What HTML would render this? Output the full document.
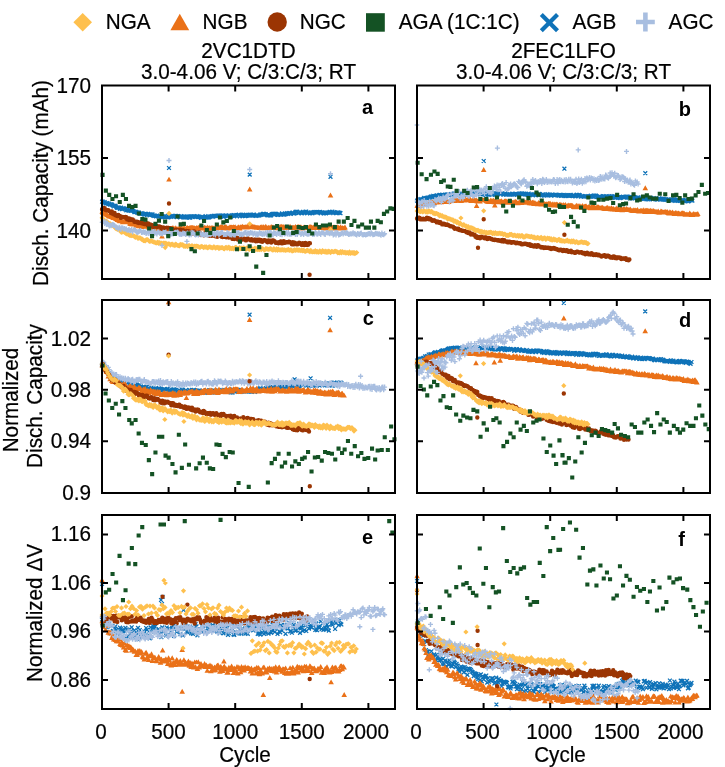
<!DOCTYPE html><html><head><meta charset="utf-8"><style>html,body{margin:0;padding:0;background:#fff;width:725px;height:767px;overflow:hidden;position:relative}</style></head><body><svg width="725" height="767" viewBox="0 0 725 767" style="position:absolute;left:0;top:0"><defs><clipPath id="c00"><rect x="99.5" y="83.0" width="298" height="198.5"/></clipPath><clipPath id="c01"><rect x="414.5" y="83.0" width="298" height="198.5"/></clipPath><clipPath id="c10"><rect x="99.5" y="297.5" width="298" height="198"/></clipPath><clipPath id="c11"><rect x="414.5" y="297.5" width="298" height="198"/></clipPath><clipPath id="c20"><rect x="99.5" y="512.5" width="298" height="199"/></clipPath><clipPath id="c21"><rect x="414.5" y="512.5" width="298" height="199"/></clipPath></defs><rect width="725" height="767" fill="#fff"/><g clip-path="url(#c00)"><path d="M100.1 199.8l3.8 3.8m0 -3.8l-3.8 3.8M101.0 199.8l3.8 3.8m0 -3.8l-3.8 3.8M101.9 201.0l3.8 3.8m0 -3.8l-3.8 3.8M102.8 200.2l3.8 3.8m0 -3.8l-3.8 3.8M103.7 201.4l3.8 3.8m0 -3.8l-3.8 3.8M104.6 201.4l3.8 3.8m0 -3.8l-3.8 3.8M105.5 201.1l3.8 3.8m0 -3.8l-3.8 3.8M106.4 202.2l3.8 3.8m0 -3.8l-3.8 3.8M107.3 201.7l3.8 3.8m0 -3.8l-3.8 3.8M108.2 202.7l3.8 3.8m0 -3.8l-3.8 3.8M109.1 202.4l3.8 3.8m0 -3.8l-3.8 3.8M110.0 202.7l3.8 3.8m0 -3.8l-3.8 3.8M110.9 203.6l3.8 3.8m0 -3.8l-3.8 3.8M111.8 204.6l3.8 3.8m0 -3.8l-3.8 3.8M112.7 203.7l3.8 3.8m0 -3.8l-3.8 3.8M113.6 204.1l3.8 3.8m0 -3.8l-3.8 3.8M114.5 205.2l3.8 3.8m0 -3.8l-3.8 3.8M115.4 206.1l3.8 3.8m0 -3.8l-3.8 3.8M116.3 205.7l3.8 3.8m0 -3.8l-3.8 3.8M117.2 205.7l3.8 3.8m0 -3.8l-3.8 3.8M118.1 207.0l3.8 3.8m0 -3.8l-3.8 3.8M119.0 205.6l3.8 3.8m0 -3.8l-3.8 3.8M119.9 207.3l3.8 3.8m0 -3.8l-3.8 3.8M120.8 206.5l3.8 3.8m0 -3.8l-3.8 3.8M121.7 206.5l3.8 3.8m0 -3.8l-3.8 3.8M122.6 206.7l3.8 3.8m0 -3.8l-3.8 3.8M123.5 207.2l3.8 3.8m0 -3.8l-3.8 3.8M124.4 208.4l3.8 3.8m0 -3.8l-3.8 3.8M125.3 207.5l3.8 3.8m0 -3.8l-3.8 3.8M126.2 208.4l3.8 3.8m0 -3.8l-3.8 3.8M127.1 208.7l3.8 3.8m0 -3.8l-3.8 3.8M128.0 208.5l3.8 3.8m0 -3.8l-3.8 3.8M128.9 209.0l3.8 3.8m0 -3.8l-3.8 3.8M129.8 208.4l3.8 3.8m0 -3.8l-3.8 3.8M130.7 208.6l3.8 3.8m0 -3.8l-3.8 3.8M131.6 209.1l3.8 3.8m0 -3.8l-3.8 3.8M132.5 210.2l3.8 3.8m0 -3.8l-3.8 3.8M133.4 209.9l3.8 3.8m0 -3.8l-3.8 3.8M134.3 210.0l3.8 3.8m0 -3.8l-3.8 3.8M135.2 210.7l3.8 3.8m0 -3.8l-3.8 3.8M136.1 210.7l3.8 3.8m0 -3.8l-3.8 3.8M137.0 210.6l3.8 3.8m0 -3.8l-3.8 3.8M137.9 211.7l3.8 3.8m0 -3.8l-3.8 3.8M138.8 211.8l3.8 3.8m0 -3.8l-3.8 3.8M139.7 211.2l3.8 3.8m0 -3.8l-3.8 3.8M140.6 211.9l3.8 3.8m0 -3.8l-3.8 3.8M141.5 211.9l3.8 3.8m0 -3.8l-3.8 3.8M142.4 212.7l3.8 3.8m0 -3.8l-3.8 3.8M143.3 212.6l3.8 3.8m0 -3.8l-3.8 3.8M144.2 211.9l3.8 3.8m0 -3.8l-3.8 3.8M145.1 213.3l3.8 3.8m0 -3.8l-3.8 3.8M146.0 211.9l3.8 3.8m0 -3.8l-3.8 3.8M146.9 212.6l3.8 3.8m0 -3.8l-3.8 3.8M147.8 213.3l3.8 3.8m0 -3.8l-3.8 3.8M148.7 212.4l3.8 3.8m0 -3.8l-3.8 3.8M149.6 213.1l3.8 3.8m0 -3.8l-3.8 3.8M150.5 212.4l3.8 3.8m0 -3.8l-3.8 3.8M151.4 213.7l3.8 3.8m0 -3.8l-3.8 3.8M152.3 214.0l3.8 3.8m0 -3.8l-3.8 3.8M153.2 213.8l3.8 3.8m0 -3.8l-3.8 3.8M154.1 214.5l3.8 3.8m0 -3.8l-3.8 3.8M155.0 213.6l3.8 3.8m0 -3.8l-3.8 3.8M155.9 214.4l3.8 3.8m0 -3.8l-3.8 3.8M156.8 214.4l3.8 3.8m0 -3.8l-3.8 3.8M157.7 214.5l3.8 3.8m0 -3.8l-3.8 3.8M158.6 214.4l3.8 3.8m0 -3.8l-3.8 3.8M159.5 215.2l3.8 3.8m0 -3.8l-3.8 3.8M160.4 215.5l3.8 3.8m0 -3.8l-3.8 3.8M161.3 214.7l3.8 3.8m0 -3.8l-3.8 3.8M162.2 215.0l3.8 3.8m0 -3.8l-3.8 3.8M163.1 213.9l3.8 3.8m0 -3.8l-3.8 3.8M164.0 215.1l3.8 3.8m0 -3.8l-3.8 3.8M164.9 215.0l3.8 3.8m0 -3.8l-3.8 3.8M165.8 215.6l3.8 3.8m0 -3.8l-3.8 3.8M166.7 215.3l3.8 3.8m0 -3.8l-3.8 3.8M167.6 214.4l3.8 3.8m0 -3.8l-3.8 3.8M168.5 214.6l3.8 3.8m0 -3.8l-3.8 3.8M169.4 215.1l3.8 3.8m0 -3.8l-3.8 3.8M170.3 213.9l3.8 3.8m0 -3.8l-3.8 3.8M171.2 214.7l3.8 3.8m0 -3.8l-3.8 3.8M172.1 214.2l3.8 3.8m0 -3.8l-3.8 3.8M173.0 214.1l3.8 3.8m0 -3.8l-3.8 3.8M173.9 214.0l3.8 3.8m0 -3.8l-3.8 3.8M174.8 215.3l3.8 3.8m0 -3.8l-3.8 3.8M175.7 214.2l3.8 3.8m0 -3.8l-3.8 3.8M176.6 214.4l3.8 3.8m0 -3.8l-3.8 3.8M177.5 214.7l3.8 3.8m0 -3.8l-3.8 3.8M178.4 215.5l3.8 3.8m0 -3.8l-3.8 3.8M179.3 214.1l3.8 3.8m0 -3.8l-3.8 3.8M180.2 214.8l3.8 3.8m0 -3.8l-3.8 3.8M181.1 215.0l3.8 3.8m0 -3.8l-3.8 3.8M182.0 215.6l3.8 3.8m0 -3.8l-3.8 3.8M182.9 215.5l3.8 3.8m0 -3.8l-3.8 3.8M183.8 215.6l3.8 3.8m0 -3.8l-3.8 3.8M184.7 214.5l3.8 3.8m0 -3.8l-3.8 3.8M185.6 214.8l3.8 3.8m0 -3.8l-3.8 3.8M186.5 214.7l3.8 3.8m0 -3.8l-3.8 3.8M187.4 215.7l3.8 3.8m0 -3.8l-3.8 3.8M188.3 215.8l3.8 3.8m0 -3.8l-3.8 3.8M189.2 214.4l3.8 3.8m0 -3.8l-3.8 3.8M190.1 214.4l3.8 3.8m0 -3.8l-3.8 3.8M191.0 214.5l3.8 3.8m0 -3.8l-3.8 3.8M191.9 214.5l3.8 3.8m0 -3.8l-3.8 3.8M192.8 215.0l3.8 3.8m0 -3.8l-3.8 3.8M193.7 215.2l3.8 3.8m0 -3.8l-3.8 3.8M194.6 214.6l3.8 3.8m0 -3.8l-3.8 3.8M195.5 214.1l3.8 3.8m0 -3.8l-3.8 3.8M196.4 214.9l3.8 3.8m0 -3.8l-3.8 3.8M197.3 214.8l3.8 3.8m0 -3.8l-3.8 3.8M198.2 215.2l3.8 3.8m0 -3.8l-3.8 3.8M199.1 215.9l3.8 3.8m0 -3.8l-3.8 3.8M200.0 215.4l3.8 3.8m0 -3.8l-3.8 3.8M200.9 215.1l3.8 3.8m0 -3.8l-3.8 3.8M201.8 215.3l3.8 3.8m0 -3.8l-3.8 3.8M202.7 215.4l3.8 3.8m0 -3.8l-3.8 3.8M203.6 214.2l3.8 3.8m0 -3.8l-3.8 3.8M204.5 215.7l3.8 3.8m0 -3.8l-3.8 3.8M205.4 215.5l3.8 3.8m0 -3.8l-3.8 3.8M206.3 215.6l3.8 3.8m0 -3.8l-3.8 3.8M207.2 215.4l3.8 3.8m0 -3.8l-3.8 3.8M208.1 214.6l3.8 3.8m0 -3.8l-3.8 3.8M209.0 214.6l3.8 3.8m0 -3.8l-3.8 3.8M209.9 214.1l3.8 3.8m0 -3.8l-3.8 3.8M210.8 215.0l3.8 3.8m0 -3.8l-3.8 3.8M211.7 213.9l3.8 3.8m0 -3.8l-3.8 3.8M212.6 213.9l3.8 3.8m0 -3.8l-3.8 3.8M213.5 214.1l3.8 3.8m0 -3.8l-3.8 3.8M214.4 214.0l3.8 3.8m0 -3.8l-3.8 3.8M215.3 214.3l3.8 3.8m0 -3.8l-3.8 3.8M216.2 213.7l3.8 3.8m0 -3.8l-3.8 3.8M217.1 213.6l3.8 3.8m0 -3.8l-3.8 3.8M218.0 213.8l3.8 3.8m0 -3.8l-3.8 3.8M218.9 213.7l3.8 3.8m0 -3.8l-3.8 3.8M219.8 214.1l3.8 3.8m0 -3.8l-3.8 3.8M220.7 213.5l3.8 3.8m0 -3.8l-3.8 3.8M221.6 215.0l3.8 3.8m0 -3.8l-3.8 3.8M222.5 214.5l3.8 3.8m0 -3.8l-3.8 3.8M223.4 213.6l3.8 3.8m0 -3.8l-3.8 3.8M224.3 213.8l3.8 3.8m0 -3.8l-3.8 3.8M225.2 213.9l3.8 3.8m0 -3.8l-3.8 3.8M226.1 213.9l3.8 3.8m0 -3.8l-3.8 3.8M227.0 213.4l3.8 3.8m0 -3.8l-3.8 3.8M227.9 214.7l3.8 3.8m0 -3.8l-3.8 3.8M228.8 214.9l3.8 3.8m0 -3.8l-3.8 3.8M229.7 213.9l3.8 3.8m0 -3.8l-3.8 3.8M230.6 213.9l3.8 3.8m0 -3.8l-3.8 3.8M231.5 213.2l3.8 3.8m0 -3.8l-3.8 3.8M232.4 213.2l3.8 3.8m0 -3.8l-3.8 3.8M233.3 213.6l3.8 3.8m0 -3.8l-3.8 3.8M234.2 213.4l3.8 3.8m0 -3.8l-3.8 3.8M235.1 214.4l3.8 3.8m0 -3.8l-3.8 3.8M236.0 213.1l3.8 3.8m0 -3.8l-3.8 3.8M236.9 212.8l3.8 3.8m0 -3.8l-3.8 3.8M237.8 214.5l3.8 3.8m0 -3.8l-3.8 3.8M238.7 213.7l3.8 3.8m0 -3.8l-3.8 3.8M239.6 213.0l3.8 3.8m0 -3.8l-3.8 3.8M240.5 213.6l3.8 3.8m0 -3.8l-3.8 3.8M241.4 212.7l3.8 3.8m0 -3.8l-3.8 3.8M242.3 213.6l3.8 3.8m0 -3.8l-3.8 3.8M243.2 214.3l3.8 3.8m0 -3.8l-3.8 3.8M244.1 214.1l3.8 3.8m0 -3.8l-3.8 3.8M245.0 213.8l3.8 3.8m0 -3.8l-3.8 3.8M245.9 213.0l3.8 3.8m0 -3.8l-3.8 3.8M246.8 213.1l3.8 3.8m0 -3.8l-3.8 3.8M247.7 212.7l3.8 3.8m0 -3.8l-3.8 3.8M248.6 213.8l3.8 3.8m0 -3.8l-3.8 3.8M249.5 213.3l3.8 3.8m0 -3.8l-3.8 3.8M250.4 213.7l3.8 3.8m0 -3.8l-3.8 3.8M251.3 212.9l3.8 3.8m0 -3.8l-3.8 3.8M252.2 212.7l3.8 3.8m0 -3.8l-3.8 3.8M253.1 213.7l3.8 3.8m0 -3.8l-3.8 3.8M254.0 214.0l3.8 3.8m0 -3.8l-3.8 3.8M254.9 213.7l3.8 3.8m0 -3.8l-3.8 3.8M255.8 213.6l3.8 3.8m0 -3.8l-3.8 3.8M256.7 213.6l3.8 3.8m0 -3.8l-3.8 3.8M257.6 213.4l3.8 3.8m0 -3.8l-3.8 3.8M258.5 212.5l3.8 3.8m0 -3.8l-3.8 3.8M259.4 213.0l3.8 3.8m0 -3.8l-3.8 3.8M260.3 212.6l3.8 3.8m0 -3.8l-3.8 3.8M261.2 212.0l3.8 3.8m0 -3.8l-3.8 3.8M262.1 212.0l3.8 3.8m0 -3.8l-3.8 3.8M263.0 212.4l3.8 3.8m0 -3.8l-3.8 3.8M263.9 212.3l3.8 3.8m0 -3.8l-3.8 3.8M264.8 213.1l3.8 3.8m0 -3.8l-3.8 3.8M265.7 213.5l3.8 3.8m0 -3.8l-3.8 3.8M266.6 212.6l3.8 3.8m0 -3.8l-3.8 3.8M267.5 213.4l3.8 3.8m0 -3.8l-3.8 3.8M268.4 213.5l3.8 3.8m0 -3.8l-3.8 3.8M269.3 213.4l3.8 3.8m0 -3.8l-3.8 3.8M270.2 212.3l3.8 3.8m0 -3.8l-3.8 3.8M271.1 212.0l3.8 3.8m0 -3.8l-3.8 3.8M272.0 212.0l3.8 3.8m0 -3.8l-3.8 3.8M272.9 211.9l3.8 3.8m0 -3.8l-3.8 3.8M273.8 211.9l3.8 3.8m0 -3.8l-3.8 3.8M274.7 212.6l3.8 3.8m0 -3.8l-3.8 3.8M275.6 213.1l3.8 3.8m0 -3.8l-3.8 3.8M276.5 213.0l3.8 3.8m0 -3.8l-3.8 3.8M277.4 212.3l3.8 3.8m0 -3.8l-3.8 3.8M278.3 212.6l3.8 3.8m0 -3.8l-3.8 3.8M279.2 212.8l3.8 3.8m0 -3.8l-3.8 3.8M280.1 211.5l3.8 3.8m0 -3.8l-3.8 3.8M281.0 212.5l3.8 3.8m0 -3.8l-3.8 3.8M281.9 212.8l3.8 3.8m0 -3.8l-3.8 3.8M282.8 212.5l3.8 3.8m0 -3.8l-3.8 3.8M283.7 212.3l3.8 3.8m0 -3.8l-3.8 3.8M284.6 211.7l3.8 3.8m0 -3.8l-3.8 3.8M285.5 211.1l3.8 3.8m0 -3.8l-3.8 3.8M286.4 212.0l3.8 3.8m0 -3.8l-3.8 3.8M287.3 211.1l3.8 3.8m0 -3.8l-3.8 3.8M288.2 211.8l3.8 3.8m0 -3.8l-3.8 3.8M289.1 212.0l3.8 3.8m0 -3.8l-3.8 3.8M290.0 210.9l3.8 3.8m0 -3.8l-3.8 3.8M290.9 210.8l3.8 3.8m0 -3.8l-3.8 3.8M291.8 211.7l3.8 3.8m0 -3.8l-3.8 3.8M292.7 211.2l3.8 3.8m0 -3.8l-3.8 3.8M293.6 210.0l3.8 3.8m0 -3.8l-3.8 3.8M294.5 209.9l3.8 3.8m0 -3.8l-3.8 3.8M295.4 209.9l3.8 3.8m0 -3.8l-3.8 3.8M296.3 211.2l3.8 3.8m0 -3.8l-3.8 3.8M297.2 211.1l3.8 3.8m0 -3.8l-3.8 3.8M298.1 209.9l3.8 3.8m0 -3.8l-3.8 3.8M299.0 211.1l3.8 3.8m0 -3.8l-3.8 3.8M299.9 211.4l3.8 3.8m0 -3.8l-3.8 3.8M300.8 210.8l3.8 3.8m0 -3.8l-3.8 3.8M301.7 210.3l3.8 3.8m0 -3.8l-3.8 3.8M302.6 210.6l3.8 3.8m0 -3.8l-3.8 3.8M303.5 209.9l3.8 3.8m0 -3.8l-3.8 3.8M304.4 209.7l3.8 3.8m0 -3.8l-3.8 3.8M305.3 211.4l3.8 3.8m0 -3.8l-3.8 3.8M306.2 210.8l3.8 3.8m0 -3.8l-3.8 3.8M307.1 210.6l3.8 3.8m0 -3.8l-3.8 3.8M308.0 211.4l3.8 3.8m0 -3.8l-3.8 3.8M308.9 210.5l3.8 3.8m0 -3.8l-3.8 3.8M309.8 211.3l3.8 3.8m0 -3.8l-3.8 3.8M310.7 211.2l3.8 3.8m0 -3.8l-3.8 3.8M311.6 210.1l3.8 3.8m0 -3.8l-3.8 3.8M312.5 210.2l3.8 3.8m0 -3.8l-3.8 3.8M313.4 210.3l3.8 3.8m0 -3.8l-3.8 3.8M314.3 210.2l3.8 3.8m0 -3.8l-3.8 3.8M315.2 210.8l3.8 3.8m0 -3.8l-3.8 3.8M316.1 210.2l3.8 3.8m0 -3.8l-3.8 3.8M317.0 210.5l3.8 3.8m0 -3.8l-3.8 3.8M317.9 210.0l3.8 3.8m0 -3.8l-3.8 3.8M318.8 211.4l3.8 3.8m0 -3.8l-3.8 3.8M319.7 210.4l3.8 3.8m0 -3.8l-3.8 3.8M320.6 210.6l3.8 3.8m0 -3.8l-3.8 3.8M321.5 210.8l3.8 3.8m0 -3.8l-3.8 3.8M322.4 211.4l3.8 3.8m0 -3.8l-3.8 3.8M323.3 210.6l3.8 3.8m0 -3.8l-3.8 3.8M324.2 211.5l3.8 3.8m0 -3.8l-3.8 3.8M325.1 210.7l3.8 3.8m0 -3.8l-3.8 3.8M326.0 210.8l3.8 3.8m0 -3.8l-3.8 3.8M326.9 210.8l3.8 3.8m0 -3.8l-3.8 3.8M327.8 209.9l3.8 3.8m0 -3.8l-3.8 3.8M328.7 210.6l3.8 3.8m0 -3.8l-3.8 3.8M329.6 210.2l3.8 3.8m0 -3.8l-3.8 3.8M330.5 209.8l3.8 3.8m0 -3.8l-3.8 3.8M331.4 211.3l3.8 3.8m0 -3.8l-3.8 3.8M332.3 210.2l3.8 3.8m0 -3.8l-3.8 3.8M333.2 210.7l3.8 3.8m0 -3.8l-3.8 3.8M334.1 211.2l3.8 3.8m0 -3.8l-3.8 3.8M335.0 210.9l3.8 3.8m0 -3.8l-3.8 3.8M335.9 210.5l3.8 3.8m0 -3.8l-3.8 3.8M336.8 210.8l3.8 3.8m0 -3.8l-3.8 3.8M337.7 210.9l3.8 3.8m0 -3.8l-3.8 3.8M338.6 211.3l3.8 3.8m0 -3.8l-3.8 3.8M167.1 166.1l3.8 3.8m0 -3.8l-3.8 3.8M247.8 172.7l3.8 3.8m0 -3.8l-3.8 3.8M328.6 174.9l3.8 3.8m0 -3.8l-3.8 3.8" fill="none" stroke="#0E72B8" stroke-width="1.3"/><path d="M102.0 209.0L104.8 213.9L99.2 213.9ZM102.9 210.2L105.7 215.1L100.1 215.1ZM103.8 210.0L106.6 214.9L101.0 214.9ZM104.7 210.5L107.5 215.4L101.9 215.4ZM105.6 211.8L108.4 216.6L102.8 216.6ZM106.5 211.7L109.3 216.6L103.7 216.6ZM107.4 212.2L110.2 217.1L104.6 217.1ZM108.3 213.0L111.1 217.8L105.5 217.8ZM109.2 213.6L112.0 218.5L106.4 218.5ZM110.1 213.2L112.9 218.1L107.3 218.1ZM111.0 213.9L113.8 218.8L108.2 218.8ZM111.9 214.1L114.7 219.0L109.1 219.0ZM112.8 214.5L115.6 219.4L110.0 219.4ZM113.7 215.2L116.5 220.1L110.9 220.1ZM114.6 215.2L117.4 220.1L111.8 220.1ZM115.5 215.8L118.3 220.6L112.7 220.6ZM116.4 216.1L119.2 220.9L113.6 220.9ZM117.3 217.3L120.1 222.1L114.5 222.1ZM118.2 217.2L121.0 222.1L115.4 222.1ZM119.1 218.0L121.9 222.8L116.3 222.8ZM120.0 218.5L122.8 223.3L117.2 223.3ZM120.9 217.6L123.7 222.5L118.1 222.5ZM121.8 218.4L124.6 223.2L119.0 223.2ZM122.7 219.3L125.5 224.2L119.9 224.2ZM123.6 219.3L126.4 224.2L120.8 224.2ZM124.5 218.3L127.3 223.2L121.7 223.2ZM125.4 218.5L128.2 223.4L122.6 223.4ZM126.3 219.3L129.1 224.2L123.5 224.2ZM127.2 218.9L130.0 223.7L124.4 223.7ZM128.1 219.4L130.9 224.3L125.3 224.3ZM129.0 219.3L131.8 224.2L126.2 224.2ZM129.9 220.6L132.7 225.5L127.1 225.5ZM130.8 221.0L133.6 225.9L128.0 225.9ZM131.7 221.5L134.5 226.3L128.9 226.3ZM132.6 220.4L135.4 225.2L129.8 225.2ZM133.5 221.6L136.3 226.5L130.7 226.5ZM134.4 221.7L137.2 226.6L131.6 226.6ZM135.3 221.0L138.1 225.9L132.5 225.9ZM136.2 222.6L139.0 227.4L133.4 227.4ZM137.1 223.0L139.9 227.8L134.3 227.8ZM138.0 221.8L140.8 226.7L135.2 226.7ZM138.9 223.4L141.7 228.2L136.1 228.2ZM139.8 222.6L142.6 227.5L137.0 227.5ZM140.7 223.0L143.5 227.9L137.9 227.9ZM141.6 224.1L144.4 229.0L138.8 229.0ZM142.5 224.0L145.3 228.8L139.7 228.8ZM143.4 222.9L146.2 227.8L140.6 227.8ZM144.3 223.5L147.1 228.4L141.5 228.4ZM145.2 223.8L148.0 228.7L142.4 228.7ZM146.1 223.6L148.9 228.5L143.3 228.5ZM147.0 223.5L149.8 228.4L144.2 228.4ZM147.9 223.9L150.7 228.7L145.1 228.7ZM148.8 224.7L151.6 229.6L146.0 229.6ZM149.7 223.6L152.5 228.4L146.9 228.4ZM150.6 224.7L153.4 229.5L147.8 229.5ZM151.5 224.6L154.3 229.5L148.7 229.5ZM152.4 224.0L155.2 228.8L149.6 228.8ZM153.3 224.7L156.1 229.5L150.5 229.5ZM154.2 225.3L157.0 230.2L151.4 230.2ZM155.1 225.3L157.9 230.1L152.3 230.1ZM156.0 224.6L158.8 229.5L153.2 229.5ZM156.9 226.4L159.7 231.3L154.1 231.3ZM157.8 226.2L160.6 231.0L155.0 231.0ZM158.7 226.7L161.5 231.5L155.9 231.5ZM159.6 225.2L162.4 230.1L156.8 230.1ZM160.5 225.7L163.3 230.5L157.7 230.5ZM161.4 225.4L164.2 230.2L158.6 230.2ZM162.3 226.8L165.1 231.7L159.5 231.7ZM163.2 225.9L166.0 230.7L160.4 230.7ZM164.1 225.6L166.9 230.4L161.3 230.4ZM165.0 226.1L167.8 230.9L162.2 230.9ZM165.9 226.9L168.7 231.8L163.1 231.8ZM166.8 226.8L169.6 231.6L164.0 231.6ZM167.7 225.7L170.5 230.6L164.9 230.6ZM168.6 225.5L171.4 230.4L165.8 230.4ZM169.5 226.9L172.3 231.7L166.7 231.7ZM170.4 226.2L173.2 231.1L167.6 231.1ZM171.3 226.4L174.1 231.3L168.5 231.3ZM172.2 225.3L175.0 230.2L169.4 230.2ZM173.1 225.2L175.9 230.1L170.3 230.1ZM174.0 226.3L176.8 231.2L171.2 231.2ZM174.9 225.9L177.7 230.7L172.1 230.7ZM175.8 225.2L178.6 230.1L173.0 230.1ZM176.7 226.7L179.5 231.6L173.9 231.6ZM177.6 226.2L180.4 231.0L174.8 231.0ZM178.5 226.4L181.3 231.3L175.7 231.3ZM179.4 225.1L182.2 230.0L176.6 230.0ZM180.3 226.5L183.1 231.4L177.5 231.4ZM181.2 225.1L184.0 229.9L178.4 229.9ZM182.1 226.5L184.9 231.3L179.3 231.3ZM183.0 225.7L185.8 230.6L180.2 230.6ZM183.9 225.5L186.7 230.3L181.1 230.3ZM184.8 225.8L187.6 230.7L182.0 230.7ZM185.7 226.5L188.5 231.4L182.9 231.4ZM186.6 225.3L189.4 230.1L183.8 230.1ZM187.5 225.0L190.3 229.9L184.7 229.9ZM188.4 225.7L191.2 230.6L185.6 230.6ZM189.3 225.2L192.1 230.0L186.5 230.0ZM190.2 224.9L193.0 229.8L187.4 229.8ZM191.1 225.0L193.9 229.8L188.3 229.8ZM192.0 224.8L194.8 229.6L189.2 229.6ZM192.9 225.0L195.7 229.9L190.1 229.9ZM193.8 225.2L196.6 230.1L191.0 230.1ZM194.7 225.2L197.5 230.0L191.9 230.0ZM195.6 226.0L198.4 230.8L192.8 230.8ZM196.5 225.1L199.3 230.0L193.7 230.0ZM197.4 225.4L200.2 230.3L194.6 230.3ZM198.3 224.8L201.1 229.7L195.5 229.7ZM199.2 225.1L202.0 230.0L196.4 230.0ZM200.1 224.5L202.9 229.4L197.3 229.4ZM201.0 224.9L203.8 229.8L198.2 229.8ZM201.9 224.5L204.7 229.3L199.1 229.3ZM202.8 225.7L205.6 230.6L200.0 230.6ZM203.7 225.4L206.5 230.2L200.9 230.2ZM204.6 224.7L207.4 229.6L201.8 229.6ZM205.5 225.2L208.3 230.1L202.7 230.1ZM206.4 226.0L209.2 230.9L203.6 230.9ZM207.3 224.5L210.1 229.4L204.5 229.4ZM208.2 225.8L211.0 230.7L205.4 230.7ZM209.1 225.1L211.9 229.9L206.3 229.9ZM210.0 225.2L212.8 230.0L207.2 230.0ZM210.9 225.8L213.7 230.6L208.1 230.6ZM211.8 225.0L214.6 229.8L209.0 229.8ZM212.7 225.2L215.5 230.0L209.9 230.0ZM213.6 225.5L216.4 230.3L210.8 230.3ZM214.5 226.0L217.3 230.8L211.7 230.8ZM215.4 224.8L218.2 229.7L212.6 229.7ZM216.3 225.7L219.1 230.5L213.5 230.5ZM217.2 225.4L220.0 230.3L214.4 230.3ZM218.1 225.3L220.9 230.2L215.3 230.2ZM219.0 224.9L221.8 229.7L216.2 229.7ZM219.9 224.7L222.7 229.6L217.1 229.6ZM220.8 224.2L223.6 229.1L218.0 229.1ZM221.7 224.3L224.5 229.2L218.9 229.2ZM222.6 224.2L225.4 229.1L219.8 229.1ZM223.5 225.4L226.3 230.2L220.7 230.2ZM224.4 224.5L227.2 229.4L221.6 229.4ZM225.3 224.3L228.1 229.2L222.5 229.2ZM226.2 224.2L229.0 229.0L223.4 229.0ZM227.1 225.5L229.9 230.4L224.3 230.4ZM228.0 225.5L230.8 230.4L225.2 230.4ZM228.9 225.2L231.7 230.0L226.1 230.0ZM229.8 224.5L232.6 229.3L227.0 229.3ZM230.7 224.4L233.5 229.2L227.9 229.2ZM231.6 224.4L234.4 229.3L228.8 229.3ZM232.5 224.7L235.3 229.6L229.7 229.6ZM233.4 224.2L236.2 229.0L230.6 229.0ZM234.3 224.7L237.1 229.5L231.5 229.5ZM235.2 224.3L238.0 229.2L232.4 229.2ZM236.1 225.6L238.9 230.4L233.3 230.4ZM237.0 225.6L239.8 230.4L234.2 230.4ZM237.9 224.8L240.7 229.7L235.1 229.7ZM238.8 224.2L241.6 229.1L236.0 229.1ZM239.7 225.5L242.5 230.4L236.9 230.4ZM240.6 224.3L243.4 229.2L237.8 229.2ZM241.5 224.4L244.3 229.2L238.7 229.2ZM242.4 223.7L245.2 228.6L239.6 228.6ZM243.3 224.4L246.1 229.3L240.5 229.3ZM244.2 224.6L247.0 229.4L241.4 229.4ZM245.1 224.6L247.9 229.4L242.3 229.4ZM246.0 224.0L248.8 228.9L243.2 228.9ZM246.9 224.6L249.7 229.4L244.1 229.4ZM247.8 223.6L250.6 228.5L245.0 228.5ZM248.7 224.1L251.5 229.0L245.9 229.0ZM249.6 223.8L252.4 228.6L246.8 228.6ZM250.5 224.3L253.3 229.2L247.7 229.2ZM251.4 223.7L254.2 228.5L248.6 228.5ZM252.3 223.7L255.1 228.5L249.5 228.5ZM253.2 224.2L256.0 229.0L250.4 229.0ZM254.1 224.0L256.9 228.9L251.3 228.9ZM255.0 224.7L257.8 229.5L252.2 229.5ZM255.9 224.6L258.7 229.4L253.1 229.4ZM256.8 225.0L259.6 229.8L254.0 229.8ZM257.7 224.8L260.5 229.7L254.9 229.7ZM258.6 224.9L261.4 229.8L255.8 229.8ZM259.5 225.2L262.3 230.1L256.7 230.1ZM260.4 224.4L263.2 229.2L257.6 229.2ZM261.3 224.2L264.1 229.1L258.5 229.1ZM262.2 225.4L265.0 230.3L259.4 230.3ZM263.1 223.9L265.9 228.8L260.3 228.8ZM264.0 225.0L266.8 229.8L261.2 229.8ZM264.9 224.8L267.7 229.7L262.1 229.7ZM265.8 223.8L268.6 228.6L263.0 228.6ZM266.7 225.2L269.5 230.1L263.9 230.1ZM267.6 225.3L270.4 230.2L264.8 230.2ZM268.5 224.8L271.3 229.7L265.7 229.7ZM269.4 225.0L272.2 229.9L266.6 229.9ZM270.3 225.2L273.1 230.0L267.5 230.0ZM271.2 224.0L274.0 228.8L268.4 228.8ZM272.1 224.7L274.9 229.5L269.3 229.5ZM273.0 224.6L275.8 229.5L270.2 229.5ZM273.9 225.2L276.7 230.1L271.1 230.1ZM274.8 225.2L277.6 230.0L272.0 230.0ZM275.7 225.2L278.5 230.1L272.9 230.1ZM276.6 224.8L279.4 229.7L273.8 229.7ZM277.5 225.4L280.3 230.2L274.7 230.2ZM278.4 225.0L281.2 229.8L275.6 229.8ZM279.3 225.0L282.1 229.9L276.5 229.9ZM280.2 224.2L283.0 229.0L277.4 229.0ZM281.1 223.8L283.9 228.7L278.3 228.7ZM282.0 224.0L284.8 228.9L279.2 228.9ZM282.9 224.4L285.7 229.3L280.1 229.3ZM283.8 224.0L286.6 228.8L281.0 228.8ZM284.7 225.3L287.5 230.1L281.9 230.1ZM285.6 224.8L288.4 229.7L282.8 229.7ZM286.5 224.9L289.3 229.8L283.7 229.8ZM287.4 224.9L290.2 229.8L284.6 229.8ZM288.3 225.0L291.1 229.9L285.5 229.9ZM289.2 224.7L292.0 229.5L286.4 229.5ZM290.1 223.8L292.9 228.7L287.3 228.7ZM291.0 225.3L293.8 230.1L288.2 230.1ZM291.9 225.2L294.7 230.0L289.1 230.0ZM292.8 224.7L295.6 229.6L290.0 229.6ZM293.7 224.8L296.5 229.7L290.9 229.7ZM294.6 225.0L297.4 229.9L291.8 229.9ZM295.5 224.0L298.3 228.8L292.7 228.8ZM296.4 225.2L299.2 230.0L293.6 230.0ZM297.3 224.3L300.1 229.2L294.5 229.2ZM298.2 224.0L301.0 228.8L295.4 228.8ZM299.1 224.3L301.9 229.2L296.3 229.2ZM300.0 225.2L302.8 230.0L297.2 230.0ZM300.9 224.2L303.7 229.1L298.1 229.1ZM301.8 225.2L304.6 230.1L299.0 230.1ZM302.7 225.6L305.5 230.5L299.9 230.5ZM303.6 224.8L306.4 229.6L300.8 229.6ZM304.5 224.6L307.3 229.4L301.7 229.4ZM305.4 224.8L308.2 229.6L302.6 229.6ZM306.3 225.1L309.1 230.0L303.5 230.0ZM307.2 225.3L310.0 230.1L304.4 230.1ZM308.1 225.0L310.9 229.9L305.3 229.9ZM309.0 225.1L311.8 229.9L306.2 229.9ZM309.9 224.1L312.7 228.9L307.1 228.9ZM310.8 224.2L313.6 229.0L308.0 229.0ZM311.7 224.4L314.5 229.2L308.9 229.2ZM312.6 225.3L315.4 230.1L309.8 230.1ZM313.5 224.5L316.3 229.3L310.7 229.3ZM314.4 225.0L317.2 229.8L311.6 229.8ZM315.3 224.0L318.1 228.8L312.5 228.8ZM316.2 224.1L319.0 228.9L313.4 228.9ZM317.1 224.4L319.9 229.3L314.3 229.3ZM318.0 225.2L320.8 230.0L315.2 230.0ZM318.9 225.2L321.7 230.1L316.1 230.1ZM319.8 225.2L322.6 230.0L317.0 230.0ZM320.7 224.5L323.5 229.4L317.9 229.4ZM321.6 224.9L324.4 229.8L318.8 229.8ZM322.5 224.8L325.3 229.7L319.7 229.7ZM323.4 224.8L326.2 229.7L320.6 229.7ZM324.3 224.2L327.1 229.1L321.5 229.1ZM325.2 225.6L328.0 230.5L322.4 230.5ZM326.1 224.4L328.9 229.2L323.3 229.2ZM327.0 225.8L329.8 230.6L324.2 230.6ZM327.9 225.7L330.7 230.6L325.1 230.6ZM328.8 224.0L331.6 228.9L326.0 228.9ZM329.7 224.8L332.5 229.7L326.9 229.7ZM330.6 225.5L333.4 230.4L327.8 230.4ZM331.5 225.8L334.3 230.6L328.7 230.6ZM332.4 224.8L335.2 229.7L329.6 229.7ZM333.3 224.5L336.1 229.4L330.5 229.4ZM334.2 224.4L337.0 229.3L331.4 229.3ZM335.1 225.7L337.9 230.6L332.3 230.6ZM336.0 224.4L338.8 229.3L333.2 229.3ZM336.9 225.1L339.7 230.0L334.1 230.0ZM337.8 224.3L340.6 229.2L335.0 229.2ZM338.7 225.0L341.5 229.9L335.9 229.9ZM339.6 225.8L342.4 230.6L336.8 230.6ZM340.5 224.3L343.3 229.2L337.7 229.2ZM341.4 225.6L344.2 230.4L338.6 230.4ZM342.3 225.0L345.1 229.9L339.5 229.9ZM343.2 225.7L346.0 230.5L340.4 230.5ZM344.1 225.4L346.9 230.2L341.3 230.2ZM345.0 224.5L347.8 229.4L342.2 229.4ZM169.0 176.7L171.8 181.6L166.2 181.6ZM249.7 186.5L252.5 191.4L246.9 191.4ZM330.5 192.5L333.3 197.4L327.7 197.4ZM162.0 233.5L164.8 238.4L159.2 238.4Z" fill="#EA7118"/><path d="M99.8 209.3a2.2 2.2 0 1 0 4.4 0a2.2 2.2 0 1 0 -4.4 0M100.7 208.7a2.2 2.2 0 1 0 4.4 0a2.2 2.2 0 1 0 -4.4 0M101.6 208.0a2.2 2.2 0 1 0 4.4 0a2.2 2.2 0 1 0 -4.4 0M102.5 208.3a2.2 2.2 0 1 0 4.4 0a2.2 2.2 0 1 0 -4.4 0M103.4 209.9a2.2 2.2 0 1 0 4.4 0a2.2 2.2 0 1 0 -4.4 0M104.3 210.2a2.2 2.2 0 1 0 4.4 0a2.2 2.2 0 1 0 -4.4 0M105.2 210.2a2.2 2.2 0 1 0 4.4 0a2.2 2.2 0 1 0 -4.4 0M106.1 210.2a2.2 2.2 0 1 0 4.4 0a2.2 2.2 0 1 0 -4.4 0M107.0 211.1a2.2 2.2 0 1 0 4.4 0a2.2 2.2 0 1 0 -4.4 0M107.9 211.5a2.2 2.2 0 1 0 4.4 0a2.2 2.2 0 1 0 -4.4 0M108.8 213.1a2.2 2.2 0 1 0 4.4 0a2.2 2.2 0 1 0 -4.4 0M109.7 211.5a2.2 2.2 0 1 0 4.4 0a2.2 2.2 0 1 0 -4.4 0M110.6 213.7a2.2 2.2 0 1 0 4.4 0a2.2 2.2 0 1 0 -4.4 0M111.5 214.3a2.2 2.2 0 1 0 4.4 0a2.2 2.2 0 1 0 -4.4 0M112.4 213.0a2.2 2.2 0 1 0 4.4 0a2.2 2.2 0 1 0 -4.4 0M113.3 215.3a2.2 2.2 0 1 0 4.4 0a2.2 2.2 0 1 0 -4.4 0M114.2 215.2a2.2 2.2 0 1 0 4.4 0a2.2 2.2 0 1 0 -4.4 0M115.1 216.1a2.2 2.2 0 1 0 4.4 0a2.2 2.2 0 1 0 -4.4 0M116.0 215.0a2.2 2.2 0 1 0 4.4 0a2.2 2.2 0 1 0 -4.4 0M116.9 215.6a2.2 2.2 0 1 0 4.4 0a2.2 2.2 0 1 0 -4.4 0M117.8 216.0a2.2 2.2 0 1 0 4.4 0a2.2 2.2 0 1 0 -4.4 0M118.7 217.9a2.2 2.2 0 1 0 4.4 0a2.2 2.2 0 1 0 -4.4 0M119.6 217.1a2.2 2.2 0 1 0 4.4 0a2.2 2.2 0 1 0 -4.4 0M120.5 216.9a2.2 2.2 0 1 0 4.4 0a2.2 2.2 0 1 0 -4.4 0M121.4 217.3a2.2 2.2 0 1 0 4.4 0a2.2 2.2 0 1 0 -4.4 0M122.3 217.2a2.2 2.2 0 1 0 4.4 0a2.2 2.2 0 1 0 -4.4 0M123.2 216.9a2.2 2.2 0 1 0 4.4 0a2.2 2.2 0 1 0 -4.4 0M124.1 217.3a2.2 2.2 0 1 0 4.4 0a2.2 2.2 0 1 0 -4.4 0M125.0 219.4a2.2 2.2 0 1 0 4.4 0a2.2 2.2 0 1 0 -4.4 0M125.9 218.3a2.2 2.2 0 1 0 4.4 0a2.2 2.2 0 1 0 -4.4 0M126.8 220.1a2.2 2.2 0 1 0 4.4 0a2.2 2.2 0 1 0 -4.4 0M127.7 218.8a2.2 2.2 0 1 0 4.4 0a2.2 2.2 0 1 0 -4.4 0M128.6 219.1a2.2 2.2 0 1 0 4.4 0a2.2 2.2 0 1 0 -4.4 0M129.5 219.9a2.2 2.2 0 1 0 4.4 0a2.2 2.2 0 1 0 -4.4 0M130.4 219.4a2.2 2.2 0 1 0 4.4 0a2.2 2.2 0 1 0 -4.4 0M131.3 220.1a2.2 2.2 0 1 0 4.4 0a2.2 2.2 0 1 0 -4.4 0M132.2 221.8a2.2 2.2 0 1 0 4.4 0a2.2 2.2 0 1 0 -4.4 0M133.1 221.9a2.2 2.2 0 1 0 4.4 0a2.2 2.2 0 1 0 -4.4 0M134.0 222.0a2.2 2.2 0 1 0 4.4 0a2.2 2.2 0 1 0 -4.4 0M134.9 221.8a2.2 2.2 0 1 0 4.4 0a2.2 2.2 0 1 0 -4.4 0M135.8 222.8a2.2 2.2 0 1 0 4.4 0a2.2 2.2 0 1 0 -4.4 0M136.7 223.1a2.2 2.2 0 1 0 4.4 0a2.2 2.2 0 1 0 -4.4 0M137.6 222.4a2.2 2.2 0 1 0 4.4 0a2.2 2.2 0 1 0 -4.4 0M138.5 223.1a2.2 2.2 0 1 0 4.4 0a2.2 2.2 0 1 0 -4.4 0M139.4 221.8a2.2 2.2 0 1 0 4.4 0a2.2 2.2 0 1 0 -4.4 0M140.3 223.6a2.2 2.2 0 1 0 4.4 0a2.2 2.2 0 1 0 -4.4 0M141.2 223.2a2.2 2.2 0 1 0 4.4 0a2.2 2.2 0 1 0 -4.4 0M142.1 224.1a2.2 2.2 0 1 0 4.4 0a2.2 2.2 0 1 0 -4.4 0M143.0 224.1a2.2 2.2 0 1 0 4.4 0a2.2 2.2 0 1 0 -4.4 0M143.9 223.5a2.2 2.2 0 1 0 4.4 0a2.2 2.2 0 1 0 -4.4 0M144.8 223.1a2.2 2.2 0 1 0 4.4 0a2.2 2.2 0 1 0 -4.4 0M145.7 225.5a2.2 2.2 0 1 0 4.4 0a2.2 2.2 0 1 0 -4.4 0M146.6 223.8a2.2 2.2 0 1 0 4.4 0a2.2 2.2 0 1 0 -4.4 0M147.5 224.8a2.2 2.2 0 1 0 4.4 0a2.2 2.2 0 1 0 -4.4 0M148.4 224.7a2.2 2.2 0 1 0 4.4 0a2.2 2.2 0 1 0 -4.4 0M149.3 224.9a2.2 2.2 0 1 0 4.4 0a2.2 2.2 0 1 0 -4.4 0M150.2 226.2a2.2 2.2 0 1 0 4.4 0a2.2 2.2 0 1 0 -4.4 0M151.1 226.9a2.2 2.2 0 1 0 4.4 0a2.2 2.2 0 1 0 -4.4 0M152.0 225.5a2.2 2.2 0 1 0 4.4 0a2.2 2.2 0 1 0 -4.4 0M152.9 226.6a2.2 2.2 0 1 0 4.4 0a2.2 2.2 0 1 0 -4.4 0M153.8 226.0a2.2 2.2 0 1 0 4.4 0a2.2 2.2 0 1 0 -4.4 0M154.7 226.9a2.2 2.2 0 1 0 4.4 0a2.2 2.2 0 1 0 -4.4 0M155.6 226.7a2.2 2.2 0 1 0 4.4 0a2.2 2.2 0 1 0 -4.4 0M156.5 226.4a2.2 2.2 0 1 0 4.4 0a2.2 2.2 0 1 0 -4.4 0M157.4 226.6a2.2 2.2 0 1 0 4.4 0a2.2 2.2 0 1 0 -4.4 0M158.3 226.9a2.2 2.2 0 1 0 4.4 0a2.2 2.2 0 1 0 -4.4 0M159.2 228.8a2.2 2.2 0 1 0 4.4 0a2.2 2.2 0 1 0 -4.4 0M160.1 228.0a2.2 2.2 0 1 0 4.4 0a2.2 2.2 0 1 0 -4.4 0M161.0 227.5a2.2 2.2 0 1 0 4.4 0a2.2 2.2 0 1 0 -4.4 0M161.9 229.3a2.2 2.2 0 1 0 4.4 0a2.2 2.2 0 1 0 -4.4 0M162.8 229.6a2.2 2.2 0 1 0 4.4 0a2.2 2.2 0 1 0 -4.4 0M163.7 228.4a2.2 2.2 0 1 0 4.4 0a2.2 2.2 0 1 0 -4.4 0M164.6 227.8a2.2 2.2 0 1 0 4.4 0a2.2 2.2 0 1 0 -4.4 0M165.5 228.1a2.2 2.2 0 1 0 4.4 0a2.2 2.2 0 1 0 -4.4 0M166.4 228.0a2.2 2.2 0 1 0 4.4 0a2.2 2.2 0 1 0 -4.4 0M167.3 228.7a2.2 2.2 0 1 0 4.4 0a2.2 2.2 0 1 0 -4.4 0M168.2 228.2a2.2 2.2 0 1 0 4.4 0a2.2 2.2 0 1 0 -4.4 0M169.1 228.7a2.2 2.2 0 1 0 4.4 0a2.2 2.2 0 1 0 -4.4 0M170.0 228.9a2.2 2.2 0 1 0 4.4 0a2.2 2.2 0 1 0 -4.4 0M170.9 229.8a2.2 2.2 0 1 0 4.4 0a2.2 2.2 0 1 0 -4.4 0M171.8 230.7a2.2 2.2 0 1 0 4.4 0a2.2 2.2 0 1 0 -4.4 0M172.7 230.5a2.2 2.2 0 1 0 4.4 0a2.2 2.2 0 1 0 -4.4 0M173.6 229.8a2.2 2.2 0 1 0 4.4 0a2.2 2.2 0 1 0 -4.4 0M174.5 229.9a2.2 2.2 0 1 0 4.4 0a2.2 2.2 0 1 0 -4.4 0M175.4 230.3a2.2 2.2 0 1 0 4.4 0a2.2 2.2 0 1 0 -4.4 0M176.3 230.1a2.2 2.2 0 1 0 4.4 0a2.2 2.2 0 1 0 -4.4 0M177.2 230.1a2.2 2.2 0 1 0 4.4 0a2.2 2.2 0 1 0 -4.4 0M178.1 229.6a2.2 2.2 0 1 0 4.4 0a2.2 2.2 0 1 0 -4.4 0M179.0 230.2a2.2 2.2 0 1 0 4.4 0a2.2 2.2 0 1 0 -4.4 0M179.9 232.0a2.2 2.2 0 1 0 4.4 0a2.2 2.2 0 1 0 -4.4 0M180.8 230.1a2.2 2.2 0 1 0 4.4 0a2.2 2.2 0 1 0 -4.4 0M181.7 231.2a2.2 2.2 0 1 0 4.4 0a2.2 2.2 0 1 0 -4.4 0M182.6 231.6a2.2 2.2 0 1 0 4.4 0a2.2 2.2 0 1 0 -4.4 0M183.5 232.3a2.2 2.2 0 1 0 4.4 0a2.2 2.2 0 1 0 -4.4 0M184.4 230.9a2.2 2.2 0 1 0 4.4 0a2.2 2.2 0 1 0 -4.4 0M185.3 231.1a2.2 2.2 0 1 0 4.4 0a2.2 2.2 0 1 0 -4.4 0M186.2 231.2a2.2 2.2 0 1 0 4.4 0a2.2 2.2 0 1 0 -4.4 0M187.1 231.7a2.2 2.2 0 1 0 4.4 0a2.2 2.2 0 1 0 -4.4 0M188.0 231.9a2.2 2.2 0 1 0 4.4 0a2.2 2.2 0 1 0 -4.4 0M188.9 233.3a2.2 2.2 0 1 0 4.4 0a2.2 2.2 0 1 0 -4.4 0M189.8 233.2a2.2 2.2 0 1 0 4.4 0a2.2 2.2 0 1 0 -4.4 0M190.7 233.4a2.2 2.2 0 1 0 4.4 0a2.2 2.2 0 1 0 -4.4 0M191.6 231.4a2.2 2.2 0 1 0 4.4 0a2.2 2.2 0 1 0 -4.4 0M192.5 231.6a2.2 2.2 0 1 0 4.4 0a2.2 2.2 0 1 0 -4.4 0M193.4 233.4a2.2 2.2 0 1 0 4.4 0a2.2 2.2 0 1 0 -4.4 0M194.3 233.9a2.2 2.2 0 1 0 4.4 0a2.2 2.2 0 1 0 -4.4 0M195.2 233.1a2.2 2.2 0 1 0 4.4 0a2.2 2.2 0 1 0 -4.4 0M196.1 233.5a2.2 2.2 0 1 0 4.4 0a2.2 2.2 0 1 0 -4.4 0M197.0 232.2a2.2 2.2 0 1 0 4.4 0a2.2 2.2 0 1 0 -4.4 0M197.9 233.2a2.2 2.2 0 1 0 4.4 0a2.2 2.2 0 1 0 -4.4 0M198.8 234.7a2.2 2.2 0 1 0 4.4 0a2.2 2.2 0 1 0 -4.4 0M199.7 234.6a2.2 2.2 0 1 0 4.4 0a2.2 2.2 0 1 0 -4.4 0M200.6 234.8a2.2 2.2 0 1 0 4.4 0a2.2 2.2 0 1 0 -4.4 0M201.5 235.2a2.2 2.2 0 1 0 4.4 0a2.2 2.2 0 1 0 -4.4 0M202.4 233.5a2.2 2.2 0 1 0 4.4 0a2.2 2.2 0 1 0 -4.4 0M203.3 233.3a2.2 2.2 0 1 0 4.4 0a2.2 2.2 0 1 0 -4.4 0M204.2 233.6a2.2 2.2 0 1 0 4.4 0a2.2 2.2 0 1 0 -4.4 0M205.1 234.6a2.2 2.2 0 1 0 4.4 0a2.2 2.2 0 1 0 -4.4 0M206.0 235.1a2.2 2.2 0 1 0 4.4 0a2.2 2.2 0 1 0 -4.4 0M206.9 235.8a2.2 2.2 0 1 0 4.4 0a2.2 2.2 0 1 0 -4.4 0M207.8 235.4a2.2 2.2 0 1 0 4.4 0a2.2 2.2 0 1 0 -4.4 0M208.7 235.3a2.2 2.2 0 1 0 4.4 0a2.2 2.2 0 1 0 -4.4 0M209.6 235.7a2.2 2.2 0 1 0 4.4 0a2.2 2.2 0 1 0 -4.4 0M210.5 235.1a2.2 2.2 0 1 0 4.4 0a2.2 2.2 0 1 0 -4.4 0M211.4 235.5a2.2 2.2 0 1 0 4.4 0a2.2 2.2 0 1 0 -4.4 0M212.3 234.3a2.2 2.2 0 1 0 4.4 0a2.2 2.2 0 1 0 -4.4 0M213.2 236.2a2.2 2.2 0 1 0 4.4 0a2.2 2.2 0 1 0 -4.4 0M214.1 235.0a2.2 2.2 0 1 0 4.4 0a2.2 2.2 0 1 0 -4.4 0M215.0 236.8a2.2 2.2 0 1 0 4.4 0a2.2 2.2 0 1 0 -4.4 0M215.9 236.3a2.2 2.2 0 1 0 4.4 0a2.2 2.2 0 1 0 -4.4 0M216.8 235.6a2.2 2.2 0 1 0 4.4 0a2.2 2.2 0 1 0 -4.4 0M217.7 235.3a2.2 2.2 0 1 0 4.4 0a2.2 2.2 0 1 0 -4.4 0M218.6 235.7a2.2 2.2 0 1 0 4.4 0a2.2 2.2 0 1 0 -4.4 0M219.5 236.7a2.2 2.2 0 1 0 4.4 0a2.2 2.2 0 1 0 -4.4 0M220.4 237.0a2.2 2.2 0 1 0 4.4 0a2.2 2.2 0 1 0 -4.4 0M221.3 235.7a2.2 2.2 0 1 0 4.4 0a2.2 2.2 0 1 0 -4.4 0M222.2 235.7a2.2 2.2 0 1 0 4.4 0a2.2 2.2 0 1 0 -4.4 0M223.1 236.9a2.2 2.2 0 1 0 4.4 0a2.2 2.2 0 1 0 -4.4 0M224.0 237.2a2.2 2.2 0 1 0 4.4 0a2.2 2.2 0 1 0 -4.4 0M224.9 236.8a2.2 2.2 0 1 0 4.4 0a2.2 2.2 0 1 0 -4.4 0M225.8 236.6a2.2 2.2 0 1 0 4.4 0a2.2 2.2 0 1 0 -4.4 0M226.7 237.6a2.2 2.2 0 1 0 4.4 0a2.2 2.2 0 1 0 -4.4 0M227.6 236.3a2.2 2.2 0 1 0 4.4 0a2.2 2.2 0 1 0 -4.4 0M228.5 237.1a2.2 2.2 0 1 0 4.4 0a2.2 2.2 0 1 0 -4.4 0M229.4 237.6a2.2 2.2 0 1 0 4.4 0a2.2 2.2 0 1 0 -4.4 0M230.3 238.9a2.2 2.2 0 1 0 4.4 0a2.2 2.2 0 1 0 -4.4 0M231.2 238.3a2.2 2.2 0 1 0 4.4 0a2.2 2.2 0 1 0 -4.4 0M232.1 239.0a2.2 2.2 0 1 0 4.4 0a2.2 2.2 0 1 0 -4.4 0M233.0 238.1a2.2 2.2 0 1 0 4.4 0a2.2 2.2 0 1 0 -4.4 0M233.9 237.7a2.2 2.2 0 1 0 4.4 0a2.2 2.2 0 1 0 -4.4 0M234.8 237.8a2.2 2.2 0 1 0 4.4 0a2.2 2.2 0 1 0 -4.4 0M235.7 239.6a2.2 2.2 0 1 0 4.4 0a2.2 2.2 0 1 0 -4.4 0M236.6 239.1a2.2 2.2 0 1 0 4.4 0a2.2 2.2 0 1 0 -4.4 0M237.5 238.3a2.2 2.2 0 1 0 4.4 0a2.2 2.2 0 1 0 -4.4 0M238.4 237.7a2.2 2.2 0 1 0 4.4 0a2.2 2.2 0 1 0 -4.4 0M239.3 239.0a2.2 2.2 0 1 0 4.4 0a2.2 2.2 0 1 0 -4.4 0M240.2 239.5a2.2 2.2 0 1 0 4.4 0a2.2 2.2 0 1 0 -4.4 0M241.1 239.0a2.2 2.2 0 1 0 4.4 0a2.2 2.2 0 1 0 -4.4 0M242.0 238.6a2.2 2.2 0 1 0 4.4 0a2.2 2.2 0 1 0 -4.4 0M242.9 239.7a2.2 2.2 0 1 0 4.4 0a2.2 2.2 0 1 0 -4.4 0M243.8 240.4a2.2 2.2 0 1 0 4.4 0a2.2 2.2 0 1 0 -4.4 0M244.7 238.8a2.2 2.2 0 1 0 4.4 0a2.2 2.2 0 1 0 -4.4 0M245.6 238.4a2.2 2.2 0 1 0 4.4 0a2.2 2.2 0 1 0 -4.4 0M246.5 239.2a2.2 2.2 0 1 0 4.4 0a2.2 2.2 0 1 0 -4.4 0M247.4 239.5a2.2 2.2 0 1 0 4.4 0a2.2 2.2 0 1 0 -4.4 0M248.3 240.2a2.2 2.2 0 1 0 4.4 0a2.2 2.2 0 1 0 -4.4 0M249.2 239.1a2.2 2.2 0 1 0 4.4 0a2.2 2.2 0 1 0 -4.4 0M250.1 240.6a2.2 2.2 0 1 0 4.4 0a2.2 2.2 0 1 0 -4.4 0M251.0 240.5a2.2 2.2 0 1 0 4.4 0a2.2 2.2 0 1 0 -4.4 0M251.9 240.1a2.2 2.2 0 1 0 4.4 0a2.2 2.2 0 1 0 -4.4 0M252.8 239.4a2.2 2.2 0 1 0 4.4 0a2.2 2.2 0 1 0 -4.4 0M253.7 241.3a2.2 2.2 0 1 0 4.4 0a2.2 2.2 0 1 0 -4.4 0M254.6 239.8a2.2 2.2 0 1 0 4.4 0a2.2 2.2 0 1 0 -4.4 0M255.5 241.1a2.2 2.2 0 1 0 4.4 0a2.2 2.2 0 1 0 -4.4 0M256.4 239.8a2.2 2.2 0 1 0 4.4 0a2.2 2.2 0 1 0 -4.4 0M257.3 239.8a2.2 2.2 0 1 0 4.4 0a2.2 2.2 0 1 0 -4.4 0M258.2 241.2a2.2 2.2 0 1 0 4.4 0a2.2 2.2 0 1 0 -4.4 0M259.1 240.1a2.2 2.2 0 1 0 4.4 0a2.2 2.2 0 1 0 -4.4 0M260.0 241.8a2.2 2.2 0 1 0 4.4 0a2.2 2.2 0 1 0 -4.4 0M260.9 240.8a2.2 2.2 0 1 0 4.4 0a2.2 2.2 0 1 0 -4.4 0M261.8 240.1a2.2 2.2 0 1 0 4.4 0a2.2 2.2 0 1 0 -4.4 0M262.7 240.3a2.2 2.2 0 1 0 4.4 0a2.2 2.2 0 1 0 -4.4 0M263.6 240.8a2.2 2.2 0 1 0 4.4 0a2.2 2.2 0 1 0 -4.4 0M264.5 241.5a2.2 2.2 0 1 0 4.4 0a2.2 2.2 0 1 0 -4.4 0M265.4 242.2a2.2 2.2 0 1 0 4.4 0a2.2 2.2 0 1 0 -4.4 0M266.3 240.4a2.2 2.2 0 1 0 4.4 0a2.2 2.2 0 1 0 -4.4 0M267.2 241.0a2.2 2.2 0 1 0 4.4 0a2.2 2.2 0 1 0 -4.4 0M268.1 240.7a2.2 2.2 0 1 0 4.4 0a2.2 2.2 0 1 0 -4.4 0M269.0 242.6a2.2 2.2 0 1 0 4.4 0a2.2 2.2 0 1 0 -4.4 0M269.9 240.7a2.2 2.2 0 1 0 4.4 0a2.2 2.2 0 1 0 -4.4 0M270.8 240.5a2.2 2.2 0 1 0 4.4 0a2.2 2.2 0 1 0 -4.4 0M271.7 240.6a2.2 2.2 0 1 0 4.4 0a2.2 2.2 0 1 0 -4.4 0M272.6 241.5a2.2 2.2 0 1 0 4.4 0a2.2 2.2 0 1 0 -4.4 0M273.5 242.8a2.2 2.2 0 1 0 4.4 0a2.2 2.2 0 1 0 -4.4 0M274.4 242.8a2.2 2.2 0 1 0 4.4 0a2.2 2.2 0 1 0 -4.4 0M275.3 242.5a2.2 2.2 0 1 0 4.4 0a2.2 2.2 0 1 0 -4.4 0M276.2 243.2a2.2 2.2 0 1 0 4.4 0a2.2 2.2 0 1 0 -4.4 0M277.1 243.1a2.2 2.2 0 1 0 4.4 0a2.2 2.2 0 1 0 -4.4 0M278.0 241.8a2.2 2.2 0 1 0 4.4 0a2.2 2.2 0 1 0 -4.4 0M278.9 241.5a2.2 2.2 0 1 0 4.4 0a2.2 2.2 0 1 0 -4.4 0M279.8 243.4a2.2 2.2 0 1 0 4.4 0a2.2 2.2 0 1 0 -4.4 0M280.7 243.0a2.2 2.2 0 1 0 4.4 0a2.2 2.2 0 1 0 -4.4 0M281.6 241.3a2.2 2.2 0 1 0 4.4 0a2.2 2.2 0 1 0 -4.4 0M282.5 242.9a2.2 2.2 0 1 0 4.4 0a2.2 2.2 0 1 0 -4.4 0M283.4 242.3a2.2 2.2 0 1 0 4.4 0a2.2 2.2 0 1 0 -4.4 0M284.3 242.4a2.2 2.2 0 1 0 4.4 0a2.2 2.2 0 1 0 -4.4 0M285.2 242.4a2.2 2.2 0 1 0 4.4 0a2.2 2.2 0 1 0 -4.4 0M286.1 242.0a2.2 2.2 0 1 0 4.4 0a2.2 2.2 0 1 0 -4.4 0M287.0 241.7a2.2 2.2 0 1 0 4.4 0a2.2 2.2 0 1 0 -4.4 0M287.9 242.5a2.2 2.2 0 1 0 4.4 0a2.2 2.2 0 1 0 -4.4 0M288.8 242.7a2.2 2.2 0 1 0 4.4 0a2.2 2.2 0 1 0 -4.4 0M289.7 244.2a2.2 2.2 0 1 0 4.4 0a2.2 2.2 0 1 0 -4.4 0M290.6 242.3a2.2 2.2 0 1 0 4.4 0a2.2 2.2 0 1 0 -4.4 0M291.5 244.4a2.2 2.2 0 1 0 4.4 0a2.2 2.2 0 1 0 -4.4 0M292.4 242.7a2.2 2.2 0 1 0 4.4 0a2.2 2.2 0 1 0 -4.4 0M293.3 243.1a2.2 2.2 0 1 0 4.4 0a2.2 2.2 0 1 0 -4.4 0M294.2 244.3a2.2 2.2 0 1 0 4.4 0a2.2 2.2 0 1 0 -4.4 0M295.1 244.4a2.2 2.2 0 1 0 4.4 0a2.2 2.2 0 1 0 -4.4 0M296.0 243.5a2.2 2.2 0 1 0 4.4 0a2.2 2.2 0 1 0 -4.4 0M296.9 242.6a2.2 2.2 0 1 0 4.4 0a2.2 2.2 0 1 0 -4.4 0M297.8 243.7a2.2 2.2 0 1 0 4.4 0a2.2 2.2 0 1 0 -4.4 0M298.7 243.5a2.2 2.2 0 1 0 4.4 0a2.2 2.2 0 1 0 -4.4 0M299.6 244.9a2.2 2.2 0 1 0 4.4 0a2.2 2.2 0 1 0 -4.4 0M300.5 243.2a2.2 2.2 0 1 0 4.4 0a2.2 2.2 0 1 0 -4.4 0M301.4 243.7a2.2 2.2 0 1 0 4.4 0a2.2 2.2 0 1 0 -4.4 0M302.3 245.0a2.2 2.2 0 1 0 4.4 0a2.2 2.2 0 1 0 -4.4 0M303.2 242.9a2.2 2.2 0 1 0 4.4 0a2.2 2.2 0 1 0 -4.4 0M304.1 243.9a2.2 2.2 0 1 0 4.4 0a2.2 2.2 0 1 0 -4.4 0M305.0 244.9a2.2 2.2 0 1 0 4.4 0a2.2 2.2 0 1 0 -4.4 0M305.9 244.8a2.2 2.2 0 1 0 4.4 0a2.2 2.2 0 1 0 -4.4 0M306.8 243.1a2.2 2.2 0 1 0 4.4 0a2.2 2.2 0 1 0 -4.4 0M307.7 243.2a2.2 2.2 0 1 0 4.4 0a2.2 2.2 0 1 0 -4.4 0M166.8 203.5a2.2 2.2 0 1 0 4.4 0a2.2 2.2 0 1 0 -4.4 0M307.4 274.7a2.2 2.2 0 1 0 4.4 0a2.2 2.2 0 1 0 -4.4 0" fill="#9B3503"/><path d="M102.0 215.2L104.6 217.8L102.0 220.4L99.4 217.8ZM102.9 217.4L105.5 220.0L102.9 222.6L100.3 220.0ZM103.8 216.8L106.4 219.4L103.8 222.0L101.2 219.4ZM104.7 218.2L107.3 220.8L104.7 223.4L102.1 220.8ZM105.6 219.1L108.2 221.7L105.6 224.3L103.0 221.7ZM106.5 218.7L109.1 221.3L106.5 223.9L103.9 221.3ZM107.4 219.2L110.0 221.8L107.4 224.4L104.8 221.8ZM108.3 221.0L110.9 223.6L108.3 226.2L105.7 223.6ZM109.2 221.0L111.8 223.6L109.2 226.2L106.6 223.6ZM110.1 220.9L112.7 223.5L110.1 226.1L107.5 223.5ZM111.0 222.4L113.6 225.0L111.0 227.6L108.4 225.0ZM111.9 222.2L114.5 224.8L111.9 227.4L109.3 224.8ZM112.8 222.8L115.4 225.4L112.8 228.0L110.2 225.4ZM113.7 222.9L116.3 225.5L113.7 228.1L111.1 225.5ZM114.6 224.8L117.2 227.4L114.6 230.0L112.0 227.4ZM115.5 225.7L118.1 228.3L115.5 230.9L112.9 228.3ZM116.4 225.8L119.0 228.4L116.4 231.0L113.8 228.4ZM117.3 226.9L119.9 229.5L117.3 232.1L114.7 229.5ZM118.2 225.9L120.8 228.5L118.2 231.1L115.6 228.5ZM119.1 226.9L121.7 229.5L119.1 232.1L116.5 229.5ZM120.0 227.9L122.6 230.5L120.0 233.1L117.4 230.5ZM120.9 229.3L123.5 231.9L120.9 234.5L118.3 231.9ZM121.8 229.7L124.4 232.3L121.8 234.9L119.2 232.3ZM122.7 229.0L125.3 231.6L122.7 234.2L120.1 231.6ZM123.6 229.1L126.2 231.7L123.6 234.3L121.0 231.7ZM124.5 229.8L127.1 232.4L124.5 235.0L121.9 232.4ZM125.4 230.3L128.0 232.9L125.4 235.5L122.8 232.9ZM126.3 231.4L128.9 234.0L126.3 236.6L123.7 234.0ZM127.2 230.4L129.8 233.0L127.2 235.6L124.6 233.0ZM128.1 231.9L130.7 234.5L128.1 237.1L125.5 234.5ZM129.0 232.2L131.6 234.8L129.0 237.4L126.4 234.8ZM129.9 232.7L132.5 235.3L129.9 237.9L127.3 235.3ZM130.8 232.9L133.4 235.5L130.8 238.1L128.2 235.5ZM131.7 233.0L134.3 235.6L131.7 238.2L129.1 235.6ZM132.6 232.9L135.2 235.5L132.6 238.1L130.0 235.5ZM133.5 233.2L136.1 235.8L133.5 238.4L130.9 235.8ZM134.4 233.6L137.0 236.2L134.4 238.8L131.8 236.2ZM135.3 234.8L137.9 237.4L135.3 240.0L132.7 237.4ZM136.2 233.9L138.8 236.5L136.2 239.1L133.6 236.5ZM137.1 234.4L139.7 237.0L137.1 239.6L134.5 237.0ZM138.0 235.8L140.6 238.4L138.0 241.0L135.4 238.4ZM138.9 235.2L141.5 237.8L138.9 240.4L136.3 237.8ZM139.8 235.3L142.4 237.9L139.8 240.5L137.2 237.9ZM140.7 235.6L143.3 238.2L140.7 240.8L138.1 238.2ZM141.6 236.8L144.2 239.4L141.6 242.0L139.0 239.4ZM142.5 236.6L145.1 239.2L142.5 241.8L139.9 239.2ZM143.4 238.0L146.0 240.6L143.4 243.2L140.8 240.6ZM144.3 238.0L146.9 240.6L144.3 243.2L141.7 240.6ZM145.2 238.4L147.8 241.0L145.2 243.6L142.6 241.0ZM146.1 237.2L148.7 239.8L146.1 242.4L143.5 239.8ZM147.0 237.1L149.6 239.7L147.0 242.3L144.4 239.7ZM147.9 237.3L150.5 239.9L147.9 242.5L145.3 239.9ZM148.8 238.2L151.4 240.8L148.8 243.4L146.2 240.8ZM149.7 238.8L152.3 241.4L149.7 244.0L147.1 241.4ZM150.6 238.5L153.2 241.1L150.6 243.7L148.0 241.1ZM151.5 238.3L154.1 240.9L151.5 243.5L148.9 240.9ZM152.4 238.8L155.0 241.4L152.4 244.0L149.8 241.4ZM153.3 239.3L155.9 241.9L153.3 244.5L150.7 241.9ZM154.2 239.6L156.8 242.2L154.2 244.8L151.6 242.2ZM155.1 239.9L157.7 242.5L155.1 245.1L152.5 242.5ZM156.0 240.3L158.6 242.9L156.0 245.5L153.4 242.9ZM156.9 240.2L159.5 242.8L156.9 245.4L154.3 242.8ZM157.8 239.4L160.4 242.0L157.8 244.6L155.2 242.0ZM158.7 240.8L161.3 243.4L158.7 246.0L156.1 243.4ZM159.6 240.0L162.2 242.6L159.6 245.2L157.0 242.6ZM160.5 240.7L163.1 243.3L160.5 245.9L157.9 243.3ZM161.4 240.5L164.0 243.1L161.4 245.7L158.8 243.1ZM162.3 241.4L164.9 244.0L162.3 246.6L159.7 244.0ZM163.2 240.5L165.8 243.1L163.2 245.7L160.6 243.1ZM164.1 240.6L166.7 243.2L164.1 245.8L161.5 243.2ZM165.0 240.7L167.6 243.3L165.0 245.9L162.4 243.3ZM165.9 240.6L168.5 243.2L165.9 245.8L163.3 243.2ZM166.8 242.0L169.4 244.6L166.8 247.2L164.2 244.6ZM167.7 241.6L170.3 244.2L167.7 246.8L165.1 244.2ZM168.6 241.2L171.2 243.8L168.6 246.4L166.0 243.8ZM169.5 241.4L172.1 244.0L169.5 246.6L166.9 244.0ZM170.4 242.6L173.0 245.2L170.4 247.8L167.8 245.2ZM171.3 241.8L173.9 244.4L171.3 247.0L168.7 244.4ZM172.2 241.4L174.8 244.0L172.2 246.6L169.6 244.0ZM173.1 242.5L175.7 245.1L173.1 247.7L170.5 245.1ZM174.0 242.3L176.6 244.9L174.0 247.5L171.4 244.9ZM174.9 243.0L177.5 245.6L174.9 248.2L172.3 245.6ZM175.8 241.5L178.4 244.1L175.8 246.7L173.2 244.1ZM176.7 242.2L179.3 244.8L176.7 247.4L174.1 244.8ZM177.6 242.9L180.2 245.5L177.6 248.1L175.0 245.5ZM178.5 243.1L181.1 245.7L178.5 248.3L175.9 245.7ZM179.4 243.3L182.0 245.9L179.4 248.5L176.8 245.9ZM180.3 241.8L182.9 244.4L180.3 247.0L177.7 244.4ZM181.2 242.3L183.8 244.9L181.2 247.5L178.6 244.9ZM182.1 242.1L184.7 244.7L182.1 247.3L179.5 244.7ZM183.0 242.3L185.6 244.9L183.0 247.5L180.4 244.9ZM183.9 243.8L186.5 246.4L183.9 249.0L181.3 246.4ZM184.8 243.2L187.4 245.8L184.8 248.4L182.2 245.8ZM185.7 243.9L188.3 246.5L185.7 249.1L183.1 246.5ZM186.6 243.0L189.2 245.6L186.6 248.2L184.0 245.6ZM187.5 244.0L190.1 246.6L187.5 249.2L184.9 246.6ZM188.4 243.3L191.0 245.9L188.4 248.5L185.8 245.9ZM189.3 243.0L191.9 245.6L189.3 248.2L186.7 245.6ZM190.2 244.1L192.8 246.7L190.2 249.3L187.6 246.7ZM191.1 244.4L193.7 247.0L191.1 249.6L188.5 247.0ZM192.0 243.0L194.6 245.6L192.0 248.2L189.4 245.6ZM192.9 244.0L195.5 246.6L192.9 249.2L190.3 246.6ZM193.8 244.1L196.4 246.7L193.8 249.3L191.2 246.7ZM194.7 243.5L197.3 246.1L194.7 248.7L192.1 246.1ZM195.6 243.8L198.2 246.4L195.6 249.0L193.0 246.4ZM196.5 243.5L199.1 246.1L196.5 248.7L193.9 246.1ZM197.4 243.7L200.0 246.3L197.4 248.9L194.8 246.3ZM198.3 243.9L200.9 246.5L198.3 249.1L195.7 246.5ZM199.2 244.6L201.8 247.2L199.2 249.8L196.6 247.2ZM200.1 244.8L202.7 247.4L200.1 250.0L197.5 247.4ZM201.0 244.0L203.6 246.6L201.0 249.2L198.4 246.6ZM201.9 243.8L204.5 246.4L201.9 249.0L199.3 246.4ZM202.8 244.4L205.4 247.0L202.8 249.6L200.2 247.0ZM203.7 245.1L206.3 247.7L203.7 250.3L201.1 247.7ZM204.6 244.3L207.2 246.9L204.6 249.5L202.0 246.9ZM205.5 244.5L208.1 247.1L205.5 249.7L202.9 247.1ZM206.4 244.3L209.0 246.9L206.4 249.5L203.8 246.9ZM207.3 245.4L209.9 248.0L207.3 250.6L204.7 248.0ZM208.2 245.0L210.8 247.6L208.2 250.2L205.6 247.6ZM209.1 244.2L211.7 246.8L209.1 249.4L206.5 246.8ZM210.0 244.3L212.6 246.9L210.0 249.5L207.4 246.9ZM210.9 244.8L213.5 247.4L210.9 250.0L208.3 247.4ZM211.8 245.1L214.4 247.7L211.8 250.3L209.2 247.7ZM212.7 245.3L215.3 247.9L212.7 250.5L210.1 247.9ZM213.6 244.3L216.2 246.9L213.6 249.5L211.0 246.9ZM214.5 244.5L217.1 247.1L214.5 249.7L211.9 247.1ZM215.4 245.5L218.0 248.1L215.4 250.7L212.8 248.1ZM216.3 245.0L218.9 247.6L216.3 250.2L213.7 247.6ZM217.2 244.8L219.8 247.4L217.2 250.0L214.6 247.4ZM218.1 244.8L220.7 247.4L218.1 250.0L215.5 247.4ZM219.0 246.0L221.6 248.6L219.0 251.2L216.4 248.6ZM219.9 244.9L222.5 247.5L219.9 250.1L217.3 247.5ZM220.8 245.4L223.4 248.0L220.8 250.6L218.2 248.0ZM221.7 245.0L224.3 247.6L221.7 250.2L219.1 247.6ZM222.6 245.1L225.2 247.7L222.6 250.3L220.0 247.7ZM223.5 246.0L226.1 248.6L223.5 251.2L220.9 248.6ZM224.4 246.2L227.0 248.8L224.4 251.4L221.8 248.8ZM225.3 245.1L227.9 247.7L225.3 250.3L222.7 247.7ZM226.2 244.8L228.8 247.4L226.2 250.0L223.6 247.4ZM227.1 245.8L229.7 248.4L227.1 251.0L224.5 248.4ZM228.0 244.9L230.6 247.5L228.0 250.1L225.4 247.5ZM228.9 244.6L231.5 247.2L228.9 249.8L226.3 247.2ZM229.8 246.2L232.4 248.8L229.8 251.4L227.2 248.8ZM230.7 245.4L233.3 248.0L230.7 250.6L228.1 248.0ZM231.6 246.1L234.2 248.7L231.6 251.3L229.0 248.7ZM232.5 245.4L235.1 248.0L232.5 250.6L229.9 248.0ZM233.4 246.3L236.0 248.9L233.4 251.5L230.8 248.9ZM234.3 245.5L236.9 248.1L234.3 250.7L231.7 248.1ZM235.2 245.0L237.8 247.6L235.2 250.2L232.6 247.6ZM236.1 244.8L238.7 247.4L236.1 250.0L233.5 247.4ZM237.0 245.8L239.6 248.4L237.0 251.0L234.4 248.4ZM237.9 245.9L240.5 248.5L237.9 251.1L235.3 248.5ZM238.8 246.4L241.4 249.0L238.8 251.6L236.2 249.0ZM239.7 245.0L242.3 247.6L239.7 250.2L237.1 247.6ZM240.6 246.0L243.2 248.6L240.6 251.2L238.0 248.6ZM241.5 245.5L244.1 248.1L241.5 250.7L238.9 248.1ZM242.4 245.8L245.0 248.4L242.4 251.0L239.8 248.4ZM243.3 245.2L245.9 247.8L243.3 250.4L240.7 247.8ZM244.2 245.5L246.8 248.1L244.2 250.7L241.6 248.1ZM245.1 245.9L247.7 248.5L245.1 251.1L242.5 248.5ZM246.0 246.7L248.6 249.3L246.0 251.9L243.4 249.3ZM246.9 245.2L249.5 247.8L246.9 250.4L244.3 247.8ZM247.8 245.9L250.4 248.5L247.8 251.1L245.2 248.5ZM248.7 246.5L251.3 249.1L248.7 251.7L246.1 249.1ZM249.6 246.8L252.2 249.4L249.6 252.0L247.0 249.4ZM250.5 245.5L253.1 248.1L250.5 250.7L247.9 248.1ZM251.4 245.4L254.0 248.0L251.4 250.6L248.8 248.0ZM252.3 246.9L254.9 249.5L252.3 252.1L249.7 249.5ZM253.2 247.0L255.8 249.6L253.2 252.2L250.6 249.6ZM254.1 246.1L256.7 248.7L254.1 251.3L251.5 248.7ZM255.0 245.4L257.6 248.0L255.0 250.6L252.4 248.0ZM255.9 247.0L258.5 249.6L255.9 252.2L253.3 249.6ZM256.8 246.1L259.4 248.7L256.8 251.3L254.2 248.7ZM257.7 247.0L260.3 249.6L257.7 252.2L255.1 249.6ZM258.6 246.6L261.2 249.2L258.6 251.8L256.0 249.2ZM259.5 247.0L262.1 249.6L259.5 252.2L256.9 249.6ZM260.4 245.8L263.0 248.4L260.4 251.0L257.8 248.4ZM261.3 247.0L263.9 249.6L261.3 252.2L258.7 249.6ZM262.2 246.0L264.8 248.6L262.2 251.2L259.6 248.6ZM263.1 246.4L265.7 249.0L263.1 251.6L260.5 249.0ZM264.0 247.2L266.6 249.8L264.0 252.4L261.4 249.8ZM264.9 247.2L267.5 249.8L264.9 252.4L262.3 249.8ZM265.8 246.1L268.4 248.7L265.8 251.3L263.2 248.7ZM266.7 246.2L269.3 248.8L266.7 251.4L264.1 248.8ZM267.6 246.5L270.2 249.1L267.6 251.7L265.0 249.1ZM268.5 246.8L271.1 249.4L268.5 252.0L265.9 249.4ZM269.4 246.6L272.0 249.2L269.4 251.8L266.8 249.2ZM270.3 246.1L272.9 248.7L270.3 251.3L267.7 248.7ZM271.2 246.4L273.8 249.0L271.2 251.6L268.6 249.0ZM272.1 247.3L274.7 249.9L272.1 252.5L269.5 249.9ZM273.0 247.6L275.6 250.2L273.0 252.8L270.4 250.2ZM273.9 246.1L276.5 248.7L273.9 251.3L271.3 248.7ZM274.8 247.1L277.4 249.7L274.8 252.3L272.2 249.7ZM275.7 247.5L278.3 250.1L275.7 252.7L273.1 250.1ZM276.6 246.2L279.2 248.8L276.6 251.4L274.0 248.8ZM277.5 247.7L280.1 250.3L277.5 252.9L274.9 250.3ZM278.4 246.5L281.0 249.1L278.4 251.7L275.8 249.1ZM279.3 247.4L281.9 250.0L279.3 252.6L276.7 250.0ZM280.2 247.3L282.8 249.9L280.2 252.5L277.6 249.9ZM281.1 247.5L283.7 250.1L281.1 252.7L278.5 250.1ZM282.0 246.9L284.6 249.5L282.0 252.1L279.4 249.5ZM282.9 247.2L285.5 249.8L282.9 252.4L280.3 249.8ZM283.8 247.5L286.4 250.1L283.8 252.7L281.2 250.1ZM284.7 247.3L287.3 249.9L284.7 252.5L282.1 249.9ZM285.6 247.7L288.2 250.3L285.6 252.9L283.0 250.3ZM286.5 247.4L289.1 250.0L286.5 252.6L283.9 250.0ZM287.4 247.4L290.0 250.0L287.4 252.6L284.8 250.0ZM288.3 246.7L290.9 249.3L288.3 251.9L285.7 249.3ZM289.2 247.8L291.8 250.4L289.2 253.0L286.6 250.4ZM290.1 247.6L292.7 250.2L290.1 252.8L287.5 250.2ZM291.0 247.2L293.6 249.8L291.0 252.4L288.4 249.8ZM291.9 248.2L294.5 250.8L291.9 253.4L289.3 250.8ZM292.8 248.2L295.4 250.8L292.8 253.4L290.2 250.8ZM293.7 247.7L296.3 250.3L293.7 252.9L291.1 250.3ZM294.6 247.2L297.2 249.8L294.6 252.4L292.0 249.8ZM295.5 247.8L298.1 250.4L295.5 253.0L292.9 250.4ZM296.4 247.2L299.0 249.8L296.4 252.4L293.8 249.8ZM297.3 247.2L299.9 249.8L297.3 252.4L294.7 249.8ZM298.2 247.8L300.8 250.4L298.2 253.0L295.6 250.4ZM299.1 247.2L301.7 249.8L299.1 252.4L296.5 249.8ZM300.0 247.9L302.6 250.5L300.0 253.1L297.4 250.5ZM300.9 248.1L303.5 250.7L300.9 253.3L298.3 250.7ZM301.8 247.3L304.4 249.9L301.8 252.5L299.2 249.9ZM302.7 248.4L305.3 251.0L302.7 253.6L300.1 251.0ZM303.6 247.4L306.2 250.0L303.6 252.6L301.0 250.0ZM304.5 248.6L307.1 251.2L304.5 253.8L301.9 251.2ZM305.4 248.7L308.0 251.3L305.4 253.9L302.8 251.3ZM306.3 248.3L308.9 250.9L306.3 253.5L303.7 250.9ZM307.2 247.5L309.8 250.1L307.2 252.7L304.6 250.1ZM308.1 248.3L310.7 250.9L308.1 253.5L305.5 250.9ZM309.0 248.2L311.6 250.8L309.0 253.4L306.4 250.8ZM309.9 249.2L312.5 251.8L309.9 254.4L307.3 251.8ZM310.8 247.8L313.4 250.4L310.8 253.0L308.2 250.4ZM311.7 249.1L314.3 251.7L311.7 254.3L309.1 251.7ZM312.6 249.4L315.2 252.0L312.6 254.6L310.0 252.0ZM313.5 249.0L316.1 251.6L313.5 254.2L310.9 251.6ZM314.4 249.2L317.0 251.8L314.4 254.4L311.8 251.8ZM315.3 248.1L317.9 250.7L315.3 253.3L312.7 250.7ZM316.2 249.5L318.8 252.1L316.2 254.7L313.6 252.1ZM317.1 248.7L319.7 251.3L317.1 253.9L314.5 251.3ZM318.0 249.6L320.6 252.2L318.0 254.8L315.4 252.2ZM318.9 249.5L321.5 252.1L318.9 254.7L316.3 252.1ZM319.8 248.2L322.4 250.8L319.8 253.4L317.2 250.8ZM320.7 249.4L323.3 252.0L320.7 254.6L318.1 252.0ZM321.6 249.7L324.2 252.3L321.6 254.9L319.0 252.3ZM322.5 248.1L325.1 250.7L322.5 253.3L319.9 250.7ZM323.4 248.7L326.0 251.3L323.4 253.9L320.8 251.3ZM324.3 249.4L326.9 252.0L324.3 254.6L321.7 252.0ZM325.2 248.4L327.8 251.0L325.2 253.6L322.6 251.0ZM326.1 249.8L328.7 252.4L326.1 255.0L323.5 252.4ZM327.0 248.7L329.6 251.3L327.0 253.9L324.4 251.3ZM327.9 249.7L330.5 252.3L327.9 254.9L325.3 252.3ZM328.8 248.5L331.4 251.1L328.8 253.7L326.2 251.1ZM329.7 249.2L332.3 251.8L329.7 254.4L327.1 251.8ZM330.6 250.0L333.2 252.6L330.6 255.2L328.0 252.6ZM331.5 248.8L334.1 251.4L331.5 254.0L328.9 251.4ZM332.4 248.9L335.0 251.5L332.4 254.1L329.8 251.5ZM333.3 249.4L335.9 252.0L333.3 254.6L330.7 252.0ZM334.2 249.1L336.8 251.7L334.2 254.3L331.6 251.7ZM335.1 248.6L337.7 251.2L335.1 253.8L332.5 251.2ZM336.0 248.9L338.6 251.5L336.0 254.1L333.4 251.5ZM336.9 248.9L339.5 251.5L336.9 254.1L334.3 251.5ZM337.8 250.3L340.4 252.9L337.8 255.5L335.2 252.9ZM338.7 249.9L341.3 252.5L338.7 255.1L336.1 252.5ZM339.6 250.3L342.2 252.9L339.6 255.5L337.0 252.9ZM340.5 249.0L343.1 251.6L340.5 254.2L337.9 251.6ZM341.4 250.2L344.0 252.8L341.4 255.4L338.8 252.8ZM342.3 249.0L344.9 251.6L342.3 254.2L339.7 251.6ZM343.2 249.8L345.8 252.4L343.2 255.0L340.6 252.4ZM344.1 250.0L346.7 252.6L344.1 255.2L341.5 252.6ZM345.0 249.6L347.6 252.2L345.0 254.8L342.4 252.2ZM345.9 250.5L348.5 253.1L345.9 255.7L343.3 253.1ZM346.8 250.0L349.4 252.6L346.8 255.2L344.2 252.6ZM347.7 250.1L350.3 252.7L347.7 255.3L345.1 252.7ZM348.6 250.7L351.2 253.3L348.6 255.9L346.0 253.3ZM349.5 249.3L352.1 251.9L349.5 254.5L346.9 251.9ZM350.4 250.9L353.0 253.5L350.4 256.1L347.8 253.5ZM351.3 250.3L353.9 252.9L351.3 255.5L348.7 252.9ZM352.2 249.9L354.8 252.5L352.2 255.1L349.6 252.5ZM353.1 250.7L355.7 253.3L353.1 255.9L350.5 253.3ZM354.0 249.8L356.6 252.4L354.0 255.0L351.4 252.4ZM354.9 251.1L357.5 253.7L354.9 256.3L352.3 253.7ZM355.8 250.4L358.4 253.0L355.8 255.6L353.2 253.0ZM356.7 250.0L359.3 252.6L356.7 255.2L354.1 252.6ZM169.0 210.8L171.6 213.4L169.0 216.0L166.4 213.4ZM249.7 221.2L252.3 223.8L249.7 226.4L247.1 223.8ZM330.5 226.8L333.1 229.4L330.5 232.0L327.9 229.4ZM165.2 245.0L167.8 247.6L165.2 250.2L162.6 247.6Z" fill="#FEC04E"/><path d="M99.5 222.4h5.0M102.0 219.9v5.0M100.4 221.9h5.0M102.9 219.4v5.0M101.3 221.5h5.0M103.8 219.0v5.0M102.2 223.4h5.0M104.7 220.9v5.0M103.1 221.8h5.0M105.6 219.3v5.0M104.0 224.4h5.0M106.5 221.9v5.0M104.9 223.1h5.0M107.4 220.6v5.0M105.8 224.5h5.0M108.3 222.0v5.0M106.7 225.9h5.0M109.2 223.4v5.0M107.6 225.1h5.0M110.1 222.6v5.0M108.5 225.7h5.0M111.0 223.2v5.0M109.4 225.0h5.0M111.9 222.5v5.0M110.3 224.5h5.0M112.8 222.0v5.0M111.2 225.0h5.0M113.7 222.5v5.0M112.1 225.6h5.0M114.6 223.1v5.0M113.0 227.3h5.0M115.5 224.8v5.0M113.9 227.1h5.0M116.4 224.6v5.0M114.8 227.7h5.0M117.3 225.2v5.0M115.7 229.1h5.0M118.2 226.6v5.0M116.6 227.3h5.0M119.1 224.8v5.0M117.5 228.0h5.0M120.0 225.5v5.0M118.4 229.5h5.0M120.9 227.0v5.0M119.3 227.8h5.0M121.8 225.3v5.0M120.2 227.9h5.0M122.7 225.4v5.0M121.1 229.0h5.0M123.6 226.5v5.0M122.0 228.4h5.0M124.5 225.9v5.0M122.9 229.3h5.0M125.4 226.8v5.0M123.8 229.0h5.0M126.3 226.5v5.0M124.7 230.2h5.0M127.2 227.7v5.0M125.6 230.3h5.0M128.1 227.8v5.0M126.5 229.4h5.0M129.0 226.9v5.0M127.4 230.7h5.0M129.9 228.2v5.0M128.3 230.4h5.0M130.8 227.9v5.0M129.2 229.6h5.0M131.7 227.1v5.0M130.1 231.9h5.0M132.6 229.4v5.0M131.0 230.1h5.0M133.5 227.6v5.0M131.9 230.0h5.0M134.4 227.5v5.0M132.8 230.0h5.0M135.3 227.5v5.0M133.7 231.6h5.0M136.2 229.1v5.0M134.6 232.4h5.0M137.1 229.9v5.0M135.5 232.3h5.0M138.0 229.8v5.0M136.4 231.4h5.0M138.9 228.9v5.0M137.3 231.1h5.0M139.8 228.6v5.0M138.2 230.5h5.0M140.7 228.0v5.0M139.1 232.4h5.0M141.6 229.9v5.0M140.0 232.2h5.0M142.5 229.7v5.0M140.9 231.7h5.0M143.4 229.2v5.0M141.8 232.6h5.0M144.3 230.1v5.0M142.7 232.0h5.0M145.2 229.5v5.0M143.6 233.5h5.0M146.1 231.0v5.0M144.5 233.0h5.0M147.0 230.5v5.0M145.4 231.6h5.0M147.9 229.1v5.0M146.3 233.5h5.0M148.8 231.0v5.0M147.2 231.2h5.0M149.7 228.7v5.0M148.1 232.6h5.0M150.6 230.1v5.0M149.0 232.3h5.0M151.5 229.8v5.0M149.9 231.9h5.0M152.4 229.4v5.0M150.8 231.4h5.0M153.3 228.9v5.0M151.7 233.5h5.0M154.2 231.0v5.0M152.6 231.4h5.0M155.1 228.9v5.0M153.5 232.9h5.0M156.0 230.4v5.0M154.4 234.1h5.0M156.9 231.6v5.0M155.3 231.9h5.0M157.8 229.4v5.0M156.2 232.1h5.0M158.7 229.6v5.0M157.1 233.3h5.0M159.6 230.8v5.0M158.0 233.0h5.0M160.5 230.5v5.0M158.9 233.5h5.0M161.4 231.0v5.0M159.8 234.0h5.0M162.3 231.5v5.0M160.7 232.2h5.0M163.2 229.7v5.0M161.6 232.6h5.0M164.1 230.1v5.0M162.5 232.6h5.0M165.0 230.1v5.0M163.4 231.9h5.0M165.9 229.4v5.0M164.3 234.3h5.0M166.8 231.8v5.0M165.2 234.0h5.0M167.7 231.5v5.0M166.1 233.8h5.0M168.6 231.3v5.0M167.0 231.9h5.0M169.5 229.4v5.0M167.9 234.2h5.0M170.4 231.7v5.0M168.8 234.0h5.0M171.3 231.5v5.0M169.7 233.2h5.0M172.2 230.7v5.0M170.6 234.0h5.0M173.1 231.5v5.0M171.5 233.2h5.0M174.0 230.7v5.0M172.4 232.6h5.0M174.9 230.1v5.0M173.3 232.3h5.0M175.8 229.8v5.0M174.2 232.7h5.0M176.7 230.2v5.0M175.1 232.1h5.0M177.6 229.6v5.0M176.0 233.0h5.0M178.5 230.5v5.0M176.9 234.2h5.0M179.4 231.7v5.0M177.8 234.0h5.0M180.3 231.5v5.0M178.7 234.5h5.0M181.2 232.0v5.0M179.6 234.1h5.0M182.1 231.6v5.0M180.5 232.9h5.0M183.0 230.4v5.0M181.4 233.7h5.0M183.9 231.2v5.0M182.3 233.4h5.0M184.8 230.9v5.0M183.2 234.4h5.0M185.7 231.9v5.0M184.1 233.7h5.0M186.6 231.2v5.0M185.0 233.0h5.0M187.5 230.5v5.0M185.9 234.1h5.0M188.4 231.6v5.0M186.8 235.0h5.0M189.3 232.5v5.0M187.7 232.9h5.0M190.2 230.4v5.0M188.6 234.8h5.0M191.1 232.3v5.0M189.5 232.4h5.0M192.0 229.9v5.0M190.4 233.1h5.0M192.9 230.6v5.0M191.3 233.1h5.0M193.8 230.6v5.0M192.2 234.5h5.0M194.7 232.0v5.0M193.1 235.1h5.0M195.6 232.6v5.0M194.0 234.5h5.0M196.5 232.0v5.0M194.9 233.4h5.0M197.4 230.9v5.0M195.8 235.0h5.0M198.3 232.5v5.0M196.7 233.4h5.0M199.2 230.9v5.0M197.6 233.2h5.0M200.1 230.7v5.0M198.5 235.1h5.0M201.0 232.6v5.0M199.4 234.3h5.0M201.9 231.8v5.0M200.3 234.5h5.0M202.8 232.0v5.0M201.2 234.5h5.0M203.7 232.0v5.0M202.1 235.3h5.0M204.6 232.8v5.0M203.0 233.9h5.0M205.5 231.4v5.0M203.9 234.9h5.0M206.4 232.4v5.0M204.8 234.5h5.0M207.3 232.0v5.0M205.7 235.0h5.0M208.2 232.5v5.0M206.6 233.8h5.0M209.1 231.3v5.0M207.5 234.6h5.0M210.0 232.1v5.0M208.4 234.2h5.0M210.9 231.7v5.0M209.3 233.4h5.0M211.8 230.9v5.0M210.2 233.1h5.0M212.7 230.6v5.0M211.1 234.3h5.0M213.6 231.8v5.0M212.0 232.7h5.0M214.5 230.2v5.0M212.9 235.1h5.0M215.4 232.6v5.0M213.8 232.9h5.0M216.3 230.4v5.0M214.7 232.6h5.0M217.2 230.1v5.0M215.6 232.8h5.0M218.1 230.3v5.0M216.5 235.1h5.0M219.0 232.6v5.0M217.4 233.5h5.0M219.9 231.0v5.0M218.3 232.9h5.0M220.8 230.4v5.0M219.2 232.6h5.0M221.7 230.1v5.0M220.1 232.6h5.0M222.6 230.1v5.0M221.0 234.4h5.0M223.5 231.9v5.0M221.9 234.2h5.0M224.4 231.7v5.0M222.8 234.4h5.0M225.3 231.9v5.0M223.7 234.5h5.0M226.2 232.0v5.0M224.6 232.6h5.0M227.1 230.1v5.0M225.5 234.1h5.0M228.0 231.6v5.0M226.4 233.5h5.0M228.9 231.0v5.0M227.3 234.7h5.0M229.8 232.2v5.0M228.2 234.7h5.0M230.7 232.2v5.0M229.1 234.9h5.0M231.6 232.4v5.0M230.0 232.6h5.0M232.5 230.1v5.0M230.9 234.8h5.0M233.4 232.3v5.0M231.8 235.0h5.0M234.3 232.5v5.0M232.7 235.0h5.0M235.2 232.5v5.0M233.6 232.7h5.0M236.1 230.2v5.0M234.5 233.0h5.0M237.0 230.5v5.0M235.4 232.7h5.0M237.9 230.2v5.0M236.3 232.5h5.0M238.8 230.0v5.0M237.2 234.7h5.0M239.7 232.2v5.0M238.1 234.6h5.0M240.6 232.1v5.0M239.0 234.1h5.0M241.5 231.6v5.0M239.9 234.7h5.0M242.4 232.2v5.0M240.8 234.1h5.0M243.3 231.6v5.0M241.7 233.2h5.0M244.2 230.7v5.0M242.6 232.6h5.0M245.1 230.1v5.0M243.5 232.6h5.0M246.0 230.1v5.0M244.4 234.5h5.0M246.9 232.0v5.0M245.3 232.9h5.0M247.8 230.4v5.0M246.2 233.2h5.0M248.7 230.7v5.0M247.1 233.5h5.0M249.6 231.0v5.0M248.0 232.4h5.0M250.5 229.9v5.0M248.9 233.0h5.0M251.4 230.5v5.0M249.8 233.1h5.0M252.3 230.6v5.0M250.7 234.3h5.0M253.2 231.8v5.0M251.6 233.3h5.0M254.1 230.8v5.0M252.5 233.2h5.0M255.0 230.7v5.0M253.4 235.0h5.0M255.9 232.5v5.0M254.3 233.7h5.0M256.8 231.2v5.0M255.2 234.6h5.0M257.7 232.1v5.0M256.1 234.0h5.0M258.6 231.5v5.0M257.0 232.3h5.0M259.5 229.8v5.0M257.9 233.4h5.0M260.4 230.9v5.0M258.8 233.5h5.0M261.3 231.0v5.0M259.7 234.4h5.0M262.2 231.9v5.0M260.6 233.2h5.0M263.1 230.7v5.0M261.5 234.2h5.0M264.0 231.7v5.0M262.4 233.7h5.0M264.9 231.2v5.0M263.3 232.8h5.0M265.8 230.3v5.0M264.2 234.6h5.0M266.7 232.1v5.0M265.1 232.5h5.0M267.6 230.0v5.0M266.0 234.5h5.0M268.5 232.0v5.0M266.9 232.7h5.0M269.4 230.2v5.0M267.8 232.2h5.0M270.3 229.7v5.0M268.7 232.7h5.0M271.2 230.2v5.0M269.6 234.3h5.0M272.1 231.8v5.0M270.5 234.9h5.0M273.0 232.4v5.0M271.4 232.2h5.0M273.9 229.7v5.0M272.3 233.5h5.0M274.8 231.0v5.0M273.2 233.5h5.0M275.7 231.0v5.0M274.1 234.4h5.0M276.6 231.9v5.0M275.0 232.7h5.0M277.5 230.2v5.0M275.9 233.5h5.0M278.4 231.0v5.0M276.8 233.1h5.0M279.3 230.6v5.0M277.7 234.5h5.0M280.2 232.0v5.0M278.6 232.8h5.0M281.1 230.3v5.0M279.5 234.8h5.0M282.0 232.3v5.0M280.4 232.9h5.0M282.9 230.4v5.0M281.3 232.7h5.0M283.8 230.2v5.0M282.2 234.1h5.0M284.7 231.6v5.0M283.1 233.5h5.0M285.6 231.0v5.0M284.0 232.4h5.0M286.5 229.9v5.0M284.9 233.9h5.0M287.4 231.4v5.0M285.8 232.3h5.0M288.3 229.8v5.0M286.7 234.3h5.0M289.2 231.8v5.0M287.6 234.0h5.0M290.1 231.5v5.0M288.5 234.3h5.0M291.0 231.8v5.0M289.4 233.8h5.0M291.9 231.3v5.0M290.3 233.0h5.0M292.8 230.5v5.0M291.2 233.2h5.0M293.7 230.7v5.0M292.1 233.1h5.0M294.6 230.6v5.0M293.0 234.5h5.0M295.5 232.0v5.0M293.9 232.3h5.0M296.4 229.8v5.0M294.8 234.5h5.0M297.3 232.0v5.0M295.7 232.1h5.0M298.2 229.6v5.0M296.6 232.6h5.0M299.1 230.1v5.0M297.5 232.7h5.0M300.0 230.2v5.0M298.4 234.5h5.0M300.9 232.0v5.0M299.3 233.4h5.0M301.8 230.9v5.0M300.2 233.1h5.0M302.7 230.6v5.0M301.1 234.5h5.0M303.6 232.0v5.0M302.0 232.7h5.0M304.5 230.2v5.0M302.9 233.3h5.0M305.4 230.8v5.0M303.8 233.5h5.0M306.3 231.0v5.0M304.7 234.2h5.0M307.2 231.7v5.0M305.6 234.2h5.0M308.1 231.7v5.0M306.5 233.9h5.0M309.0 231.4v5.0M307.4 233.0h5.0M309.9 230.5v5.0M308.3 233.0h5.0M310.8 230.5v5.0M309.2 232.5h5.0M311.7 230.0v5.0M310.1 234.4h5.0M312.6 231.9v5.0M311.0 233.9h5.0M313.5 231.4v5.0M311.9 234.2h5.0M314.4 231.7v5.0M312.8 232.6h5.0M315.3 230.1v5.0M313.7 233.3h5.0M316.2 230.8v5.0M314.6 234.3h5.0M317.1 231.8v5.0M315.5 233.7h5.0M318.0 231.2v5.0M316.4 232.5h5.0M318.9 230.0v5.0M317.3 233.4h5.0M319.8 230.9v5.0M318.2 234.6h5.0M320.7 232.1v5.0M319.1 232.8h5.0M321.6 230.3v5.0M320.0 232.7h5.0M322.5 230.2v5.0M320.9 233.0h5.0M323.4 230.5v5.0M321.8 234.1h5.0M324.3 231.6v5.0M322.7 234.5h5.0M325.2 232.0v5.0M323.6 232.6h5.0M326.1 230.1v5.0M324.5 232.6h5.0M327.0 230.1v5.0M325.4 232.9h5.0M327.9 230.4v5.0M326.3 233.1h5.0M328.8 230.6v5.0M327.2 233.7h5.0M329.7 231.2v5.0M328.1 232.7h5.0M330.6 230.2v5.0M329.0 233.1h5.0M331.5 230.6v5.0M329.9 232.8h5.0M332.4 230.3v5.0M330.8 235.0h5.0M333.3 232.5v5.0M331.7 234.3h5.0M334.2 231.8v5.0M332.6 232.5h5.0M335.1 230.0v5.0M333.5 234.9h5.0M336.0 232.4v5.0M334.4 232.5h5.0M336.9 230.0v5.0M335.3 233.3h5.0M337.8 230.8v5.0M336.2 235.0h5.0M338.7 232.5v5.0M337.1 234.5h5.0M339.6 232.0v5.0M338.0 234.3h5.0M340.5 231.8v5.0M338.9 233.5h5.0M341.4 231.0v5.0M339.8 232.8h5.0M342.3 230.3v5.0M340.7 234.1h5.0M343.2 231.6v5.0M341.6 232.6h5.0M344.1 230.1v5.0M342.5 232.9h5.0M345.0 230.4v5.0M343.4 233.4h5.0M345.9 230.9v5.0M344.3 232.4h5.0M346.8 229.9v5.0M345.2 233.5h5.0M347.7 231.0v5.0M346.1 234.6h5.0M348.6 232.1v5.0M347.0 234.3h5.0M349.5 231.8v5.0M347.9 233.8h5.0M350.4 231.3v5.0M348.8 234.1h5.0M351.3 231.6v5.0M349.7 233.7h5.0M352.2 231.2v5.0M350.6 232.8h5.0M353.1 230.3v5.0M351.5 234.1h5.0M354.0 231.6v5.0M352.4 233.5h5.0M354.9 231.0v5.0M353.3 234.5h5.0M355.8 232.0v5.0M354.2 234.9h5.0M356.7 232.4v5.0M355.1 233.6h5.0M357.6 231.1v5.0M356.0 234.0h5.0M358.5 231.5v5.0M356.9 234.5h5.0M359.4 232.0v5.0M357.8 233.6h5.0M360.3 231.1v5.0M358.7 233.1h5.0M361.2 230.6v5.0M359.6 234.5h5.0M362.1 232.0v5.0M360.5 234.9h5.0M363.0 232.4v5.0M361.4 234.6h5.0M363.9 232.1v5.0M362.3 234.4h5.0M364.8 231.9v5.0M363.2 234.9h5.0M365.7 232.4v5.0M364.1 234.4h5.0M366.6 231.9v5.0M365.0 234.3h5.0M367.5 231.8v5.0M365.9 233.8h5.0M368.4 231.3v5.0M366.8 233.4h5.0M369.3 230.9v5.0M367.7 234.3h5.0M370.2 231.8v5.0M368.6 232.8h5.0M371.1 230.3v5.0M369.5 233.7h5.0M372.0 231.2v5.0M370.4 234.7h5.0M372.9 232.2v5.0M371.3 234.5h5.0M373.8 232.0v5.0M372.2 234.3h5.0M374.7 231.8v5.0M373.1 233.2h5.0M375.6 230.7v5.0M374.0 233.7h5.0M376.5 231.2v5.0M374.9 233.8h5.0M377.4 231.3v5.0M375.8 234.3h5.0M378.3 231.8v5.0M376.7 233.7h5.0M379.2 231.2v5.0M377.6 234.5h5.0M380.1 232.0v5.0M378.5 235.2h5.0M381.0 232.7v5.0M379.4 233.1h5.0M381.9 230.6v5.0M380.3 234.4h5.0M382.8 231.9v5.0M381.2 234.8h5.0M383.7 232.3v5.0M382.1 233.7h5.0M384.6 231.2v5.0M166.5 160.5h5.0M169.0 158.0v5.0M247.2 169.5h5.0M249.7 167.0v5.0M328.0 173.8h5.0M330.5 171.3v5.0M184.4 241.4h5.0M186.9 238.9v5.0M159.5 245.5h5.0M162.0 243.0v5.0" fill="none" stroke="#A8BEE0" stroke-width="1.4"/><path d="M100.5 172.8h4.1v4.1h-4.1ZM103.8 188.6h4.1v4.1h-4.1ZM107.2 192.8h4.1v4.1h-4.1ZM110.4 196.9h4.1v4.1h-4.1ZM114.0 194.2h4.1v4.1h-4.1ZM117.7 200.0h4.1v4.1h-4.1ZM120.8 192.8h4.1v4.1h-4.1ZM123.9 196.9h4.1v4.1h-4.1ZM127.0 203.8h4.1v4.1h-4.1ZM130.0 205.1h4.1v4.1h-4.1ZM133.5 203.8h4.1v4.1h-4.1ZM136.8 211.4h4.1v4.1h-4.1ZM140.3 216.9h4.1v4.1h-4.1ZM143.4 217.6h4.1v4.1h-4.1ZM147.1 226.5h4.1v4.1h-4.1ZM150.0 234.1h4.1v4.1h-4.1ZM153.4 221.8h4.1v4.1h-4.1ZM156.9 218.6h4.1v4.1h-4.1ZM159.6 212.0h4.1v4.1h-4.1ZM163.1 219.6h4.1v4.1h-4.1ZM166.2 234.1h4.1v4.1h-4.1ZM169.3 226.9h4.1v4.1h-4.1ZM172.8 232.0h4.1v4.1h-4.1ZM175.5 214.5h4.1v4.1h-4.1ZM178.6 222.3h4.1v4.1h-4.1ZM181.8 221.8h4.1v4.1h-4.1ZM186.5 231.4h4.1v4.1h-4.1ZM189.4 247.1h4.1v4.1h-4.1ZM192.8 249.2h4.1v4.1h-4.1ZM195.6 231.4h4.1v4.1h-4.1ZM199.3 223.5h4.1v4.1h-4.1ZM202.0 218.9h4.1v4.1h-4.1ZM204.8 227.9h4.1v4.1h-4.1ZM208.2 230.8h4.1v4.1h-4.1ZM211.8 226.8h4.1v4.1h-4.1ZM214.8 222.4h4.1v4.1h-4.1ZM217.9 215.5h4.1v4.1h-4.1ZM221.3 220.3h4.1v4.1h-4.1ZM224.8 218.9h4.1v4.1h-4.1ZM228.2 215.5h4.1v4.1h-4.1ZM231.8 229.0h4.1v4.1h-4.1ZM234.9 247.2h4.1v4.1h-4.1ZM237.9 239.6h4.1v4.1h-4.1ZM241.3 246.9h4.1v4.1h-4.1ZM244.5 252.5h4.1v4.1h-4.1ZM247.6 244.2h4.1v4.1h-4.1ZM251.0 248.9h4.1v4.1h-4.1ZM254.2 264.6h4.1v4.1h-4.1ZM257.2 245.1h4.1v4.1h-4.1ZM261.1 270.8h4.1v4.1h-4.1ZM264.4 253.0h4.1v4.1h-4.1ZM267.6 233.4h4.1v4.1h-4.1ZM271.8 225.4h4.1v4.1h-4.1ZM275.1 224.0h4.1v4.1h-4.1ZM277.9 227.2h4.1v4.1h-4.1ZM281.3 230.8h4.1v4.1h-4.1ZM284.8 224.5h4.1v4.1h-4.1ZM288.2 225.4h4.1v4.1h-4.1ZM291.1 230.8h4.1v4.1h-4.1ZM294.6 230.0h4.1v4.1h-4.1ZM296.6 225.1h4.1v4.1h-4.1ZM300.6 225.9h4.1v4.1h-4.1ZM303.9 225.1h4.1v4.1h-4.1ZM306.9 228.8h4.1v4.1h-4.1ZM310.2 231.5h4.1v4.1h-4.1ZM313.9 222.4h4.1v4.1h-4.1ZM317.3 225.1h4.1v4.1h-4.1ZM320.9 223.4h4.1v4.1h-4.1ZM324.1 223.4h4.1v4.1h-4.1ZM327.9 222.4h4.1v4.1h-4.1ZM332.8 225.1h4.1v4.1h-4.1ZM336.6 219.6h4.1v4.1h-4.1ZM341.8 219.6h4.1v4.1h-4.1ZM345.6 215.9h4.1v4.1h-4.1ZM349.4 222.9h4.1v4.1h-4.1ZM352.4 218.8h4.1v4.1h-4.1ZM356.2 224.5h4.1v4.1h-4.1ZM360.1 222.4h4.1v4.1h-4.1ZM363.8 225.6h4.1v4.1h-4.1ZM366.9 225.6h4.1v4.1h-4.1ZM368.9 219.6h4.1v4.1h-4.1ZM372.3 225.6h4.1v4.1h-4.1ZM375.6 218.8h4.1v4.1h-4.1ZM378.8 220.2h4.1v4.1h-4.1ZM381.9 211.8h4.1v4.1h-4.1ZM385.1 209.5h4.1v4.1h-4.1ZM388.3 206.3h4.1v4.1h-4.1ZM391.6 206.8h4.1v4.1h-4.1Z" fill="#145224"/></g><g clip-path="url(#c01)"><path d="M415.1 198.7l3.8 3.8m0 -3.8l-3.8 3.8M416.0 199.3l3.8 3.8m0 -3.8l-3.8 3.8M416.9 197.4l3.8 3.8m0 -3.8l-3.8 3.8M417.8 198.0l3.8 3.8m0 -3.8l-3.8 3.8M418.7 197.1l3.8 3.8m0 -3.8l-3.8 3.8M419.6 197.9l3.8 3.8m0 -3.8l-3.8 3.8M420.5 198.0l3.8 3.8m0 -3.8l-3.8 3.8M421.4 197.0l3.8 3.8m0 -3.8l-3.8 3.8M422.3 196.0l3.8 3.8m0 -3.8l-3.8 3.8M423.2 196.6l3.8 3.8m0 -3.8l-3.8 3.8M424.1 196.2l3.8 3.8m0 -3.8l-3.8 3.8M425.0 196.3l3.8 3.8m0 -3.8l-3.8 3.8M425.9 195.7l3.8 3.8m0 -3.8l-3.8 3.8M426.8 195.7l3.8 3.8m0 -3.8l-3.8 3.8M427.7 195.8l3.8 3.8m0 -3.8l-3.8 3.8M428.6 194.9l3.8 3.8m0 -3.8l-3.8 3.8M429.5 194.5l3.8 3.8m0 -3.8l-3.8 3.8M430.4 195.3l3.8 3.8m0 -3.8l-3.8 3.8M431.3 193.9l3.8 3.8m0 -3.8l-3.8 3.8M432.2 194.7l3.8 3.8m0 -3.8l-3.8 3.8M433.1 194.1l3.8 3.8m0 -3.8l-3.8 3.8M434.0 194.6l3.8 3.8m0 -3.8l-3.8 3.8M434.9 193.4l3.8 3.8m0 -3.8l-3.8 3.8M435.8 194.9l3.8 3.8m0 -3.8l-3.8 3.8M436.7 193.6l3.8 3.8m0 -3.8l-3.8 3.8M437.6 193.0l3.8 3.8m0 -3.8l-3.8 3.8M438.5 193.3l3.8 3.8m0 -3.8l-3.8 3.8M439.4 193.4l3.8 3.8m0 -3.8l-3.8 3.8M440.3 192.7l3.8 3.8m0 -3.8l-3.8 3.8M441.2 193.3l3.8 3.8m0 -3.8l-3.8 3.8M442.1 193.2l3.8 3.8m0 -3.8l-3.8 3.8M443.0 193.6l3.8 3.8m0 -3.8l-3.8 3.8M443.9 192.9l3.8 3.8m0 -3.8l-3.8 3.8M444.8 192.7l3.8 3.8m0 -3.8l-3.8 3.8M445.7 192.5l3.8 3.8m0 -3.8l-3.8 3.8M446.6 193.3l3.8 3.8m0 -3.8l-3.8 3.8M447.5 193.6l3.8 3.8m0 -3.8l-3.8 3.8M448.4 192.8l3.8 3.8m0 -3.8l-3.8 3.8M449.3 192.1l3.8 3.8m0 -3.8l-3.8 3.8M450.2 193.1l3.8 3.8m0 -3.8l-3.8 3.8M451.1 192.2l3.8 3.8m0 -3.8l-3.8 3.8M452.0 191.8l3.8 3.8m0 -3.8l-3.8 3.8M452.9 191.6l3.8 3.8m0 -3.8l-3.8 3.8M453.8 192.7l3.8 3.8m0 -3.8l-3.8 3.8M454.7 192.7l3.8 3.8m0 -3.8l-3.8 3.8M455.6 192.3l3.8 3.8m0 -3.8l-3.8 3.8M456.5 192.0l3.8 3.8m0 -3.8l-3.8 3.8M457.4 192.2l3.8 3.8m0 -3.8l-3.8 3.8M458.3 191.6l3.8 3.8m0 -3.8l-3.8 3.8M459.2 192.9l3.8 3.8m0 -3.8l-3.8 3.8M460.1 191.8l3.8 3.8m0 -3.8l-3.8 3.8M461.0 192.3l3.8 3.8m0 -3.8l-3.8 3.8M461.9 192.7l3.8 3.8m0 -3.8l-3.8 3.8M462.8 192.7l3.8 3.8m0 -3.8l-3.8 3.8M463.7 192.0l3.8 3.8m0 -3.8l-3.8 3.8M464.6 191.7l3.8 3.8m0 -3.8l-3.8 3.8M465.5 192.2l3.8 3.8m0 -3.8l-3.8 3.8M466.4 191.4l3.8 3.8m0 -3.8l-3.8 3.8M467.3 192.7l3.8 3.8m0 -3.8l-3.8 3.8M468.2 191.8l3.8 3.8m0 -3.8l-3.8 3.8M469.1 192.7l3.8 3.8m0 -3.8l-3.8 3.8M470.0 191.7l3.8 3.8m0 -3.8l-3.8 3.8M470.9 191.9l3.8 3.8m0 -3.8l-3.8 3.8M471.8 191.7l3.8 3.8m0 -3.8l-3.8 3.8M472.7 192.0l3.8 3.8m0 -3.8l-3.8 3.8M473.6 191.5l3.8 3.8m0 -3.8l-3.8 3.8M474.5 191.2l3.8 3.8m0 -3.8l-3.8 3.8M475.4 192.5l3.8 3.8m0 -3.8l-3.8 3.8M476.3 191.7l3.8 3.8m0 -3.8l-3.8 3.8M477.2 191.6l3.8 3.8m0 -3.8l-3.8 3.8M478.1 191.7l3.8 3.8m0 -3.8l-3.8 3.8M479.0 192.1l3.8 3.8m0 -3.8l-3.8 3.8M479.9 192.0l3.8 3.8m0 -3.8l-3.8 3.8M480.8 192.3l3.8 3.8m0 -3.8l-3.8 3.8M481.7 192.4l3.8 3.8m0 -3.8l-3.8 3.8M482.6 191.9l3.8 3.8m0 -3.8l-3.8 3.8M483.5 192.9l3.8 3.8m0 -3.8l-3.8 3.8M484.4 192.7l3.8 3.8m0 -3.8l-3.8 3.8M485.3 191.3l3.8 3.8m0 -3.8l-3.8 3.8M486.2 192.7l3.8 3.8m0 -3.8l-3.8 3.8M487.1 192.8l3.8 3.8m0 -3.8l-3.8 3.8M488.0 192.6l3.8 3.8m0 -3.8l-3.8 3.8M488.9 191.5l3.8 3.8m0 -3.8l-3.8 3.8M489.8 192.7l3.8 3.8m0 -3.8l-3.8 3.8M490.7 192.3l3.8 3.8m0 -3.8l-3.8 3.8M491.6 191.2l3.8 3.8m0 -3.8l-3.8 3.8M492.5 191.2l3.8 3.8m0 -3.8l-3.8 3.8M493.4 192.9l3.8 3.8m0 -3.8l-3.8 3.8M494.3 192.4l3.8 3.8m0 -3.8l-3.8 3.8M495.2 191.7l3.8 3.8m0 -3.8l-3.8 3.8M496.1 191.4l3.8 3.8m0 -3.8l-3.8 3.8M497.0 191.5l3.8 3.8m0 -3.8l-3.8 3.8M497.9 191.6l3.8 3.8m0 -3.8l-3.8 3.8M498.8 192.6l3.8 3.8m0 -3.8l-3.8 3.8M499.7 191.8l3.8 3.8m0 -3.8l-3.8 3.8M500.6 191.5l3.8 3.8m0 -3.8l-3.8 3.8M501.5 192.8l3.8 3.8m0 -3.8l-3.8 3.8M502.4 192.6l3.8 3.8m0 -3.8l-3.8 3.8M503.3 191.5l3.8 3.8m0 -3.8l-3.8 3.8M504.2 192.8l3.8 3.8m0 -3.8l-3.8 3.8M505.1 192.3l3.8 3.8m0 -3.8l-3.8 3.8M506.0 192.6l3.8 3.8m0 -3.8l-3.8 3.8M506.9 192.4l3.8 3.8m0 -3.8l-3.8 3.8M507.8 192.8l3.8 3.8m0 -3.8l-3.8 3.8M508.7 192.6l3.8 3.8m0 -3.8l-3.8 3.8M509.6 192.7l3.8 3.8m0 -3.8l-3.8 3.8M510.5 191.6l3.8 3.8m0 -3.8l-3.8 3.8M511.4 192.4l3.8 3.8m0 -3.8l-3.8 3.8M512.3 192.2l3.8 3.8m0 -3.8l-3.8 3.8M513.2 192.6l3.8 3.8m0 -3.8l-3.8 3.8M514.1 192.0l3.8 3.8m0 -3.8l-3.8 3.8M515.0 192.9l3.8 3.8m0 -3.8l-3.8 3.8M515.9 192.3l3.8 3.8m0 -3.8l-3.8 3.8M516.8 191.8l3.8 3.8m0 -3.8l-3.8 3.8M517.7 191.8l3.8 3.8m0 -3.8l-3.8 3.8M518.6 191.6l3.8 3.8m0 -3.8l-3.8 3.8M519.5 192.3l3.8 3.8m0 -3.8l-3.8 3.8M520.4 191.5l3.8 3.8m0 -3.8l-3.8 3.8M521.3 192.3l3.8 3.8m0 -3.8l-3.8 3.8M522.2 191.7l3.8 3.8m0 -3.8l-3.8 3.8M523.1 192.4l3.8 3.8m0 -3.8l-3.8 3.8M524.0 192.4l3.8 3.8m0 -3.8l-3.8 3.8M524.9 192.5l3.8 3.8m0 -3.8l-3.8 3.8M525.8 193.1l3.8 3.8m0 -3.8l-3.8 3.8M526.7 191.6l3.8 3.8m0 -3.8l-3.8 3.8M527.6 193.1l3.8 3.8m0 -3.8l-3.8 3.8M528.5 192.5l3.8 3.8m0 -3.8l-3.8 3.8M529.4 192.7l3.8 3.8m0 -3.8l-3.8 3.8M530.3 192.9l3.8 3.8m0 -3.8l-3.8 3.8M531.2 193.2l3.8 3.8m0 -3.8l-3.8 3.8M532.1 192.4l3.8 3.8m0 -3.8l-3.8 3.8M533.0 192.5l3.8 3.8m0 -3.8l-3.8 3.8M533.9 193.5l3.8 3.8m0 -3.8l-3.8 3.8M534.8 191.9l3.8 3.8m0 -3.8l-3.8 3.8M535.7 192.9l3.8 3.8m0 -3.8l-3.8 3.8M536.6 193.0l3.8 3.8m0 -3.8l-3.8 3.8M537.5 191.9l3.8 3.8m0 -3.8l-3.8 3.8M538.4 193.0l3.8 3.8m0 -3.8l-3.8 3.8M539.3 193.1l3.8 3.8m0 -3.8l-3.8 3.8M540.2 193.6l3.8 3.8m0 -3.8l-3.8 3.8M541.1 192.5l3.8 3.8m0 -3.8l-3.8 3.8M542.0 193.7l3.8 3.8m0 -3.8l-3.8 3.8M542.9 192.9l3.8 3.8m0 -3.8l-3.8 3.8M543.8 192.9l3.8 3.8m0 -3.8l-3.8 3.8M544.7 193.6l3.8 3.8m0 -3.8l-3.8 3.8M545.6 192.1l3.8 3.8m0 -3.8l-3.8 3.8M546.5 193.4l3.8 3.8m0 -3.8l-3.8 3.8M547.4 193.2l3.8 3.8m0 -3.8l-3.8 3.8M548.3 192.7l3.8 3.8m0 -3.8l-3.8 3.8M549.2 193.7l3.8 3.8m0 -3.8l-3.8 3.8M550.1 192.8l3.8 3.8m0 -3.8l-3.8 3.8M551.0 193.0l3.8 3.8m0 -3.8l-3.8 3.8M551.9 193.2l3.8 3.8m0 -3.8l-3.8 3.8M552.8 193.6l3.8 3.8m0 -3.8l-3.8 3.8M553.7 192.6l3.8 3.8m0 -3.8l-3.8 3.8M554.6 193.1l3.8 3.8m0 -3.8l-3.8 3.8M555.5 193.1l3.8 3.8m0 -3.8l-3.8 3.8M556.4 193.3l3.8 3.8m0 -3.8l-3.8 3.8M557.3 193.8l3.8 3.8m0 -3.8l-3.8 3.8M558.2 192.9l3.8 3.8m0 -3.8l-3.8 3.8M559.1 193.9l3.8 3.8m0 -3.8l-3.8 3.8M560.0 193.1l3.8 3.8m0 -3.8l-3.8 3.8M560.9 193.4l3.8 3.8m0 -3.8l-3.8 3.8M561.8 193.0l3.8 3.8m0 -3.8l-3.8 3.8M562.7 193.4l3.8 3.8m0 -3.8l-3.8 3.8M563.6 194.3l3.8 3.8m0 -3.8l-3.8 3.8M564.5 193.7l3.8 3.8m0 -3.8l-3.8 3.8M565.4 194.0l3.8 3.8m0 -3.8l-3.8 3.8M566.3 193.2l3.8 3.8m0 -3.8l-3.8 3.8M567.2 193.2l3.8 3.8m0 -3.8l-3.8 3.8M568.1 193.2l3.8 3.8m0 -3.8l-3.8 3.8M569.0 193.8l3.8 3.8m0 -3.8l-3.8 3.8M569.9 193.9l3.8 3.8m0 -3.8l-3.8 3.8M570.8 194.2l3.8 3.8m0 -3.8l-3.8 3.8M571.7 192.9l3.8 3.8m0 -3.8l-3.8 3.8M572.6 194.1l3.8 3.8m0 -3.8l-3.8 3.8M573.5 194.5l3.8 3.8m0 -3.8l-3.8 3.8M574.4 193.9l3.8 3.8m0 -3.8l-3.8 3.8M575.3 193.0l3.8 3.8m0 -3.8l-3.8 3.8M576.2 193.5l3.8 3.8m0 -3.8l-3.8 3.8M577.1 193.0l3.8 3.8m0 -3.8l-3.8 3.8M578.0 193.4l3.8 3.8m0 -3.8l-3.8 3.8M578.9 194.7l3.8 3.8m0 -3.8l-3.8 3.8M579.8 194.2l3.8 3.8m0 -3.8l-3.8 3.8M580.7 194.3l3.8 3.8m0 -3.8l-3.8 3.8M581.6 194.6l3.8 3.8m0 -3.8l-3.8 3.8M582.5 194.8l3.8 3.8m0 -3.8l-3.8 3.8M583.4 194.3l3.8 3.8m0 -3.8l-3.8 3.8M584.3 194.4l3.8 3.8m0 -3.8l-3.8 3.8M585.2 194.4l3.8 3.8m0 -3.8l-3.8 3.8M586.1 194.6l3.8 3.8m0 -3.8l-3.8 3.8M587.0 194.4l3.8 3.8m0 -3.8l-3.8 3.8M587.9 194.6l3.8 3.8m0 -3.8l-3.8 3.8M588.8 193.8l3.8 3.8m0 -3.8l-3.8 3.8M589.7 194.7l3.8 3.8m0 -3.8l-3.8 3.8M590.6 194.3l3.8 3.8m0 -3.8l-3.8 3.8M591.5 194.9l3.8 3.8m0 -3.8l-3.8 3.8M592.4 193.7l3.8 3.8m0 -3.8l-3.8 3.8M593.3 193.9l3.8 3.8m0 -3.8l-3.8 3.8M594.2 193.7l3.8 3.8m0 -3.8l-3.8 3.8M595.1 195.0l3.8 3.8m0 -3.8l-3.8 3.8M596.0 195.3l3.8 3.8m0 -3.8l-3.8 3.8M596.9 194.9l3.8 3.8m0 -3.8l-3.8 3.8M597.8 194.4l3.8 3.8m0 -3.8l-3.8 3.8M598.7 195.3l3.8 3.8m0 -3.8l-3.8 3.8M599.6 195.2l3.8 3.8m0 -3.8l-3.8 3.8M600.5 194.8l3.8 3.8m0 -3.8l-3.8 3.8M601.4 194.3l3.8 3.8m0 -3.8l-3.8 3.8M602.3 194.4l3.8 3.8m0 -3.8l-3.8 3.8M603.2 194.7l3.8 3.8m0 -3.8l-3.8 3.8M604.1 194.5l3.8 3.8m0 -3.8l-3.8 3.8M605.0 194.8l3.8 3.8m0 -3.8l-3.8 3.8M605.9 195.2l3.8 3.8m0 -3.8l-3.8 3.8M606.8 195.7l3.8 3.8m0 -3.8l-3.8 3.8M607.7 194.2l3.8 3.8m0 -3.8l-3.8 3.8M608.6 195.1l3.8 3.8m0 -3.8l-3.8 3.8M609.5 194.2l3.8 3.8m0 -3.8l-3.8 3.8M610.4 194.4l3.8 3.8m0 -3.8l-3.8 3.8M611.3 195.7l3.8 3.8m0 -3.8l-3.8 3.8M612.2 195.3l3.8 3.8m0 -3.8l-3.8 3.8M613.1 195.9l3.8 3.8m0 -3.8l-3.8 3.8M614.0 195.1l3.8 3.8m0 -3.8l-3.8 3.8M614.9 194.4l3.8 3.8m0 -3.8l-3.8 3.8M615.8 195.1l3.8 3.8m0 -3.8l-3.8 3.8M616.7 195.5l3.8 3.8m0 -3.8l-3.8 3.8M617.6 196.1l3.8 3.8m0 -3.8l-3.8 3.8M618.5 196.2l3.8 3.8m0 -3.8l-3.8 3.8M619.4 195.4l3.8 3.8m0 -3.8l-3.8 3.8M620.3 195.3l3.8 3.8m0 -3.8l-3.8 3.8M621.2 194.8l3.8 3.8m0 -3.8l-3.8 3.8M622.1 195.8l3.8 3.8m0 -3.8l-3.8 3.8M623.0 195.0l3.8 3.8m0 -3.8l-3.8 3.8M623.9 194.9l3.8 3.8m0 -3.8l-3.8 3.8M624.8 194.7l3.8 3.8m0 -3.8l-3.8 3.8M625.7 194.8l3.8 3.8m0 -3.8l-3.8 3.8M626.6 196.0l3.8 3.8m0 -3.8l-3.8 3.8M627.5 195.1l3.8 3.8m0 -3.8l-3.8 3.8M628.4 196.6l3.8 3.8m0 -3.8l-3.8 3.8M629.3 195.1l3.8 3.8m0 -3.8l-3.8 3.8M630.2 196.5l3.8 3.8m0 -3.8l-3.8 3.8M631.1 195.3l3.8 3.8m0 -3.8l-3.8 3.8M632.0 195.1l3.8 3.8m0 -3.8l-3.8 3.8M632.9 196.4l3.8 3.8m0 -3.8l-3.8 3.8M633.8 195.6l3.8 3.8m0 -3.8l-3.8 3.8M634.7 196.5l3.8 3.8m0 -3.8l-3.8 3.8M635.6 195.6l3.8 3.8m0 -3.8l-3.8 3.8M636.5 195.4l3.8 3.8m0 -3.8l-3.8 3.8M637.4 196.7l3.8 3.8m0 -3.8l-3.8 3.8M638.3 196.7l3.8 3.8m0 -3.8l-3.8 3.8M639.2 197.0l3.8 3.8m0 -3.8l-3.8 3.8M640.1 196.8l3.8 3.8m0 -3.8l-3.8 3.8M641.0 195.7l3.8 3.8m0 -3.8l-3.8 3.8M641.9 196.7l3.8 3.8m0 -3.8l-3.8 3.8M642.8 196.9l3.8 3.8m0 -3.8l-3.8 3.8M643.7 196.5l3.8 3.8m0 -3.8l-3.8 3.8M644.6 197.4l3.8 3.8m0 -3.8l-3.8 3.8M645.5 196.2l3.8 3.8m0 -3.8l-3.8 3.8M646.4 197.5l3.8 3.8m0 -3.8l-3.8 3.8M647.3 197.1l3.8 3.8m0 -3.8l-3.8 3.8M648.2 195.9l3.8 3.8m0 -3.8l-3.8 3.8M649.1 195.9l3.8 3.8m0 -3.8l-3.8 3.8M650.0 197.1l3.8 3.8m0 -3.8l-3.8 3.8M650.9 197.5l3.8 3.8m0 -3.8l-3.8 3.8M651.8 196.2l3.8 3.8m0 -3.8l-3.8 3.8M652.7 196.7l3.8 3.8m0 -3.8l-3.8 3.8M653.6 197.5l3.8 3.8m0 -3.8l-3.8 3.8M654.5 196.5l3.8 3.8m0 -3.8l-3.8 3.8M655.4 197.8l3.8 3.8m0 -3.8l-3.8 3.8M656.3 197.1l3.8 3.8m0 -3.8l-3.8 3.8M657.2 196.4l3.8 3.8m0 -3.8l-3.8 3.8M658.1 197.0l3.8 3.8m0 -3.8l-3.8 3.8M659.0 197.4l3.8 3.8m0 -3.8l-3.8 3.8M659.9 197.2l3.8 3.8m0 -3.8l-3.8 3.8M660.8 197.7l3.8 3.8m0 -3.8l-3.8 3.8M661.7 196.8l3.8 3.8m0 -3.8l-3.8 3.8M662.6 198.0l3.8 3.8m0 -3.8l-3.8 3.8M663.5 197.3l3.8 3.8m0 -3.8l-3.8 3.8M664.4 197.8l3.8 3.8m0 -3.8l-3.8 3.8M665.3 197.9l3.8 3.8m0 -3.8l-3.8 3.8M666.2 197.5l3.8 3.8m0 -3.8l-3.8 3.8M667.1 197.5l3.8 3.8m0 -3.8l-3.8 3.8M668.0 198.3l3.8 3.8m0 -3.8l-3.8 3.8M668.9 198.6l3.8 3.8m0 -3.8l-3.8 3.8M669.8 198.4l3.8 3.8m0 -3.8l-3.8 3.8M670.7 198.0l3.8 3.8m0 -3.8l-3.8 3.8M671.6 197.6l3.8 3.8m0 -3.8l-3.8 3.8M672.5 197.2l3.8 3.8m0 -3.8l-3.8 3.8M673.4 198.9l3.8 3.8m0 -3.8l-3.8 3.8M674.3 198.4l3.8 3.8m0 -3.8l-3.8 3.8M675.2 198.7l3.8 3.8m0 -3.8l-3.8 3.8M676.1 197.9l3.8 3.8m0 -3.8l-3.8 3.8M677.0 198.4l3.8 3.8m0 -3.8l-3.8 3.8M677.9 199.1l3.8 3.8m0 -3.8l-3.8 3.8M678.8 198.9l3.8 3.8m0 -3.8l-3.8 3.8M679.7 198.5l3.8 3.8m0 -3.8l-3.8 3.8M680.6 198.0l3.8 3.8m0 -3.8l-3.8 3.8M681.5 198.3l3.8 3.8m0 -3.8l-3.8 3.8M682.4 199.2l3.8 3.8m0 -3.8l-3.8 3.8M683.3 198.3l3.8 3.8m0 -3.8l-3.8 3.8M684.2 198.9l3.8 3.8m0 -3.8l-3.8 3.8M685.1 198.8l3.8 3.8m0 -3.8l-3.8 3.8M686.0 199.4l3.8 3.8m0 -3.8l-3.8 3.8M686.9 199.2l3.8 3.8m0 -3.8l-3.8 3.8M687.8 198.3l3.8 3.8m0 -3.8l-3.8 3.8M688.7 197.9l3.8 3.8m0 -3.8l-3.8 3.8M689.6 198.4l3.8 3.8m0 -3.8l-3.8 3.8M690.5 198.7l3.8 3.8m0 -3.8l-3.8 3.8M481.8 159.1l3.8 3.8m0 -3.8l-3.8 3.8M562.5 166.8l3.8 3.8m0 -3.8l-3.8 3.8M643.4 171.3l3.8 3.8m0 -3.8l-3.8 3.8" fill="none" stroke="#0E72B8" stroke-width="1.3"/><path d="M417.0 203.1L419.8 207.9L414.2 207.9ZM417.9 203.3L420.7 208.1L415.1 208.1ZM418.8 203.2L421.6 208.1L416.0 208.1ZM419.7 201.5L422.5 206.3L416.9 206.3ZM420.6 202.7L423.4 207.5L417.8 207.5ZM421.5 202.4L424.3 207.3L418.7 207.3ZM422.4 202.3L425.2 207.2L419.6 207.2ZM423.3 201.6L426.1 206.5L420.5 206.5ZM424.2 200.9L427.0 205.7L421.4 205.7ZM425.1 201.7L427.9 206.6L422.3 206.6ZM426.0 201.4L428.8 206.3L423.2 206.3ZM426.9 201.0L429.7 205.9L424.1 205.9ZM427.8 201.2L430.6 206.1L425.0 206.1ZM428.7 200.0L431.5 204.8L425.9 204.8ZM429.6 199.3L432.4 204.2L426.8 204.2ZM430.5 199.9L433.3 204.8L427.7 204.8ZM431.4 200.2L434.2 205.0L428.6 205.0ZM432.3 199.0L435.1 203.9L429.5 203.9ZM433.2 199.9L436.0 204.8L430.4 204.8ZM434.1 200.2L436.9 205.0L431.3 205.0ZM435.0 198.9L437.8 203.7L432.2 203.7ZM435.9 199.5L438.7 204.3L433.1 204.3ZM436.8 199.5L439.6 204.4L434.0 204.4ZM437.7 199.1L440.5 203.9L434.9 203.9ZM438.6 198.5L441.4 203.4L435.8 203.4ZM439.5 198.6L442.3 203.4L436.7 203.4ZM440.4 199.4L443.2 204.2L437.6 204.2ZM441.3 199.4L444.1 204.3L438.5 204.3ZM442.2 198.7L445.0 203.6L439.4 203.6ZM443.1 198.0L445.9 202.8L440.3 202.8ZM444.0 199.2L446.8 204.1L441.2 204.1ZM444.9 199.1L447.7 203.9L442.1 203.9ZM445.8 198.0L448.6 202.9L443.0 202.9ZM446.7 198.6L449.5 203.5L443.9 203.5ZM447.6 199.1L450.4 204.0L444.8 204.0ZM448.5 199.0L451.3 203.9L445.7 203.9ZM449.4 198.3L452.2 203.2L446.6 203.2ZM450.3 198.1L453.1 203.0L447.5 203.0ZM451.2 198.3L454.0 203.1L448.4 203.1ZM452.1 197.5L454.9 202.4L449.3 202.4ZM453.0 197.4L455.8 202.3L450.2 202.3ZM453.9 197.3L456.7 202.2L451.1 202.2ZM454.8 198.2L457.6 203.1L452.0 203.1ZM455.7 197.5L458.5 202.4L452.9 202.4ZM456.6 197.8L459.4 202.7L453.8 202.7ZM457.5 197.5L460.3 202.3L454.7 202.3ZM458.4 197.6L461.2 202.5L455.6 202.5ZM459.3 196.9L462.1 201.7L456.5 201.7ZM460.2 196.6L463.0 201.5L457.4 201.5ZM461.1 198.3L463.9 203.1L458.3 203.1ZM462.0 197.1L464.8 201.9L459.2 201.9ZM462.9 196.5L465.7 201.4L460.1 201.4ZM463.8 197.4L466.6 202.3L461.0 202.3ZM464.7 197.6L467.5 202.5L461.9 202.5ZM465.6 196.5L468.4 201.4L462.8 201.4ZM466.5 197.4L469.3 202.2L463.7 202.2ZM467.4 196.9L470.2 201.8L464.6 201.8ZM468.3 197.3L471.1 202.2L465.5 202.2ZM469.2 196.4L472.0 201.3L466.4 201.3ZM470.1 196.5L472.9 201.4L467.3 201.4ZM471.0 198.3L473.8 203.1L468.2 203.1ZM471.9 198.1L474.7 203.0L469.1 203.0ZM472.8 197.5L475.6 202.3L470.0 202.3ZM473.7 197.6L476.5 202.5L470.9 202.5ZM474.6 197.1L477.4 202.0L471.8 202.0ZM475.5 198.1L478.3 203.0L472.7 203.0ZM476.4 197.5L479.2 202.4L473.6 202.4ZM477.3 198.5L480.1 203.4L474.5 203.4ZM478.2 198.2L481.0 203.1L475.4 203.1ZM479.1 198.3L481.9 203.2L476.3 203.2ZM480.0 198.7L482.8 203.5L477.2 203.5ZM480.9 197.4L483.7 202.3L478.1 202.3ZM481.8 197.1L484.6 201.9L479.0 201.9ZM482.7 197.4L485.5 202.3L479.9 202.3ZM483.6 197.4L486.4 202.3L480.8 202.3ZM484.5 197.3L487.3 202.1L481.7 202.1ZM485.4 197.3L488.2 202.1L482.6 202.1ZM486.3 198.2L489.1 203.1L483.5 203.1ZM487.2 198.8L490.0 203.7L484.4 203.7ZM488.1 198.1L490.9 203.0L485.3 203.0ZM489.0 199.0L491.8 203.9L486.2 203.9ZM489.9 199.0L492.7 203.9L487.1 203.9ZM490.8 197.5L493.6 202.4L488.0 202.4ZM491.7 198.5L494.5 203.4L488.9 203.4ZM492.6 198.2L495.4 203.1L489.8 203.1ZM493.5 197.8L496.3 202.6L490.7 202.6ZM494.4 199.3L497.2 204.2L491.6 204.2ZM495.3 198.1L498.1 203.0L492.5 203.0ZM496.2 198.7L499.0 203.6L493.4 203.6ZM497.1 198.9L499.9 203.7L494.3 203.7ZM498.0 199.5L500.8 204.3L495.2 204.3ZM498.9 199.0L501.7 203.9L496.1 203.9ZM499.8 198.6L502.6 203.4L497.0 203.4ZM500.7 198.7L503.5 203.6L497.9 203.6ZM501.6 198.2L504.4 203.1L498.8 203.1ZM502.5 199.7L505.3 204.6L499.7 204.6ZM503.4 199.8L506.2 204.7L500.6 204.7ZM504.3 198.5L507.1 203.3L501.5 203.3ZM505.2 198.2L508.0 203.0L502.4 203.0ZM506.1 198.6L508.9 203.5L503.3 203.5ZM507.0 198.8L509.8 203.7L504.2 203.7ZM507.9 199.9L510.7 204.7L505.1 204.7ZM508.8 199.9L511.6 204.8L506.0 204.8ZM509.7 199.8L512.5 204.7L506.9 204.7ZM510.6 198.4L513.4 203.3L507.8 203.3ZM511.5 199.8L514.3 204.7L508.7 204.7ZM512.4 199.7L515.2 204.6L509.6 204.6ZM513.3 199.6L516.1 204.5L510.5 204.5ZM514.2 200.3L517.0 205.2L511.4 205.2ZM515.1 198.7L517.9 203.5L512.3 203.5ZM516.0 198.9L518.8 203.7L513.2 203.7ZM516.9 200.0L519.7 204.9L514.1 204.9ZM517.8 200.4L520.6 205.2L515.0 205.2ZM518.7 200.0L521.5 204.8L515.9 204.8ZM519.6 199.3L522.4 204.2L516.8 204.2ZM520.5 199.9L523.3 204.7L517.7 204.7ZM521.4 200.2L524.2 205.1L518.6 205.1ZM522.3 199.1L525.1 204.0L519.5 204.0ZM523.2 199.5L526.0 204.4L520.4 204.4ZM524.1 199.5L526.9 204.3L521.3 204.3ZM525.0 199.3L527.8 204.1L522.2 204.1ZM525.9 199.9L528.7 204.8L523.1 204.8ZM526.8 199.4L529.6 204.3L524.0 204.3ZM527.7 199.6L530.5 204.4L524.9 204.4ZM528.6 199.5L531.4 204.3L525.8 204.3ZM529.5 200.5L532.3 205.3L526.7 205.3ZM530.4 199.3L533.2 204.2L527.6 204.2ZM531.3 200.6L534.1 205.5L528.5 205.5ZM532.2 199.7L535.0 204.6L529.4 204.6ZM533.1 199.5L535.9 204.3L530.3 204.3ZM534.0 201.1L536.8 206.0L531.2 206.0ZM534.9 199.9L537.7 204.8L532.1 204.8ZM535.8 201.2L538.6 206.1L533.0 206.1ZM536.7 201.2L539.5 206.1L533.9 206.1ZM537.6 201.3L540.4 206.2L534.8 206.2ZM538.5 200.0L541.3 204.9L535.7 204.9ZM539.4 200.7L542.2 205.5L536.6 205.5ZM540.3 200.1L543.1 205.0L537.5 205.0ZM541.2 201.7L544.0 206.5L538.4 206.5ZM542.1 201.6L544.9 206.4L539.3 206.4ZM543.0 201.3L545.8 206.1L540.2 206.1ZM543.9 201.0L546.7 205.9L541.1 205.9ZM544.8 200.9L547.6 205.8L542.0 205.8ZM545.7 201.8L548.5 206.7L542.9 206.7ZM546.6 201.3L549.4 206.1L543.8 206.1ZM547.5 201.6L550.3 206.5L544.7 206.5ZM548.4 200.8L551.2 205.7L545.6 205.7ZM549.3 201.0L552.1 205.9L546.5 205.9ZM550.2 200.8L553.0 205.7L547.4 205.7ZM551.1 202.1L553.9 206.9L548.3 206.9ZM552.0 201.9L554.8 206.7L549.2 206.7ZM552.9 201.2L555.7 206.1L550.1 206.1ZM553.8 202.6L556.6 207.4L551.0 207.4ZM554.7 201.6L557.5 206.4L551.9 206.4ZM555.6 201.9L558.4 206.7L552.8 206.7ZM556.5 201.5L559.3 206.4L553.7 206.4ZM557.4 201.8L560.2 206.6L554.6 206.6ZM558.3 202.9L561.1 207.7L555.5 207.7ZM559.2 202.0L562.0 206.9L556.4 206.9ZM560.1 201.8L562.9 206.7L557.3 206.7ZM561.0 202.5L563.8 207.3L558.2 207.3ZM561.9 202.2L564.7 207.1L559.1 207.1ZM562.8 203.3L565.6 208.2L560.0 208.2ZM563.7 202.0L566.5 206.9L560.9 206.9ZM564.6 203.6L567.4 208.5L561.8 208.5ZM565.5 202.0L568.3 206.9L562.7 206.9ZM566.4 203.6L569.2 208.5L563.6 208.5ZM567.3 203.3L570.1 208.1L564.5 208.1ZM568.2 202.5L571.0 207.4L565.4 207.4ZM569.1 203.0L571.9 207.9L566.3 207.9ZM570.0 202.8L572.8 207.6L567.2 207.6ZM570.9 202.8L573.7 207.6L568.1 207.6ZM571.8 202.7L574.6 207.6L569.0 207.6ZM572.7 203.1L575.5 207.9L569.9 207.9ZM573.6 204.3L576.4 209.1L570.8 209.1ZM574.5 204.3L577.3 209.2L571.7 209.2ZM575.4 204.3L578.2 209.1L572.6 209.1ZM576.3 202.8L579.1 207.7L573.5 207.7ZM577.2 203.3L580.0 208.1L574.4 208.1ZM578.1 204.4L580.9 209.3L575.3 209.3ZM579.0 203.0L581.8 207.8L576.2 207.8ZM579.9 204.2L582.7 209.1L577.1 209.1ZM580.8 203.5L583.6 208.4L578.0 208.4ZM581.7 204.8L584.5 209.7L578.9 209.7ZM582.6 203.1L585.4 208.0L579.8 208.0ZM583.5 204.6L586.3 209.5L580.7 209.5ZM584.4 203.8L587.2 208.7L581.6 208.7ZM585.3 203.5L588.1 208.4L582.5 208.4ZM586.2 203.4L589.0 208.2L583.4 208.2ZM587.1 204.9L589.9 209.8L584.3 209.8ZM588.0 204.4L590.8 209.3L585.2 209.3ZM588.9 203.9L591.7 208.7L586.1 208.7ZM589.8 204.4L592.6 209.2L587.0 209.2ZM590.7 205.3L593.5 210.2L587.9 210.2ZM591.6 204.1L594.4 209.0L588.8 209.0ZM592.5 204.8L595.3 209.7L589.7 209.7ZM593.4 204.1L596.2 208.9L590.6 208.9ZM594.3 204.2L597.1 209.1L591.5 209.1ZM595.2 205.3L598.0 210.2L592.4 210.2ZM596.1 205.3L598.9 210.2L593.3 210.2ZM597.0 204.4L599.8 209.3L594.2 209.3ZM597.9 204.3L600.7 209.1L595.1 209.1ZM598.8 204.4L601.6 209.2L596.0 209.2ZM599.7 205.4L602.5 210.2L596.9 210.2ZM600.6 205.2L603.4 210.1L597.8 210.1ZM601.5 204.9L604.3 209.7L598.7 209.7ZM602.4 204.8L605.2 209.7L599.6 209.7ZM603.3 205.6L606.1 210.5L600.5 210.5ZM604.2 205.9L607.0 210.7L601.4 210.7ZM605.1 206.1L607.9 211.0L602.3 211.0ZM606.0 205.7L608.8 210.6L603.2 210.6ZM606.9 205.1L609.7 210.0L604.1 210.0ZM607.8 204.9L610.6 209.8L605.0 209.8ZM608.7 206.2L611.5 211.1L605.9 211.1ZM609.6 205.7L612.4 210.5L606.8 210.5ZM610.5 206.3L613.3 211.2L607.7 211.2ZM611.4 205.2L614.2 210.0L608.6 210.0ZM612.3 206.6L615.1 211.4L609.5 211.4ZM613.2 205.8L616.0 210.7L610.4 210.7ZM614.1 206.8L616.9 211.6L611.3 211.6ZM615.0 206.9L617.8 211.7L612.2 211.7ZM615.9 206.3L618.7 211.1L613.1 211.1ZM616.8 205.5L619.6 210.3L614.0 210.3ZM617.7 207.1L620.5 212.0L614.9 212.0ZM618.6 206.4L621.4 211.3L615.8 211.3ZM619.5 207.2L622.3 212.1L616.7 212.1ZM620.4 206.2L623.2 211.0L617.6 211.0ZM621.3 206.1L624.1 210.9L618.5 210.9ZM622.2 207.3L625.0 212.2L619.4 212.2ZM623.1 206.5L625.9 211.4L620.3 211.4ZM624.0 206.2L626.8 211.1L621.2 211.1ZM624.9 206.7L627.7 211.5L622.1 211.5ZM625.8 207.1L628.6 212.0L623.0 212.0ZM626.7 206.1L629.5 211.0L623.9 211.0ZM627.6 207.1L630.4 212.0L624.8 212.0ZM628.5 207.0L631.3 211.9L625.7 211.9ZM629.4 207.2L632.2 212.1L626.6 212.1ZM630.3 206.6L633.1 211.4L627.5 211.4ZM631.2 207.7L634.0 212.6L628.4 212.6ZM632.1 208.0L634.9 212.8L629.3 212.8ZM633.0 208.1L635.8 213.0L630.2 213.0ZM633.9 207.2L636.7 212.0L631.1 212.0ZM634.8 207.9L637.6 212.8L632.0 212.8ZM635.7 207.4L638.5 212.3L632.9 212.3ZM636.6 208.1L639.4 213.0L633.8 213.0ZM637.5 207.0L640.3 211.8L634.7 211.8ZM638.4 208.5L641.2 213.3L635.6 213.3ZM639.3 208.7L642.1 213.5L636.5 213.5ZM640.2 207.9L643.0 212.8L637.4 212.8ZM641.1 208.0L643.9 212.9L638.3 212.9ZM642.0 208.1L644.8 213.0L639.2 213.0ZM642.9 208.2L645.7 213.0L640.1 213.0ZM643.8 207.3L646.6 212.2L641.0 212.2ZM644.7 209.1L647.5 213.9L641.9 213.9ZM645.6 207.8L648.4 212.7L642.8 212.7ZM646.5 207.8L649.3 212.6L643.7 212.6ZM647.4 207.7L650.2 212.6L644.6 212.6ZM648.3 208.0L651.1 212.9L645.5 212.9ZM649.2 209.1L652.0 214.0L646.4 214.0ZM650.1 207.8L652.9 212.6L647.3 212.6ZM651.0 207.9L653.8 212.8L648.2 212.8ZM651.9 209.1L654.7 213.9L649.1 213.9ZM652.8 208.2L655.6 213.1L650.0 213.1ZM653.7 208.0L656.5 212.8L650.9 212.8ZM654.6 209.1L657.4 214.0L651.8 214.0ZM655.5 209.1L658.3 214.0L652.7 214.0ZM656.4 209.1L659.2 213.9L653.6 213.9ZM657.3 209.5L660.1 214.3L654.5 214.3ZM658.2 208.4L661.0 213.3L655.4 213.3ZM659.1 209.9L661.9 214.7L656.3 214.7ZM660.0 209.7L662.8 214.5L657.2 214.5ZM660.9 208.5L663.7 213.4L658.1 213.4ZM661.8 208.7L664.6 213.6L659.0 213.6ZM662.7 209.5L665.5 214.3L659.9 214.3ZM663.6 209.5L666.4 214.4L660.8 214.4ZM664.5 209.2L667.3 214.0L661.7 214.0ZM665.4 209.0L668.2 213.8L662.6 213.8ZM666.3 209.5L669.1 214.4L663.5 214.4ZM667.2 209.1L670.0 214.0L664.4 214.0ZM668.1 210.0L670.9 214.9L665.3 214.9ZM669.0 210.5L671.8 215.4L666.2 215.4ZM669.9 209.3L672.7 214.2L667.1 214.2ZM670.8 210.1L673.6 215.0L668.0 215.0ZM671.7 210.5L674.5 215.4L668.9 215.4ZM672.6 209.5L675.4 214.4L669.8 214.4ZM673.5 210.8L676.3 215.6L670.7 215.6ZM674.4 211.0L677.2 215.9L671.6 215.9ZM675.3 210.1L678.1 215.0L672.5 215.0ZM676.2 210.2L679.0 215.1L673.4 215.1ZM677.1 211.1L679.9 215.9L674.3 215.9ZM678.0 210.6L680.8 215.4L675.2 215.4ZM678.9 210.4L681.7 215.2L676.1 215.2ZM679.8 211.4L682.6 216.3L677.0 216.3ZM680.7 211.2L683.5 216.0L677.9 216.0ZM681.6 210.5L684.4 215.3L678.8 215.3ZM682.5 210.3L685.3 215.2L679.7 215.2ZM683.4 210.6L686.2 215.4L680.6 215.4ZM684.3 210.8L687.1 215.7L681.5 215.7ZM685.2 211.9L688.0 216.7L682.4 216.7ZM686.1 211.6L688.9 216.5L683.3 216.5ZM687.0 211.9L689.8 216.7L684.2 216.7ZM687.9 211.7L690.7 216.6L685.1 216.6ZM688.8 211.9L691.6 216.7L686.0 216.7ZM689.7 210.5L692.5 215.4L686.9 215.4ZM690.6 211.4L693.4 216.3L687.8 216.3ZM691.5 212.2L694.3 217.1L688.7 217.1ZM692.4 212.3L695.2 217.1L689.6 217.1ZM693.3 211.1L696.1 216.0L690.5 216.0ZM694.2 211.5L697.0 216.3L691.4 216.3ZM695.1 211.9L697.9 216.8L692.3 216.8ZM696.0 211.5L698.8 216.3L693.2 216.3ZM696.9 211.8L699.7 216.7L694.1 216.7ZM697.8 211.1L700.6 215.9L695.0 215.9ZM483.7 167.1L486.5 172.0L480.9 172.0ZM476.6 203.0L479.4 207.9L473.8 207.9ZM494.8 202.6L497.6 207.5L492.0 207.5ZM645.3 185.3L648.1 190.2L642.5 190.2Z" fill="#EA7118"/><path d="M414.8 218.5a2.2 2.2 0 1 0 4.4 0a2.2 2.2 0 1 0 -4.4 0M415.7 218.6a2.2 2.2 0 1 0 4.4 0a2.2 2.2 0 1 0 -4.4 0M416.6 217.7a2.2 2.2 0 1 0 4.4 0a2.2 2.2 0 1 0 -4.4 0M417.5 218.0a2.2 2.2 0 1 0 4.4 0a2.2 2.2 0 1 0 -4.4 0M418.4 219.4a2.2 2.2 0 1 0 4.4 0a2.2 2.2 0 1 0 -4.4 0M419.3 219.1a2.2 2.2 0 1 0 4.4 0a2.2 2.2 0 1 0 -4.4 0M420.2 219.4a2.2 2.2 0 1 0 4.4 0a2.2 2.2 0 1 0 -4.4 0M421.1 218.8a2.2 2.2 0 1 0 4.4 0a2.2 2.2 0 1 0 -4.4 0M422.0 219.2a2.2 2.2 0 1 0 4.4 0a2.2 2.2 0 1 0 -4.4 0M422.9 219.3a2.2 2.2 0 1 0 4.4 0a2.2 2.2 0 1 0 -4.4 0M423.8 219.3a2.2 2.2 0 1 0 4.4 0a2.2 2.2 0 1 0 -4.4 0M424.7 217.8a2.2 2.2 0 1 0 4.4 0a2.2 2.2 0 1 0 -4.4 0M425.6 218.9a2.2 2.2 0 1 0 4.4 0a2.2 2.2 0 1 0 -4.4 0M426.5 218.3a2.2 2.2 0 1 0 4.4 0a2.2 2.2 0 1 0 -4.4 0M427.4 219.4a2.2 2.2 0 1 0 4.4 0a2.2 2.2 0 1 0 -4.4 0M428.3 219.0a2.2 2.2 0 1 0 4.4 0a2.2 2.2 0 1 0 -4.4 0M429.2 219.8a2.2 2.2 0 1 0 4.4 0a2.2 2.2 0 1 0 -4.4 0M430.1 220.8a2.2 2.2 0 1 0 4.4 0a2.2 2.2 0 1 0 -4.4 0M431.0 220.6a2.2 2.2 0 1 0 4.4 0a2.2 2.2 0 1 0 -4.4 0M431.9 220.2a2.2 2.2 0 1 0 4.4 0a2.2 2.2 0 1 0 -4.4 0M432.8 221.0a2.2 2.2 0 1 0 4.4 0a2.2 2.2 0 1 0 -4.4 0M433.7 221.2a2.2 2.2 0 1 0 4.4 0a2.2 2.2 0 1 0 -4.4 0M434.6 222.4a2.2 2.2 0 1 0 4.4 0a2.2 2.2 0 1 0 -4.4 0M435.5 221.6a2.2 2.2 0 1 0 4.4 0a2.2 2.2 0 1 0 -4.4 0M436.4 221.9a2.2 2.2 0 1 0 4.4 0a2.2 2.2 0 1 0 -4.4 0M437.3 222.9a2.2 2.2 0 1 0 4.4 0a2.2 2.2 0 1 0 -4.4 0M438.2 222.2a2.2 2.2 0 1 0 4.4 0a2.2 2.2 0 1 0 -4.4 0M439.1 223.4a2.2 2.2 0 1 0 4.4 0a2.2 2.2 0 1 0 -4.4 0M440.0 224.4a2.2 2.2 0 1 0 4.4 0a2.2 2.2 0 1 0 -4.4 0M440.9 223.9a2.2 2.2 0 1 0 4.4 0a2.2 2.2 0 1 0 -4.4 0M441.8 223.8a2.2 2.2 0 1 0 4.4 0a2.2 2.2 0 1 0 -4.4 0M442.7 224.5a2.2 2.2 0 1 0 4.4 0a2.2 2.2 0 1 0 -4.4 0M443.6 224.9a2.2 2.2 0 1 0 4.4 0a2.2 2.2 0 1 0 -4.4 0M444.5 224.5a2.2 2.2 0 1 0 4.4 0a2.2 2.2 0 1 0 -4.4 0M445.4 224.8a2.2 2.2 0 1 0 4.4 0a2.2 2.2 0 1 0 -4.4 0M446.3 225.1a2.2 2.2 0 1 0 4.4 0a2.2 2.2 0 1 0 -4.4 0M447.2 225.8a2.2 2.2 0 1 0 4.4 0a2.2 2.2 0 1 0 -4.4 0M448.1 226.3a2.2 2.2 0 1 0 4.4 0a2.2 2.2 0 1 0 -4.4 0M449.0 226.4a2.2 2.2 0 1 0 4.4 0a2.2 2.2 0 1 0 -4.4 0M449.9 226.6a2.2 2.2 0 1 0 4.4 0a2.2 2.2 0 1 0 -4.4 0M450.8 226.7a2.2 2.2 0 1 0 4.4 0a2.2 2.2 0 1 0 -4.4 0M451.7 227.8a2.2 2.2 0 1 0 4.4 0a2.2 2.2 0 1 0 -4.4 0M452.6 228.7a2.2 2.2 0 1 0 4.4 0a2.2 2.2 0 1 0 -4.4 0M453.5 228.6a2.2 2.2 0 1 0 4.4 0a2.2 2.2 0 1 0 -4.4 0M454.4 228.8a2.2 2.2 0 1 0 4.4 0a2.2 2.2 0 1 0 -4.4 0M455.3 229.3a2.2 2.2 0 1 0 4.4 0a2.2 2.2 0 1 0 -4.4 0M456.2 228.8a2.2 2.2 0 1 0 4.4 0a2.2 2.2 0 1 0 -4.4 0M457.1 230.0a2.2 2.2 0 1 0 4.4 0a2.2 2.2 0 1 0 -4.4 0M458.0 229.9a2.2 2.2 0 1 0 4.4 0a2.2 2.2 0 1 0 -4.4 0M458.9 230.4a2.2 2.2 0 1 0 4.4 0a2.2 2.2 0 1 0 -4.4 0M459.8 230.8a2.2 2.2 0 1 0 4.4 0a2.2 2.2 0 1 0 -4.4 0M460.7 230.9a2.2 2.2 0 1 0 4.4 0a2.2 2.2 0 1 0 -4.4 0M461.6 230.9a2.2 2.2 0 1 0 4.4 0a2.2 2.2 0 1 0 -4.4 0M462.5 231.1a2.2 2.2 0 1 0 4.4 0a2.2 2.2 0 1 0 -4.4 0M463.4 231.4a2.2 2.2 0 1 0 4.4 0a2.2 2.2 0 1 0 -4.4 0M464.3 232.3a2.2 2.2 0 1 0 4.4 0a2.2 2.2 0 1 0 -4.4 0M465.2 232.3a2.2 2.2 0 1 0 4.4 0a2.2 2.2 0 1 0 -4.4 0M466.1 233.0a2.2 2.2 0 1 0 4.4 0a2.2 2.2 0 1 0 -4.4 0M467.0 232.3a2.2 2.2 0 1 0 4.4 0a2.2 2.2 0 1 0 -4.4 0M467.9 233.3a2.2 2.2 0 1 0 4.4 0a2.2 2.2 0 1 0 -4.4 0M468.8 234.5a2.2 2.2 0 1 0 4.4 0a2.2 2.2 0 1 0 -4.4 0M469.7 233.7a2.2 2.2 0 1 0 4.4 0a2.2 2.2 0 1 0 -4.4 0M470.6 234.6a2.2 2.2 0 1 0 4.4 0a2.2 2.2 0 1 0 -4.4 0M471.5 234.8a2.2 2.2 0 1 0 4.4 0a2.2 2.2 0 1 0 -4.4 0M472.4 234.7a2.2 2.2 0 1 0 4.4 0a2.2 2.2 0 1 0 -4.4 0M473.3 236.7a2.2 2.2 0 1 0 4.4 0a2.2 2.2 0 1 0 -4.4 0M474.2 236.2a2.2 2.2 0 1 0 4.4 0a2.2 2.2 0 1 0 -4.4 0M475.1 237.9a2.2 2.2 0 1 0 4.4 0a2.2 2.2 0 1 0 -4.4 0M476.0 237.4a2.2 2.2 0 1 0 4.4 0a2.2 2.2 0 1 0 -4.4 0M476.9 237.0a2.2 2.2 0 1 0 4.4 0a2.2 2.2 0 1 0 -4.4 0M477.8 238.3a2.2 2.2 0 1 0 4.4 0a2.2 2.2 0 1 0 -4.4 0M478.7 237.4a2.2 2.2 0 1 0 4.4 0a2.2 2.2 0 1 0 -4.4 0M479.6 236.7a2.2 2.2 0 1 0 4.4 0a2.2 2.2 0 1 0 -4.4 0M480.5 237.4a2.2 2.2 0 1 0 4.4 0a2.2 2.2 0 1 0 -4.4 0M481.4 237.6a2.2 2.2 0 1 0 4.4 0a2.2 2.2 0 1 0 -4.4 0M482.3 238.3a2.2 2.2 0 1 0 4.4 0a2.2 2.2 0 1 0 -4.4 0M483.2 237.3a2.2 2.2 0 1 0 4.4 0a2.2 2.2 0 1 0 -4.4 0M484.1 237.7a2.2 2.2 0 1 0 4.4 0a2.2 2.2 0 1 0 -4.4 0M485.0 239.1a2.2 2.2 0 1 0 4.4 0a2.2 2.2 0 1 0 -4.4 0M485.9 238.9a2.2 2.2 0 1 0 4.4 0a2.2 2.2 0 1 0 -4.4 0M486.8 238.0a2.2 2.2 0 1 0 4.4 0a2.2 2.2 0 1 0 -4.4 0M487.7 238.4a2.2 2.2 0 1 0 4.4 0a2.2 2.2 0 1 0 -4.4 0M488.6 238.6a2.2 2.2 0 1 0 4.4 0a2.2 2.2 0 1 0 -4.4 0M489.5 239.3a2.2 2.2 0 1 0 4.4 0a2.2 2.2 0 1 0 -4.4 0M490.4 239.4a2.2 2.2 0 1 0 4.4 0a2.2 2.2 0 1 0 -4.4 0M491.3 239.9a2.2 2.2 0 1 0 4.4 0a2.2 2.2 0 1 0 -4.4 0M492.2 240.0a2.2 2.2 0 1 0 4.4 0a2.2 2.2 0 1 0 -4.4 0M493.1 239.6a2.2 2.2 0 1 0 4.4 0a2.2 2.2 0 1 0 -4.4 0M494.0 240.1a2.2 2.2 0 1 0 4.4 0a2.2 2.2 0 1 0 -4.4 0M494.9 240.3a2.2 2.2 0 1 0 4.4 0a2.2 2.2 0 1 0 -4.4 0M495.8 240.5a2.2 2.2 0 1 0 4.4 0a2.2 2.2 0 1 0 -4.4 0M496.7 240.1a2.2 2.2 0 1 0 4.4 0a2.2 2.2 0 1 0 -4.4 0M497.6 240.8a2.2 2.2 0 1 0 4.4 0a2.2 2.2 0 1 0 -4.4 0M498.5 240.8a2.2 2.2 0 1 0 4.4 0a2.2 2.2 0 1 0 -4.4 0M499.4 241.3a2.2 2.2 0 1 0 4.4 0a2.2 2.2 0 1 0 -4.4 0M500.3 240.0a2.2 2.2 0 1 0 4.4 0a2.2 2.2 0 1 0 -4.4 0M501.2 241.5a2.2 2.2 0 1 0 4.4 0a2.2 2.2 0 1 0 -4.4 0M502.1 240.1a2.2 2.2 0 1 0 4.4 0a2.2 2.2 0 1 0 -4.4 0M503.0 241.6a2.2 2.2 0 1 0 4.4 0a2.2 2.2 0 1 0 -4.4 0M503.9 241.4a2.2 2.2 0 1 0 4.4 0a2.2 2.2 0 1 0 -4.4 0M504.8 241.4a2.2 2.2 0 1 0 4.4 0a2.2 2.2 0 1 0 -4.4 0M505.7 242.4a2.2 2.2 0 1 0 4.4 0a2.2 2.2 0 1 0 -4.4 0M506.6 241.8a2.2 2.2 0 1 0 4.4 0a2.2 2.2 0 1 0 -4.4 0M507.5 241.7a2.2 2.2 0 1 0 4.4 0a2.2 2.2 0 1 0 -4.4 0M508.4 242.5a2.2 2.2 0 1 0 4.4 0a2.2 2.2 0 1 0 -4.4 0M509.3 242.8a2.2 2.2 0 1 0 4.4 0a2.2 2.2 0 1 0 -4.4 0M510.2 242.4a2.2 2.2 0 1 0 4.4 0a2.2 2.2 0 1 0 -4.4 0M511.1 242.2a2.2 2.2 0 1 0 4.4 0a2.2 2.2 0 1 0 -4.4 0M512.0 242.4a2.2 2.2 0 1 0 4.4 0a2.2 2.2 0 1 0 -4.4 0M512.9 242.6a2.2 2.2 0 1 0 4.4 0a2.2 2.2 0 1 0 -4.4 0M513.8 243.2a2.2 2.2 0 1 0 4.4 0a2.2 2.2 0 1 0 -4.4 0M514.7 242.6a2.2 2.2 0 1 0 4.4 0a2.2 2.2 0 1 0 -4.4 0M515.6 242.9a2.2 2.2 0 1 0 4.4 0a2.2 2.2 0 1 0 -4.4 0M516.5 243.3a2.2 2.2 0 1 0 4.4 0a2.2 2.2 0 1 0 -4.4 0M517.4 243.2a2.2 2.2 0 1 0 4.4 0a2.2 2.2 0 1 0 -4.4 0M518.3 243.2a2.2 2.2 0 1 0 4.4 0a2.2 2.2 0 1 0 -4.4 0M519.2 244.2a2.2 2.2 0 1 0 4.4 0a2.2 2.2 0 1 0 -4.4 0M520.1 244.4a2.2 2.2 0 1 0 4.4 0a2.2 2.2 0 1 0 -4.4 0M521.0 243.9a2.2 2.2 0 1 0 4.4 0a2.2 2.2 0 1 0 -4.4 0M521.9 244.0a2.2 2.2 0 1 0 4.4 0a2.2 2.2 0 1 0 -4.4 0M522.8 243.7a2.2 2.2 0 1 0 4.4 0a2.2 2.2 0 1 0 -4.4 0M523.7 244.0a2.2 2.2 0 1 0 4.4 0a2.2 2.2 0 1 0 -4.4 0M524.6 243.9a2.2 2.2 0 1 0 4.4 0a2.2 2.2 0 1 0 -4.4 0M525.5 244.8a2.2 2.2 0 1 0 4.4 0a2.2 2.2 0 1 0 -4.4 0M526.4 244.9a2.2 2.2 0 1 0 4.4 0a2.2 2.2 0 1 0 -4.4 0M527.3 244.2a2.2 2.2 0 1 0 4.4 0a2.2 2.2 0 1 0 -4.4 0M528.2 245.8a2.2 2.2 0 1 0 4.4 0a2.2 2.2 0 1 0 -4.4 0M529.1 244.9a2.2 2.2 0 1 0 4.4 0a2.2 2.2 0 1 0 -4.4 0M530.0 246.0a2.2 2.2 0 1 0 4.4 0a2.2 2.2 0 1 0 -4.4 0M530.9 246.1a2.2 2.2 0 1 0 4.4 0a2.2 2.2 0 1 0 -4.4 0M531.8 246.5a2.2 2.2 0 1 0 4.4 0a2.2 2.2 0 1 0 -4.4 0M532.7 245.2a2.2 2.2 0 1 0 4.4 0a2.2 2.2 0 1 0 -4.4 0M533.6 245.8a2.2 2.2 0 1 0 4.4 0a2.2 2.2 0 1 0 -4.4 0M534.5 246.8a2.2 2.2 0 1 0 4.4 0a2.2 2.2 0 1 0 -4.4 0M535.4 245.3a2.2 2.2 0 1 0 4.4 0a2.2 2.2 0 1 0 -4.4 0M536.3 245.5a2.2 2.2 0 1 0 4.4 0a2.2 2.2 0 1 0 -4.4 0M537.2 246.6a2.2 2.2 0 1 0 4.4 0a2.2 2.2 0 1 0 -4.4 0M538.1 246.6a2.2 2.2 0 1 0 4.4 0a2.2 2.2 0 1 0 -4.4 0M539.0 247.5a2.2 2.2 0 1 0 4.4 0a2.2 2.2 0 1 0 -4.4 0M539.9 247.4a2.2 2.2 0 1 0 4.4 0a2.2 2.2 0 1 0 -4.4 0M540.8 247.1a2.2 2.2 0 1 0 4.4 0a2.2 2.2 0 1 0 -4.4 0M541.7 248.1a2.2 2.2 0 1 0 4.4 0a2.2 2.2 0 1 0 -4.4 0M542.6 247.4a2.2 2.2 0 1 0 4.4 0a2.2 2.2 0 1 0 -4.4 0M543.5 247.5a2.2 2.2 0 1 0 4.4 0a2.2 2.2 0 1 0 -4.4 0M544.4 247.9a2.2 2.2 0 1 0 4.4 0a2.2 2.2 0 1 0 -4.4 0M545.3 247.6a2.2 2.2 0 1 0 4.4 0a2.2 2.2 0 1 0 -4.4 0M546.2 247.6a2.2 2.2 0 1 0 4.4 0a2.2 2.2 0 1 0 -4.4 0M547.1 248.2a2.2 2.2 0 1 0 4.4 0a2.2 2.2 0 1 0 -4.4 0M548.0 247.9a2.2 2.2 0 1 0 4.4 0a2.2 2.2 0 1 0 -4.4 0M548.9 249.1a2.2 2.2 0 1 0 4.4 0a2.2 2.2 0 1 0 -4.4 0M549.8 248.8a2.2 2.2 0 1 0 4.4 0a2.2 2.2 0 1 0 -4.4 0M550.7 248.6a2.2 2.2 0 1 0 4.4 0a2.2 2.2 0 1 0 -4.4 0M551.6 248.0a2.2 2.2 0 1 0 4.4 0a2.2 2.2 0 1 0 -4.4 0M552.5 248.7a2.2 2.2 0 1 0 4.4 0a2.2 2.2 0 1 0 -4.4 0M553.4 248.8a2.2 2.2 0 1 0 4.4 0a2.2 2.2 0 1 0 -4.4 0M554.3 249.3a2.2 2.2 0 1 0 4.4 0a2.2 2.2 0 1 0 -4.4 0M555.2 249.4a2.2 2.2 0 1 0 4.4 0a2.2 2.2 0 1 0 -4.4 0M556.1 250.1a2.2 2.2 0 1 0 4.4 0a2.2 2.2 0 1 0 -4.4 0M557.0 250.4a2.2 2.2 0 1 0 4.4 0a2.2 2.2 0 1 0 -4.4 0M557.9 249.7a2.2 2.2 0 1 0 4.4 0a2.2 2.2 0 1 0 -4.4 0M558.8 249.8a2.2 2.2 0 1 0 4.4 0a2.2 2.2 0 1 0 -4.4 0M559.7 250.2a2.2 2.2 0 1 0 4.4 0a2.2 2.2 0 1 0 -4.4 0M560.6 251.0a2.2 2.2 0 1 0 4.4 0a2.2 2.2 0 1 0 -4.4 0M561.5 250.0a2.2 2.2 0 1 0 4.4 0a2.2 2.2 0 1 0 -4.4 0M562.4 250.5a2.2 2.2 0 1 0 4.4 0a2.2 2.2 0 1 0 -4.4 0M563.3 251.1a2.2 2.2 0 1 0 4.4 0a2.2 2.2 0 1 0 -4.4 0M564.2 250.1a2.2 2.2 0 1 0 4.4 0a2.2 2.2 0 1 0 -4.4 0M565.1 250.5a2.2 2.2 0 1 0 4.4 0a2.2 2.2 0 1 0 -4.4 0M566.0 251.8a2.2 2.2 0 1 0 4.4 0a2.2 2.2 0 1 0 -4.4 0M566.9 251.7a2.2 2.2 0 1 0 4.4 0a2.2 2.2 0 1 0 -4.4 0M567.8 251.2a2.2 2.2 0 1 0 4.4 0a2.2 2.2 0 1 0 -4.4 0M568.7 250.6a2.2 2.2 0 1 0 4.4 0a2.2 2.2 0 1 0 -4.4 0M569.6 252.2a2.2 2.2 0 1 0 4.4 0a2.2 2.2 0 1 0 -4.4 0M570.5 251.9a2.2 2.2 0 1 0 4.4 0a2.2 2.2 0 1 0 -4.4 0M571.4 252.3a2.2 2.2 0 1 0 4.4 0a2.2 2.2 0 1 0 -4.4 0M572.3 252.7a2.2 2.2 0 1 0 4.4 0a2.2 2.2 0 1 0 -4.4 0M573.2 252.7a2.2 2.2 0 1 0 4.4 0a2.2 2.2 0 1 0 -4.4 0M574.1 251.9a2.2 2.2 0 1 0 4.4 0a2.2 2.2 0 1 0 -4.4 0M575.0 251.6a2.2 2.2 0 1 0 4.4 0a2.2 2.2 0 1 0 -4.4 0M575.9 252.0a2.2 2.2 0 1 0 4.4 0a2.2 2.2 0 1 0 -4.4 0M576.8 252.5a2.2 2.2 0 1 0 4.4 0a2.2 2.2 0 1 0 -4.4 0M577.7 252.6a2.2 2.2 0 1 0 4.4 0a2.2 2.2 0 1 0 -4.4 0M578.6 252.2a2.2 2.2 0 1 0 4.4 0a2.2 2.2 0 1 0 -4.4 0M579.5 252.3a2.2 2.2 0 1 0 4.4 0a2.2 2.2 0 1 0 -4.4 0M580.4 253.2a2.2 2.2 0 1 0 4.4 0a2.2 2.2 0 1 0 -4.4 0M581.3 253.3a2.2 2.2 0 1 0 4.4 0a2.2 2.2 0 1 0 -4.4 0M582.2 253.0a2.2 2.2 0 1 0 4.4 0a2.2 2.2 0 1 0 -4.4 0M583.1 254.2a2.2 2.2 0 1 0 4.4 0a2.2 2.2 0 1 0 -4.4 0M584.0 253.7a2.2 2.2 0 1 0 4.4 0a2.2 2.2 0 1 0 -4.4 0M584.9 252.8a2.2 2.2 0 1 0 4.4 0a2.2 2.2 0 1 0 -4.4 0M585.8 253.6a2.2 2.2 0 1 0 4.4 0a2.2 2.2 0 1 0 -4.4 0M586.7 254.4a2.2 2.2 0 1 0 4.4 0a2.2 2.2 0 1 0 -4.4 0M587.6 253.6a2.2 2.2 0 1 0 4.4 0a2.2 2.2 0 1 0 -4.4 0M588.5 254.5a2.2 2.2 0 1 0 4.4 0a2.2 2.2 0 1 0 -4.4 0M589.4 253.3a2.2 2.2 0 1 0 4.4 0a2.2 2.2 0 1 0 -4.4 0M590.3 254.0a2.2 2.2 0 1 0 4.4 0a2.2 2.2 0 1 0 -4.4 0M591.2 255.1a2.2 2.2 0 1 0 4.4 0a2.2 2.2 0 1 0 -4.4 0M592.1 254.8a2.2 2.2 0 1 0 4.4 0a2.2 2.2 0 1 0 -4.4 0M593.0 255.0a2.2 2.2 0 1 0 4.4 0a2.2 2.2 0 1 0 -4.4 0M593.9 254.3a2.2 2.2 0 1 0 4.4 0a2.2 2.2 0 1 0 -4.4 0M594.8 255.0a2.2 2.2 0 1 0 4.4 0a2.2 2.2 0 1 0 -4.4 0M595.7 255.2a2.2 2.2 0 1 0 4.4 0a2.2 2.2 0 1 0 -4.4 0M596.6 254.8a2.2 2.2 0 1 0 4.4 0a2.2 2.2 0 1 0 -4.4 0M597.5 255.6a2.2 2.2 0 1 0 4.4 0a2.2 2.2 0 1 0 -4.4 0M598.4 255.6a2.2 2.2 0 1 0 4.4 0a2.2 2.2 0 1 0 -4.4 0M599.3 256.5a2.2 2.2 0 1 0 4.4 0a2.2 2.2 0 1 0 -4.4 0M600.2 255.9a2.2 2.2 0 1 0 4.4 0a2.2 2.2 0 1 0 -4.4 0M601.1 255.7a2.2 2.2 0 1 0 4.4 0a2.2 2.2 0 1 0 -4.4 0M602.0 255.3a2.2 2.2 0 1 0 4.4 0a2.2 2.2 0 1 0 -4.4 0M602.9 255.5a2.2 2.2 0 1 0 4.4 0a2.2 2.2 0 1 0 -4.4 0M603.8 256.7a2.2 2.2 0 1 0 4.4 0a2.2 2.2 0 1 0 -4.4 0M604.7 255.7a2.2 2.2 0 1 0 4.4 0a2.2 2.2 0 1 0 -4.4 0M605.6 255.8a2.2 2.2 0 1 0 4.4 0a2.2 2.2 0 1 0 -4.4 0M606.5 256.0a2.2 2.2 0 1 0 4.4 0a2.2 2.2 0 1 0 -4.4 0M607.4 256.8a2.2 2.2 0 1 0 4.4 0a2.2 2.2 0 1 0 -4.4 0M608.3 257.5a2.2 2.2 0 1 0 4.4 0a2.2 2.2 0 1 0 -4.4 0M609.2 257.2a2.2 2.2 0 1 0 4.4 0a2.2 2.2 0 1 0 -4.4 0M610.1 257.7a2.2 2.2 0 1 0 4.4 0a2.2 2.2 0 1 0 -4.4 0M611.0 256.5a2.2 2.2 0 1 0 4.4 0a2.2 2.2 0 1 0 -4.4 0M611.9 256.5a2.2 2.2 0 1 0 4.4 0a2.2 2.2 0 1 0 -4.4 0M612.8 258.0a2.2 2.2 0 1 0 4.4 0a2.2 2.2 0 1 0 -4.4 0M613.7 257.3a2.2 2.2 0 1 0 4.4 0a2.2 2.2 0 1 0 -4.4 0M614.6 258.2a2.2 2.2 0 1 0 4.4 0a2.2 2.2 0 1 0 -4.4 0M615.5 257.6a2.2 2.2 0 1 0 4.4 0a2.2 2.2 0 1 0 -4.4 0M616.4 257.4a2.2 2.2 0 1 0 4.4 0a2.2 2.2 0 1 0 -4.4 0M617.3 257.7a2.2 2.2 0 1 0 4.4 0a2.2 2.2 0 1 0 -4.4 0M618.2 257.6a2.2 2.2 0 1 0 4.4 0a2.2 2.2 0 1 0 -4.4 0M619.1 259.1a2.2 2.2 0 1 0 4.4 0a2.2 2.2 0 1 0 -4.4 0M620.0 258.7a2.2 2.2 0 1 0 4.4 0a2.2 2.2 0 1 0 -4.4 0M620.9 258.4a2.2 2.2 0 1 0 4.4 0a2.2 2.2 0 1 0 -4.4 0M621.8 258.7a2.2 2.2 0 1 0 4.4 0a2.2 2.2 0 1 0 -4.4 0M622.7 258.7a2.2 2.2 0 1 0 4.4 0a2.2 2.2 0 1 0 -4.4 0M623.6 258.2a2.2 2.2 0 1 0 4.4 0a2.2 2.2 0 1 0 -4.4 0M624.5 259.9a2.2 2.2 0 1 0 4.4 0a2.2 2.2 0 1 0 -4.4 0M625.4 259.4a2.2 2.2 0 1 0 4.4 0a2.2 2.2 0 1 0 -4.4 0M626.3 260.2a2.2 2.2 0 1 0 4.4 0a2.2 2.2 0 1 0 -4.4 0M627.2 259.4a2.2 2.2 0 1 0 4.4 0a2.2 2.2 0 1 0 -4.4 0M481.5 219.2a2.2 2.2 0 1 0 4.4 0a2.2 2.2 0 1 0 -4.4 0M475.8 247.8a2.2 2.2 0 1 0 4.4 0a2.2 2.2 0 1 0 -4.4 0M562.2 234.8a2.2 2.2 0 1 0 4.4 0a2.2 2.2 0 1 0 -4.4 0" fill="#9B3503"/><path d="M417.0 208.4L419.6 211.0L417.0 213.6L414.4 211.0ZM417.9 207.8L420.5 210.4L417.9 213.0L415.3 210.4ZM418.8 207.5L421.4 210.1L418.8 212.7L416.2 210.1ZM419.7 209.1L422.3 211.7L419.7 214.3L417.1 211.7ZM420.6 209.0L423.2 211.6L420.6 214.2L418.0 211.6ZM421.5 208.1L424.1 210.7L421.5 213.3L418.9 210.7ZM422.4 209.2L425.0 211.8L422.4 214.4L419.8 211.8ZM423.3 209.1L425.9 211.7L423.3 214.3L420.7 211.7ZM424.2 208.2L426.8 210.8L424.2 213.4L421.6 210.8ZM425.1 208.8L427.7 211.4L425.1 214.0L422.5 211.4ZM426.0 209.5L428.6 212.1L426.0 214.7L423.4 212.1ZM426.9 208.7L429.5 211.3L426.9 213.9L424.3 211.3ZM427.8 209.6L430.4 212.2L427.8 214.8L425.2 212.2ZM428.7 208.3L431.3 210.9L428.7 213.5L426.1 210.9ZM429.6 208.7L432.2 211.3L429.6 213.9L427.0 211.3ZM430.5 209.3L433.1 211.9L430.5 214.5L427.9 211.9ZM431.4 208.8L434.0 211.4L431.4 214.0L428.8 211.4ZM432.3 209.3L434.9 211.9L432.3 214.5L429.7 211.9ZM433.2 210.7L435.8 213.3L433.2 215.9L430.6 213.3ZM434.1 210.4L436.7 213.0L434.1 215.6L431.5 213.0ZM435.0 211.3L437.6 213.9L435.0 216.5L432.4 213.9ZM435.9 210.7L438.5 213.3L435.9 215.9L433.3 213.3ZM436.8 210.9L439.4 213.5L436.8 216.1L434.2 213.5ZM437.7 211.6L440.3 214.2L437.7 216.8L435.1 214.2ZM438.6 211.7L441.2 214.3L438.6 216.9L436.0 214.3ZM439.5 213.4L442.1 216.0L439.5 218.6L436.9 216.0ZM440.4 212.6L443.0 215.2L440.4 217.8L437.8 215.2ZM441.3 213.4L443.9 216.0L441.3 218.6L438.7 216.0ZM442.2 213.0L444.8 215.6L442.2 218.2L439.6 215.6ZM443.1 214.1L445.7 216.7L443.1 219.3L440.5 216.7ZM444.0 214.2L446.6 216.8L444.0 219.4L441.4 216.8ZM444.9 214.6L447.5 217.2L444.9 219.8L442.3 217.2ZM445.8 214.4L448.4 217.0L445.8 219.6L443.2 217.0ZM446.7 214.9L449.3 217.5L446.7 220.1L444.1 217.5ZM447.6 216.5L450.2 219.1L447.6 221.7L445.0 219.1ZM448.5 216.0L451.1 218.6L448.5 221.2L445.9 218.6ZM449.4 216.2L452.0 218.8L449.4 221.4L446.8 218.8ZM450.3 216.5L452.9 219.1L450.3 221.7L447.7 219.1ZM451.2 217.0L453.8 219.6L451.2 222.2L448.6 219.6ZM452.1 217.3L454.7 219.9L452.1 222.5L449.5 219.9ZM453.0 217.3L455.6 219.9L453.0 222.5L450.4 219.9ZM453.9 218.8L456.5 221.4L453.9 224.0L451.3 221.4ZM454.8 218.6L457.4 221.2L454.8 223.8L452.2 221.2ZM455.7 218.6L458.3 221.2L455.7 223.8L453.1 221.2ZM456.6 220.0L459.2 222.6L456.6 225.2L454.0 222.6ZM457.5 219.3L460.1 221.9L457.5 224.5L454.9 221.9ZM458.4 219.9L461.0 222.5L458.4 225.1L455.8 222.5ZM459.3 221.3L461.9 223.9L459.3 226.5L456.7 223.9ZM460.2 220.4L462.8 223.0L460.2 225.6L457.6 223.0ZM461.1 221.4L463.7 224.0L461.1 226.6L458.5 224.0ZM462.0 222.4L464.6 225.0L462.0 227.6L459.4 225.0ZM462.9 222.8L465.5 225.4L462.9 228.0L460.3 225.4ZM463.8 222.0L466.4 224.6L463.8 227.2L461.2 224.6ZM464.7 222.7L467.3 225.3L464.7 227.9L462.1 225.3ZM465.6 223.7L468.2 226.3L465.6 228.9L463.0 226.3ZM466.5 223.5L469.1 226.1L466.5 228.7L463.9 226.1ZM467.4 224.9L470.0 227.5L467.4 230.1L464.8 227.5ZM468.3 223.9L470.9 226.5L468.3 229.1L465.7 226.5ZM469.2 225.6L471.8 228.2L469.2 230.8L466.6 228.2ZM470.1 225.2L472.7 227.8L470.1 230.4L467.5 227.8ZM471.0 225.0L473.6 227.6L471.0 230.2L468.4 227.6ZM471.9 225.8L474.5 228.4L471.9 231.0L469.3 228.4ZM472.8 225.6L475.4 228.2L472.8 230.8L470.2 228.2ZM473.7 227.0L476.3 229.6L473.7 232.2L471.1 229.6ZM474.6 226.6L477.2 229.2L474.6 231.8L472.0 229.2ZM475.5 228.1L478.1 230.7L475.5 233.3L472.9 230.7ZM476.4 227.8L479.0 230.4L476.4 233.0L473.8 230.4ZM477.3 227.7L479.9 230.3L477.3 232.9L474.7 230.3ZM478.2 227.8L480.8 230.4L478.2 233.0L475.6 230.4ZM479.1 228.8L481.7 231.4L479.1 234.0L476.5 231.4ZM480.0 228.4L482.6 231.0L480.0 233.6L477.4 231.0ZM480.9 229.9L483.5 232.5L480.9 235.1L478.3 232.5ZM481.8 228.8L484.4 231.4L481.8 234.0L479.2 231.4ZM482.7 229.5L485.3 232.1L482.7 234.7L480.1 232.1ZM483.6 229.7L486.2 232.3L483.6 234.9L481.0 232.3ZM484.5 229.3L487.1 231.9L484.5 234.5L481.9 231.9ZM485.4 230.3L488.0 232.9L485.4 235.5L482.8 232.9ZM486.3 229.7L488.9 232.3L486.3 234.9L483.7 232.3ZM487.2 230.3L489.8 232.9L487.2 235.5L484.6 232.9ZM488.1 230.2L490.7 232.8L488.1 235.4L485.5 232.8ZM489.0 229.8L491.6 232.4L489.0 235.0L486.4 232.4ZM489.9 230.1L492.5 232.7L489.9 235.3L487.3 232.7ZM490.8 229.6L493.4 232.2L490.8 234.8L488.2 232.2ZM491.7 229.9L494.3 232.5L491.7 235.1L489.1 232.5ZM492.6 231.2L495.2 233.8L492.6 236.4L490.0 233.8ZM493.5 230.3L496.1 232.9L493.5 235.5L490.9 232.9ZM494.4 231.0L497.0 233.6L494.4 236.2L491.8 233.6ZM495.3 230.1L497.9 232.7L495.3 235.3L492.7 232.7ZM496.2 231.0L498.8 233.6L496.2 236.2L493.6 233.6ZM497.1 230.8L499.7 233.4L497.1 236.0L494.5 233.4ZM498.0 231.1L500.6 233.7L498.0 236.3L495.4 233.7ZM498.9 230.8L501.5 233.4L498.9 236.0L496.3 233.4ZM499.8 230.5L502.4 233.1L499.8 235.7L497.2 233.1ZM500.7 231.1L503.3 233.7L500.7 236.3L498.1 233.7ZM501.6 231.0L504.2 233.6L501.6 236.2L499.0 233.6ZM502.5 230.9L505.1 233.5L502.5 236.1L499.9 233.5ZM503.4 232.1L506.0 234.7L503.4 237.3L500.8 234.7ZM504.3 231.4L506.9 234.0L504.3 236.6L501.7 234.0ZM505.2 231.7L507.8 234.3L505.2 236.9L502.6 234.3ZM506.1 232.7L508.7 235.3L506.1 237.9L503.5 235.3ZM507.0 232.6L509.6 235.2L507.0 237.8L504.4 235.2ZM507.9 232.8L510.5 235.4L507.9 238.0L505.3 235.4ZM508.8 232.9L511.4 235.5L508.8 238.1L506.2 235.5ZM509.7 231.7L512.3 234.3L509.7 236.9L507.1 234.3ZM510.6 232.0L513.2 234.6L510.6 237.2L508.0 234.6ZM511.5 231.7L514.1 234.3L511.5 236.9L508.9 234.3ZM512.4 232.9L515.0 235.5L512.4 238.1L509.8 235.5ZM513.3 233.0L515.9 235.6L513.3 238.2L510.7 235.6ZM514.2 232.5L516.8 235.1L514.2 237.7L511.6 235.1ZM515.1 232.7L517.7 235.3L515.1 237.9L512.5 235.3ZM516.0 233.3L518.6 235.9L516.0 238.5L513.4 235.9ZM516.9 233.4L519.5 236.0L516.9 238.6L514.3 236.0ZM517.8 232.7L520.4 235.3L517.8 237.9L515.2 235.3ZM518.7 233.9L521.3 236.5L518.7 239.1L516.1 236.5ZM519.6 233.1L522.2 235.7L519.6 238.3L517.0 235.7ZM520.5 233.7L523.1 236.3L520.5 238.9L517.9 236.3ZM521.4 233.0L524.0 235.6L521.4 238.2L518.8 235.6ZM522.3 233.0L524.9 235.6L522.3 238.2L519.7 235.6ZM523.2 234.5L525.8 237.1L523.2 239.7L520.6 237.1ZM524.1 234.3L526.7 236.9L524.1 239.5L521.5 236.9ZM525.0 234.3L527.6 236.9L525.0 239.5L522.4 236.9ZM525.9 233.2L528.5 235.8L525.9 238.4L523.3 235.8ZM526.8 233.3L529.4 235.9L526.8 238.5L524.2 235.9ZM527.7 233.6L530.3 236.2L527.7 238.8L525.1 236.2ZM528.6 233.8L531.2 236.4L528.6 239.0L526.0 236.4ZM529.5 234.0L532.1 236.6L529.5 239.2L526.9 236.6ZM530.4 234.3L533.0 236.9L530.4 239.5L527.8 236.9ZM531.3 233.8L533.9 236.4L531.3 239.0L528.7 236.4ZM532.2 234.3L534.8 236.9L532.2 239.5L529.6 236.9ZM533.1 235.0L535.7 237.6L533.1 240.2L530.5 237.6ZM534.0 234.3L536.6 236.9L534.0 239.5L531.4 236.9ZM534.9 235.6L537.5 238.2L534.9 240.8L532.3 238.2ZM535.8 235.2L538.4 237.8L535.8 240.4L533.2 237.8ZM536.7 235.5L539.3 238.1L536.7 240.7L534.1 238.1ZM537.6 234.8L540.2 237.4L537.6 240.0L535.0 237.4ZM538.5 235.2L541.1 237.8L538.5 240.4L535.9 237.8ZM539.4 235.8L542.0 238.4L539.4 241.0L536.8 238.4ZM540.3 235.3L542.9 237.9L540.3 240.5L537.7 237.9ZM541.2 234.7L543.8 237.3L541.2 239.9L538.6 237.3ZM542.1 236.3L544.7 238.9L542.1 241.5L539.5 238.9ZM543.0 236.3L545.6 238.9L543.0 241.5L540.4 238.9ZM543.9 235.5L546.5 238.1L543.9 240.7L541.3 238.1ZM544.8 235.2L547.4 237.8L544.8 240.4L542.2 237.8ZM545.7 236.7L548.3 239.3L545.7 241.9L543.1 239.3ZM546.6 236.4L549.2 239.0L546.6 241.6L544.0 239.0ZM547.5 235.5L550.1 238.1L547.5 240.7L544.9 238.1ZM548.4 235.9L551.0 238.5L548.4 241.1L545.8 238.5ZM549.3 235.8L551.9 238.4L549.3 241.0L546.7 238.4ZM550.2 237.1L552.8 239.7L550.2 242.3L547.6 239.7ZM551.1 236.1L553.7 238.7L551.1 241.3L548.5 238.7ZM552.0 237.5L554.6 240.1L552.0 242.7L549.4 240.1ZM552.9 237.3L555.5 239.9L552.9 242.5L550.3 239.9ZM553.8 236.2L556.4 238.8L553.8 241.4L551.2 238.8ZM554.7 237.4L557.3 240.0L554.7 242.6L552.1 240.0ZM555.6 236.9L558.2 239.5L555.6 242.1L553.0 239.5ZM556.5 237.7L559.1 240.3L556.5 242.9L553.9 240.3ZM557.4 237.9L560.0 240.5L557.4 243.1L554.8 240.5ZM558.3 237.0L560.9 239.6L558.3 242.2L555.7 239.6ZM559.2 236.8L561.8 239.4L559.2 242.0L556.6 239.4ZM560.1 238.4L562.7 241.0L560.1 243.6L557.5 241.0ZM561.0 237.5L563.6 240.1L561.0 242.7L558.4 240.1ZM561.9 238.6L564.5 241.2L561.9 243.8L559.3 241.2ZM562.8 238.2L565.4 240.8L562.8 243.4L560.2 240.8ZM563.7 238.4L566.3 241.0L563.7 243.6L561.1 241.0ZM564.6 238.7L567.2 241.3L564.6 243.9L562.0 241.3ZM565.5 238.4L568.1 241.0L565.5 243.6L562.9 241.0ZM566.4 238.2L569.0 240.8L566.4 243.4L563.8 240.8ZM567.3 237.6L569.9 240.2L567.3 242.8L564.7 240.2ZM568.2 238.8L570.8 241.4L568.2 244.0L565.6 241.4ZM569.1 238.4L571.7 241.0L569.1 243.6L566.5 241.0ZM570.0 238.7L572.6 241.3L570.0 243.9L567.4 241.3ZM570.9 239.5L573.5 242.1L570.9 244.7L568.3 242.1ZM571.8 238.2L574.4 240.8L571.8 243.4L569.2 240.8ZM572.7 239.4L575.3 242.0L572.7 244.6L570.1 242.0ZM573.6 238.3L576.2 240.9L573.6 243.5L571.0 240.9ZM574.5 239.5L577.1 242.1L574.5 244.7L571.9 242.1ZM575.4 239.8L578.0 242.4L575.4 245.0L572.8 242.4ZM576.3 239.0L578.9 241.6L576.3 244.2L573.7 241.6ZM577.2 239.6L579.8 242.2L577.2 244.8L574.6 242.2ZM578.1 240.4L580.7 243.0L578.1 245.6L575.5 243.0ZM579.0 239.9L581.6 242.5L579.0 245.1L576.4 242.5ZM579.9 239.9L582.5 242.5L579.9 245.1L577.3 242.5ZM580.8 239.4L583.4 242.0L580.8 244.6L578.2 242.0ZM581.7 239.2L584.3 241.8L581.7 244.4L579.1 241.8ZM582.6 239.8L585.2 242.4L582.6 245.0L580.0 242.4ZM583.5 240.0L586.1 242.6L583.5 245.2L580.9 242.6ZM584.4 239.8L587.0 242.4L584.4 245.0L581.8 242.4ZM585.3 240.1L587.9 242.7L585.3 245.3L582.7 242.7ZM586.2 239.9L588.8 242.5L586.2 245.1L583.6 242.5ZM587.1 241.0L589.7 243.6L587.1 246.2L584.5 243.6ZM588.0 241.0L590.6 243.6L588.0 246.2L585.4 243.6ZM483.7 208.2L486.3 210.8L483.7 213.4L481.1 210.8ZM460.9 215.4L463.5 218.0L460.9 220.6L458.3 218.0ZM564.4 220.0L567.0 222.6L564.4 225.2L561.8 222.6Z" fill="#FEC04E"/><path d="M414.5 200.9h5.0M417.0 198.4v5.0M415.4 201.0h5.0M417.9 198.5v5.0M416.3 203.3h5.0M418.8 200.8v5.0M417.2 202.8h5.0M419.7 200.3v5.0M418.1 206.7h5.0M420.6 204.2v5.0M419.0 202.1h5.0M421.5 199.6v5.0M419.9 201.8h5.0M422.4 199.3v5.0M420.8 206.5h5.0M423.3 204.0v5.0M421.7 200.6h5.0M424.2 198.1v5.0M422.6 204.1h5.0M425.1 201.6v5.0M423.5 202.3h5.0M426.0 199.8v5.0M424.4 206.2h5.0M426.9 203.7v5.0M425.3 204.2h5.0M427.8 201.7v5.0M426.2 205.9h5.0M428.7 203.4v5.0M427.1 201.3h5.0M429.6 198.8v5.0M428.0 205.3h5.0M430.5 202.8v5.0M428.9 204.7h5.0M431.4 202.2v5.0M429.8 203.3h5.0M432.3 200.8v5.0M430.7 205.4h5.0M433.2 202.9v5.0M431.6 205.7h5.0M434.1 203.2v5.0M432.5 199.6h5.0M435.0 197.1v5.0M433.4 200.7h5.0M435.9 198.2v5.0M434.3 201.0h5.0M436.8 198.5v5.0M435.2 199.5h5.0M437.7 197.0v5.0M436.1 198.1h5.0M438.6 195.6v5.0M437.0 199.5h5.0M439.5 197.0v5.0M437.9 198.6h5.0M440.4 196.1v5.0M438.8 202.3h5.0M441.3 199.8v5.0M439.7 200.0h5.0M442.2 197.5v5.0M440.6 197.0h5.0M443.1 194.5v5.0M441.5 198.4h5.0M444.0 195.9v5.0M442.4 199.3h5.0M444.9 196.8v5.0M443.3 198.2h5.0M445.8 195.7v5.0M444.2 196.3h5.0M446.7 193.8v5.0M445.1 195.3h5.0M447.6 192.8v5.0M446.0 194.5h5.0M448.5 192.0v5.0M446.9 202.0h5.0M449.4 199.5v5.0M447.8 199.8h5.0M450.3 197.3v5.0M448.7 194.2h5.0M451.2 191.7v5.0M449.6 199.0h5.0M452.1 196.5v5.0M450.5 200.8h5.0M453.0 198.3v5.0M451.4 197.2h5.0M453.9 194.7v5.0M452.3 193.3h5.0M454.8 190.8v5.0M453.2 196.0h5.0M455.7 193.5v5.0M454.1 195.4h5.0M456.6 192.9v5.0M455.0 193.2h5.0M457.5 190.7v5.0M455.9 195.9h5.0M458.4 193.4v5.0M456.8 191.5h5.0M459.3 189.0v5.0M457.7 198.6h5.0M460.2 196.1v5.0M458.6 196.2h5.0M461.1 193.7v5.0M459.5 195.9h5.0M462.0 193.4v5.0M460.4 198.2h5.0M462.9 195.7v5.0M461.3 195.8h5.0M463.8 193.3v5.0M462.2 192.4h5.0M464.7 189.9v5.0M463.1 192.2h5.0M465.6 189.7v5.0M464.0 191.2h5.0M466.5 188.7v5.0M464.9 190.2h5.0M467.4 187.7v5.0M465.8 196.0h5.0M468.3 193.5v5.0M466.7 196.3h5.0M469.2 193.8v5.0M467.6 191.8h5.0M470.1 189.3v5.0M468.5 190.8h5.0M471.0 188.3v5.0M469.4 194.2h5.0M471.9 191.7v5.0M470.3 195.7h5.0M472.8 193.2v5.0M471.2 196.2h5.0M473.7 193.7v5.0M472.1 190.0h5.0M474.6 187.5v5.0M473.0 194.8h5.0M475.5 192.3v5.0M473.9 195.0h5.0M476.4 192.5v5.0M474.8 194.1h5.0M477.3 191.6v5.0M475.7 190.6h5.0M478.2 188.1v5.0M476.6 189.3h5.0M479.1 186.8v5.0M477.5 194.3h5.0M480.0 191.8v5.0M478.4 190.1h5.0M480.9 187.6v5.0M479.3 190.3h5.0M481.8 187.8v5.0M480.2 191.6h5.0M482.7 189.1v5.0M481.1 189.9h5.0M483.6 187.4v5.0M482.0 193.5h5.0M484.5 191.0v5.0M482.9 188.6h5.0M485.4 186.1v5.0M483.8 186.8h5.0M486.3 184.3v5.0M484.7 190.8h5.0M487.2 188.3v5.0M485.6 191.1h5.0M488.1 188.6v5.0M486.5 192.5h5.0M489.0 190.0v5.0M487.4 191.4h5.0M489.9 188.9v5.0M488.3 192.8h5.0M490.8 190.3v5.0M489.2 193.0h5.0M491.7 190.5v5.0M490.1 189.2h5.0M492.6 186.7v5.0M491.0 189.0h5.0M493.5 186.5v5.0M491.9 186.1h5.0M494.4 183.6v5.0M492.8 187.1h5.0M495.3 184.6v5.0M493.7 189.2h5.0M496.2 186.7v5.0M494.6 185.0h5.0M497.1 182.5v5.0M495.5 189.7h5.0M498.0 187.2v5.0M496.4 185.3h5.0M498.9 182.8v5.0M497.3 187.4h5.0M499.8 184.9v5.0M498.2 191.4h5.0M500.7 188.9v5.0M499.1 184.2h5.0M501.6 181.7v5.0M500.0 183.6h5.0M502.5 181.1v5.0M500.9 186.6h5.0M503.4 184.1v5.0M501.8 184.5h5.0M504.3 182.0v5.0M502.7 188.5h5.0M505.2 186.0v5.0M503.6 182.6h5.0M506.1 180.1v5.0M504.5 189.1h5.0M507.0 186.6v5.0M505.4 189.1h5.0M507.9 186.6v5.0M506.3 188.3h5.0M508.8 185.8v5.0M507.2 185.3h5.0M509.7 182.8v5.0M508.1 183.9h5.0M510.6 181.4v5.0M509.0 186.8h5.0M511.5 184.3v5.0M509.9 185.4h5.0M512.4 182.9v5.0M510.8 184.5h5.0M513.3 182.0v5.0M511.7 183.7h5.0M514.2 181.2v5.0M512.6 184.3h5.0M515.1 181.8v5.0M513.5 185.9h5.0M516.0 183.4v5.0M514.4 187.0h5.0M516.9 184.5v5.0M515.3 187.5h5.0M517.8 185.0v5.0M516.2 181.4h5.0M518.7 178.9v5.0M517.1 182.2h5.0M519.6 179.7v5.0M518.0 183.2h5.0M520.5 180.7v5.0M518.9 184.0h5.0M521.4 181.5v5.0M519.8 182.1h5.0M522.3 179.6v5.0M520.7 180.7h5.0M523.2 178.2v5.0M521.6 179.7h5.0M524.1 177.2v5.0M522.5 181.4h5.0M525.0 178.9v5.0M523.4 182.3h5.0M525.9 179.8v5.0M524.3 186.2h5.0M526.8 183.7v5.0M525.2 185.5h5.0M527.7 183.0v5.0M526.1 185.0h5.0M528.6 182.5v5.0M527.0 185.7h5.0M529.5 183.2v5.0M527.9 185.4h5.0M530.4 182.9v5.0M528.5 182.2h5.0M531.0 179.7v5.0M529.4 183.2h5.0M531.9 180.7v5.0M530.3 179.4h5.0M532.8 176.9v5.0M531.2 182.5h5.0M533.7 180.0v5.0M532.1 182.1h5.0M534.6 179.6v5.0M533.0 180.6h5.0M535.5 178.1v5.0M533.9 181.9h5.0M536.4 179.4v5.0M534.8 183.8h5.0M537.3 181.3v5.0M535.7 181.5h5.0M538.2 179.0v5.0M536.6 182.3h5.0M539.1 179.8v5.0M537.5 180.6h5.0M540.0 178.1v5.0M538.4 180.8h5.0M540.9 178.3v5.0M539.3 183.5h5.0M541.8 181.0v5.0M540.2 179.2h5.0M542.7 176.7v5.0M541.1 180.0h5.0M543.6 177.5v5.0M542.0 182.5h5.0M544.5 180.0v5.0M542.9 181.3h5.0M545.4 178.8v5.0M543.8 179.5h5.0M546.3 177.0v5.0M544.7 182.4h5.0M547.2 179.9v5.0M545.6 180.9h5.0M548.1 178.4v5.0M546.5 182.0h5.0M549.0 179.5v5.0M547.4 181.1h5.0M549.9 178.6v5.0M548.3 181.7h5.0M550.8 179.2v5.0M549.2 181.9h5.0M551.7 179.4v5.0M550.1 181.0h5.0M552.6 178.5v5.0M551.0 179.6h5.0M553.5 177.1v5.0M551.9 179.9h5.0M554.4 177.4v5.0M552.8 183.5h5.0M555.3 181.0v5.0M553.7 181.8h5.0M556.2 179.3v5.0M554.6 179.6h5.0M557.1 177.1v5.0M555.5 183.3h5.0M558.0 180.8v5.0M556.4 180.3h5.0M558.9 177.8v5.0M557.3 179.5h5.0M559.8 177.0v5.0M558.2 181.7h5.0M560.7 179.2v5.0M559.1 180.3h5.0M561.6 177.8v5.0M560.0 181.5h5.0M562.5 179.0v5.0M560.9 181.8h5.0M563.4 179.3v5.0M561.8 180.1h5.0M564.3 177.6v5.0M562.7 181.9h5.0M565.2 179.4v5.0M563.6 179.5h5.0M566.1 177.0v5.0M564.5 181.5h5.0M567.0 179.0v5.0M565.4 181.8h5.0M567.9 179.3v5.0M566.3 179.3h5.0M568.8 176.8v5.0M567.2 180.9h5.0M569.7 178.4v5.0M568.1 179.2h5.0M570.6 176.7v5.0M569.0 181.0h5.0M571.5 178.5v5.0M569.9 183.1h5.0M572.4 180.6v5.0M570.8 181.5h5.0M573.3 179.0v5.0M571.7 182.2h5.0M574.2 179.7v5.0M572.6 182.4h5.0M575.1 179.9v5.0M573.5 179.2h5.0M576.0 176.7v5.0M574.4 183.5h5.0M576.9 181.0v5.0M575.3 182.2h5.0M577.8 179.7v5.0M576.2 179.0h5.0M578.7 176.5v5.0M577.1 182.6h5.0M579.6 180.1v5.0M578.0 180.4h5.0M580.5 177.9v5.0M578.9 179.3h5.0M581.4 176.8v5.0M579.8 183.2h5.0M582.3 180.7v5.0M580.7 181.0h5.0M583.2 178.5v5.0M581.6 182.0h5.0M584.1 179.5v5.0M582.5 178.6h5.0M585.0 176.1v5.0M583.4 181.7h5.0M585.9 179.2v5.0M584.3 178.0h5.0M586.8 175.5v5.0M585.2 178.7h5.0M587.7 176.2v5.0M586.1 179.3h5.0M588.6 176.8v5.0M587.0 177.4h5.0M589.5 174.9v5.0M587.9 180.1h5.0M590.4 177.6v5.0M588.8 178.1h5.0M591.3 175.6v5.0M589.7 178.4h5.0M592.2 175.9v5.0M590.6 180.3h5.0M593.1 177.8v5.0M591.5 178.7h5.0M594.0 176.2v5.0M592.4 180.9h5.0M594.9 178.4v5.0M593.3 179.4h5.0M595.8 176.9v5.0M594.2 180.6h5.0M596.7 178.1v5.0M595.1 178.9h5.0M597.6 176.4v5.0M596.0 180.5h5.0M598.5 178.0v5.0M596.9 180.1h5.0M599.4 177.6v5.0M597.8 176.5h5.0M600.3 174.0v5.0M598.7 179.2h5.0M601.2 176.7v5.0M599.6 177.1h5.0M602.1 174.6v5.0M600.5 179.1h5.0M603.0 176.6v5.0M601.4 178.5h5.0M603.9 176.0v5.0M602.3 178.9h5.0M604.8 176.4v5.0M603.2 175.1h5.0M605.7 172.6v5.0M604.1 176.0h5.0M606.6 173.5v5.0M605.0 177.5h5.0M607.5 175.0v5.0M605.9 178.2h5.0M608.4 175.7v5.0M606.8 176.8h5.0M609.3 174.3v5.0M607.7 173.0h5.0M610.2 170.5v5.0M608.6 175.5h5.0M611.1 173.0v5.0M609.5 172.7h5.0M612.0 170.2v5.0M610.4 174.6h5.0M612.9 172.1v5.0M611.3 176.2h5.0M613.8 173.7v5.0M612.2 173.2h5.0M614.7 170.7v5.0M613.1 177.7h5.0M615.6 175.2v5.0M614.0 176.9h5.0M616.5 174.4v5.0M614.9 175.2h5.0M617.4 172.7v5.0M615.8 175.4h5.0M618.3 172.9v5.0M616.7 177.1h5.0M619.2 174.6v5.0M617.6 179.5h5.0M620.1 177.0v5.0M618.5 178.6h5.0M621.0 176.1v5.0M619.4 176.7h5.0M621.9 174.2v5.0M620.3 176.7h5.0M622.8 174.2v5.0M621.2 177.6h5.0M623.7 175.1v5.0M622.1 181.5h5.0M624.6 179.0v5.0M623.0 178.8h5.0M625.5 176.3v5.0M623.9 181.1h5.0M626.4 178.6v5.0M624.8 180.1h5.0M627.3 177.6v5.0M625.7 182.3h5.0M628.2 179.8v5.0M626.6 181.0h5.0M629.1 178.5v5.0M627.5 180.1h5.0M630.0 177.6v5.0M628.4 184.0h5.0M630.9 181.5v5.0M629.3 182.5h5.0M631.8 180.0v5.0M630.2 183.5h5.0M632.7 181.0v5.0M631.1 184.4h5.0M633.6 181.9v5.0M632.0 185.3h5.0M634.5 182.8v5.0M632.9 180.9h5.0M635.4 178.4v5.0M633.8 182.8h5.0M636.3 180.3v5.0M634.7 182.0h5.0M637.2 179.5v5.0M635.6 184.0h5.0M638.1 181.5v5.0M414.3 125.0h5.0M416.8 122.5v5.0M494.9 148.1h5.0M497.4 145.6v5.0M575.7 149.9h5.0M578.2 147.4v5.0M624.0 151.4h5.0M626.5 148.9v5.0" fill="none" stroke="#A8BEE0" stroke-width="1.4"/><path d="M415.6 160.7h4.1v4.1h-4.1ZM419.6 172.2h4.1v4.1h-4.1ZM424.5 177.1h4.1v4.1h-4.1ZM428.9 172.7h4.1v4.1h-4.1ZM432.4 169.5h4.1v4.1h-4.1ZM435.6 171.8h4.1v4.1h-4.1ZM439.1 180.0h4.1v4.1h-4.1ZM441.8 178.4h4.1v4.1h-4.1ZM445.7 184.4h4.1v4.1h-4.1ZM448.4 184.8h4.1v4.1h-4.1ZM451.7 177.7h4.1v4.1h-4.1ZM454.6 188.8h4.1v4.1h-4.1ZM462.1 188.8h4.1v4.1h-4.1ZM465.5 191.0h4.1v4.1h-4.1ZM471.7 185.5h4.1v4.1h-4.1ZM475.0 185.1h4.1v4.1h-4.1ZM478.3 197.0h4.1v4.1h-4.1ZM484.3 197.0h4.1v4.1h-4.1ZM487.8 185.9h4.1v4.1h-4.1ZM494.9 195.5h4.1v4.1h-4.1ZM501.1 203.7h4.1v4.1h-4.1ZM504.2 209.4h4.1v4.1h-4.1ZM507.8 198.8h4.1v4.1h-4.1ZM510.9 203.7h4.1v4.1h-4.1ZM517.1 195.5h4.1v4.1h-4.1ZM520.4 198.4h4.1v4.1h-4.1ZM526.4 196.1h4.1v4.1h-4.1ZM529.9 185.9h4.1v4.1h-4.1ZM534.4 190.4h4.1v4.1h-4.1ZM536.4 192.6h4.1v4.1h-4.1ZM539.7 198.4h4.1v4.1h-4.1ZM543.7 203.7h4.1v4.1h-4.1ZM547.0 207.7h4.1v4.1h-4.1ZM550.8 209.9h4.1v4.1h-4.1ZM553.0 209.4h4.1v4.1h-4.1ZM557.4 203.7h4.1v4.1h-4.1ZM561.0 205.0h4.1v4.1h-4.1ZM558.0 205.0h4.1v4.1h-4.1ZM561.9 205.0h4.1v4.1h-4.1ZM569.0 214.8h4.1v4.1h-4.1ZM565.7 222.7h4.1v4.1h-4.1ZM571.7 219.8h4.1v4.1h-4.1ZM575.7 224.3h4.1v4.1h-4.1ZM579.0 205.4h4.1v4.1h-4.1ZM582.3 208.8h4.1v4.1h-4.1ZM586.3 195.5h4.1v4.1h-4.1ZM589.4 200.6h4.1v4.1h-4.1ZM592.3 201.0h4.1v4.1h-4.1ZM596.7 197.7h4.1v4.1h-4.1ZM601.2 197.7h4.1v4.1h-4.1ZM604.9 196.6h4.1v4.1h-4.1ZM608.5 196.1h4.1v4.1h-4.1ZM611.1 201.0h4.1v4.1h-4.1ZM615.1 192.8h4.1v4.1h-4.1ZM617.8 203.2h4.1v4.1h-4.1ZM621.1 202.1h4.1v4.1h-4.1ZM624.0 201.5h4.1v4.1h-4.1ZM628.4 196.1h4.1v4.1h-4.1ZM631.5 192.2h4.1v4.1h-4.1ZM635.1 198.4h4.1v4.1h-4.1ZM637.7 197.7h4.1v4.1h-4.1ZM641.0 194.4h4.1v4.1h-4.1ZM644.8 193.3h4.1v4.1h-4.1ZM647.7 195.5h4.1v4.1h-4.1ZM651.0 196.6h4.1v4.1h-4.1ZM654.3 196.6h4.1v4.1h-4.1ZM657.7 191.7h4.1v4.1h-4.1ZM663.2 192.2h4.1v4.1h-4.1ZM666.5 198.8h4.1v4.1h-4.1ZM671.0 193.3h4.1v4.1h-4.1ZM674.3 192.8h4.1v4.1h-4.1ZM677.6 196.1h4.1v4.1h-4.1ZM680.3 200.6h4.1v4.1h-4.1ZM683.1 193.3h4.1v4.1h-4.1ZM686.5 197.0h4.1v4.1h-4.1ZM689.8 196.6h4.1v4.1h-4.1ZM693.6 193.3h4.1v4.1h-4.1ZM696.4 189.9h4.1v4.1h-4.1ZM699.8 182.8h4.1v4.1h-4.1ZM703.1 191.7h4.1v4.1h-4.1ZM706.0 191.0h4.1v4.1h-4.1Z" fill="#145224"/></g><g clip-path="url(#c10)"><path d="M100.1 363.2l3.8 3.8m0 -3.8l-3.8 3.8M101.0 364.3l3.8 3.8m0 -3.8l-3.8 3.8M101.9 363.3l3.8 3.8m0 -3.8l-3.8 3.8M102.8 365.0l3.8 3.8m0 -3.8l-3.8 3.8M103.7 368.3l3.8 3.8m0 -3.8l-3.8 3.8M104.6 369.1l3.8 3.8m0 -3.8l-3.8 3.8M105.5 369.6l3.8 3.8m0 -3.8l-3.8 3.8M106.4 371.1l3.8 3.8m0 -3.8l-3.8 3.8M107.3 371.5l3.8 3.8m0 -3.8l-3.8 3.8M108.2 374.8l3.8 3.8m0 -3.8l-3.8 3.8M109.1 374.8l3.8 3.8m0 -3.8l-3.8 3.8M110.0 376.6l3.8 3.8m0 -3.8l-3.8 3.8M110.9 376.2l3.8 3.8m0 -3.8l-3.8 3.8M111.8 374.9l3.8 3.8m0 -3.8l-3.8 3.8M112.7 376.1l3.8 3.8m0 -3.8l-3.8 3.8M113.6 376.1l3.8 3.8m0 -3.8l-3.8 3.8M114.5 378.5l3.8 3.8m0 -3.8l-3.8 3.8M115.4 377.9l3.8 3.8m0 -3.8l-3.8 3.8M116.3 376.7l3.8 3.8m0 -3.8l-3.8 3.8M117.2 377.4l3.8 3.8m0 -3.8l-3.8 3.8M118.1 378.4l3.8 3.8m0 -3.8l-3.8 3.8M119.0 379.1l3.8 3.8m0 -3.8l-3.8 3.8M119.9 379.7l3.8 3.8m0 -3.8l-3.8 3.8M120.8 379.4l3.8 3.8m0 -3.8l-3.8 3.8M121.7 379.6l3.8 3.8m0 -3.8l-3.8 3.8M122.6 378.7l3.8 3.8m0 -3.8l-3.8 3.8M123.5 380.7l3.8 3.8m0 -3.8l-3.8 3.8M124.4 380.2l3.8 3.8m0 -3.8l-3.8 3.8M125.3 379.5l3.8 3.8m0 -3.8l-3.8 3.8M126.2 381.0l3.8 3.8m0 -3.8l-3.8 3.8M127.1 382.8l3.8 3.8m0 -3.8l-3.8 3.8M128.0 380.2l3.8 3.8m0 -3.8l-3.8 3.8M128.9 380.7l3.8 3.8m0 -3.8l-3.8 3.8M129.8 382.5l3.8 3.8m0 -3.8l-3.8 3.8M130.7 381.6l3.8 3.8m0 -3.8l-3.8 3.8M131.6 381.8l3.8 3.8m0 -3.8l-3.8 3.8M132.5 382.7l3.8 3.8m0 -3.8l-3.8 3.8M133.4 382.2l3.8 3.8m0 -3.8l-3.8 3.8M134.3 383.3l3.8 3.8m0 -3.8l-3.8 3.8M135.2 383.4l3.8 3.8m0 -3.8l-3.8 3.8M136.1 385.0l3.8 3.8m0 -3.8l-3.8 3.8M137.0 385.3l3.8 3.8m0 -3.8l-3.8 3.8M137.9 382.6l3.8 3.8m0 -3.8l-3.8 3.8M138.8 384.4l3.8 3.8m0 -3.8l-3.8 3.8M139.7 385.3l3.8 3.8m0 -3.8l-3.8 3.8M140.6 385.8l3.8 3.8m0 -3.8l-3.8 3.8M141.5 385.7l3.8 3.8m0 -3.8l-3.8 3.8M142.4 385.5l3.8 3.8m0 -3.8l-3.8 3.8M143.3 385.7l3.8 3.8m0 -3.8l-3.8 3.8M144.2 385.0l3.8 3.8m0 -3.8l-3.8 3.8M145.1 384.9l3.8 3.8m0 -3.8l-3.8 3.8M146.0 386.6l3.8 3.8m0 -3.8l-3.8 3.8M146.9 386.9l3.8 3.8m0 -3.8l-3.8 3.8M147.8 387.3l3.8 3.8m0 -3.8l-3.8 3.8M148.7 386.6l3.8 3.8m0 -3.8l-3.8 3.8M149.6 385.6l3.8 3.8m0 -3.8l-3.8 3.8M150.5 387.1l3.8 3.8m0 -3.8l-3.8 3.8M151.4 387.2l3.8 3.8m0 -3.8l-3.8 3.8M152.3 386.6l3.8 3.8m0 -3.8l-3.8 3.8M153.2 387.1l3.8 3.8m0 -3.8l-3.8 3.8M154.1 386.4l3.8 3.8m0 -3.8l-3.8 3.8M155.0 387.2l3.8 3.8m0 -3.8l-3.8 3.8M155.9 386.9l3.8 3.8m0 -3.8l-3.8 3.8M156.8 386.0l3.8 3.8m0 -3.8l-3.8 3.8M157.7 386.9l3.8 3.8m0 -3.8l-3.8 3.8M158.6 387.0l3.8 3.8m0 -3.8l-3.8 3.8M159.5 389.1l3.8 3.8m0 -3.8l-3.8 3.8M160.4 387.8l3.8 3.8m0 -3.8l-3.8 3.8M161.3 387.6l3.8 3.8m0 -3.8l-3.8 3.8M162.2 387.3l3.8 3.8m0 -3.8l-3.8 3.8M163.1 387.4l3.8 3.8m0 -3.8l-3.8 3.8M164.0 387.9l3.8 3.8m0 -3.8l-3.8 3.8M164.9 387.3l3.8 3.8m0 -3.8l-3.8 3.8M165.8 387.0l3.8 3.8m0 -3.8l-3.8 3.8M166.7 389.6l3.8 3.8m0 -3.8l-3.8 3.8M167.6 388.4l3.8 3.8m0 -3.8l-3.8 3.8M168.5 388.4l3.8 3.8m0 -3.8l-3.8 3.8M169.4 388.8l3.8 3.8m0 -3.8l-3.8 3.8M170.3 388.0l3.8 3.8m0 -3.8l-3.8 3.8M171.2 387.6l3.8 3.8m0 -3.8l-3.8 3.8M172.1 387.4l3.8 3.8m0 -3.8l-3.8 3.8M173.0 388.1l3.8 3.8m0 -3.8l-3.8 3.8M173.9 388.1l3.8 3.8m0 -3.8l-3.8 3.8M174.8 389.4l3.8 3.8m0 -3.8l-3.8 3.8M175.7 388.9l3.8 3.8m0 -3.8l-3.8 3.8M176.6 390.1l3.8 3.8m0 -3.8l-3.8 3.8M177.5 388.4l3.8 3.8m0 -3.8l-3.8 3.8M178.4 390.1l3.8 3.8m0 -3.8l-3.8 3.8M179.3 389.2l3.8 3.8m0 -3.8l-3.8 3.8M180.2 387.7l3.8 3.8m0 -3.8l-3.8 3.8M181.1 388.0l3.8 3.8m0 -3.8l-3.8 3.8M182.0 389.2l3.8 3.8m0 -3.8l-3.8 3.8M182.9 390.5l3.8 3.8m0 -3.8l-3.8 3.8M183.8 388.6l3.8 3.8m0 -3.8l-3.8 3.8M184.7 389.9l3.8 3.8m0 -3.8l-3.8 3.8M185.6 388.9l3.8 3.8m0 -3.8l-3.8 3.8M186.5 390.3l3.8 3.8m0 -3.8l-3.8 3.8M187.4 387.9l3.8 3.8m0 -3.8l-3.8 3.8M188.3 389.2l3.8 3.8m0 -3.8l-3.8 3.8M189.2 390.4l3.8 3.8m0 -3.8l-3.8 3.8M190.1 388.6l3.8 3.8m0 -3.8l-3.8 3.8M191.0 388.6l3.8 3.8m0 -3.8l-3.8 3.8M191.9 387.9l3.8 3.8m0 -3.8l-3.8 3.8M192.8 388.4l3.8 3.8m0 -3.8l-3.8 3.8M193.7 388.7l3.8 3.8m0 -3.8l-3.8 3.8M194.6 390.0l3.8 3.8m0 -3.8l-3.8 3.8M195.5 388.6l3.8 3.8m0 -3.8l-3.8 3.8M196.4 389.2l3.8 3.8m0 -3.8l-3.8 3.8M197.3 388.6l3.8 3.8m0 -3.8l-3.8 3.8M198.2 389.9l3.8 3.8m0 -3.8l-3.8 3.8M199.1 390.7l3.8 3.8m0 -3.8l-3.8 3.8M200.0 390.0l3.8 3.8m0 -3.8l-3.8 3.8M200.9 388.7l3.8 3.8m0 -3.8l-3.8 3.8M201.8 390.3l3.8 3.8m0 -3.8l-3.8 3.8M202.7 391.0l3.8 3.8m0 -3.8l-3.8 3.8M203.6 389.9l3.8 3.8m0 -3.8l-3.8 3.8M204.5 388.3l3.8 3.8m0 -3.8l-3.8 3.8M205.4 390.5l3.8 3.8m0 -3.8l-3.8 3.8M206.3 390.7l3.8 3.8m0 -3.8l-3.8 3.8M207.2 389.0l3.8 3.8m0 -3.8l-3.8 3.8M208.1 388.4l3.8 3.8m0 -3.8l-3.8 3.8M209.0 388.6l3.8 3.8m0 -3.8l-3.8 3.8M209.9 389.6l3.8 3.8m0 -3.8l-3.8 3.8M210.8 390.6l3.8 3.8m0 -3.8l-3.8 3.8M211.7 389.9l3.8 3.8m0 -3.8l-3.8 3.8M212.6 390.7l3.8 3.8m0 -3.8l-3.8 3.8M213.5 388.6l3.8 3.8m0 -3.8l-3.8 3.8M214.4 388.9l3.8 3.8m0 -3.8l-3.8 3.8M215.3 390.2l3.8 3.8m0 -3.8l-3.8 3.8M216.2 389.9l3.8 3.8m0 -3.8l-3.8 3.8M217.1 389.1l3.8 3.8m0 -3.8l-3.8 3.8M218.0 389.9l3.8 3.8m0 -3.8l-3.8 3.8M218.9 388.9l3.8 3.8m0 -3.8l-3.8 3.8M219.8 388.1l3.8 3.8m0 -3.8l-3.8 3.8M220.7 389.1l3.8 3.8m0 -3.8l-3.8 3.8M221.6 388.0l3.8 3.8m0 -3.8l-3.8 3.8M222.5 389.7l3.8 3.8m0 -3.8l-3.8 3.8M223.4 388.9l3.8 3.8m0 -3.8l-3.8 3.8M224.3 389.3l3.8 3.8m0 -3.8l-3.8 3.8M225.2 389.6l3.8 3.8m0 -3.8l-3.8 3.8M226.1 388.6l3.8 3.8m0 -3.8l-3.8 3.8M227.0 389.2l3.8 3.8m0 -3.8l-3.8 3.8M227.9 387.8l3.8 3.8m0 -3.8l-3.8 3.8M228.8 390.6l3.8 3.8m0 -3.8l-3.8 3.8M229.7 389.5l3.8 3.8m0 -3.8l-3.8 3.8M230.6 390.7l3.8 3.8m0 -3.8l-3.8 3.8M231.5 387.9l3.8 3.8m0 -3.8l-3.8 3.8M232.4 389.6l3.8 3.8m0 -3.8l-3.8 3.8M233.3 389.9l3.8 3.8m0 -3.8l-3.8 3.8M234.2 388.7l3.8 3.8m0 -3.8l-3.8 3.8M235.1 388.0l3.8 3.8m0 -3.8l-3.8 3.8M236.0 388.2l3.8 3.8m0 -3.8l-3.8 3.8M236.9 388.1l3.8 3.8m0 -3.8l-3.8 3.8M237.8 390.0l3.8 3.8m0 -3.8l-3.8 3.8M238.7 388.0l3.8 3.8m0 -3.8l-3.8 3.8M239.6 390.1l3.8 3.8m0 -3.8l-3.8 3.8M240.5 388.9l3.8 3.8m0 -3.8l-3.8 3.8M241.4 389.3l3.8 3.8m0 -3.8l-3.8 3.8M242.3 389.4l3.8 3.8m0 -3.8l-3.8 3.8M243.2 389.3l3.8 3.8m0 -3.8l-3.8 3.8M244.1 389.6l3.8 3.8m0 -3.8l-3.8 3.8M245.0 389.4l3.8 3.8m0 -3.8l-3.8 3.8M245.9 388.6l3.8 3.8m0 -3.8l-3.8 3.8M246.8 389.8l3.8 3.8m0 -3.8l-3.8 3.8M247.7 388.4l3.8 3.8m0 -3.8l-3.8 3.8M248.6 389.7l3.8 3.8m0 -3.8l-3.8 3.8M249.5 389.7l3.8 3.8m0 -3.8l-3.8 3.8M250.4 389.6l3.8 3.8m0 -3.8l-3.8 3.8M251.3 388.1l3.8 3.8m0 -3.8l-3.8 3.8M252.2 389.4l3.8 3.8m0 -3.8l-3.8 3.8M253.1 389.9l3.8 3.8m0 -3.8l-3.8 3.8M254.0 388.2l3.8 3.8m0 -3.8l-3.8 3.8M254.9 387.6l3.8 3.8m0 -3.8l-3.8 3.8M255.8 388.2l3.8 3.8m0 -3.8l-3.8 3.8M256.7 389.3l3.8 3.8m0 -3.8l-3.8 3.8M257.6 386.8l3.8 3.8m0 -3.8l-3.8 3.8M258.5 386.3l3.8 3.8m0 -3.8l-3.8 3.8M259.4 387.6l3.8 3.8m0 -3.8l-3.8 3.8M260.3 388.0l3.8 3.8m0 -3.8l-3.8 3.8M261.2 388.2l3.8 3.8m0 -3.8l-3.8 3.8M262.1 386.9l3.8 3.8m0 -3.8l-3.8 3.8M263.0 388.6l3.8 3.8m0 -3.8l-3.8 3.8M263.9 386.2l3.8 3.8m0 -3.8l-3.8 3.8M264.8 387.7l3.8 3.8m0 -3.8l-3.8 3.8M265.7 385.6l3.8 3.8m0 -3.8l-3.8 3.8M266.6 385.3l3.8 3.8m0 -3.8l-3.8 3.8M267.5 385.5l3.8 3.8m0 -3.8l-3.8 3.8M268.4 385.2l3.8 3.8m0 -3.8l-3.8 3.8M269.3 386.4l3.8 3.8m0 -3.8l-3.8 3.8M270.2 386.4l3.8 3.8m0 -3.8l-3.8 3.8M271.1 385.2l3.8 3.8m0 -3.8l-3.8 3.8M272.0 387.3l3.8 3.8m0 -3.8l-3.8 3.8M272.9 385.5l3.8 3.8m0 -3.8l-3.8 3.8M273.8 384.7l3.8 3.8m0 -3.8l-3.8 3.8M274.7 384.7l3.8 3.8m0 -3.8l-3.8 3.8M275.6 386.3l3.8 3.8m0 -3.8l-3.8 3.8M276.5 386.7l3.8 3.8m0 -3.8l-3.8 3.8M277.4 384.3l3.8 3.8m0 -3.8l-3.8 3.8M278.3 383.8l3.8 3.8m0 -3.8l-3.8 3.8M279.2 385.9l3.8 3.8m0 -3.8l-3.8 3.8M280.1 384.2l3.8 3.8m0 -3.8l-3.8 3.8M281.0 386.3l3.8 3.8m0 -3.8l-3.8 3.8M281.9 384.7l3.8 3.8m0 -3.8l-3.8 3.8M282.8 385.0l3.8 3.8m0 -3.8l-3.8 3.8M283.7 384.0l3.8 3.8m0 -3.8l-3.8 3.8M284.6 385.3l3.8 3.8m0 -3.8l-3.8 3.8M285.5 384.2l3.8 3.8m0 -3.8l-3.8 3.8M286.4 383.6l3.8 3.8m0 -3.8l-3.8 3.8M287.3 385.3l3.8 3.8m0 -3.8l-3.8 3.8M288.2 382.8l3.8 3.8m0 -3.8l-3.8 3.8M289.1 384.5l3.8 3.8m0 -3.8l-3.8 3.8M290.0 382.4l3.8 3.8m0 -3.8l-3.8 3.8M290.9 384.0l3.8 3.8m0 -3.8l-3.8 3.8M291.8 383.2l3.8 3.8m0 -3.8l-3.8 3.8M292.7 384.4l3.8 3.8m0 -3.8l-3.8 3.8M293.6 381.9l3.8 3.8m0 -3.8l-3.8 3.8M294.5 383.4l3.8 3.8m0 -3.8l-3.8 3.8M295.4 382.9l3.8 3.8m0 -3.8l-3.8 3.8M296.3 384.4l3.8 3.8m0 -3.8l-3.8 3.8M297.2 384.4l3.8 3.8m0 -3.8l-3.8 3.8M298.1 383.5l3.8 3.8m0 -3.8l-3.8 3.8M299.0 382.2l3.8 3.8m0 -3.8l-3.8 3.8M299.9 382.3l3.8 3.8m0 -3.8l-3.8 3.8M300.8 382.3l3.8 3.8m0 -3.8l-3.8 3.8M301.7 382.8l3.8 3.8m0 -3.8l-3.8 3.8M302.6 382.2l3.8 3.8m0 -3.8l-3.8 3.8M303.5 382.1l3.8 3.8m0 -3.8l-3.8 3.8M304.4 383.7l3.8 3.8m0 -3.8l-3.8 3.8M305.3 383.3l3.8 3.8m0 -3.8l-3.8 3.8M306.2 382.3l3.8 3.8m0 -3.8l-3.8 3.8M307.1 384.3l3.8 3.8m0 -3.8l-3.8 3.8M308.0 382.0l3.8 3.8m0 -3.8l-3.8 3.8M308.9 383.0l3.8 3.8m0 -3.8l-3.8 3.8M309.8 381.8l3.8 3.8m0 -3.8l-3.8 3.8M310.7 383.8l3.8 3.8m0 -3.8l-3.8 3.8M311.6 383.8l3.8 3.8m0 -3.8l-3.8 3.8M312.5 382.0l3.8 3.8m0 -3.8l-3.8 3.8M313.4 383.4l3.8 3.8m0 -3.8l-3.8 3.8M314.3 383.6l3.8 3.8m0 -3.8l-3.8 3.8M315.2 382.0l3.8 3.8m0 -3.8l-3.8 3.8M316.1 382.1l3.8 3.8m0 -3.8l-3.8 3.8M317.0 382.6l3.8 3.8m0 -3.8l-3.8 3.8M317.9 383.7l3.8 3.8m0 -3.8l-3.8 3.8M318.8 381.5l3.8 3.8m0 -3.8l-3.8 3.8M319.7 383.1l3.8 3.8m0 -3.8l-3.8 3.8M320.6 382.8l3.8 3.8m0 -3.8l-3.8 3.8M321.5 382.3l3.8 3.8m0 -3.8l-3.8 3.8M322.4 382.7l3.8 3.8m0 -3.8l-3.8 3.8M323.3 383.6l3.8 3.8m0 -3.8l-3.8 3.8M324.2 381.5l3.8 3.8m0 -3.8l-3.8 3.8M325.1 383.5l3.8 3.8m0 -3.8l-3.8 3.8M326.0 381.9l3.8 3.8m0 -3.8l-3.8 3.8M326.9 383.2l3.8 3.8m0 -3.8l-3.8 3.8M327.8 383.4l3.8 3.8m0 -3.8l-3.8 3.8M328.7 381.3l3.8 3.8m0 -3.8l-3.8 3.8M329.6 383.4l3.8 3.8m0 -3.8l-3.8 3.8M330.5 383.7l3.8 3.8m0 -3.8l-3.8 3.8M331.4 381.6l3.8 3.8m0 -3.8l-3.8 3.8M332.3 380.8l3.8 3.8m0 -3.8l-3.8 3.8M333.2 381.0l3.8 3.8m0 -3.8l-3.8 3.8M334.1 383.6l3.8 3.8m0 -3.8l-3.8 3.8M335.0 380.7l3.8 3.8m0 -3.8l-3.8 3.8M335.9 383.3l3.8 3.8m0 -3.8l-3.8 3.8M336.8 381.0l3.8 3.8m0 -3.8l-3.8 3.8M337.7 382.8l3.8 3.8m0 -3.8l-3.8 3.8M338.6 380.8l3.8 3.8m0 -3.8l-3.8 3.8M339.5 381.0l3.8 3.8m0 -3.8l-3.8 3.8M247.7 312.8l3.8 3.8m0 -3.8l-3.8 3.8M328.2 315.9l3.8 3.8m0 -3.8l-3.8 3.8M292.7 377.4l3.8 3.8m0 -3.8l-3.8 3.8M308.7 376.4l3.8 3.8m0 -3.8l-3.8 3.8" fill="none" stroke="#0E72B8" stroke-width="1.3"/><path d="M99.5 364.7h5.0M102.0 362.2v5.0M100.4 361.9h5.0M102.9 359.4v5.0M101.3 362.4h5.0M103.8 359.9v5.0M102.2 364.9h5.0M104.7 362.4v5.0M103.1 365.6h5.0M105.6 363.1v5.0M104.0 367.8h5.0M106.5 365.3v5.0M104.9 369.7h5.0M107.4 367.2v5.0M105.8 367.4h5.0M108.3 364.9v5.0M106.7 369.7h5.0M109.2 367.2v5.0M107.6 373.5h5.0M110.1 371.0v5.0M108.5 374.6h5.0M111.0 372.1v5.0M109.4 372.4h5.0M111.9 369.9v5.0M110.3 374.7h5.0M112.8 372.2v5.0M111.2 374.1h5.0M113.7 371.6v5.0M112.1 375.3h5.0M114.6 372.8v5.0M113.0 374.5h5.0M115.5 372.0v5.0M113.9 374.6h5.0M116.4 372.1v5.0M114.8 378.9h5.0M117.3 376.4v5.0M115.7 376.7h5.0M118.2 374.2v5.0M116.6 379.4h5.0M119.1 376.9v5.0M117.5 376.8h5.0M120.0 374.3v5.0M118.4 378.7h5.0M120.9 376.2v5.0M119.3 377.7h5.0M121.8 375.2v5.0M120.2 379.1h5.0M122.7 376.6v5.0M121.1 378.2h5.0M123.6 375.7v5.0M122.0 380.3h5.0M124.5 377.8v5.0M122.9 378.2h5.0M125.4 375.7v5.0M123.8 380.7h5.0M126.3 378.2v5.0M124.7 379.8h5.0M127.2 377.3v5.0M125.6 378.4h5.0M128.1 375.9v5.0M126.5 379.4h5.0M129.0 376.9v5.0M127.4 380.1h5.0M129.9 377.6v5.0M128.3 381.9h5.0M130.8 379.4v5.0M129.2 379.7h5.0M131.7 377.2v5.0M130.1 379.2h5.0M132.6 376.7v5.0M131.0 382.3h5.0M133.5 379.8v5.0M131.9 382.1h5.0M134.4 379.6v5.0M132.8 381.5h5.0M135.3 379.0v5.0M133.7 379.8h5.0M136.2 377.3v5.0M134.6 379.5h5.0M137.1 377.0v5.0M135.5 380.0h5.0M138.0 377.5v5.0M136.4 379.3h5.0M138.9 376.8v5.0M137.3 379.2h5.0M139.8 376.7v5.0M138.2 381.2h5.0M140.7 378.7v5.0M139.1 380.9h5.0M141.6 378.4v5.0M140.0 381.6h5.0M142.5 379.1v5.0M140.9 380.9h5.0M143.4 378.4v5.0M141.8 379.6h5.0M144.3 377.1v5.0M142.7 382.3h5.0M145.2 379.8v5.0M143.6 382.2h5.0M146.1 379.7v5.0M144.5 381.9h5.0M147.0 379.4v5.0M145.4 381.9h5.0M147.9 379.4v5.0M146.3 382.6h5.0M148.8 380.1v5.0M147.2 383.8h5.0M149.7 381.3v5.0M148.1 383.4h5.0M150.6 380.9v5.0M149.0 382.9h5.0M151.5 380.4v5.0M149.9 381.6h5.0M152.4 379.1v5.0M150.8 381.4h5.0M153.3 378.9v5.0M151.7 381.8h5.0M154.2 379.3v5.0M152.6 384.1h5.0M155.1 381.6v5.0M153.5 381.8h5.0M156.0 379.3v5.0M154.4 381.9h5.0M156.9 379.4v5.0M155.3 382.0h5.0M157.8 379.5v5.0M156.2 381.0h5.0M158.7 378.5v5.0M157.1 384.5h5.0M159.6 382.0v5.0M158.0 380.6h5.0M160.5 378.1v5.0M158.9 383.1h5.0M161.4 380.6v5.0M159.8 384.4h5.0M162.3 381.9v5.0M160.7 381.8h5.0M163.2 379.3v5.0M161.6 383.3h5.0M164.1 380.8v5.0M162.5 382.4h5.0M165.0 379.9v5.0M163.4 381.9h5.0M165.9 379.4v5.0M164.3 381.8h5.0M166.8 379.3v5.0M165.2 381.6h5.0M167.7 379.1v5.0M166.1 384.5h5.0M168.6 382.0v5.0M167.0 384.4h5.0M169.5 381.9v5.0M167.9 384.9h5.0M170.4 382.4v5.0M168.8 381.6h5.0M171.3 379.1v5.0M169.7 384.2h5.0M172.2 381.7v5.0M170.6 382.8h5.0M173.1 380.3v5.0M171.5 384.1h5.0M174.0 381.6v5.0M172.4 383.8h5.0M174.9 381.3v5.0M173.3 383.0h5.0M175.8 380.5v5.0M174.2 385.6h5.0M176.7 383.1v5.0M175.1 381.8h5.0M177.6 379.3v5.0M176.0 384.9h5.0M178.5 382.4v5.0M176.9 385.4h5.0M179.4 382.9v5.0M177.8 384.0h5.0M180.3 381.5v5.0M178.7 384.3h5.0M181.2 381.8v5.0M179.6 385.8h5.0M182.1 383.3v5.0M180.5 382.7h5.0M183.0 380.2v5.0M181.4 384.3h5.0M183.9 381.8v5.0M182.3 384.7h5.0M184.8 382.2v5.0M183.2 383.1h5.0M185.7 380.6v5.0M184.1 384.4h5.0M186.6 381.9v5.0M185.0 383.1h5.0M187.5 380.6v5.0M185.9 383.6h5.0M188.4 381.1v5.0M186.8 383.9h5.0M189.3 381.4v5.0M187.7 384.1h5.0M190.2 381.6v5.0M188.6 382.6h5.0M191.1 380.1v5.0M189.5 383.7h5.0M192.0 381.2v5.0M190.4 383.3h5.0M192.9 380.8v5.0M191.3 382.0h5.0M193.8 379.5v5.0M192.2 383.5h5.0M194.7 381.0v5.0M193.1 382.1h5.0M195.6 379.6v5.0M194.0 384.6h5.0M196.5 382.1v5.0M194.9 382.8h5.0M197.4 380.3v5.0M195.8 383.7h5.0M198.3 381.2v5.0M196.7 382.8h5.0M199.2 380.3v5.0M197.6 382.6h5.0M200.1 380.1v5.0M198.5 381.5h5.0M201.0 379.0v5.0M199.4 381.2h5.0M201.9 378.7v5.0M200.3 384.3h5.0M202.8 381.8v5.0M201.2 382.7h5.0M203.7 380.2v5.0M202.1 382.7h5.0M204.6 380.2v5.0M203.0 382.7h5.0M205.5 380.2v5.0M203.9 383.9h5.0M206.4 381.4v5.0M204.8 381.6h5.0M207.3 379.1v5.0M205.7 381.3h5.0M208.2 378.8v5.0M206.6 383.9h5.0M209.1 381.4v5.0M207.5 382.4h5.0M210.0 379.9v5.0M208.4 383.2h5.0M210.9 380.7v5.0M209.3 383.9h5.0M211.8 381.4v5.0M210.2 384.2h5.0M212.7 381.7v5.0M211.1 384.1h5.0M213.6 381.6v5.0M212.0 380.8h5.0M214.5 378.3v5.0M212.9 382.1h5.0M215.4 379.6v5.0M213.8 383.9h5.0M216.3 381.4v5.0M214.7 383.9h5.0M217.2 381.4v5.0M215.6 381.1h5.0M218.1 378.6v5.0M216.5 381.2h5.0M219.0 378.7v5.0M217.4 381.6h5.0M219.9 379.1v5.0M218.3 381.0h5.0M220.8 378.5v5.0M219.2 382.0h5.0M221.7 379.5v5.0M220.1 383.8h5.0M222.6 381.3v5.0M221.0 382.7h5.0M223.5 380.2v5.0M221.9 382.4h5.0M224.4 379.9v5.0M222.8 381.0h5.0M225.3 378.5v5.0M223.7 382.2h5.0M226.2 379.7v5.0M224.6 384.6h5.0M227.1 382.1v5.0M225.5 383.4h5.0M228.0 380.9v5.0M226.4 382.4h5.0M228.9 379.9v5.0M227.3 382.5h5.0M229.8 380.0v5.0M228.2 383.8h5.0M230.7 381.3v5.0M229.1 383.6h5.0M231.6 381.1v5.0M230.0 381.2h5.0M232.5 378.7v5.0M230.9 383.3h5.0M233.4 380.8v5.0M231.8 382.1h5.0M234.3 379.6v5.0M232.7 382.7h5.0M235.2 380.2v5.0M233.6 381.6h5.0M236.1 379.1v5.0M234.5 382.1h5.0M237.0 379.6v5.0M235.4 382.0h5.0M237.9 379.5v5.0M236.3 382.1h5.0M238.8 379.6v5.0M237.2 380.7h5.0M239.7 378.2v5.0M238.1 381.4h5.0M240.6 378.9v5.0M239.0 382.9h5.0M241.5 380.4v5.0M239.9 380.8h5.0M242.4 378.3v5.0M240.8 381.3h5.0M243.3 378.8v5.0M241.7 383.5h5.0M244.2 381.0v5.0M242.6 381.7h5.0M245.1 379.2v5.0M243.5 381.9h5.0M246.0 379.4v5.0M244.4 381.6h5.0M246.9 379.1v5.0M245.3 383.9h5.0M247.8 381.4v5.0M246.2 381.0h5.0M248.7 378.5v5.0M247.1 383.1h5.0M249.6 380.6v5.0M248.0 384.0h5.0M250.5 381.5v5.0M248.9 381.4h5.0M251.4 378.9v5.0M249.8 382.3h5.0M252.3 379.8v5.0M250.7 383.8h5.0M253.2 381.3v5.0M251.6 383.1h5.0M254.1 380.6v5.0M252.5 382.1h5.0M255.0 379.6v5.0M253.4 380.8h5.0M255.9 378.3v5.0M254.3 382.4h5.0M256.8 379.9v5.0M255.2 382.1h5.0M257.7 379.6v5.0M256.1 383.5h5.0M258.6 381.0v5.0M257.0 381.8h5.0M259.5 379.3v5.0M257.9 382.2h5.0M260.4 379.7v5.0M258.8 383.2h5.0M261.3 380.7v5.0M259.7 383.8h5.0M262.2 381.3v5.0M260.6 382.0h5.0M263.1 379.5v5.0M261.5 382.1h5.0M264.0 379.6v5.0M262.4 382.9h5.0M264.9 380.4v5.0M263.3 384.3h5.0M265.8 381.8v5.0M264.2 381.4h5.0M266.7 378.9v5.0M265.1 384.5h5.0M267.6 382.0v5.0M266.0 383.4h5.0M268.5 380.9v5.0M266.9 382.1h5.0M269.4 379.6v5.0M267.8 383.3h5.0M270.3 380.8v5.0M268.7 381.9h5.0M271.2 379.4v5.0M269.6 380.9h5.0M272.1 378.4v5.0M270.5 383.6h5.0M273.0 381.1v5.0M271.4 382.1h5.0M273.9 379.6v5.0M272.3 382.7h5.0M274.8 380.2v5.0M273.2 382.6h5.0M275.7 380.1v5.0M274.1 384.2h5.0M276.6 381.7v5.0M275.0 383.6h5.0M277.5 381.1v5.0M275.9 380.7h5.0M278.4 378.2v5.0M276.8 383.0h5.0M279.3 380.5v5.0M277.7 382.5h5.0M280.2 380.0v5.0M278.6 382.4h5.0M281.1 379.9v5.0M279.5 384.0h5.0M282.0 381.5v5.0M280.4 382.3h5.0M282.9 379.8v5.0M281.3 382.5h5.0M283.8 380.0v5.0M282.2 384.2h5.0M284.7 381.7v5.0M283.1 382.4h5.0M285.6 379.9v5.0M284.0 382.6h5.0M286.5 380.1v5.0M284.9 382.6h5.0M287.4 380.1v5.0M285.8 383.9h5.0M288.3 381.4v5.0M286.7 383.3h5.0M289.2 380.8v5.0M287.6 383.6h5.0M290.1 381.1v5.0M288.5 382.2h5.0M291.0 379.7v5.0M289.4 380.8h5.0M291.9 378.3v5.0M290.3 383.3h5.0M292.8 380.8v5.0M291.2 382.8h5.0M293.7 380.3v5.0M292.1 383.7h5.0M294.6 381.2v5.0M293.0 383.7h5.0M295.5 381.2v5.0M293.9 381.1h5.0M296.4 378.6v5.0M294.8 381.6h5.0M297.3 379.1v5.0M295.7 381.0h5.0M298.2 378.5v5.0M296.6 384.0h5.0M299.1 381.5v5.0M297.5 381.2h5.0M300.0 378.7v5.0M298.4 381.2h5.0M300.9 378.7v5.0M299.3 383.9h5.0M301.8 381.4v5.0M300.2 383.2h5.0M302.7 380.7v5.0M301.1 381.2h5.0M303.6 378.7v5.0M302.0 383.8h5.0M304.5 381.3v5.0M302.9 383.9h5.0M305.4 381.4v5.0M303.8 383.0h5.0M306.3 380.5v5.0M304.7 381.4h5.0M307.2 378.9v5.0M305.6 384.0h5.0M308.1 381.5v5.0M306.5 382.9h5.0M309.0 380.4v5.0M307.4 383.6h5.0M309.9 381.1v5.0M308.3 385.3h5.0M310.8 382.8v5.0M309.2 384.6h5.0M311.7 382.1v5.0M310.1 384.9h5.0M312.6 382.4v5.0M311.0 382.1h5.0M313.5 379.6v5.0M311.9 382.9h5.0M314.4 380.4v5.0M312.8 383.6h5.0M315.3 381.1v5.0M313.7 381.6h5.0M316.2 379.1v5.0M314.6 385.6h5.0M317.1 383.1v5.0M315.5 382.8h5.0M318.0 380.3v5.0M316.4 382.8h5.0M318.9 380.3v5.0M317.3 383.0h5.0M319.8 380.5v5.0M318.2 382.8h5.0M320.7 380.3v5.0M319.1 385.3h5.0M321.6 382.8v5.0M320.0 384.1h5.0M322.5 381.6v5.0M320.9 384.0h5.0M323.4 381.5v5.0M321.8 383.7h5.0M324.3 381.2v5.0M322.7 382.2h5.0M325.2 379.7v5.0M323.6 383.3h5.0M326.1 380.8v5.0M324.5 385.6h5.0M327.0 383.1v5.0M325.4 385.4h5.0M327.9 382.9v5.0M326.3 385.6h5.0M328.8 383.1v5.0M327.2 383.3h5.0M329.7 380.8v5.0M328.1 383.1h5.0M330.6 380.6v5.0M329.0 382.6h5.0M331.5 380.1v5.0M329.9 384.5h5.0M332.4 382.0v5.0M330.8 383.9h5.0M333.3 381.4v5.0M331.7 384.3h5.0M334.2 381.8v5.0M332.6 384.5h5.0M335.1 382.0v5.0M333.5 384.9h5.0M336.0 382.4v5.0M334.4 384.1h5.0M336.9 381.6v5.0M335.3 385.9h5.0M337.8 383.4v5.0M336.2 383.5h5.0M338.7 381.0v5.0M337.1 386.4h5.0M339.6 383.9v5.0M338.0 385.0h5.0M340.5 382.5v5.0M338.9 383.0h5.0M341.4 380.5v5.0M339.8 384.1h5.0M342.3 381.6v5.0M340.7 385.1h5.0M343.2 382.6v5.0M341.6 384.6h5.0M344.1 382.1v5.0M342.5 385.3h5.0M345.0 382.8v5.0M343.4 384.4h5.0M345.9 381.9v5.0M344.3 384.2h5.0M346.8 381.7v5.0M345.2 386.4h5.0M347.7 383.9v5.0M346.1 384.5h5.0M348.6 382.0v5.0M347.0 386.2h5.0M349.5 383.7v5.0M347.9 386.7h5.0M350.4 384.2v5.0M348.8 385.9h5.0M351.3 383.4v5.0M349.7 385.5h5.0M352.2 383.0v5.0M350.6 387.5h5.0M353.1 385.0v5.0M351.5 385.6h5.0M354.0 383.1v5.0M352.4 387.5h5.0M354.9 385.0v5.0M353.3 384.3h5.0M355.8 381.8v5.0M354.2 385.9h5.0M356.7 383.4v5.0M355.1 386.8h5.0M357.6 384.3v5.0M356.0 384.5h5.0M358.5 382.0v5.0M356.9 387.9h5.0M359.4 385.4v5.0M357.8 384.8h5.0M360.3 382.3v5.0M358.7 387.0h5.0M361.2 384.5v5.0M359.6 385.4h5.0M362.1 382.9v5.0M360.5 388.5h5.0M363.0 386.0v5.0M361.4 387.1h5.0M363.9 384.6v5.0M362.3 388.2h5.0M364.8 385.7v5.0M363.2 387.0h5.0M365.7 384.5v5.0M364.1 387.8h5.0M366.6 385.3v5.0M365.0 387.9h5.0M367.5 385.4v5.0M365.9 386.5h5.0M368.4 384.0v5.0M366.8 386.3h5.0M369.3 383.8v5.0M367.7 388.9h5.0M370.2 386.4v5.0M368.6 386.2h5.0M371.1 383.7v5.0M369.5 389.4h5.0M372.0 386.9v5.0M370.4 386.6h5.0M372.9 384.1v5.0M371.3 386.3h5.0M373.8 383.8v5.0M372.2 386.3h5.0M374.7 383.8v5.0M373.1 389.2h5.0M375.6 386.7v5.0M374.0 390.0h5.0M376.5 387.5v5.0M374.9 387.9h5.0M377.4 385.4v5.0M375.8 389.0h5.0M378.3 386.5v5.0M376.7 387.5h5.0M379.2 385.0v5.0M377.6 390.1h5.0M380.1 387.6v5.0M378.5 389.4h5.0M381.0 386.9v5.0M379.4 387.3h5.0M381.9 384.8v5.0M380.3 387.0h5.0M382.8 384.5v5.0M381.2 389.7h5.0M383.7 387.2v5.0M382.1 387.1h5.0M384.6 384.6v5.0M159.8 403.7h5.0M162.3 401.2v5.0M358.1 376.2h5.0M360.6 373.7v5.0" fill="none" stroke="#A8BEE0" stroke-width="1.4"/><path d="M102.0 362.5L104.8 367.4L99.2 367.4ZM102.9 362.1L105.7 366.9L100.1 366.9ZM103.8 363.4L106.6 368.3L101.0 368.3ZM104.7 366.2L107.5 371.0L101.9 371.0ZM105.6 366.8L108.4 371.6L102.8 371.6ZM106.5 369.2L109.3 374.0L103.7 374.0ZM107.4 369.2L110.2 374.1L104.6 374.1ZM108.3 373.5L111.1 378.4L105.5 378.4ZM109.2 372.9L112.0 377.8L106.4 377.8ZM110.1 376.3L112.9 381.2L107.3 381.2ZM111.0 375.3L113.8 380.2L108.2 380.2ZM111.9 378.1L114.7 383.0L109.1 383.0ZM112.8 379.2L115.6 384.1L110.0 384.1ZM113.7 377.6L116.5 382.4L110.9 382.4ZM114.6 376.7L117.4 381.6L111.8 381.6ZM115.5 378.4L118.3 383.3L112.7 383.3ZM116.4 379.8L119.2 384.7L113.6 384.7ZM117.3 378.8L120.1 383.6L114.5 383.6ZM118.2 380.4L121.0 385.2L115.4 385.2ZM119.1 379.2L121.9 384.0L116.3 384.0ZM120.0 381.0L122.8 385.8L117.2 385.8ZM120.9 382.4L123.7 387.2L118.1 387.2ZM121.8 381.7L124.6 386.6L119.0 386.6ZM122.7 382.9L125.5 387.8L119.9 387.8ZM123.6 381.1L126.4 386.0L120.8 386.0ZM124.5 383.9L127.3 388.8L121.7 388.8ZM125.4 381.6L128.2 386.4L122.6 386.4ZM126.3 384.7L129.1 389.6L123.5 389.6ZM127.2 385.2L130.0 390.0L124.4 390.0ZM128.1 385.2L130.9 390.1L125.3 390.1ZM129.0 383.9L131.8 388.8L126.2 388.8ZM129.9 383.3L132.7 388.2L127.1 388.2ZM130.8 383.7L133.6 388.6L128.0 388.6ZM131.7 385.4L134.5 390.3L128.9 390.3ZM132.6 384.7L135.4 389.6L129.8 389.6ZM133.5 386.5L136.3 391.4L130.7 391.4ZM134.4 383.7L137.2 388.6L131.6 388.6ZM135.3 385.4L138.1 390.2L132.5 390.2ZM136.2 386.9L139.0 391.8L133.4 391.8ZM137.1 386.2L139.9 391.1L134.3 391.1ZM138.0 386.2L140.8 391.1L135.2 391.1ZM138.9 384.8L141.7 389.7L136.1 389.7ZM139.8 385.2L142.6 390.1L137.0 390.1ZM140.7 385.9L143.5 390.8L137.9 390.8ZM141.6 388.4L144.4 393.3L138.8 393.3ZM142.5 388.4L145.3 393.3L139.7 393.3ZM143.4 386.4L146.2 391.3L140.6 391.3ZM144.3 389.2L147.1 394.0L141.5 394.0ZM145.2 386.1L148.0 391.0L142.4 391.0ZM146.1 388.4L148.9 393.2L143.3 393.2ZM147.0 389.9L149.8 394.7L144.2 394.7ZM147.9 387.8L150.7 392.7L145.1 392.7ZM148.8 390.1L151.6 395.0L146.0 395.0ZM149.7 389.3L152.5 394.1L146.9 394.1ZM150.6 387.3L153.4 392.1L147.8 392.1ZM151.5 388.5L154.3 393.3L148.7 393.3ZM152.4 389.1L155.2 393.9L149.6 393.9ZM153.3 388.5L156.1 393.4L150.5 393.4ZM154.2 390.5L157.0 395.3L151.4 395.3ZM155.1 388.6L157.9 393.5L152.3 393.5ZM156.0 391.0L158.8 395.9L153.2 395.9ZM156.9 389.4L159.7 394.3L154.1 394.3ZM157.8 388.8L160.6 393.6L155.0 393.6ZM158.7 390.7L161.5 395.6L155.9 395.6ZM159.6 389.2L162.4 394.1L156.8 394.1ZM160.5 391.1L163.3 395.9L157.7 395.9ZM161.4 392.1L164.2 396.9L158.6 396.9ZM162.3 391.6L165.1 396.4L159.5 396.4ZM163.2 391.3L166.0 396.1L160.4 396.1ZM164.1 389.9L166.9 394.8L161.3 394.8ZM165.0 391.8L167.8 396.7L162.2 396.7ZM165.9 390.5L168.7 395.4L163.1 395.4ZM166.8 392.5L169.6 397.3L164.0 397.3ZM167.7 390.6L170.5 395.4L164.9 395.4ZM168.6 392.1L171.4 396.9L165.8 396.9ZM169.5 391.2L172.3 396.1L166.7 396.1ZM170.4 391.2L173.2 396.1L167.6 396.1ZM171.3 392.2L174.1 397.0L168.5 397.0ZM172.2 390.3L175.0 395.2L169.4 395.2ZM173.1 390.3L175.9 395.1L170.3 395.1ZM174.0 393.0L176.8 397.8L171.2 397.8ZM174.9 390.7L177.7 395.6L172.1 395.6ZM175.8 392.5L178.6 397.3L173.0 397.3ZM176.7 392.5L179.5 397.4L173.9 397.4ZM177.6 391.0L180.4 395.9L174.8 395.9ZM178.5 389.8L181.3 394.6L175.7 394.6ZM179.4 389.5L182.2 394.3L176.6 394.3ZM180.3 392.2L183.1 397.1L177.5 397.1ZM181.2 389.4L184.0 394.3L178.4 394.3ZM182.1 390.7L184.9 395.6L179.3 395.6ZM183.0 390.8L185.8 395.7L180.2 395.7ZM183.9 389.2L186.7 394.1L181.1 394.1ZM184.8 390.4L187.6 395.3L182.0 395.3ZM185.7 389.2L188.5 394.1L182.9 394.1ZM186.6 390.5L189.4 395.4L183.8 395.4ZM187.5 390.3L190.3 395.2L184.7 395.2ZM188.4 389.8L191.2 394.6L185.6 394.6ZM189.3 389.1L192.1 393.9L186.5 393.9ZM190.2 389.8L193.0 394.6L187.4 394.6ZM191.1 389.0L193.9 393.8L188.3 393.8ZM192.0 388.6L194.8 393.5L189.2 393.5ZM192.9 389.0L195.7 393.8L190.1 393.8ZM193.8 391.2L196.6 396.0L191.0 396.0ZM194.7 389.8L197.5 394.6L191.9 394.6ZM195.6 391.1L198.4 395.9L192.8 395.9ZM196.5 387.9L199.3 392.7L193.7 392.7ZM197.4 391.1L200.2 396.0L194.6 396.0ZM198.3 389.4L201.1 394.3L195.5 394.3ZM199.2 390.4L202.0 395.3L196.4 395.3ZM200.1 389.6L202.9 394.4L197.3 394.4ZM201.0 389.9L203.8 394.8L198.2 394.8ZM201.9 388.2L204.7 393.1L199.1 393.1ZM202.8 390.0L205.6 394.9L200.0 394.9ZM203.7 387.8L206.5 392.7L200.9 392.7ZM204.6 388.1L207.4 393.0L201.8 393.0ZM205.5 387.2L208.3 392.1L202.7 392.1ZM206.4 388.4L209.2 393.3L203.6 393.3ZM207.3 388.8L210.1 393.7L204.5 393.7ZM208.2 388.0L211.0 392.8L205.4 392.8ZM209.1 390.1L211.9 395.0L206.3 395.0ZM210.0 387.2L212.8 392.0L207.2 392.0ZM210.9 388.9L213.7 393.8L208.1 393.8ZM211.8 387.6L214.6 392.5L209.0 392.5ZM212.7 388.9L215.5 393.7L209.9 393.7ZM213.6 389.5L216.4 394.4L210.8 394.4ZM214.5 389.2L217.3 394.1L211.7 394.1ZM215.4 386.8L218.2 391.7L212.6 391.7ZM216.3 387.4L219.1 392.3L213.5 392.3ZM217.2 388.7L220.0 393.5L214.4 393.5ZM218.1 390.0L220.9 394.9L215.3 394.9ZM219.0 386.6L221.8 391.4L216.2 391.4ZM219.9 388.6L222.7 393.5L217.1 393.5ZM220.8 388.8L223.6 393.7L218.0 393.7ZM221.7 389.2L224.5 394.1L218.9 394.1ZM222.6 387.5L225.4 392.4L219.8 392.4ZM223.5 389.1L226.3 394.0L220.7 394.0ZM224.4 387.8L227.2 392.7L221.6 392.7ZM225.3 389.5L228.1 394.3L222.5 394.3ZM226.2 386.1L229.0 391.0L223.4 391.0ZM227.1 389.4L229.9 394.3L224.3 394.3ZM228.0 387.5L230.8 392.4L225.2 392.4ZM228.9 387.4L231.7 392.3L226.1 392.3ZM229.8 386.3L232.6 391.1L227.0 391.1ZM230.7 386.8L233.5 391.6L227.9 391.6ZM231.6 388.5L234.4 393.4L228.8 393.4ZM232.5 388.3L235.3 393.1L229.7 393.1ZM233.4 386.3L236.2 391.2L230.6 391.2ZM234.3 387.0L237.1 391.8L231.5 391.8ZM235.2 386.2L238.0 391.1L232.4 391.1ZM236.1 386.4L238.9 391.2L233.3 391.2ZM237.0 386.4L239.8 391.3L234.2 391.3ZM237.9 386.8L240.7 391.6L235.1 391.6ZM238.8 389.0L241.6 393.9L236.0 393.9ZM239.7 389.1L242.5 393.9L236.9 393.9ZM240.6 388.3L243.4 393.1L237.8 393.1ZM241.5 387.1L244.3 392.0L238.7 392.0ZM242.4 387.1L245.2 392.0L239.6 392.0ZM243.3 388.1L246.1 393.0L240.5 393.0ZM244.2 388.5L247.0 393.4L241.4 393.4ZM245.1 387.9L247.9 392.8L242.3 392.8ZM246.0 387.5L248.8 392.3L243.2 392.3ZM246.9 385.9L249.7 390.7L244.1 390.7ZM247.8 387.4L250.6 392.2L245.0 392.2ZM248.7 388.1L251.5 393.0L245.9 393.0ZM249.6 387.9L252.4 392.7L246.8 392.7ZM250.5 385.3L253.3 390.2L247.7 390.2ZM251.4 387.6L254.2 392.5L248.6 392.5ZM252.3 386.3L255.1 391.2L249.5 391.2ZM253.2 385.6L256.0 390.5L250.4 390.5ZM254.1 388.5L256.9 393.4L251.3 393.4ZM255.0 387.5L257.8 392.4L252.2 392.4ZM255.9 387.8L258.7 392.6L253.1 392.6ZM256.8 385.6L259.6 390.4L254.0 390.4ZM257.7 388.1L260.5 393.0L254.9 393.0ZM258.6 388.5L261.4 393.4L255.8 393.4ZM259.5 388.4L262.3 393.3L256.7 393.3ZM260.4 387.8L263.2 392.7L257.6 392.7ZM261.3 388.2L264.1 393.0L258.5 393.0ZM262.2 388.1L265.0 392.9L259.4 392.9ZM263.1 387.3L265.9 392.2L260.3 392.2ZM264.0 386.8L266.8 391.6L261.2 391.6ZM264.9 388.2L267.7 393.1L262.1 393.1ZM265.8 388.1L268.6 392.9L263.0 392.9ZM266.7 388.4L269.5 393.3L263.9 393.3ZM267.6 386.3L270.4 391.2L264.8 391.2ZM268.5 388.7L271.3 393.6L265.7 393.6ZM269.4 387.2L272.2 392.1L266.6 392.1ZM270.3 388.7L273.1 393.6L267.5 393.6ZM271.2 385.7L274.0 390.6L268.4 390.6ZM272.1 388.8L274.9 393.7L269.3 393.7ZM273.0 388.2L275.8 393.0L270.2 393.0ZM273.9 386.3L276.7 391.1L271.1 391.1ZM274.8 388.4L277.6 393.3L272.0 393.3ZM275.7 386.2L278.5 391.1L272.9 391.1ZM276.6 386.1L279.4 391.0L273.8 391.0ZM277.5 387.1L280.3 391.9L274.7 391.9ZM278.4 386.3L281.2 391.1L275.6 391.1ZM279.3 387.2L282.1 392.1L276.5 392.1ZM280.2 388.7L283.0 393.6L277.4 393.6ZM281.1 387.9L283.9 392.8L278.3 392.8ZM282.0 388.0L284.8 392.9L279.2 392.9ZM282.9 386.9L285.7 391.8L280.1 391.8ZM283.8 388.3L286.6 393.2L281.0 393.2ZM284.7 388.4L287.5 393.2L281.9 393.2ZM285.6 388.0L288.4 392.9L282.8 392.9ZM286.5 388.9L289.3 393.8L283.7 393.8ZM287.4 388.5L290.2 393.4L284.6 393.4ZM288.3 387.0L291.1 391.9L285.5 391.9ZM289.2 385.9L292.0 390.8L286.4 390.8ZM290.1 388.0L292.9 392.8L287.3 392.8ZM291.0 388.6L293.8 393.5L288.2 393.5ZM291.9 386.9L294.7 391.7L289.1 391.7ZM292.8 387.8L295.6 392.7L290.0 392.7ZM293.7 388.7L296.5 393.5L290.9 393.5ZM294.6 388.5L297.4 393.4L291.8 393.4ZM295.5 385.7L298.3 390.6L292.7 390.6ZM296.4 387.5L299.2 392.4L293.6 392.4ZM297.3 385.9L300.1 390.7L294.5 390.7ZM298.2 386.3L301.0 391.1L295.4 391.1ZM299.1 388.9L301.9 393.7L296.3 393.7ZM300.0 387.5L302.8 392.4L297.2 392.4ZM300.9 388.3L303.7 393.1L298.1 393.1ZM301.8 387.8L304.6 392.7L299.0 392.7ZM302.7 387.5L305.5 392.3L299.9 392.3ZM303.6 387.1L306.4 391.9L300.8 391.9ZM304.5 387.7L307.3 392.5L301.7 392.5ZM305.4 389.5L308.2 394.4L302.6 394.4ZM306.3 388.8L309.1 393.6L303.5 393.6ZM307.2 387.6L310.0 392.5L304.4 392.5ZM308.1 387.0L310.9 391.8L305.3 391.8ZM309.0 387.7L311.8 392.6L306.2 392.6ZM309.9 389.3L312.7 394.2L307.1 394.2ZM310.8 388.5L313.6 393.3L308.0 393.3ZM311.7 389.3L314.5 394.2L308.9 394.2ZM312.6 389.9L315.4 394.8L309.8 394.8ZM313.5 387.5L316.3 392.4L310.7 392.4ZM314.4 389.6L317.2 394.5L311.6 394.5ZM315.3 387.4L318.1 392.2L312.5 392.2ZM316.2 390.3L319.0 395.1L313.4 395.1ZM317.1 388.0L319.9 392.9L314.3 392.9ZM318.0 388.4L320.8 393.3L315.2 393.3ZM318.9 391.0L321.7 395.8L316.1 395.8ZM319.8 388.9L322.6 393.8L317.0 393.8ZM320.7 388.5L323.5 393.3L317.9 393.3ZM321.6 390.9L324.4 395.8L318.8 395.8ZM322.5 390.0L325.3 394.9L319.7 394.9ZM323.4 391.1L326.2 395.9L320.6 395.9ZM324.3 389.4L327.1 394.2L321.5 394.2ZM325.2 389.8L328.0 394.7L322.4 394.7ZM326.1 391.5L328.9 396.4L323.3 396.4ZM327.0 390.0L329.8 394.8L324.2 394.8ZM327.9 391.8L330.7 396.6L325.1 396.6ZM328.8 389.0L331.6 393.8L326.0 393.8ZM329.7 391.4L332.5 396.2L326.9 396.2ZM330.6 389.0L333.4 393.9L327.8 393.9ZM331.5 390.4L334.3 395.3L328.7 395.3ZM332.4 388.6L335.2 393.4L329.6 393.4ZM333.3 389.3L336.1 394.1L330.5 394.1ZM334.2 392.1L337.0 397.0L331.4 397.0ZM335.1 390.4L337.9 395.3L332.3 395.3ZM336.0 391.8L338.8 396.6L333.2 396.6ZM336.9 389.8L339.7 394.7L334.1 394.7ZM337.8 390.3L340.6 395.1L335.0 395.1ZM338.7 389.4L341.5 394.3L335.9 394.3ZM339.6 391.1L342.4 396.0L336.8 396.0ZM340.5 392.3L343.3 397.2L337.7 397.2ZM341.4 391.1L344.2 396.0L338.6 396.0ZM342.3 390.7L345.1 395.6L339.5 395.6ZM343.2 392.8L346.0 397.6L340.4 397.6ZM344.1 392.7L346.9 397.6L341.3 397.6ZM168.6 299.3L171.4 304.2L165.8 304.2ZM249.6 317.1L252.4 322.0L246.8 322.0ZM330.1 327.3L332.9 332.2L327.3 332.2ZM186.4 395.2L189.2 400.1L183.6 400.1Z" fill="#EA7118"/><path d="M99.8 364.5a2.2 2.2 0 1 0 4.4 0a2.2 2.2 0 1 0 -4.4 0M100.7 364.1a2.2 2.2 0 1 0 4.4 0a2.2 2.2 0 1 0 -4.4 0M101.6 367.2a2.2 2.2 0 1 0 4.4 0a2.2 2.2 0 1 0 -4.4 0M102.5 368.0a2.2 2.2 0 1 0 4.4 0a2.2 2.2 0 1 0 -4.4 0M103.4 371.0a2.2 2.2 0 1 0 4.4 0a2.2 2.2 0 1 0 -4.4 0M104.3 370.6a2.2 2.2 0 1 0 4.4 0a2.2 2.2 0 1 0 -4.4 0M105.2 372.9a2.2 2.2 0 1 0 4.4 0a2.2 2.2 0 1 0 -4.4 0M106.1 374.2a2.2 2.2 0 1 0 4.4 0a2.2 2.2 0 1 0 -4.4 0M107.0 374.8a2.2 2.2 0 1 0 4.4 0a2.2 2.2 0 1 0 -4.4 0M107.9 376.7a2.2 2.2 0 1 0 4.4 0a2.2 2.2 0 1 0 -4.4 0M108.8 378.5a2.2 2.2 0 1 0 4.4 0a2.2 2.2 0 1 0 -4.4 0M109.7 379.9a2.2 2.2 0 1 0 4.4 0a2.2 2.2 0 1 0 -4.4 0M110.6 379.3a2.2 2.2 0 1 0 4.4 0a2.2 2.2 0 1 0 -4.4 0M111.5 379.6a2.2 2.2 0 1 0 4.4 0a2.2 2.2 0 1 0 -4.4 0M112.4 382.1a2.2 2.2 0 1 0 4.4 0a2.2 2.2 0 1 0 -4.4 0M113.3 380.0a2.2 2.2 0 1 0 4.4 0a2.2 2.2 0 1 0 -4.4 0M114.2 383.0a2.2 2.2 0 1 0 4.4 0a2.2 2.2 0 1 0 -4.4 0M115.1 383.2a2.2 2.2 0 1 0 4.4 0a2.2 2.2 0 1 0 -4.4 0M116.0 383.5a2.2 2.2 0 1 0 4.4 0a2.2 2.2 0 1 0 -4.4 0M116.9 383.8a2.2 2.2 0 1 0 4.4 0a2.2 2.2 0 1 0 -4.4 0M117.8 385.4a2.2 2.2 0 1 0 4.4 0a2.2 2.2 0 1 0 -4.4 0M118.7 386.5a2.2 2.2 0 1 0 4.4 0a2.2 2.2 0 1 0 -4.4 0M119.6 386.7a2.2 2.2 0 1 0 4.4 0a2.2 2.2 0 1 0 -4.4 0M120.5 387.4a2.2 2.2 0 1 0 4.4 0a2.2 2.2 0 1 0 -4.4 0M121.4 385.9a2.2 2.2 0 1 0 4.4 0a2.2 2.2 0 1 0 -4.4 0M122.3 387.5a2.2 2.2 0 1 0 4.4 0a2.2 2.2 0 1 0 -4.4 0M123.2 387.6a2.2 2.2 0 1 0 4.4 0a2.2 2.2 0 1 0 -4.4 0M124.1 390.7a2.2 2.2 0 1 0 4.4 0a2.2 2.2 0 1 0 -4.4 0M125.0 391.2a2.2 2.2 0 1 0 4.4 0a2.2 2.2 0 1 0 -4.4 0M125.9 389.4a2.2 2.2 0 1 0 4.4 0a2.2 2.2 0 1 0 -4.4 0M126.8 391.0a2.2 2.2 0 1 0 4.4 0a2.2 2.2 0 1 0 -4.4 0M127.7 391.3a2.2 2.2 0 1 0 4.4 0a2.2 2.2 0 1 0 -4.4 0M128.6 390.0a2.2 2.2 0 1 0 4.4 0a2.2 2.2 0 1 0 -4.4 0M129.5 391.3a2.2 2.2 0 1 0 4.4 0a2.2 2.2 0 1 0 -4.4 0M130.4 392.7a2.2 2.2 0 1 0 4.4 0a2.2 2.2 0 1 0 -4.4 0M131.3 392.7a2.2 2.2 0 1 0 4.4 0a2.2 2.2 0 1 0 -4.4 0M132.2 391.9a2.2 2.2 0 1 0 4.4 0a2.2 2.2 0 1 0 -4.4 0M133.1 393.7a2.2 2.2 0 1 0 4.4 0a2.2 2.2 0 1 0 -4.4 0M134.0 392.5a2.2 2.2 0 1 0 4.4 0a2.2 2.2 0 1 0 -4.4 0M134.9 393.6a2.2 2.2 0 1 0 4.4 0a2.2 2.2 0 1 0 -4.4 0M135.8 393.5a2.2 2.2 0 1 0 4.4 0a2.2 2.2 0 1 0 -4.4 0M136.7 395.5a2.2 2.2 0 1 0 4.4 0a2.2 2.2 0 1 0 -4.4 0M137.6 394.8a2.2 2.2 0 1 0 4.4 0a2.2 2.2 0 1 0 -4.4 0M138.5 395.6a2.2 2.2 0 1 0 4.4 0a2.2 2.2 0 1 0 -4.4 0M139.4 395.5a2.2 2.2 0 1 0 4.4 0a2.2 2.2 0 1 0 -4.4 0M140.3 394.9a2.2 2.2 0 1 0 4.4 0a2.2 2.2 0 1 0 -4.4 0M141.2 397.0a2.2 2.2 0 1 0 4.4 0a2.2 2.2 0 1 0 -4.4 0M142.1 396.5a2.2 2.2 0 1 0 4.4 0a2.2 2.2 0 1 0 -4.4 0M143.0 396.7a2.2 2.2 0 1 0 4.4 0a2.2 2.2 0 1 0 -4.4 0M143.9 395.8a2.2 2.2 0 1 0 4.4 0a2.2 2.2 0 1 0 -4.4 0M144.8 395.7a2.2 2.2 0 1 0 4.4 0a2.2 2.2 0 1 0 -4.4 0M145.7 397.3a2.2 2.2 0 1 0 4.4 0a2.2 2.2 0 1 0 -4.4 0M146.6 398.3a2.2 2.2 0 1 0 4.4 0a2.2 2.2 0 1 0 -4.4 0M147.5 398.5a2.2 2.2 0 1 0 4.4 0a2.2 2.2 0 1 0 -4.4 0M148.4 397.5a2.2 2.2 0 1 0 4.4 0a2.2 2.2 0 1 0 -4.4 0M149.3 397.2a2.2 2.2 0 1 0 4.4 0a2.2 2.2 0 1 0 -4.4 0M150.2 398.6a2.2 2.2 0 1 0 4.4 0a2.2 2.2 0 1 0 -4.4 0M151.1 400.0a2.2 2.2 0 1 0 4.4 0a2.2 2.2 0 1 0 -4.4 0M152.0 398.1a2.2 2.2 0 1 0 4.4 0a2.2 2.2 0 1 0 -4.4 0M152.9 400.2a2.2 2.2 0 1 0 4.4 0a2.2 2.2 0 1 0 -4.4 0M153.8 398.8a2.2 2.2 0 1 0 4.4 0a2.2 2.2 0 1 0 -4.4 0M154.7 399.5a2.2 2.2 0 1 0 4.4 0a2.2 2.2 0 1 0 -4.4 0M155.6 399.0a2.2 2.2 0 1 0 4.4 0a2.2 2.2 0 1 0 -4.4 0M156.5 400.0a2.2 2.2 0 1 0 4.4 0a2.2 2.2 0 1 0 -4.4 0M157.4 400.6a2.2 2.2 0 1 0 4.4 0a2.2 2.2 0 1 0 -4.4 0M158.3 402.6a2.2 2.2 0 1 0 4.4 0a2.2 2.2 0 1 0 -4.4 0M159.2 402.8a2.2 2.2 0 1 0 4.4 0a2.2 2.2 0 1 0 -4.4 0M160.1 400.7a2.2 2.2 0 1 0 4.4 0a2.2 2.2 0 1 0 -4.4 0M161.0 401.3a2.2 2.2 0 1 0 4.4 0a2.2 2.2 0 1 0 -4.4 0M161.9 403.4a2.2 2.2 0 1 0 4.4 0a2.2 2.2 0 1 0 -4.4 0M162.8 401.4a2.2 2.2 0 1 0 4.4 0a2.2 2.2 0 1 0 -4.4 0M163.7 402.0a2.2 2.2 0 1 0 4.4 0a2.2 2.2 0 1 0 -4.4 0M164.6 402.5a2.2 2.2 0 1 0 4.4 0a2.2 2.2 0 1 0 -4.4 0M165.5 401.8a2.2 2.2 0 1 0 4.4 0a2.2 2.2 0 1 0 -4.4 0M166.4 402.4a2.2 2.2 0 1 0 4.4 0a2.2 2.2 0 1 0 -4.4 0M167.3 403.0a2.2 2.2 0 1 0 4.4 0a2.2 2.2 0 1 0 -4.4 0M168.2 403.2a2.2 2.2 0 1 0 4.4 0a2.2 2.2 0 1 0 -4.4 0M169.1 405.2a2.2 2.2 0 1 0 4.4 0a2.2 2.2 0 1 0 -4.4 0M170.0 403.3a2.2 2.2 0 1 0 4.4 0a2.2 2.2 0 1 0 -4.4 0M170.9 403.3a2.2 2.2 0 1 0 4.4 0a2.2 2.2 0 1 0 -4.4 0M171.8 405.6a2.2 2.2 0 1 0 4.4 0a2.2 2.2 0 1 0 -4.4 0M172.7 404.5a2.2 2.2 0 1 0 4.4 0a2.2 2.2 0 1 0 -4.4 0M173.6 405.8a2.2 2.2 0 1 0 4.4 0a2.2 2.2 0 1 0 -4.4 0M174.5 405.4a2.2 2.2 0 1 0 4.4 0a2.2 2.2 0 1 0 -4.4 0M175.4 406.1a2.2 2.2 0 1 0 4.4 0a2.2 2.2 0 1 0 -4.4 0M176.3 404.9a2.2 2.2 0 1 0 4.4 0a2.2 2.2 0 1 0 -4.4 0M177.2 404.6a2.2 2.2 0 1 0 4.4 0a2.2 2.2 0 1 0 -4.4 0M178.1 406.7a2.2 2.2 0 1 0 4.4 0a2.2 2.2 0 1 0 -4.4 0M179.0 406.0a2.2 2.2 0 1 0 4.4 0a2.2 2.2 0 1 0 -4.4 0M179.9 406.6a2.2 2.2 0 1 0 4.4 0a2.2 2.2 0 1 0 -4.4 0M180.8 407.2a2.2 2.2 0 1 0 4.4 0a2.2 2.2 0 1 0 -4.4 0M181.7 407.7a2.2 2.2 0 1 0 4.4 0a2.2 2.2 0 1 0 -4.4 0M182.6 406.5a2.2 2.2 0 1 0 4.4 0a2.2 2.2 0 1 0 -4.4 0M183.5 407.0a2.2 2.2 0 1 0 4.4 0a2.2 2.2 0 1 0 -4.4 0M184.4 408.9a2.2 2.2 0 1 0 4.4 0a2.2 2.2 0 1 0 -4.4 0M185.3 408.0a2.2 2.2 0 1 0 4.4 0a2.2 2.2 0 1 0 -4.4 0M186.2 407.5a2.2 2.2 0 1 0 4.4 0a2.2 2.2 0 1 0 -4.4 0M187.1 408.8a2.2 2.2 0 1 0 4.4 0a2.2 2.2 0 1 0 -4.4 0M188.0 407.9a2.2 2.2 0 1 0 4.4 0a2.2 2.2 0 1 0 -4.4 0M188.9 409.7a2.2 2.2 0 1 0 4.4 0a2.2 2.2 0 1 0 -4.4 0M189.8 407.8a2.2 2.2 0 1 0 4.4 0a2.2 2.2 0 1 0 -4.4 0M190.7 410.4a2.2 2.2 0 1 0 4.4 0a2.2 2.2 0 1 0 -4.4 0M191.6 409.9a2.2 2.2 0 1 0 4.4 0a2.2 2.2 0 1 0 -4.4 0M192.5 409.5a2.2 2.2 0 1 0 4.4 0a2.2 2.2 0 1 0 -4.4 0M193.4 411.5a2.2 2.2 0 1 0 4.4 0a2.2 2.2 0 1 0 -4.4 0M194.3 409.7a2.2 2.2 0 1 0 4.4 0a2.2 2.2 0 1 0 -4.4 0M195.2 409.9a2.2 2.2 0 1 0 4.4 0a2.2 2.2 0 1 0 -4.4 0M196.1 409.7a2.2 2.2 0 1 0 4.4 0a2.2 2.2 0 1 0 -4.4 0M197.0 411.3a2.2 2.2 0 1 0 4.4 0a2.2 2.2 0 1 0 -4.4 0M197.9 412.2a2.2 2.2 0 1 0 4.4 0a2.2 2.2 0 1 0 -4.4 0M198.8 412.2a2.2 2.2 0 1 0 4.4 0a2.2 2.2 0 1 0 -4.4 0M199.7 411.7a2.2 2.2 0 1 0 4.4 0a2.2 2.2 0 1 0 -4.4 0M200.6 413.0a2.2 2.2 0 1 0 4.4 0a2.2 2.2 0 1 0 -4.4 0M201.5 411.0a2.2 2.2 0 1 0 4.4 0a2.2 2.2 0 1 0 -4.4 0M202.4 411.8a2.2 2.2 0 1 0 4.4 0a2.2 2.2 0 1 0 -4.4 0M203.3 412.9a2.2 2.2 0 1 0 4.4 0a2.2 2.2 0 1 0 -4.4 0M204.2 414.0a2.2 2.2 0 1 0 4.4 0a2.2 2.2 0 1 0 -4.4 0M205.1 413.2a2.2 2.2 0 1 0 4.4 0a2.2 2.2 0 1 0 -4.4 0M206.0 413.5a2.2 2.2 0 1 0 4.4 0a2.2 2.2 0 1 0 -4.4 0M206.9 413.9a2.2 2.2 0 1 0 4.4 0a2.2 2.2 0 1 0 -4.4 0M207.8 412.9a2.2 2.2 0 1 0 4.4 0a2.2 2.2 0 1 0 -4.4 0M208.7 414.7a2.2 2.2 0 1 0 4.4 0a2.2 2.2 0 1 0 -4.4 0M209.6 414.2a2.2 2.2 0 1 0 4.4 0a2.2 2.2 0 1 0 -4.4 0M210.5 413.2a2.2 2.2 0 1 0 4.4 0a2.2 2.2 0 1 0 -4.4 0M211.4 413.5a2.2 2.2 0 1 0 4.4 0a2.2 2.2 0 1 0 -4.4 0M212.3 414.8a2.2 2.2 0 1 0 4.4 0a2.2 2.2 0 1 0 -4.4 0M213.2 413.6a2.2 2.2 0 1 0 4.4 0a2.2 2.2 0 1 0 -4.4 0M214.1 413.3a2.2 2.2 0 1 0 4.4 0a2.2 2.2 0 1 0 -4.4 0M215.0 415.5a2.2 2.2 0 1 0 4.4 0a2.2 2.2 0 1 0 -4.4 0M215.9 414.6a2.2 2.2 0 1 0 4.4 0a2.2 2.2 0 1 0 -4.4 0M216.8 414.7a2.2 2.2 0 1 0 4.4 0a2.2 2.2 0 1 0 -4.4 0M217.7 415.3a2.2 2.2 0 1 0 4.4 0a2.2 2.2 0 1 0 -4.4 0M218.6 416.1a2.2 2.2 0 1 0 4.4 0a2.2 2.2 0 1 0 -4.4 0M219.5 413.9a2.2 2.2 0 1 0 4.4 0a2.2 2.2 0 1 0 -4.4 0M220.4 414.7a2.2 2.2 0 1 0 4.4 0a2.2 2.2 0 1 0 -4.4 0M221.3 414.0a2.2 2.2 0 1 0 4.4 0a2.2 2.2 0 1 0 -4.4 0M222.2 415.2a2.2 2.2 0 1 0 4.4 0a2.2 2.2 0 1 0 -4.4 0M223.1 415.6a2.2 2.2 0 1 0 4.4 0a2.2 2.2 0 1 0 -4.4 0M224.0 416.8a2.2 2.2 0 1 0 4.4 0a2.2 2.2 0 1 0 -4.4 0M224.9 416.4a2.2 2.2 0 1 0 4.4 0a2.2 2.2 0 1 0 -4.4 0M225.8 416.3a2.2 2.2 0 1 0 4.4 0a2.2 2.2 0 1 0 -4.4 0M226.7 415.9a2.2 2.2 0 1 0 4.4 0a2.2 2.2 0 1 0 -4.4 0M227.6 416.5a2.2 2.2 0 1 0 4.4 0a2.2 2.2 0 1 0 -4.4 0M228.5 415.8a2.2 2.2 0 1 0 4.4 0a2.2 2.2 0 1 0 -4.4 0M229.4 417.6a2.2 2.2 0 1 0 4.4 0a2.2 2.2 0 1 0 -4.4 0M230.3 417.6a2.2 2.2 0 1 0 4.4 0a2.2 2.2 0 1 0 -4.4 0M231.2 417.9a2.2 2.2 0 1 0 4.4 0a2.2 2.2 0 1 0 -4.4 0M232.1 416.0a2.2 2.2 0 1 0 4.4 0a2.2 2.2 0 1 0 -4.4 0M233.0 417.7a2.2 2.2 0 1 0 4.4 0a2.2 2.2 0 1 0 -4.4 0M233.9 418.1a2.2 2.2 0 1 0 4.4 0a2.2 2.2 0 1 0 -4.4 0M234.8 417.5a2.2 2.2 0 1 0 4.4 0a2.2 2.2 0 1 0 -4.4 0M235.7 418.8a2.2 2.2 0 1 0 4.4 0a2.2 2.2 0 1 0 -4.4 0M236.6 418.9a2.2 2.2 0 1 0 4.4 0a2.2 2.2 0 1 0 -4.4 0M237.5 418.6a2.2 2.2 0 1 0 4.4 0a2.2 2.2 0 1 0 -4.4 0M238.4 419.0a2.2 2.2 0 1 0 4.4 0a2.2 2.2 0 1 0 -4.4 0M239.3 418.6a2.2 2.2 0 1 0 4.4 0a2.2 2.2 0 1 0 -4.4 0M240.2 419.4a2.2 2.2 0 1 0 4.4 0a2.2 2.2 0 1 0 -4.4 0M241.1 417.3a2.2 2.2 0 1 0 4.4 0a2.2 2.2 0 1 0 -4.4 0M242.0 419.2a2.2 2.2 0 1 0 4.4 0a2.2 2.2 0 1 0 -4.4 0M242.9 419.3a2.2 2.2 0 1 0 4.4 0a2.2 2.2 0 1 0 -4.4 0M243.8 419.2a2.2 2.2 0 1 0 4.4 0a2.2 2.2 0 1 0 -4.4 0M244.7 418.3a2.2 2.2 0 1 0 4.4 0a2.2 2.2 0 1 0 -4.4 0M245.6 417.9a2.2 2.2 0 1 0 4.4 0a2.2 2.2 0 1 0 -4.4 0M246.5 419.6a2.2 2.2 0 1 0 4.4 0a2.2 2.2 0 1 0 -4.4 0M247.4 420.4a2.2 2.2 0 1 0 4.4 0a2.2 2.2 0 1 0 -4.4 0M248.3 418.9a2.2 2.2 0 1 0 4.4 0a2.2 2.2 0 1 0 -4.4 0M249.2 419.0a2.2 2.2 0 1 0 4.4 0a2.2 2.2 0 1 0 -4.4 0M250.1 419.2a2.2 2.2 0 1 0 4.4 0a2.2 2.2 0 1 0 -4.4 0M251.0 419.1a2.2 2.2 0 1 0 4.4 0a2.2 2.2 0 1 0 -4.4 0M251.9 421.0a2.2 2.2 0 1 0 4.4 0a2.2 2.2 0 1 0 -4.4 0M252.8 422.1a2.2 2.2 0 1 0 4.4 0a2.2 2.2 0 1 0 -4.4 0M253.7 421.9a2.2 2.2 0 1 0 4.4 0a2.2 2.2 0 1 0 -4.4 0M254.6 420.7a2.2 2.2 0 1 0 4.4 0a2.2 2.2 0 1 0 -4.4 0M255.5 422.0a2.2 2.2 0 1 0 4.4 0a2.2 2.2 0 1 0 -4.4 0M256.4 420.3a2.2 2.2 0 1 0 4.4 0a2.2 2.2 0 1 0 -4.4 0M257.3 422.8a2.2 2.2 0 1 0 4.4 0a2.2 2.2 0 1 0 -4.4 0M258.2 421.5a2.2 2.2 0 1 0 4.4 0a2.2 2.2 0 1 0 -4.4 0M259.1 420.8a2.2 2.2 0 1 0 4.4 0a2.2 2.2 0 1 0 -4.4 0M260.0 422.9a2.2 2.2 0 1 0 4.4 0a2.2 2.2 0 1 0 -4.4 0M260.9 421.6a2.2 2.2 0 1 0 4.4 0a2.2 2.2 0 1 0 -4.4 0M261.8 422.3a2.2 2.2 0 1 0 4.4 0a2.2 2.2 0 1 0 -4.4 0M262.7 421.8a2.2 2.2 0 1 0 4.4 0a2.2 2.2 0 1 0 -4.4 0M263.6 423.2a2.2 2.2 0 1 0 4.4 0a2.2 2.2 0 1 0 -4.4 0M264.5 423.8a2.2 2.2 0 1 0 4.4 0a2.2 2.2 0 1 0 -4.4 0M265.4 424.7a2.2 2.2 0 1 0 4.4 0a2.2 2.2 0 1 0 -4.4 0M266.3 422.7a2.2 2.2 0 1 0 4.4 0a2.2 2.2 0 1 0 -4.4 0M267.2 425.2a2.2 2.2 0 1 0 4.4 0a2.2 2.2 0 1 0 -4.4 0M268.1 423.3a2.2 2.2 0 1 0 4.4 0a2.2 2.2 0 1 0 -4.4 0M269.0 423.8a2.2 2.2 0 1 0 4.4 0a2.2 2.2 0 1 0 -4.4 0M269.9 425.2a2.2 2.2 0 1 0 4.4 0a2.2 2.2 0 1 0 -4.4 0M270.8 424.4a2.2 2.2 0 1 0 4.4 0a2.2 2.2 0 1 0 -4.4 0M271.7 424.6a2.2 2.2 0 1 0 4.4 0a2.2 2.2 0 1 0 -4.4 0M272.6 425.4a2.2 2.2 0 1 0 4.4 0a2.2 2.2 0 1 0 -4.4 0M273.5 424.5a2.2 2.2 0 1 0 4.4 0a2.2 2.2 0 1 0 -4.4 0M274.4 426.4a2.2 2.2 0 1 0 4.4 0a2.2 2.2 0 1 0 -4.4 0M275.3 424.8a2.2 2.2 0 1 0 4.4 0a2.2 2.2 0 1 0 -4.4 0M276.2 426.8a2.2 2.2 0 1 0 4.4 0a2.2 2.2 0 1 0 -4.4 0M277.1 426.9a2.2 2.2 0 1 0 4.4 0a2.2 2.2 0 1 0 -4.4 0M278.0 426.2a2.2 2.2 0 1 0 4.4 0a2.2 2.2 0 1 0 -4.4 0M278.9 424.8a2.2 2.2 0 1 0 4.4 0a2.2 2.2 0 1 0 -4.4 0M279.8 427.2a2.2 2.2 0 1 0 4.4 0a2.2 2.2 0 1 0 -4.4 0M280.7 425.1a2.2 2.2 0 1 0 4.4 0a2.2 2.2 0 1 0 -4.4 0M281.6 426.7a2.2 2.2 0 1 0 4.4 0a2.2 2.2 0 1 0 -4.4 0M282.5 426.6a2.2 2.2 0 1 0 4.4 0a2.2 2.2 0 1 0 -4.4 0M283.4 425.7a2.2 2.2 0 1 0 4.4 0a2.2 2.2 0 1 0 -4.4 0M284.3 427.5a2.2 2.2 0 1 0 4.4 0a2.2 2.2 0 1 0 -4.4 0M285.2 427.9a2.2 2.2 0 1 0 4.4 0a2.2 2.2 0 1 0 -4.4 0M286.1 427.7a2.2 2.2 0 1 0 4.4 0a2.2 2.2 0 1 0 -4.4 0M287.0 427.3a2.2 2.2 0 1 0 4.4 0a2.2 2.2 0 1 0 -4.4 0M287.9 427.7a2.2 2.2 0 1 0 4.4 0a2.2 2.2 0 1 0 -4.4 0M288.8 428.1a2.2 2.2 0 1 0 4.4 0a2.2 2.2 0 1 0 -4.4 0M289.7 427.2a2.2 2.2 0 1 0 4.4 0a2.2 2.2 0 1 0 -4.4 0M290.6 429.2a2.2 2.2 0 1 0 4.4 0a2.2 2.2 0 1 0 -4.4 0M291.5 429.8a2.2 2.2 0 1 0 4.4 0a2.2 2.2 0 1 0 -4.4 0M292.4 429.3a2.2 2.2 0 1 0 4.4 0a2.2 2.2 0 1 0 -4.4 0M293.3 430.0a2.2 2.2 0 1 0 4.4 0a2.2 2.2 0 1 0 -4.4 0M294.2 428.2a2.2 2.2 0 1 0 4.4 0a2.2 2.2 0 1 0 -4.4 0M295.1 430.3a2.2 2.2 0 1 0 4.4 0a2.2 2.2 0 1 0 -4.4 0M296.0 427.7a2.2 2.2 0 1 0 4.4 0a2.2 2.2 0 1 0 -4.4 0M296.9 429.1a2.2 2.2 0 1 0 4.4 0a2.2 2.2 0 1 0 -4.4 0M297.8 428.2a2.2 2.2 0 1 0 4.4 0a2.2 2.2 0 1 0 -4.4 0M298.7 429.3a2.2 2.2 0 1 0 4.4 0a2.2 2.2 0 1 0 -4.4 0M299.6 430.1a2.2 2.2 0 1 0 4.4 0a2.2 2.2 0 1 0 -4.4 0M300.5 430.4a2.2 2.2 0 1 0 4.4 0a2.2 2.2 0 1 0 -4.4 0M301.4 429.8a2.2 2.2 0 1 0 4.4 0a2.2 2.2 0 1 0 -4.4 0M302.3 429.6a2.2 2.2 0 1 0 4.4 0a2.2 2.2 0 1 0 -4.4 0M303.2 429.3a2.2 2.2 0 1 0 4.4 0a2.2 2.2 0 1 0 -4.4 0M304.1 430.0a2.2 2.2 0 1 0 4.4 0a2.2 2.2 0 1 0 -4.4 0M305.0 429.8a2.2 2.2 0 1 0 4.4 0a2.2 2.2 0 1 0 -4.4 0M305.9 429.7a2.2 2.2 0 1 0 4.4 0a2.2 2.2 0 1 0 -4.4 0M306.8 431.5a2.2 2.2 0 1 0 4.4 0a2.2 2.2 0 1 0 -4.4 0M166.4 354.7a2.2 2.2 0 1 0 4.4 0a2.2 2.2 0 1 0 -4.4 0M247.4 381.3a2.2 2.2 0 1 0 4.4 0a2.2 2.2 0 1 0 -4.4 0M307.6 486.3a2.2 2.2 0 1 0 4.4 0a2.2 2.2 0 1 0 -4.4 0" fill="#9B3503"/><path d="M102.0 361.5L104.6 364.1L102.0 366.7L99.4 364.1ZM102.9 362.6L105.5 365.2L102.9 367.8L100.3 365.2ZM103.8 363.0L106.4 365.6L103.8 368.2L101.2 365.6ZM104.7 366.1L107.3 368.7L104.7 371.3L102.1 368.7ZM105.6 365.6L108.2 368.2L105.6 370.8L103.0 368.2ZM106.5 367.1L109.1 369.7L106.5 372.3L103.9 369.7ZM107.4 369.5L110.0 372.1L107.4 374.7L104.8 372.1ZM108.3 371.3L110.9 373.9L108.3 376.5L105.7 373.9ZM109.2 373.5L111.8 376.1L109.2 378.7L106.6 376.1ZM110.1 374.0L112.7 376.6L110.1 379.2L107.5 376.6ZM111.0 376.0L113.6 378.6L111.0 381.2L108.4 378.6ZM111.9 376.8L114.5 379.4L111.9 382.0L109.3 379.4ZM112.8 377.0L115.4 379.6L112.8 382.2L110.2 379.6ZM113.7 377.9L116.3 380.5L113.7 383.1L111.1 380.5ZM114.6 376.5L117.2 379.1L114.6 381.7L112.0 379.1ZM115.5 377.9L118.1 380.5L115.5 383.1L112.9 380.5ZM116.4 378.1L119.0 380.7L116.4 383.3L113.8 380.7ZM117.3 382.1L119.9 384.7L117.3 387.3L114.7 384.7ZM118.2 382.5L120.8 385.1L118.2 387.7L115.6 385.1ZM119.1 383.0L121.7 385.6L119.1 388.2L116.5 385.6ZM120.0 382.6L122.6 385.2L120.0 387.8L117.4 385.2ZM120.9 383.9L123.5 386.5L120.9 389.1L118.3 386.5ZM121.8 384.1L124.4 386.7L121.8 389.3L119.2 386.7ZM122.7 386.5L125.3 389.1L122.7 391.7L120.1 389.1ZM123.6 388.6L126.2 391.2L123.6 393.8L121.0 391.2ZM124.5 386.8L127.1 389.4L124.5 392.0L121.9 389.4ZM125.4 386.6L128.0 389.2L125.4 391.8L122.8 389.2ZM126.3 387.8L128.9 390.4L126.3 393.0L123.7 390.4ZM127.2 389.1L129.8 391.7L127.2 394.3L124.6 391.7ZM128.1 391.8L130.7 394.4L128.1 397.0L125.5 394.4ZM129.0 392.2L131.6 394.8L129.0 397.4L126.4 394.8ZM129.9 391.7L132.5 394.3L129.9 396.9L127.3 394.3ZM130.8 391.1L133.4 393.7L130.8 396.3L128.2 393.7ZM131.7 391.9L134.3 394.5L131.7 397.1L129.1 394.5ZM132.6 392.8L135.2 395.4L132.6 398.0L130.0 395.4ZM133.5 395.6L136.1 398.2L133.5 400.8L130.9 398.2ZM134.4 394.9L137.0 397.5L134.4 400.1L131.8 397.5ZM135.3 397.2L137.9 399.8L135.3 402.4L132.7 399.8ZM136.2 397.4L138.8 400.0L136.2 402.6L133.6 400.0ZM137.1 397.4L139.7 400.0L137.1 402.6L134.5 400.0ZM138.0 396.7L140.6 399.3L138.0 401.9L135.4 399.3ZM138.9 398.4L141.5 401.0L138.9 403.6L136.3 401.0ZM139.8 396.4L142.4 399.0L139.8 401.6L137.2 399.0ZM140.7 396.7L143.3 399.3L140.7 401.9L138.1 399.3ZM141.6 398.8L144.2 401.4L141.6 404.0L139.0 401.4ZM142.5 399.0L145.1 401.6L142.5 404.2L139.9 401.6ZM143.4 398.4L146.0 401.0L143.4 403.6L140.8 401.0ZM144.3 399.0L146.9 401.6L144.3 404.2L141.7 401.6ZM145.2 398.5L147.8 401.1L145.2 403.7L142.6 401.1ZM146.1 402.1L148.7 404.7L146.1 407.3L143.5 404.7ZM147.0 401.7L149.6 404.3L147.0 406.9L144.4 404.3ZM147.9 402.9L150.5 405.5L147.9 408.1L145.3 405.5ZM148.8 403.4L151.4 406.0L148.8 408.6L146.2 406.0ZM149.7 401.8L152.3 404.4L149.7 407.0L147.1 404.4ZM150.6 403.2L153.2 405.8L150.6 408.4L148.0 405.8ZM151.5 402.3L154.1 404.9L151.5 407.5L148.9 404.9ZM152.4 404.2L155.0 406.8L152.4 409.4L149.8 406.8ZM153.3 404.7L155.9 407.3L153.3 409.9L150.7 407.3ZM154.2 402.5L156.8 405.1L154.2 407.7L151.6 405.1ZM155.1 402.4L157.7 405.0L155.1 407.6L152.5 405.0ZM156.0 403.5L158.6 406.1L156.0 408.7L153.4 406.1ZM156.9 405.2L159.5 407.8L156.9 410.4L154.3 407.8ZM157.8 404.8L160.4 407.4L157.8 410.0L155.2 407.4ZM158.7 403.8L161.3 406.4L158.7 409.0L156.1 406.4ZM159.6 407.2L162.2 409.8L159.6 412.4L157.0 409.8ZM160.5 407.4L163.1 410.0L160.5 412.6L157.9 410.0ZM161.4 406.4L164.0 409.0L161.4 411.6L158.8 409.0ZM162.3 405.1L164.9 407.7L162.3 410.3L159.7 407.7ZM163.2 408.4L165.8 411.0L163.2 413.6L160.6 411.0ZM164.1 407.3L166.7 409.9L164.1 412.5L161.5 409.9ZM165.0 405.9L167.6 408.5L165.0 411.1L162.4 408.5ZM165.9 407.0L168.5 409.6L165.9 412.2L163.3 409.6ZM166.8 408.3L169.4 410.9L166.8 413.5L164.2 410.9ZM167.7 409.4L170.3 412.0L167.7 414.6L165.1 412.0ZM168.6 408.2L171.2 410.8L168.6 413.4L166.0 410.8ZM169.5 409.0L172.1 411.6L169.5 414.2L166.9 411.6ZM170.4 407.6L173.0 410.2L170.4 412.8L167.8 410.2ZM171.3 407.9L173.9 410.5L171.3 413.1L168.7 410.5ZM172.2 410.5L174.8 413.1L172.2 415.7L169.6 413.1ZM173.1 408.9L175.7 411.5L173.1 414.1L170.5 411.5ZM174.0 408.1L176.6 410.7L174.0 413.3L171.4 410.7ZM174.9 410.0L177.5 412.6L174.9 415.2L172.3 412.6ZM175.8 408.6L178.4 411.2L175.8 413.8L173.2 411.2ZM176.7 409.1L179.3 411.7L176.7 414.3L174.1 411.7ZM177.6 410.2L180.2 412.8L177.6 415.4L175.0 412.8ZM178.5 410.9L181.1 413.5L178.5 416.1L175.9 413.5ZM179.4 411.3L182.0 413.9L179.4 416.5L176.8 413.9ZM180.3 411.7L182.9 414.3L180.3 416.9L177.7 414.3ZM181.2 411.0L183.8 413.6L181.2 416.2L178.6 413.6ZM182.1 409.9L184.7 412.5L182.1 415.1L179.5 412.5ZM183.0 412.5L185.6 415.1L183.0 417.7L180.4 415.1ZM183.9 410.4L186.5 413.0L183.9 415.6L181.3 413.0ZM184.8 412.1L187.4 414.7L184.8 417.3L182.2 414.7ZM185.7 412.1L188.3 414.7L185.7 417.3L183.1 414.7ZM186.6 413.3L189.2 415.9L186.6 418.5L184.0 415.9ZM187.5 413.7L190.1 416.3L187.5 418.9L184.9 416.3ZM188.4 412.3L191.0 414.9L188.4 417.5L185.8 414.9ZM189.3 414.0L191.9 416.6L189.3 419.2L186.7 416.6ZM190.2 414.4L192.8 417.0L190.2 419.6L187.6 417.0ZM191.1 413.9L193.7 416.5L191.1 419.1L188.5 416.5ZM192.0 412.9L194.6 415.5L192.0 418.1L189.4 415.5ZM192.9 415.9L195.5 418.5L192.9 421.1L190.3 418.5ZM193.8 415.1L196.4 417.7L193.8 420.3L191.2 417.7ZM194.7 413.4L197.3 416.0L194.7 418.6L192.1 416.0ZM195.6 414.3L198.2 416.9L195.6 419.5L193.0 416.9ZM196.5 417.2L199.1 419.8L196.5 422.4L193.9 419.8ZM197.4 414.7L200.0 417.3L197.4 419.9L194.8 417.3ZM198.3 415.6L200.9 418.2L198.3 420.8L195.7 418.2ZM199.2 417.2L201.8 419.8L199.2 422.4L196.6 419.8ZM200.1 417.6L202.7 420.2L200.1 422.8L197.5 420.2ZM201.0 417.2L203.6 419.8L201.0 422.4L198.4 419.8ZM201.9 417.8L204.5 420.4L201.9 423.0L199.3 420.4ZM202.8 415.3L205.4 417.9L202.8 420.5L200.2 417.9ZM203.7 415.6L206.3 418.2L203.7 420.8L201.1 418.2ZM204.6 418.8L207.2 421.4L204.6 424.0L202.0 421.4ZM205.5 418.3L208.1 420.9L205.5 423.5L202.9 420.9ZM206.4 415.6L209.0 418.2L206.4 420.8L203.8 418.2ZM207.3 415.7L209.9 418.3L207.3 420.9L204.7 418.3ZM208.2 416.5L210.8 419.1L208.2 421.7L205.6 419.1ZM209.1 419.0L211.7 421.6L209.1 424.2L206.5 421.6ZM210.0 416.5L212.6 419.1L210.0 421.7L207.4 419.1ZM210.9 418.2L213.5 420.8L210.9 423.4L208.3 420.8ZM211.8 419.2L214.4 421.8L211.8 424.4L209.2 421.8ZM212.7 418.3L215.3 420.9L212.7 423.5L210.1 420.9ZM213.6 419.3L216.2 421.9L213.6 424.5L211.0 421.9ZM214.5 417.1L217.1 419.7L214.5 422.3L211.9 419.7ZM215.4 416.7L218.0 419.3L215.4 421.9L212.8 419.3ZM216.3 416.3L218.9 418.9L216.3 421.5L213.7 418.9ZM217.2 419.0L219.8 421.6L217.2 424.2L214.6 421.6ZM218.1 416.8L220.7 419.4L218.1 422.0L215.5 419.4ZM219.0 420.0L221.6 422.6L219.0 425.2L216.4 422.6ZM219.9 419.1L222.5 421.7L219.9 424.3L217.3 421.7ZM220.8 417.3L223.4 419.9L220.8 422.5L218.2 419.9ZM221.7 419.6L224.3 422.2L221.7 424.8L219.1 422.2ZM222.6 417.3L225.2 419.9L222.6 422.5L220.0 419.9ZM223.5 418.7L226.1 421.3L223.5 423.9L220.9 421.3ZM224.4 417.3L227.0 419.9L224.4 422.5L221.8 419.9ZM225.3 419.8L227.9 422.4L225.3 425.0L222.7 422.4ZM226.2 420.2L228.8 422.8L226.2 425.4L223.6 422.8ZM227.1 420.4L229.7 423.0L227.1 425.6L224.5 423.0ZM228.0 417.2L230.6 419.8L228.0 422.4L225.4 419.8ZM228.9 420.3L231.5 422.9L228.9 425.5L226.3 422.9ZM229.8 419.3L232.4 421.9L229.8 424.5L227.2 421.9ZM230.7 420.3L233.3 422.9L230.7 425.5L228.1 422.9ZM231.6 419.3L234.2 421.9L231.6 424.5L229.0 421.9ZM232.5 419.8L235.1 422.4L232.5 425.0L229.9 422.4ZM233.4 419.7L236.0 422.3L233.4 424.9L230.8 422.3ZM234.3 420.5L236.9 423.1L234.3 425.7L231.7 423.1ZM235.2 418.0L237.8 420.6L235.2 423.2L232.6 420.6ZM236.1 418.0L238.7 420.6L236.1 423.2L233.5 420.6ZM237.0 419.8L239.6 422.4L237.0 425.0L234.4 422.4ZM237.9 419.0L240.5 421.6L237.9 424.2L235.3 421.6ZM238.8 419.4L241.4 422.0L238.8 424.6L236.2 422.0ZM239.7 418.1L242.3 420.7L239.7 423.3L237.1 420.7ZM240.6 420.8L243.2 423.4L240.6 426.0L238.0 423.4ZM241.5 418.3L244.1 420.9L241.5 423.5L238.9 420.9ZM242.4 421.3L245.0 423.9L242.4 426.5L239.8 423.9ZM243.3 421.3L245.9 423.9L243.3 426.5L240.7 423.9ZM244.2 420.1L246.8 422.7L244.2 425.3L241.6 422.7ZM245.1 419.0L247.7 421.6L245.1 424.2L242.5 421.6ZM246.0 420.9L248.6 423.5L246.0 426.1L243.4 423.5ZM246.9 419.4L249.5 422.0L246.9 424.6L244.3 422.0ZM247.8 420.3L250.4 422.9L247.8 425.5L245.2 422.9ZM248.7 419.2L251.3 421.8L248.7 424.4L246.1 421.8ZM249.6 422.4L252.2 425.0L249.6 427.6L247.0 425.0ZM250.5 420.9L253.1 423.5L250.5 426.1L247.9 423.5ZM251.4 420.2L254.0 422.8L251.4 425.4L248.8 422.8ZM252.3 419.3L254.9 421.9L252.3 424.5L249.7 421.9ZM253.2 421.6L255.8 424.2L253.2 426.8L250.6 424.2ZM254.1 422.0L256.7 424.6L254.1 427.2L251.5 424.6ZM255.0 422.0L257.6 424.6L255.0 427.2L252.4 424.6ZM255.9 419.4L258.5 422.0L255.9 424.6L253.3 422.0ZM256.8 420.3L259.4 422.9L256.8 425.5L254.2 422.9ZM257.7 420.1L260.3 422.7L257.7 425.3L255.1 422.7ZM258.6 421.8L261.2 424.4L258.6 427.0L256.0 424.4ZM259.5 419.6L262.1 422.2L259.5 424.8L256.9 422.2ZM260.4 421.2L263.0 423.8L260.4 426.4L257.8 423.8ZM261.3 422.6L263.9 425.2L261.3 427.8L258.7 425.2ZM262.2 421.9L264.8 424.5L262.2 427.1L259.6 424.5ZM263.1 419.1L265.7 421.7L263.1 424.3L260.5 421.7ZM264.0 419.4L266.6 422.0L264.0 424.6L261.4 422.0ZM264.9 419.5L267.5 422.1L264.9 424.7L262.3 422.1ZM265.8 421.6L268.4 424.2L265.8 426.8L263.2 424.2ZM266.7 421.3L269.3 423.9L266.7 426.5L264.1 423.9ZM267.6 421.0L270.2 423.6L267.6 426.2L265.0 423.6ZM268.5 420.8L271.1 423.4L268.5 426.0L265.9 423.4ZM269.4 420.7L272.0 423.3L269.4 425.9L266.8 423.3ZM270.3 421.4L272.9 424.0L270.3 426.6L267.7 424.0ZM271.2 421.6L273.8 424.2L271.2 426.8L268.6 424.2ZM272.1 422.5L274.7 425.1L272.1 427.7L269.5 425.1ZM273.0 421.9L275.6 424.5L273.0 427.1L270.4 424.5ZM273.9 422.1L276.5 424.7L273.9 427.3L271.3 424.7ZM274.8 422.6L277.4 425.2L274.8 427.8L272.2 425.2ZM275.7 422.3L278.3 424.9L275.7 427.5L273.1 424.9ZM276.6 421.9L279.2 424.5L276.6 427.1L274.0 424.5ZM277.5 419.4L280.1 422.0L277.5 424.6L274.9 422.0ZM278.4 421.8L281.0 424.4L278.4 427.0L275.8 424.4ZM279.3 422.4L281.9 425.0L279.3 427.6L276.7 425.0ZM280.2 420.9L282.8 423.5L280.2 426.1L277.6 423.5ZM281.1 422.5L283.7 425.1L281.1 427.7L278.5 425.1ZM282.0 420.0L284.6 422.6L282.0 425.2L279.4 422.6ZM282.9 422.8L285.5 425.4L282.9 428.0L280.3 425.4ZM283.8 421.0L286.4 423.6L283.8 426.2L281.2 423.6ZM284.7 422.0L287.3 424.6L284.7 427.2L282.1 424.6ZM285.6 420.4L288.2 423.0L285.6 425.6L283.0 423.0ZM286.5 420.5L289.1 423.1L286.5 425.7L283.9 423.1ZM287.4 420.7L290.0 423.3L287.4 425.9L284.8 423.3ZM288.3 420.7L290.9 423.3L288.3 425.9L285.7 423.3ZM289.2 419.8L291.8 422.4L289.2 425.0L286.6 422.4ZM290.1 421.1L292.7 423.7L290.1 426.3L287.5 423.7ZM291.0 423.1L293.6 425.7L291.0 428.3L288.4 425.7ZM291.9 421.9L294.5 424.5L291.9 427.1L289.3 424.5ZM292.8 422.9L295.4 425.5L292.8 428.1L290.2 425.5ZM293.7 422.3L296.3 424.9L293.7 427.5L291.1 424.9ZM294.6 422.6L297.2 425.2L294.6 427.8L292.0 425.2ZM295.5 423.2L298.1 425.8L295.5 428.4L292.9 425.8ZM296.4 422.4L299.0 425.0L296.4 427.6L293.8 425.0ZM297.3 420.7L299.9 423.3L297.3 425.9L294.7 423.3ZM298.2 420.7L300.8 423.3L298.2 425.9L295.6 423.3ZM299.1 421.4L301.7 424.0L299.1 426.6L296.5 424.0ZM300.0 420.1L302.6 422.7L300.0 425.3L297.4 422.7ZM300.9 420.9L303.5 423.5L300.9 426.1L298.3 423.5ZM301.8 423.4L304.4 426.0L301.8 428.6L299.2 426.0ZM302.7 423.6L305.3 426.2L302.7 428.8L300.1 426.2ZM303.6 421.5L306.2 424.1L303.6 426.7L301.0 424.1ZM304.5 423.2L307.1 425.8L304.5 428.4L301.9 425.8ZM305.4 423.3L308.0 425.9L305.4 428.5L302.8 425.9ZM306.3 423.8L308.9 426.4L306.3 429.0L303.7 426.4ZM307.2 423.5L309.8 426.1L307.2 428.7L304.6 426.1ZM308.1 422.7L310.7 425.3L308.1 427.9L305.5 425.3ZM309.0 421.2L311.6 423.8L309.0 426.4L306.4 423.8ZM309.9 423.9L312.5 426.5L309.9 429.1L307.3 426.5ZM310.8 422.1L313.4 424.7L310.8 427.3L308.2 424.7ZM311.7 423.3L314.3 425.9L311.7 428.5L309.1 425.9ZM312.6 422.5L315.2 425.1L312.6 427.7L310.0 425.1ZM313.5 423.2L316.1 425.8L313.5 428.4L310.9 425.8ZM314.4 424.8L317.0 427.4L314.4 430.0L311.8 427.4ZM315.3 422.0L317.9 424.6L315.3 427.2L312.7 424.6ZM316.2 423.4L318.8 426.0L316.2 428.6L313.6 426.0ZM317.1 423.9L319.7 426.5L317.1 429.1L314.5 426.5ZM318.0 423.6L320.6 426.2L318.0 428.8L315.4 426.2ZM318.9 425.1L321.5 427.7L318.9 430.3L316.3 427.7ZM319.8 423.3L322.4 425.9L319.8 428.5L317.2 425.9ZM320.7 425.2L323.3 427.8L320.7 430.4L318.1 427.8ZM321.6 424.5L324.2 427.1L321.6 429.7L319.0 427.1ZM322.5 425.6L325.1 428.2L322.5 430.8L319.9 428.2ZM323.4 422.5L326.0 425.1L323.4 427.7L320.8 425.1ZM324.3 423.0L326.9 425.6L324.3 428.2L321.7 425.6ZM325.2 423.4L327.8 426.0L325.2 428.6L322.6 426.0ZM326.1 425.7L328.7 428.3L326.1 430.9L323.5 428.3ZM327.0 422.6L329.6 425.2L327.0 427.8L324.4 425.2ZM327.9 423.5L330.5 426.1L327.9 428.7L325.3 426.1ZM328.8 425.3L331.4 427.9L328.8 430.5L326.2 427.9ZM329.7 426.3L332.3 428.9L329.7 431.5L327.1 428.9ZM330.6 423.5L333.2 426.1L330.6 428.7L328.0 426.1ZM331.5 424.5L334.1 427.1L331.5 429.7L328.9 427.1ZM332.4 425.5L335.0 428.1L332.4 430.7L329.8 428.1ZM333.3 425.6L335.9 428.2L333.3 430.8L330.7 428.2ZM334.2 425.9L336.8 428.5L334.2 431.1L331.6 428.5ZM335.1 426.0L337.7 428.6L335.1 431.2L332.5 428.6ZM336.0 424.3L338.6 426.9L336.0 429.5L333.4 426.9ZM336.9 424.4L339.5 427.0L336.9 429.6L334.3 427.0ZM337.8 423.6L340.4 426.2L337.8 428.8L335.2 426.2ZM338.7 426.1L341.3 428.7L338.7 431.3L336.1 428.7ZM339.6 424.5L342.2 427.1L339.6 429.7L337.0 427.1ZM340.5 424.7L343.1 427.3L340.5 429.9L337.9 427.3ZM341.4 427.3L344.0 429.9L341.4 432.5L338.8 429.9ZM342.3 426.3L344.9 428.9L342.3 431.5L339.7 428.9ZM343.2 426.2L345.8 428.8L343.2 431.4L340.6 428.8ZM344.1 426.5L346.7 429.1L344.1 431.7L341.5 429.1ZM345.0 426.4L347.6 429.0L345.0 431.6L342.4 429.0ZM345.9 426.8L348.5 429.4L345.9 432.0L343.3 429.4ZM346.8 425.5L349.4 428.1L346.8 430.7L344.2 428.1ZM347.7 424.7L350.3 427.3L347.7 429.9L345.1 427.3ZM348.6 424.8L351.2 427.4L348.6 430.0L346.0 427.4ZM349.5 424.7L352.1 427.3L349.5 429.9L346.9 427.3ZM350.4 426.0L353.0 428.6L350.4 431.2L347.8 428.6ZM351.3 425.3L353.9 427.9L351.3 430.5L348.7 427.9ZM352.2 425.3L354.8 427.9L352.2 430.5L349.6 427.9ZM353.1 426.8L355.7 429.4L353.1 432.0L350.5 429.4ZM354.0 428.5L356.6 431.1L354.0 433.7L351.4 431.1ZM354.9 427.6L357.5 430.2L354.9 432.8L352.3 430.2ZM168.6 353.4L171.2 356.0L168.6 358.6L166.0 356.0ZM249.6 372.4L252.2 375.0L249.6 377.6L247.0 375.0ZM183.9 418.9L186.5 421.5L183.9 424.1L181.3 421.5ZM164.8 416.9L167.4 419.5L164.8 422.1L162.2 419.5Z" fill="#FEC04E"/><path d="M100.5 363.5h4.1v4.1h-4.1ZM103.5 391.5h4.1v4.1h-4.1ZM106.8 398.4h4.1v4.1h-4.1ZM110.2 406.0h4.1v4.1h-4.1ZM113.7 401.7h4.1v4.1h-4.1ZM117.0 412.4h4.1v4.1h-4.1ZM120.3 399.1h4.1v4.1h-4.1ZM123.4 406.0h4.1v4.1h-4.1ZM127.2 418.0h4.1v4.1h-4.1ZM129.7 421.3h4.1v4.1h-4.1ZM133.5 418.0h4.1v4.1h-4.1ZM136.6 431.4h4.1v4.1h-4.1ZM139.9 440.8h4.1v4.1h-4.1ZM143.7 442.9h4.1v4.1h-4.1ZM146.8 458.1h4.1v4.1h-4.1ZM150.1 472.1h4.1v4.1h-4.1ZM153.4 450.5h4.1v4.1h-4.1ZM156.9 434.7h4.1v4.1h-4.1ZM160.2 434.7h4.1v4.1h-4.1ZM163.5 453.6h4.1v4.1h-4.1ZM166.6 455.6h4.1v4.1h-4.1ZM170.4 461.9h4.1v4.1h-4.1ZM173.5 470.3h4.1v4.1h-4.1ZM176.8 432.7h4.1v4.1h-4.1ZM179.8 465.8h4.1v4.1h-4.1ZM183.1 442.4h4.1v4.1h-4.1ZM186.9 462.7h4.1v4.1h-4.1ZM194.1 466.3h4.1v4.1h-4.1ZM197.6 461.2h4.1v4.1h-4.1ZM200.9 455.6h4.1v4.1h-4.1ZM204.7 460.7h4.1v4.1h-4.1ZM207.8 466.3h4.1v4.1h-4.1ZM211.1 467.0h4.1v4.1h-4.1ZM214.4 442.4h4.1v4.1h-4.1ZM217.5 442.9h4.1v4.1h-4.1ZM220.5 451.8h4.1v4.1h-4.1ZM223.8 455.1h4.1v4.1h-4.1ZM227.6 450.0h4.1v4.1h-4.1ZM230.7 450.5h4.1v4.1h-4.1ZM236.5 481.0h4.1v4.1h-4.1ZM246.7 484.8h4.1v4.1h-4.1ZM265.8 480.4h4.1v4.1h-4.1ZM269.6 461.1h4.1v4.1h-4.1ZM272.9 456.8h4.1v4.1h-4.1ZM276.5 451.7h4.1v4.1h-4.1ZM279.8 464.4h4.1v4.1h-4.1ZM283.1 460.6h4.1v4.1h-4.1ZM286.7 451.7h4.1v4.1h-4.1ZM290.0 464.4h4.1v4.1h-4.1ZM293.3 459.3h4.1v4.1h-4.1ZM296.8 461.9h4.1v4.1h-4.1ZM300.1 456.8h4.1v4.1h-4.1ZM302.7 455.5h4.1v4.1h-4.1ZM306.0 449.9h4.1v4.1h-4.1ZM309.5 469.5h4.1v4.1h-4.1ZM312.8 455.5h4.1v4.1h-4.1ZM316.1 455.0h4.1v4.1h-4.1ZM319.7 458.6h4.1v4.1h-4.1ZM323.0 449.9h4.1v4.1h-4.1ZM326.3 450.9h4.1v4.1h-4.1ZM329.9 451.7h4.1v4.1h-4.1ZM333.2 457.5h4.1v4.1h-4.1ZM336.5 446.6h4.1v4.1h-4.1ZM340.0 450.9h4.1v4.1h-4.1ZM342.6 447.4h4.1v4.1h-4.1ZM345.9 439.0h4.1v4.1h-4.1ZM349.2 451.7h4.1v4.1h-4.1ZM352.7 444.1h4.1v4.1h-4.1ZM356.0 454.2h4.1v4.1h-4.1ZM359.3 450.9h4.1v4.1h-4.1ZM362.4 456.8h4.1v4.1h-4.1ZM366.2 456.0h4.1v4.1h-4.1ZM370.0 446.6h4.1v4.1h-4.1ZM373.1 457.5h4.1v4.1h-4.1ZM375.6 448.4h4.1v4.1h-4.1ZM379.7 447.9h4.1v4.1h-4.1ZM382.7 435.2h4.1v4.1h-4.1ZM385.8 447.9h4.1v4.1h-4.1ZM389.1 424.5h4.1v4.1h-4.1ZM392.4 437.2h4.1v4.1h-4.1Z" fill="#145224"/></g><g clip-path="url(#c11)"><path d="M415.1 358.6l3.8 3.8m0 -3.8l-3.8 3.8M416.0 359.2l3.8 3.8m0 -3.8l-3.8 3.8M416.9 357.6l3.8 3.8m0 -3.8l-3.8 3.8M417.8 357.0l3.8 3.8m0 -3.8l-3.8 3.8M418.7 357.0l3.8 3.8m0 -3.8l-3.8 3.8M419.6 356.8l3.8 3.8m0 -3.8l-3.8 3.8M420.5 356.9l3.8 3.8m0 -3.8l-3.8 3.8M421.4 356.0l3.8 3.8m0 -3.8l-3.8 3.8M422.3 356.1l3.8 3.8m0 -3.8l-3.8 3.8M423.2 354.5l3.8 3.8m0 -3.8l-3.8 3.8M424.1 355.7l3.8 3.8m0 -3.8l-3.8 3.8M425.0 354.1l3.8 3.8m0 -3.8l-3.8 3.8M425.9 354.6l3.8 3.8m0 -3.8l-3.8 3.8M426.8 352.6l3.8 3.8m0 -3.8l-3.8 3.8M427.7 353.8l3.8 3.8m0 -3.8l-3.8 3.8M428.6 352.2l3.8 3.8m0 -3.8l-3.8 3.8M429.5 353.2l3.8 3.8m0 -3.8l-3.8 3.8M430.4 352.8l3.8 3.8m0 -3.8l-3.8 3.8M431.3 352.3l3.8 3.8m0 -3.8l-3.8 3.8M432.2 351.3l3.8 3.8m0 -3.8l-3.8 3.8M433.1 350.5l3.8 3.8m0 -3.8l-3.8 3.8M434.0 350.6l3.8 3.8m0 -3.8l-3.8 3.8M434.9 351.8l3.8 3.8m0 -3.8l-3.8 3.8M435.8 350.0l3.8 3.8m0 -3.8l-3.8 3.8M436.7 350.8l3.8 3.8m0 -3.8l-3.8 3.8M437.6 350.4l3.8 3.8m0 -3.8l-3.8 3.8M438.5 350.3l3.8 3.8m0 -3.8l-3.8 3.8M439.4 349.1l3.8 3.8m0 -3.8l-3.8 3.8M440.3 348.7l3.8 3.8m0 -3.8l-3.8 3.8M441.2 348.4l3.8 3.8m0 -3.8l-3.8 3.8M442.1 349.9l3.8 3.8m0 -3.8l-3.8 3.8M443.0 348.5l3.8 3.8m0 -3.8l-3.8 3.8M443.9 348.8l3.8 3.8m0 -3.8l-3.8 3.8M444.8 348.3l3.8 3.8m0 -3.8l-3.8 3.8M445.7 347.4l3.8 3.8m0 -3.8l-3.8 3.8M446.6 346.8l3.8 3.8m0 -3.8l-3.8 3.8M447.5 346.5l3.8 3.8m0 -3.8l-3.8 3.8M448.4 347.9l3.8 3.8m0 -3.8l-3.8 3.8M449.3 346.2l3.8 3.8m0 -3.8l-3.8 3.8M450.2 347.6l3.8 3.8m0 -3.8l-3.8 3.8M451.1 346.2l3.8 3.8m0 -3.8l-3.8 3.8M452.0 346.8l3.8 3.8m0 -3.8l-3.8 3.8M452.9 345.7l3.8 3.8m0 -3.8l-3.8 3.8M453.8 347.0l3.8 3.8m0 -3.8l-3.8 3.8M454.7 345.9l3.8 3.8m0 -3.8l-3.8 3.8M455.6 346.1l3.8 3.8m0 -3.8l-3.8 3.8M456.5 346.4l3.8 3.8m0 -3.8l-3.8 3.8M457.4 345.6l3.8 3.8m0 -3.8l-3.8 3.8M458.3 345.9l3.8 3.8m0 -3.8l-3.8 3.8M459.2 347.0l3.8 3.8m0 -3.8l-3.8 3.8M460.1 346.0l3.8 3.8m0 -3.8l-3.8 3.8M461.0 346.2l3.8 3.8m0 -3.8l-3.8 3.8M461.9 346.9l3.8 3.8m0 -3.8l-3.8 3.8M462.8 345.8l3.8 3.8m0 -3.8l-3.8 3.8M463.7 345.8l3.8 3.8m0 -3.8l-3.8 3.8M464.6 345.8l3.8 3.8m0 -3.8l-3.8 3.8M465.5 346.2l3.8 3.8m0 -3.8l-3.8 3.8M466.4 346.1l3.8 3.8m0 -3.8l-3.8 3.8M467.3 346.7l3.8 3.8m0 -3.8l-3.8 3.8M468.2 346.3l3.8 3.8m0 -3.8l-3.8 3.8M469.1 347.1l3.8 3.8m0 -3.8l-3.8 3.8M470.0 345.5l3.8 3.8m0 -3.8l-3.8 3.8M470.9 346.7l3.8 3.8m0 -3.8l-3.8 3.8M471.8 347.1l3.8 3.8m0 -3.8l-3.8 3.8M472.7 345.9l3.8 3.8m0 -3.8l-3.8 3.8M473.6 345.5l3.8 3.8m0 -3.8l-3.8 3.8M474.5 346.3l3.8 3.8m0 -3.8l-3.8 3.8M475.4 345.6l3.8 3.8m0 -3.8l-3.8 3.8M476.3 346.3l3.8 3.8m0 -3.8l-3.8 3.8M477.2 346.8l3.8 3.8m0 -3.8l-3.8 3.8M478.1 345.6l3.8 3.8m0 -3.8l-3.8 3.8M479.0 345.6l3.8 3.8m0 -3.8l-3.8 3.8M479.9 346.4l3.8 3.8m0 -3.8l-3.8 3.8M480.8 345.7l3.8 3.8m0 -3.8l-3.8 3.8M481.7 345.9l3.8 3.8m0 -3.8l-3.8 3.8M482.6 346.3l3.8 3.8m0 -3.8l-3.8 3.8M483.5 345.6l3.8 3.8m0 -3.8l-3.8 3.8M484.4 345.5l3.8 3.8m0 -3.8l-3.8 3.8M485.3 346.1l3.8 3.8m0 -3.8l-3.8 3.8M486.2 346.3l3.8 3.8m0 -3.8l-3.8 3.8M487.1 347.3l3.8 3.8m0 -3.8l-3.8 3.8M488.0 346.5l3.8 3.8m0 -3.8l-3.8 3.8M488.9 345.5l3.8 3.8m0 -3.8l-3.8 3.8M489.8 345.9l3.8 3.8m0 -3.8l-3.8 3.8M490.7 347.0l3.8 3.8m0 -3.8l-3.8 3.8M491.6 346.7l3.8 3.8m0 -3.8l-3.8 3.8M492.5 347.4l3.8 3.8m0 -3.8l-3.8 3.8M493.4 347.6l3.8 3.8m0 -3.8l-3.8 3.8M494.3 347.5l3.8 3.8m0 -3.8l-3.8 3.8M495.2 346.0l3.8 3.8m0 -3.8l-3.8 3.8M496.1 347.7l3.8 3.8m0 -3.8l-3.8 3.8M497.0 347.0l3.8 3.8m0 -3.8l-3.8 3.8M497.9 346.5l3.8 3.8m0 -3.8l-3.8 3.8M498.8 346.4l3.8 3.8m0 -3.8l-3.8 3.8M499.7 347.8l3.8 3.8m0 -3.8l-3.8 3.8M500.6 346.6l3.8 3.8m0 -3.8l-3.8 3.8M501.5 346.4l3.8 3.8m0 -3.8l-3.8 3.8M502.4 346.8l3.8 3.8m0 -3.8l-3.8 3.8M503.3 348.2l3.8 3.8m0 -3.8l-3.8 3.8M504.2 347.3l3.8 3.8m0 -3.8l-3.8 3.8M505.1 347.9l3.8 3.8m0 -3.8l-3.8 3.8M506.0 346.7l3.8 3.8m0 -3.8l-3.8 3.8M506.9 347.5l3.8 3.8m0 -3.8l-3.8 3.8M507.8 347.3l3.8 3.8m0 -3.8l-3.8 3.8M508.7 347.1l3.8 3.8m0 -3.8l-3.8 3.8M509.6 348.1l3.8 3.8m0 -3.8l-3.8 3.8M510.5 347.6l3.8 3.8m0 -3.8l-3.8 3.8M511.4 347.1l3.8 3.8m0 -3.8l-3.8 3.8M512.3 348.9l3.8 3.8m0 -3.8l-3.8 3.8M513.2 348.0l3.8 3.8m0 -3.8l-3.8 3.8M514.1 347.4l3.8 3.8m0 -3.8l-3.8 3.8M515.0 347.2l3.8 3.8m0 -3.8l-3.8 3.8M515.9 348.5l3.8 3.8m0 -3.8l-3.8 3.8M516.8 348.3l3.8 3.8m0 -3.8l-3.8 3.8M517.7 347.4l3.8 3.8m0 -3.8l-3.8 3.8M518.6 348.3l3.8 3.8m0 -3.8l-3.8 3.8M519.5 348.9l3.8 3.8m0 -3.8l-3.8 3.8M520.4 348.6l3.8 3.8m0 -3.8l-3.8 3.8M521.3 348.0l3.8 3.8m0 -3.8l-3.8 3.8M522.2 348.6l3.8 3.8m0 -3.8l-3.8 3.8M523.1 348.9l3.8 3.8m0 -3.8l-3.8 3.8M524.0 349.1l3.8 3.8m0 -3.8l-3.8 3.8M524.9 348.1l3.8 3.8m0 -3.8l-3.8 3.8M525.8 349.5l3.8 3.8m0 -3.8l-3.8 3.8M526.7 349.8l3.8 3.8m0 -3.8l-3.8 3.8M527.6 349.5l3.8 3.8m0 -3.8l-3.8 3.8M528.5 349.8l3.8 3.8m0 -3.8l-3.8 3.8M529.4 348.9l3.8 3.8m0 -3.8l-3.8 3.8M530.3 350.0l3.8 3.8m0 -3.8l-3.8 3.8M531.2 348.6l3.8 3.8m0 -3.8l-3.8 3.8M532.1 348.8l3.8 3.8m0 -3.8l-3.8 3.8M533.0 349.6l3.8 3.8m0 -3.8l-3.8 3.8M533.9 350.3l3.8 3.8m0 -3.8l-3.8 3.8M534.8 348.7l3.8 3.8m0 -3.8l-3.8 3.8M535.7 349.0l3.8 3.8m0 -3.8l-3.8 3.8M536.6 348.7l3.8 3.8m0 -3.8l-3.8 3.8M537.5 349.6l3.8 3.8m0 -3.8l-3.8 3.8M538.4 349.0l3.8 3.8m0 -3.8l-3.8 3.8M539.3 349.2l3.8 3.8m0 -3.8l-3.8 3.8M540.2 350.4l3.8 3.8m0 -3.8l-3.8 3.8M541.1 350.1l3.8 3.8m0 -3.8l-3.8 3.8M542.0 350.9l3.8 3.8m0 -3.8l-3.8 3.8M542.9 349.9l3.8 3.8m0 -3.8l-3.8 3.8M543.8 350.5l3.8 3.8m0 -3.8l-3.8 3.8M544.7 349.2l3.8 3.8m0 -3.8l-3.8 3.8M545.6 351.2l3.8 3.8m0 -3.8l-3.8 3.8M546.5 349.8l3.8 3.8m0 -3.8l-3.8 3.8M547.4 350.4l3.8 3.8m0 -3.8l-3.8 3.8M548.3 350.5l3.8 3.8m0 -3.8l-3.8 3.8M549.2 351.4l3.8 3.8m0 -3.8l-3.8 3.8M550.1 350.6l3.8 3.8m0 -3.8l-3.8 3.8M551.0 351.6l3.8 3.8m0 -3.8l-3.8 3.8M551.9 351.0l3.8 3.8m0 -3.8l-3.8 3.8M552.8 350.2l3.8 3.8m0 -3.8l-3.8 3.8M553.7 351.5l3.8 3.8m0 -3.8l-3.8 3.8M554.6 350.3l3.8 3.8m0 -3.8l-3.8 3.8M555.5 352.0l3.8 3.8m0 -3.8l-3.8 3.8M556.4 350.9l3.8 3.8m0 -3.8l-3.8 3.8M557.3 350.5l3.8 3.8m0 -3.8l-3.8 3.8M558.2 352.1l3.8 3.8m0 -3.8l-3.8 3.8M559.1 350.9l3.8 3.8m0 -3.8l-3.8 3.8M560.0 351.1l3.8 3.8m0 -3.8l-3.8 3.8M560.9 351.0l3.8 3.8m0 -3.8l-3.8 3.8M561.8 351.7l3.8 3.8m0 -3.8l-3.8 3.8M562.7 350.5l3.8 3.8m0 -3.8l-3.8 3.8M563.6 351.3l3.8 3.8m0 -3.8l-3.8 3.8M564.5 350.9l3.8 3.8m0 -3.8l-3.8 3.8M565.4 352.3l3.8 3.8m0 -3.8l-3.8 3.8M566.3 350.6l3.8 3.8m0 -3.8l-3.8 3.8M567.2 351.9l3.8 3.8m0 -3.8l-3.8 3.8M568.1 351.2l3.8 3.8m0 -3.8l-3.8 3.8M569.0 351.7l3.8 3.8m0 -3.8l-3.8 3.8M569.9 351.9l3.8 3.8m0 -3.8l-3.8 3.8M570.8 352.3l3.8 3.8m0 -3.8l-3.8 3.8M571.7 351.2l3.8 3.8m0 -3.8l-3.8 3.8M572.6 351.4l3.8 3.8m0 -3.8l-3.8 3.8M573.5 351.2l3.8 3.8m0 -3.8l-3.8 3.8M574.4 352.9l3.8 3.8m0 -3.8l-3.8 3.8M575.3 351.3l3.8 3.8m0 -3.8l-3.8 3.8M576.2 351.3l3.8 3.8m0 -3.8l-3.8 3.8M577.1 352.2l3.8 3.8m0 -3.8l-3.8 3.8M578.0 352.3l3.8 3.8m0 -3.8l-3.8 3.8M578.9 353.0l3.8 3.8m0 -3.8l-3.8 3.8M579.8 351.3l3.8 3.8m0 -3.8l-3.8 3.8M580.7 351.7l3.8 3.8m0 -3.8l-3.8 3.8M581.6 351.6l3.8 3.8m0 -3.8l-3.8 3.8M582.5 352.5l3.8 3.8m0 -3.8l-3.8 3.8M583.4 352.3l3.8 3.8m0 -3.8l-3.8 3.8M584.3 352.2l3.8 3.8m0 -3.8l-3.8 3.8M585.2 353.2l3.8 3.8m0 -3.8l-3.8 3.8M586.1 352.8l3.8 3.8m0 -3.8l-3.8 3.8M587.0 353.3l3.8 3.8m0 -3.8l-3.8 3.8M587.9 353.5l3.8 3.8m0 -3.8l-3.8 3.8M588.8 352.2l3.8 3.8m0 -3.8l-3.8 3.8M589.7 353.5l3.8 3.8m0 -3.8l-3.8 3.8M590.6 352.5l3.8 3.8m0 -3.8l-3.8 3.8M591.5 351.8l3.8 3.8m0 -3.8l-3.8 3.8M592.4 353.6l3.8 3.8m0 -3.8l-3.8 3.8M593.3 352.0l3.8 3.8m0 -3.8l-3.8 3.8M594.2 351.9l3.8 3.8m0 -3.8l-3.8 3.8M595.1 352.5l3.8 3.8m0 -3.8l-3.8 3.8M596.0 352.5l3.8 3.8m0 -3.8l-3.8 3.8M596.9 353.9l3.8 3.8m0 -3.8l-3.8 3.8M597.8 353.8l3.8 3.8m0 -3.8l-3.8 3.8M598.7 352.9l3.8 3.8m0 -3.8l-3.8 3.8M599.6 353.2l3.8 3.8m0 -3.8l-3.8 3.8M600.5 353.8l3.8 3.8m0 -3.8l-3.8 3.8M601.4 353.8l3.8 3.8m0 -3.8l-3.8 3.8M602.3 353.5l3.8 3.8m0 -3.8l-3.8 3.8M603.2 353.3l3.8 3.8m0 -3.8l-3.8 3.8M604.1 352.5l3.8 3.8m0 -3.8l-3.8 3.8M605.0 352.8l3.8 3.8m0 -3.8l-3.8 3.8M605.9 353.7l3.8 3.8m0 -3.8l-3.8 3.8M606.8 353.6l3.8 3.8m0 -3.8l-3.8 3.8M607.7 354.0l3.8 3.8m0 -3.8l-3.8 3.8M608.6 354.3l3.8 3.8m0 -3.8l-3.8 3.8M609.5 354.5l3.8 3.8m0 -3.8l-3.8 3.8M610.4 353.0l3.8 3.8m0 -3.8l-3.8 3.8M611.3 352.9l3.8 3.8m0 -3.8l-3.8 3.8M612.2 354.6l3.8 3.8m0 -3.8l-3.8 3.8M613.1 354.0l3.8 3.8m0 -3.8l-3.8 3.8M614.0 353.3l3.8 3.8m0 -3.8l-3.8 3.8M614.9 354.4l3.8 3.8m0 -3.8l-3.8 3.8M615.8 353.7l3.8 3.8m0 -3.8l-3.8 3.8M616.7 353.7l3.8 3.8m0 -3.8l-3.8 3.8M617.6 354.0l3.8 3.8m0 -3.8l-3.8 3.8M618.5 354.4l3.8 3.8m0 -3.8l-3.8 3.8M619.4 354.8l3.8 3.8m0 -3.8l-3.8 3.8M620.3 353.7l3.8 3.8m0 -3.8l-3.8 3.8M621.2 355.1l3.8 3.8m0 -3.8l-3.8 3.8M622.1 355.0l3.8 3.8m0 -3.8l-3.8 3.8M623.0 354.8l3.8 3.8m0 -3.8l-3.8 3.8M623.9 355.2l3.8 3.8m0 -3.8l-3.8 3.8M624.8 355.6l3.8 3.8m0 -3.8l-3.8 3.8M625.7 354.1l3.8 3.8m0 -3.8l-3.8 3.8M626.6 355.1l3.8 3.8m0 -3.8l-3.8 3.8M627.5 355.6l3.8 3.8m0 -3.8l-3.8 3.8M628.4 355.7l3.8 3.8m0 -3.8l-3.8 3.8M629.3 355.7l3.8 3.8m0 -3.8l-3.8 3.8M630.2 354.8l3.8 3.8m0 -3.8l-3.8 3.8M631.1 356.5l3.8 3.8m0 -3.8l-3.8 3.8M632.0 356.2l3.8 3.8m0 -3.8l-3.8 3.8M632.9 355.2l3.8 3.8m0 -3.8l-3.8 3.8M633.8 355.7l3.8 3.8m0 -3.8l-3.8 3.8M634.7 356.8l3.8 3.8m0 -3.8l-3.8 3.8M635.6 355.4l3.8 3.8m0 -3.8l-3.8 3.8M636.5 355.9l3.8 3.8m0 -3.8l-3.8 3.8M637.4 357.1l3.8 3.8m0 -3.8l-3.8 3.8M638.3 357.0l3.8 3.8m0 -3.8l-3.8 3.8M639.2 355.8l3.8 3.8m0 -3.8l-3.8 3.8M640.1 356.9l3.8 3.8m0 -3.8l-3.8 3.8M641.0 356.2l3.8 3.8m0 -3.8l-3.8 3.8M641.9 356.9l3.8 3.8m0 -3.8l-3.8 3.8M642.8 357.2l3.8 3.8m0 -3.8l-3.8 3.8M643.7 356.0l3.8 3.8m0 -3.8l-3.8 3.8M644.6 356.3l3.8 3.8m0 -3.8l-3.8 3.8M645.5 356.3l3.8 3.8m0 -3.8l-3.8 3.8M646.4 356.5l3.8 3.8m0 -3.8l-3.8 3.8M647.3 356.2l3.8 3.8m0 -3.8l-3.8 3.8M648.2 356.4l3.8 3.8m0 -3.8l-3.8 3.8M649.1 357.1l3.8 3.8m0 -3.8l-3.8 3.8M650.0 357.2l3.8 3.8m0 -3.8l-3.8 3.8M650.9 356.6l3.8 3.8m0 -3.8l-3.8 3.8M651.8 357.7l3.8 3.8m0 -3.8l-3.8 3.8M652.7 358.5l3.8 3.8m0 -3.8l-3.8 3.8M653.6 357.8l3.8 3.8m0 -3.8l-3.8 3.8M654.5 357.5l3.8 3.8m0 -3.8l-3.8 3.8M655.4 358.3l3.8 3.8m0 -3.8l-3.8 3.8M656.3 357.8l3.8 3.8m0 -3.8l-3.8 3.8M657.2 357.4l3.8 3.8m0 -3.8l-3.8 3.8M658.1 358.1l3.8 3.8m0 -3.8l-3.8 3.8M659.0 357.2l3.8 3.8m0 -3.8l-3.8 3.8M659.9 358.6l3.8 3.8m0 -3.8l-3.8 3.8M660.8 357.7l3.8 3.8m0 -3.8l-3.8 3.8M661.7 358.2l3.8 3.8m0 -3.8l-3.8 3.8M662.6 359.4l3.8 3.8m0 -3.8l-3.8 3.8M663.5 359.1l3.8 3.8m0 -3.8l-3.8 3.8M664.4 359.4l3.8 3.8m0 -3.8l-3.8 3.8M665.3 359.1l3.8 3.8m0 -3.8l-3.8 3.8M666.2 359.1l3.8 3.8m0 -3.8l-3.8 3.8M667.1 359.3l3.8 3.8m0 -3.8l-3.8 3.8M668.0 360.0l3.8 3.8m0 -3.8l-3.8 3.8M668.9 358.5l3.8 3.8m0 -3.8l-3.8 3.8M669.8 359.7l3.8 3.8m0 -3.8l-3.8 3.8M670.7 358.9l3.8 3.8m0 -3.8l-3.8 3.8M671.6 358.9l3.8 3.8m0 -3.8l-3.8 3.8M672.5 360.1l3.8 3.8m0 -3.8l-3.8 3.8M673.4 359.7l3.8 3.8m0 -3.8l-3.8 3.8M674.3 360.3l3.8 3.8m0 -3.8l-3.8 3.8M675.2 360.4l3.8 3.8m0 -3.8l-3.8 3.8M676.1 360.0l3.8 3.8m0 -3.8l-3.8 3.8M677.0 359.3l3.8 3.8m0 -3.8l-3.8 3.8M677.9 359.0l3.8 3.8m0 -3.8l-3.8 3.8M678.8 360.1l3.8 3.8m0 -3.8l-3.8 3.8M679.7 360.6l3.8 3.8m0 -3.8l-3.8 3.8M680.6 359.7l3.8 3.8m0 -3.8l-3.8 3.8M681.5 359.4l3.8 3.8m0 -3.8l-3.8 3.8M682.4 359.4l3.8 3.8m0 -3.8l-3.8 3.8M683.3 359.8l3.8 3.8m0 -3.8l-3.8 3.8M684.2 360.9l3.8 3.8m0 -3.8l-3.8 3.8M685.1 359.6l3.8 3.8m0 -3.8l-3.8 3.8M686.0 360.2l3.8 3.8m0 -3.8l-3.8 3.8M686.9 360.3l3.8 3.8m0 -3.8l-3.8 3.8M687.8 361.3l3.8 3.8m0 -3.8l-3.8 3.8M688.7 361.9l3.8 3.8m0 -3.8l-3.8 3.8M689.6 360.1l3.8 3.8m0 -3.8l-3.8 3.8M561.9 301.1l3.8 3.8m0 -3.8l-3.8 3.8M643.3 309.5l3.8 3.8m0 -3.8l-3.8 3.8" fill="none" stroke="#0E72B8" stroke-width="1.3"/><path d="M417.0 360.0L419.8 364.8L414.2 364.8ZM417.9 361.5L420.7 366.4L415.1 366.4ZM418.8 361.2L421.6 366.0L416.0 366.0ZM419.7 358.8L422.5 363.6L416.9 363.6ZM420.6 358.8L423.4 363.6L417.8 363.6ZM421.5 358.8L424.3 363.6L418.7 363.6ZM422.4 357.9L425.2 362.7L419.6 362.7ZM423.3 357.7L426.1 362.5L420.5 362.5ZM424.2 357.4L427.0 362.2L421.4 362.2ZM425.1 356.4L427.9 361.3L422.3 361.3ZM426.0 355.5L428.8 360.4L423.2 360.4ZM426.9 355.1L429.7 360.0L424.1 360.0ZM427.8 354.9L430.6 359.8L425.0 359.8ZM428.7 354.3L431.5 359.1L425.9 359.1ZM429.6 355.1L432.4 360.0L426.8 360.0ZM430.5 354.9L433.3 359.8L427.7 359.8ZM431.4 353.7L434.2 358.5L428.6 358.5ZM432.3 354.8L435.1 359.6L429.5 359.6ZM433.2 354.4L436.0 359.3L430.4 359.3ZM434.1 353.3L436.9 358.1L431.3 358.1ZM435.0 353.4L437.8 358.3L432.2 358.3ZM435.9 352.5L438.7 357.4L433.1 357.4ZM436.8 354.1L439.6 358.9L434.0 358.9ZM437.7 353.0L440.5 357.8L434.9 357.8ZM438.6 351.6L441.4 356.4L435.8 356.4ZM439.5 351.6L442.3 356.5L436.7 356.5ZM440.4 352.7L443.2 357.6L437.6 357.6ZM441.3 351.8L444.1 356.6L438.5 356.6ZM442.2 352.4L445.0 357.2L439.4 357.2ZM443.1 351.0L445.9 355.8L440.3 355.8ZM444.0 352.1L446.8 357.0L441.2 357.0ZM444.9 352.0L447.7 356.8L442.1 356.8ZM445.8 350.1L448.6 354.9L443.0 354.9ZM446.7 351.0L449.5 355.9L443.9 355.9ZM447.6 349.9L450.4 354.7L444.8 354.7ZM448.5 350.9L451.3 355.8L445.7 355.8ZM449.4 351.0L452.2 355.8L446.6 355.8ZM450.3 350.7L453.1 355.6L447.5 355.6ZM451.2 349.2L454.0 354.0L448.4 354.0ZM452.1 348.6L454.9 353.5L449.3 353.5ZM453.0 349.8L455.8 354.7L450.2 354.7ZM453.9 349.6L456.7 354.5L451.1 354.5ZM454.8 348.6L457.6 353.5L452.0 353.5ZM455.7 348.8L458.5 353.7L452.9 353.7ZM456.6 349.8L459.4 354.6L453.8 354.6ZM457.5 348.7L460.3 353.5L454.7 353.5ZM458.4 350.0L461.2 354.9L455.6 354.9ZM459.3 349.1L462.1 354.0L456.5 354.0ZM460.2 349.2L463.0 354.0L457.4 354.0ZM461.1 349.6L463.9 354.5L458.3 354.5ZM462.0 349.9L464.8 354.8L459.2 354.8ZM462.9 350.4L465.7 355.3L460.1 355.3ZM463.8 348.8L466.6 353.7L461.0 353.7ZM464.7 350.5L467.5 355.4L461.9 355.4ZM465.6 349.4L468.4 354.2L462.8 354.2ZM466.5 349.6L469.3 354.4L463.7 354.4ZM467.4 350.5L470.2 355.3L464.6 355.3ZM468.3 350.6L471.1 355.5L465.5 355.5ZM469.2 350.5L472.0 355.4L466.4 355.4ZM470.1 351.2L472.9 356.1L467.3 356.1ZM471.0 349.6L473.8 354.5L468.2 354.5ZM471.9 349.9L474.7 354.8L469.1 354.8ZM472.8 350.8L475.6 355.7L470.0 355.7ZM473.7 349.9L476.5 354.7L470.9 354.7ZM474.6 349.7L477.4 354.5L471.8 354.5ZM475.5 349.9L478.3 354.7L472.7 354.7ZM476.4 351.2L479.2 356.1L473.6 356.1ZM477.3 351.4L480.1 356.3L474.5 356.3ZM478.2 351.2L481.0 356.1L475.4 356.1ZM479.1 351.9L481.9 356.7L476.3 356.7ZM480.0 351.5L482.8 356.4L477.2 356.4ZM480.9 350.5L483.7 355.3L478.1 355.3ZM481.8 350.6L484.6 355.4L479.0 355.4ZM482.7 351.6L485.5 356.5L479.9 356.5ZM483.6 350.1L486.4 355.0L480.8 355.0ZM484.5 351.6L487.3 356.4L481.7 356.4ZM485.4 350.4L488.2 355.3L482.6 355.3ZM486.3 350.4L489.1 355.2L483.5 355.2ZM487.2 351.6L490.0 356.5L484.4 356.5ZM488.1 350.8L490.9 355.7L485.3 355.7ZM489.0 352.8L491.8 357.6L486.2 357.6ZM489.9 352.7L492.7 357.6L487.1 357.6ZM490.8 351.8L493.6 356.7L488.0 356.7ZM491.7 351.3L494.5 356.1L488.9 356.1ZM492.6 351.2L495.4 356.0L489.8 356.0ZM493.5 352.2L496.3 357.1L490.7 357.1ZM494.4 352.3L497.2 357.2L491.6 357.2ZM495.3 352.0L498.1 356.9L492.5 356.9ZM496.2 353.0L499.0 357.8L493.4 357.8ZM497.1 352.6L499.9 357.5L494.3 357.5ZM498.0 353.3L500.8 358.2L495.2 358.2ZM498.9 351.8L501.7 356.6L496.1 356.6ZM499.8 351.8L502.6 356.6L497.0 356.6ZM500.7 352.6L503.5 357.5L497.9 357.5ZM501.6 353.0L504.4 357.8L498.8 357.8ZM502.5 352.5L505.3 357.3L499.7 357.3ZM503.4 353.6L506.2 358.4L500.6 358.4ZM504.3 352.6L507.1 357.5L501.5 357.5ZM505.2 352.9L508.0 357.8L502.4 357.8ZM506.1 353.4L508.9 358.2L503.3 358.2ZM507.0 354.0L509.8 358.9L504.2 358.9ZM507.9 354.3L510.7 359.1L505.1 359.1ZM508.8 353.4L511.6 358.3L506.0 358.3ZM509.7 353.7L512.5 358.5L506.9 358.5ZM510.6 354.9L513.4 359.8L507.8 359.8ZM511.5 355.0L514.3 359.9L508.7 359.9ZM512.4 354.4L515.2 359.2L509.6 359.2ZM513.3 353.2L516.1 358.1L510.5 358.1ZM514.2 354.1L517.0 359.0L511.4 359.0ZM515.1 354.7L517.9 359.5L512.3 359.5ZM516.0 353.9L518.8 358.8L513.2 358.8ZM516.9 353.4L519.7 358.3L514.1 358.3ZM517.8 355.8L520.6 360.7L515.0 360.7ZM518.7 355.7L521.5 360.6L515.9 360.6ZM519.6 354.0L522.4 358.9L516.8 358.9ZM520.5 354.9L523.3 359.8L517.7 359.8ZM521.4 355.4L524.2 360.3L518.6 360.3ZM522.3 354.8L525.1 359.6L519.5 359.6ZM523.2 354.3L526.0 359.2L520.4 359.2ZM524.1 356.1L526.9 360.9L521.3 360.9ZM525.0 356.2L527.8 361.1L522.2 361.1ZM525.9 355.6L528.7 360.4L523.1 360.4ZM526.8 354.8L529.6 359.7L524.0 359.7ZM527.7 355.7L530.5 360.6L524.9 360.6ZM528.6 355.1L531.4 360.0L525.8 360.0ZM529.5 357.3L532.3 362.2L526.7 362.2ZM530.4 355.2L533.2 360.1L527.6 360.1ZM531.3 355.9L534.1 360.8L528.5 360.8ZM532.2 357.2L535.0 362.1L529.4 362.1ZM533.1 355.8L535.9 360.7L530.3 360.7ZM534.0 355.8L536.8 360.7L531.2 360.7ZM534.9 355.9L537.7 360.7L532.1 360.7ZM535.8 356.2L538.6 361.1L533.0 361.1ZM536.7 357.2L539.5 362.1L533.9 362.1ZM537.6 358.1L540.4 362.9L534.8 362.9ZM538.5 356.6L541.3 361.5L535.7 361.5ZM539.4 356.7L542.2 361.6L536.6 361.6ZM540.3 358.3L543.1 363.1L537.5 363.1ZM541.2 357.6L544.0 362.4L538.4 362.4ZM542.1 357.5L544.9 362.3L539.3 362.3ZM543.0 357.1L545.8 361.9L540.2 361.9ZM543.9 357.5L546.7 362.3L541.1 362.3ZM544.8 359.4L547.6 364.2L542.0 364.2ZM545.7 357.4L548.5 362.3L542.9 362.3ZM546.6 357.9L549.4 362.7L543.8 362.7ZM547.5 359.2L550.3 364.0L544.7 364.0ZM548.4 359.6L551.2 364.5L545.6 364.5ZM549.3 359.8L552.1 364.6L546.5 364.6ZM550.2 358.9L553.0 363.7L547.4 363.7ZM551.1 360.2L553.9 365.0L548.3 365.0ZM552.0 359.4L554.8 364.3L549.2 364.3ZM552.9 358.8L555.7 363.6L550.1 363.6ZM553.8 359.3L556.6 364.2L551.0 364.2ZM554.7 360.1L557.5 364.9L551.9 364.9ZM555.6 360.2L558.4 365.1L552.8 365.1ZM556.5 358.9L559.3 363.7L553.7 363.7ZM557.4 359.2L560.2 364.0L554.6 364.0ZM558.3 361.1L561.1 366.0L555.5 366.0ZM559.2 359.2L562.0 364.0L556.4 364.0ZM560.1 361.0L562.9 365.9L557.3 365.9ZM561.0 360.0L563.8 364.8L558.2 364.8ZM561.9 359.9L564.7 364.7L559.1 364.7ZM562.8 360.0L565.6 364.9L560.0 364.9ZM563.7 360.7L566.5 365.5L560.9 365.5ZM564.6 362.0L567.4 366.9L561.8 366.9ZM565.5 360.1L568.3 365.0L562.7 365.0ZM566.4 362.0L569.2 366.8L563.6 366.8ZM567.3 360.8L570.1 365.7L564.5 365.7ZM568.2 360.6L571.0 365.5L565.4 365.5ZM569.1 362.1L571.9 367.0L566.3 367.0ZM570.0 361.3L572.8 366.1L567.2 366.1ZM570.9 361.0L573.7 365.9L568.1 365.9ZM571.8 361.7L574.6 366.6L569.0 366.6ZM572.7 362.8L575.5 367.7L569.9 367.7ZM573.6 363.1L576.4 367.9L570.8 367.9ZM574.5 362.5L577.3 367.4L571.7 367.4ZM575.4 361.3L578.2 366.2L572.6 366.2ZM576.3 363.2L579.1 368.1L573.5 368.1ZM577.2 363.0L580.0 367.9L574.4 367.9ZM578.1 363.8L580.9 368.7L575.3 368.7ZM579.0 364.1L581.8 369.0L576.2 369.0ZM579.9 362.7L582.7 367.6L577.1 367.6ZM580.8 364.1L583.6 369.0L578.0 369.0ZM581.7 364.2L584.5 369.0L578.9 369.0ZM582.6 363.0L585.4 367.9L579.8 367.9ZM583.5 363.4L586.3 368.2L580.7 368.2ZM584.4 363.5L587.2 368.4L581.6 368.4ZM585.3 363.6L588.1 368.5L582.5 368.5ZM586.2 363.8L589.0 368.7L583.4 368.7ZM587.1 363.3L589.9 368.2L584.3 368.2ZM588.0 363.7L590.8 368.6L585.2 368.6ZM588.9 365.5L591.7 370.4L586.1 370.4ZM589.8 364.4L592.6 369.3L587.0 369.3ZM590.7 365.1L593.5 370.0L587.9 370.0ZM591.6 365.8L594.4 370.7L588.8 370.7ZM592.5 365.7L595.3 370.5L589.7 370.5ZM593.4 364.6L596.2 369.4L590.6 369.4ZM594.3 366.3L597.1 371.2L591.5 371.2ZM595.2 366.2L598.0 371.1L592.4 371.1ZM596.1 366.8L598.9 371.6L593.3 371.6ZM597.0 366.3L599.8 371.1L594.2 371.1ZM597.9 366.5L600.7 371.3L595.1 371.3ZM598.8 366.7L601.6 371.6L596.0 371.6ZM599.7 365.5L602.5 370.4L596.9 370.4ZM600.6 366.6L603.4 371.4L597.8 371.4ZM601.5 366.0L604.3 370.9L598.7 370.9ZM602.4 367.3L605.2 372.1L599.6 372.1ZM603.3 365.7L606.1 370.5L600.5 370.5ZM604.2 366.8L607.0 371.6L601.4 371.6ZM605.1 366.4L607.9 371.2L602.3 371.2ZM606.0 367.7L608.8 372.5L603.2 372.5ZM606.9 366.6L609.7 371.5L604.1 371.5ZM607.8 367.9L610.6 372.8L605.0 372.8ZM608.7 368.1L611.5 372.9L605.9 372.9ZM609.6 368.3L612.4 373.1L606.8 373.1ZM610.5 366.6L613.3 371.5L607.7 371.5ZM611.4 368.6L614.2 373.5L608.6 373.5ZM612.3 368.3L615.1 373.1L609.5 373.1ZM613.2 368.2L616.0 373.1L610.4 373.1ZM614.1 368.3L616.9 373.1L611.3 373.1ZM615.0 366.9L617.8 371.8L612.2 371.8ZM615.9 369.0L618.7 373.9L613.1 373.9ZM616.8 368.4L619.6 373.2L614.0 373.2ZM617.7 368.3L620.5 373.1L614.9 373.1ZM618.6 368.1L621.4 373.0L615.8 373.0ZM619.5 369.3L622.3 374.1L616.7 374.1ZM620.4 369.4L623.2 374.2L617.6 374.2ZM621.3 369.7L624.1 374.6L618.5 374.6ZM622.2 368.2L625.0 373.1L619.4 373.1ZM623.1 368.7L625.9 373.5L620.3 373.5ZM624.0 368.6L626.8 373.4L621.2 373.4ZM624.9 368.3L627.7 373.2L622.1 373.2ZM625.8 369.0L628.6 373.8L623.0 373.8ZM626.7 368.4L629.5 373.2L623.9 373.2ZM627.6 370.3L630.4 375.2L624.8 375.2ZM628.5 369.1L631.3 373.9L625.7 373.9ZM629.4 368.8L632.2 373.7L626.6 373.7ZM630.3 368.9L633.1 373.8L627.5 373.8ZM631.2 370.6L634.0 375.5L628.4 375.5ZM632.1 369.5L634.9 374.3L629.3 374.3ZM633.0 370.2L635.8 375.1L630.2 375.1ZM633.9 370.2L636.7 375.0L631.1 375.0ZM634.8 371.2L637.6 376.1L632.0 376.1ZM635.7 371.7L638.5 376.6L632.9 376.6ZM636.6 370.3L639.4 375.1L633.8 375.1ZM637.5 371.2L640.3 376.0L634.7 376.0ZM638.4 371.9L641.2 376.8L635.6 376.8ZM639.3 371.0L642.1 375.9L636.5 375.9ZM640.2 372.2L643.0 377.0L637.4 377.0ZM641.1 371.9L643.9 376.7L638.3 376.7ZM642.0 371.0L644.8 375.8L639.2 375.8ZM642.9 372.4L645.7 377.3L640.1 377.3ZM643.8 371.8L646.6 376.7L641.0 376.7ZM644.7 370.8L647.5 375.7L641.9 375.7ZM645.6 372.1L648.4 376.9L642.8 376.9ZM646.5 372.8L649.3 377.6L643.7 377.6ZM647.4 372.1L650.2 377.0L644.6 377.0ZM648.3 372.2L651.1 377.0L645.5 377.0ZM649.2 372.1L652.0 377.0L646.4 377.0ZM650.1 373.4L652.9 378.2L647.3 378.2ZM651.0 373.0L653.8 377.8L648.2 377.8ZM651.9 372.0L654.7 376.8L649.1 376.8ZM652.8 372.5L655.6 377.3L650.0 377.3ZM653.7 372.6L656.5 377.4L650.9 377.4ZM654.6 374.1L657.4 379.0L651.8 379.0ZM655.5 373.6L658.3 378.5L652.7 378.5ZM656.4 372.4L659.2 377.2L653.6 377.2ZM657.3 374.4L660.1 379.2L654.5 379.2ZM658.2 372.4L661.0 377.2L655.4 377.2ZM659.1 373.8L661.9 378.7L656.3 378.7ZM660.0 373.6L662.8 378.4L657.2 378.4ZM660.9 374.4L663.7 379.2L658.1 379.2ZM661.8 373.8L664.6 378.7L659.0 378.7ZM662.7 373.1L665.5 378.0L659.9 378.0ZM663.6 374.3L666.4 379.1L660.8 379.1ZM664.5 375.1L667.3 380.0L661.7 380.0ZM665.4 375.1L668.2 380.0L662.6 380.0ZM666.3 374.2L669.1 379.1L663.5 379.1ZM667.2 374.0L670.0 378.9L664.4 378.9ZM668.1 375.4L670.9 380.2L665.3 380.2ZM669.0 375.6L671.8 380.5L666.2 380.5ZM669.9 374.4L672.7 379.2L667.1 379.2ZM670.8 376.1L673.6 380.9L668.0 380.9ZM671.7 376.4L674.5 381.3L668.9 381.3ZM672.6 375.2L675.4 380.1L669.8 380.1ZM673.5 375.2L676.3 380.1L670.7 380.1ZM674.4 376.1L677.2 381.0L671.6 381.0ZM675.3 376.8L678.1 381.6L672.5 381.6ZM676.2 375.1L679.0 380.0L673.4 380.0ZM677.1 375.5L679.9 380.3L674.3 380.3ZM678.0 375.7L680.8 380.5L675.2 380.5ZM678.9 376.8L681.7 381.6L676.1 381.6ZM679.8 375.6L682.6 380.4L677.0 380.4ZM680.7 376.5L683.5 381.4L677.9 381.4ZM681.6 376.6L684.4 381.4L678.8 381.4ZM682.5 377.1L685.3 381.9L679.7 381.9ZM683.4 375.9L686.2 380.8L680.6 380.8ZM684.3 378.0L687.1 382.9L681.5 382.9ZM685.2 378.2L688.0 383.1L682.4 383.1ZM686.1 377.3L688.9 382.1L683.3 382.1ZM687.0 378.0L689.8 382.8L684.2 382.8ZM687.9 376.6L690.7 381.5L685.1 381.5ZM688.8 378.5L691.6 383.3L686.0 383.3ZM689.7 377.7L692.5 382.6L686.9 382.6ZM690.6 378.3L693.4 383.2L687.8 383.2ZM691.5 378.7L694.3 383.6L688.7 383.6ZM692.4 377.6L695.2 382.5L689.6 382.5ZM693.3 379.1L696.1 384.0L690.5 384.0ZM694.2 377.5L697.0 382.4L691.4 382.4ZM695.1 377.2L697.9 382.0L692.3 382.0ZM696.0 378.4L698.8 383.3L693.2 383.3ZM696.9 379.5L699.7 384.4L694.1 384.4ZM476.0 360.3L478.8 365.2L473.2 365.2ZM494.3 359.6L497.1 364.5L491.5 364.5ZM500.2 357.8L503.0 362.7L497.4 362.7ZM563.8 315.6L566.6 320.5L561.0 320.5ZM645.2 328.3L648.0 333.2L642.4 333.2Z" fill="#EA7118"/><path d="M414.8 363.2a2.2 2.2 0 1 0 4.4 0a2.2 2.2 0 1 0 -4.4 0M415.7 363.4a2.2 2.2 0 1 0 4.4 0a2.2 2.2 0 1 0 -4.4 0M416.6 362.1a2.2 2.2 0 1 0 4.4 0a2.2 2.2 0 1 0 -4.4 0M417.5 363.4a2.2 2.2 0 1 0 4.4 0a2.2 2.2 0 1 0 -4.4 0M418.4 362.3a2.2 2.2 0 1 0 4.4 0a2.2 2.2 0 1 0 -4.4 0M419.3 361.1a2.2 2.2 0 1 0 4.4 0a2.2 2.2 0 1 0 -4.4 0M420.2 362.6a2.2 2.2 0 1 0 4.4 0a2.2 2.2 0 1 0 -4.4 0M421.1 363.2a2.2 2.2 0 1 0 4.4 0a2.2 2.2 0 1 0 -4.4 0M422.0 362.0a2.2 2.2 0 1 0 4.4 0a2.2 2.2 0 1 0 -4.4 0M422.9 362.6a2.2 2.2 0 1 0 4.4 0a2.2 2.2 0 1 0 -4.4 0M423.8 361.6a2.2 2.2 0 1 0 4.4 0a2.2 2.2 0 1 0 -4.4 0M424.7 361.7a2.2 2.2 0 1 0 4.4 0a2.2 2.2 0 1 0 -4.4 0M425.6 362.4a2.2 2.2 0 1 0 4.4 0a2.2 2.2 0 1 0 -4.4 0M426.5 363.2a2.2 2.2 0 1 0 4.4 0a2.2 2.2 0 1 0 -4.4 0M427.4 363.6a2.2 2.2 0 1 0 4.4 0a2.2 2.2 0 1 0 -4.4 0M428.3 363.0a2.2 2.2 0 1 0 4.4 0a2.2 2.2 0 1 0 -4.4 0M429.2 363.3a2.2 2.2 0 1 0 4.4 0a2.2 2.2 0 1 0 -4.4 0M430.1 364.8a2.2 2.2 0 1 0 4.4 0a2.2 2.2 0 1 0 -4.4 0M431.0 366.5a2.2 2.2 0 1 0 4.4 0a2.2 2.2 0 1 0 -4.4 0M431.9 367.2a2.2 2.2 0 1 0 4.4 0a2.2 2.2 0 1 0 -4.4 0M432.8 366.4a2.2 2.2 0 1 0 4.4 0a2.2 2.2 0 1 0 -4.4 0M433.7 367.2a2.2 2.2 0 1 0 4.4 0a2.2 2.2 0 1 0 -4.4 0M434.6 368.7a2.2 2.2 0 1 0 4.4 0a2.2 2.2 0 1 0 -4.4 0M435.5 368.4a2.2 2.2 0 1 0 4.4 0a2.2 2.2 0 1 0 -4.4 0M436.4 370.4a2.2 2.2 0 1 0 4.4 0a2.2 2.2 0 1 0 -4.4 0M437.3 372.0a2.2 2.2 0 1 0 4.4 0a2.2 2.2 0 1 0 -4.4 0M438.2 370.6a2.2 2.2 0 1 0 4.4 0a2.2 2.2 0 1 0 -4.4 0M439.1 372.5a2.2 2.2 0 1 0 4.4 0a2.2 2.2 0 1 0 -4.4 0M440.0 373.6a2.2 2.2 0 1 0 4.4 0a2.2 2.2 0 1 0 -4.4 0M440.9 374.3a2.2 2.2 0 1 0 4.4 0a2.2 2.2 0 1 0 -4.4 0M441.8 374.8a2.2 2.2 0 1 0 4.4 0a2.2 2.2 0 1 0 -4.4 0M442.7 375.4a2.2 2.2 0 1 0 4.4 0a2.2 2.2 0 1 0 -4.4 0M443.6 374.7a2.2 2.2 0 1 0 4.4 0a2.2 2.2 0 1 0 -4.4 0M444.5 377.0a2.2 2.2 0 1 0 4.4 0a2.2 2.2 0 1 0 -4.4 0M445.4 377.9a2.2 2.2 0 1 0 4.4 0a2.2 2.2 0 1 0 -4.4 0M446.3 375.9a2.2 2.2 0 1 0 4.4 0a2.2 2.2 0 1 0 -4.4 0M447.2 379.2a2.2 2.2 0 1 0 4.4 0a2.2 2.2 0 1 0 -4.4 0M448.1 378.3a2.2 2.2 0 1 0 4.4 0a2.2 2.2 0 1 0 -4.4 0M449.0 377.9a2.2 2.2 0 1 0 4.4 0a2.2 2.2 0 1 0 -4.4 0M449.9 378.4a2.2 2.2 0 1 0 4.4 0a2.2 2.2 0 1 0 -4.4 0M450.8 381.1a2.2 2.2 0 1 0 4.4 0a2.2 2.2 0 1 0 -4.4 0M451.7 381.2a2.2 2.2 0 1 0 4.4 0a2.2 2.2 0 1 0 -4.4 0M452.6 380.0a2.2 2.2 0 1 0 4.4 0a2.2 2.2 0 1 0 -4.4 0M453.5 381.4a2.2 2.2 0 1 0 4.4 0a2.2 2.2 0 1 0 -4.4 0M454.4 382.4a2.2 2.2 0 1 0 4.4 0a2.2 2.2 0 1 0 -4.4 0M455.3 383.9a2.2 2.2 0 1 0 4.4 0a2.2 2.2 0 1 0 -4.4 0M456.2 382.4a2.2 2.2 0 1 0 4.4 0a2.2 2.2 0 1 0 -4.4 0M457.1 384.1a2.2 2.2 0 1 0 4.4 0a2.2 2.2 0 1 0 -4.4 0M458.0 383.0a2.2 2.2 0 1 0 4.4 0a2.2 2.2 0 1 0 -4.4 0M458.9 383.3a2.2 2.2 0 1 0 4.4 0a2.2 2.2 0 1 0 -4.4 0M459.8 383.6a2.2 2.2 0 1 0 4.4 0a2.2 2.2 0 1 0 -4.4 0M460.7 384.8a2.2 2.2 0 1 0 4.4 0a2.2 2.2 0 1 0 -4.4 0M461.6 385.9a2.2 2.2 0 1 0 4.4 0a2.2 2.2 0 1 0 -4.4 0M462.5 385.4a2.2 2.2 0 1 0 4.4 0a2.2 2.2 0 1 0 -4.4 0M463.4 385.4a2.2 2.2 0 1 0 4.4 0a2.2 2.2 0 1 0 -4.4 0M464.3 386.1a2.2 2.2 0 1 0 4.4 0a2.2 2.2 0 1 0 -4.4 0M465.2 386.1a2.2 2.2 0 1 0 4.4 0a2.2 2.2 0 1 0 -4.4 0M466.1 386.9a2.2 2.2 0 1 0 4.4 0a2.2 2.2 0 1 0 -4.4 0M467.0 387.7a2.2 2.2 0 1 0 4.4 0a2.2 2.2 0 1 0 -4.4 0M467.9 388.7a2.2 2.2 0 1 0 4.4 0a2.2 2.2 0 1 0 -4.4 0M468.8 388.2a2.2 2.2 0 1 0 4.4 0a2.2 2.2 0 1 0 -4.4 0M469.7 389.6a2.2 2.2 0 1 0 4.4 0a2.2 2.2 0 1 0 -4.4 0M470.6 389.9a2.2 2.2 0 1 0 4.4 0a2.2 2.2 0 1 0 -4.4 0M471.5 392.0a2.2 2.2 0 1 0 4.4 0a2.2 2.2 0 1 0 -4.4 0M472.4 390.9a2.2 2.2 0 1 0 4.4 0a2.2 2.2 0 1 0 -4.4 0M473.3 392.8a2.2 2.2 0 1 0 4.4 0a2.2 2.2 0 1 0 -4.4 0M474.2 391.8a2.2 2.2 0 1 0 4.4 0a2.2 2.2 0 1 0 -4.4 0M475.1 391.9a2.2 2.2 0 1 0 4.4 0a2.2 2.2 0 1 0 -4.4 0M476.0 394.9a2.2 2.2 0 1 0 4.4 0a2.2 2.2 0 1 0 -4.4 0M476.9 395.3a2.2 2.2 0 1 0 4.4 0a2.2 2.2 0 1 0 -4.4 0M477.8 396.2a2.2 2.2 0 1 0 4.4 0a2.2 2.2 0 1 0 -4.4 0M478.7 395.9a2.2 2.2 0 1 0 4.4 0a2.2 2.2 0 1 0 -4.4 0M479.6 397.8a2.2 2.2 0 1 0 4.4 0a2.2 2.2 0 1 0 -4.4 0M480.5 398.6a2.2 2.2 0 1 0 4.4 0a2.2 2.2 0 1 0 -4.4 0M481.4 397.0a2.2 2.2 0 1 0 4.4 0a2.2 2.2 0 1 0 -4.4 0M482.3 397.1a2.2 2.2 0 1 0 4.4 0a2.2 2.2 0 1 0 -4.4 0M483.2 397.6a2.2 2.2 0 1 0 4.4 0a2.2 2.2 0 1 0 -4.4 0M484.1 397.7a2.2 2.2 0 1 0 4.4 0a2.2 2.2 0 1 0 -4.4 0M485.0 398.9a2.2 2.2 0 1 0 4.4 0a2.2 2.2 0 1 0 -4.4 0M485.9 398.3a2.2 2.2 0 1 0 4.4 0a2.2 2.2 0 1 0 -4.4 0M486.8 397.9a2.2 2.2 0 1 0 4.4 0a2.2 2.2 0 1 0 -4.4 0M487.7 400.3a2.2 2.2 0 1 0 4.4 0a2.2 2.2 0 1 0 -4.4 0M488.6 399.7a2.2 2.2 0 1 0 4.4 0a2.2 2.2 0 1 0 -4.4 0M489.5 398.2a2.2 2.2 0 1 0 4.4 0a2.2 2.2 0 1 0 -4.4 0M490.4 401.0a2.2 2.2 0 1 0 4.4 0a2.2 2.2 0 1 0 -4.4 0M491.3 400.9a2.2 2.2 0 1 0 4.4 0a2.2 2.2 0 1 0 -4.4 0M492.2 400.1a2.2 2.2 0 1 0 4.4 0a2.2 2.2 0 1 0 -4.4 0M493.1 401.2a2.2 2.2 0 1 0 4.4 0a2.2 2.2 0 1 0 -4.4 0M494.0 402.3a2.2 2.2 0 1 0 4.4 0a2.2 2.2 0 1 0 -4.4 0M494.9 401.0a2.2 2.2 0 1 0 4.4 0a2.2 2.2 0 1 0 -4.4 0M495.8 401.3a2.2 2.2 0 1 0 4.4 0a2.2 2.2 0 1 0 -4.4 0M496.7 401.2a2.2 2.2 0 1 0 4.4 0a2.2 2.2 0 1 0 -4.4 0M497.6 402.2a2.2 2.2 0 1 0 4.4 0a2.2 2.2 0 1 0 -4.4 0M498.5 402.7a2.2 2.2 0 1 0 4.4 0a2.2 2.2 0 1 0 -4.4 0M499.4 403.2a2.2 2.2 0 1 0 4.4 0a2.2 2.2 0 1 0 -4.4 0M500.3 404.1a2.2 2.2 0 1 0 4.4 0a2.2 2.2 0 1 0 -4.4 0M501.2 401.9a2.2 2.2 0 1 0 4.4 0a2.2 2.2 0 1 0 -4.4 0M502.1 402.8a2.2 2.2 0 1 0 4.4 0a2.2 2.2 0 1 0 -4.4 0M503.0 404.5a2.2 2.2 0 1 0 4.4 0a2.2 2.2 0 1 0 -4.4 0M503.9 404.8a2.2 2.2 0 1 0 4.4 0a2.2 2.2 0 1 0 -4.4 0M504.8 404.6a2.2 2.2 0 1 0 4.4 0a2.2 2.2 0 1 0 -4.4 0M505.7 405.2a2.2 2.2 0 1 0 4.4 0a2.2 2.2 0 1 0 -4.4 0M506.6 404.6a2.2 2.2 0 1 0 4.4 0a2.2 2.2 0 1 0 -4.4 0M507.5 406.9a2.2 2.2 0 1 0 4.4 0a2.2 2.2 0 1 0 -4.4 0M508.4 406.1a2.2 2.2 0 1 0 4.4 0a2.2 2.2 0 1 0 -4.4 0M509.3 406.0a2.2 2.2 0 1 0 4.4 0a2.2 2.2 0 1 0 -4.4 0M510.2 405.8a2.2 2.2 0 1 0 4.4 0a2.2 2.2 0 1 0 -4.4 0M511.1 406.0a2.2 2.2 0 1 0 4.4 0a2.2 2.2 0 1 0 -4.4 0M512.0 408.7a2.2 2.2 0 1 0 4.4 0a2.2 2.2 0 1 0 -4.4 0M512.9 408.9a2.2 2.2 0 1 0 4.4 0a2.2 2.2 0 1 0 -4.4 0M513.8 406.9a2.2 2.2 0 1 0 4.4 0a2.2 2.2 0 1 0 -4.4 0M514.7 408.2a2.2 2.2 0 1 0 4.4 0a2.2 2.2 0 1 0 -4.4 0M515.6 409.1a2.2 2.2 0 1 0 4.4 0a2.2 2.2 0 1 0 -4.4 0M516.5 409.6a2.2 2.2 0 1 0 4.4 0a2.2 2.2 0 1 0 -4.4 0M517.4 409.6a2.2 2.2 0 1 0 4.4 0a2.2 2.2 0 1 0 -4.4 0M518.3 411.6a2.2 2.2 0 1 0 4.4 0a2.2 2.2 0 1 0 -4.4 0M519.2 410.3a2.2 2.2 0 1 0 4.4 0a2.2 2.2 0 1 0 -4.4 0M520.1 411.3a2.2 2.2 0 1 0 4.4 0a2.2 2.2 0 1 0 -4.4 0M521.0 412.9a2.2 2.2 0 1 0 4.4 0a2.2 2.2 0 1 0 -4.4 0M521.9 412.4a2.2 2.2 0 1 0 4.4 0a2.2 2.2 0 1 0 -4.4 0M522.8 412.3a2.2 2.2 0 1 0 4.4 0a2.2 2.2 0 1 0 -4.4 0M523.7 412.3a2.2 2.2 0 1 0 4.4 0a2.2 2.2 0 1 0 -4.4 0M524.6 412.9a2.2 2.2 0 1 0 4.4 0a2.2 2.2 0 1 0 -4.4 0M525.5 414.0a2.2 2.2 0 1 0 4.4 0a2.2 2.2 0 1 0 -4.4 0M526.4 414.9a2.2 2.2 0 1 0 4.4 0a2.2 2.2 0 1 0 -4.4 0M527.3 413.7a2.2 2.2 0 1 0 4.4 0a2.2 2.2 0 1 0 -4.4 0M528.2 414.3a2.2 2.2 0 1 0 4.4 0a2.2 2.2 0 1 0 -4.4 0M529.1 414.6a2.2 2.2 0 1 0 4.4 0a2.2 2.2 0 1 0 -4.4 0M530.0 414.7a2.2 2.2 0 1 0 4.4 0a2.2 2.2 0 1 0 -4.4 0M530.9 416.6a2.2 2.2 0 1 0 4.4 0a2.2 2.2 0 1 0 -4.4 0M531.8 415.8a2.2 2.2 0 1 0 4.4 0a2.2 2.2 0 1 0 -4.4 0M532.7 415.2a2.2 2.2 0 1 0 4.4 0a2.2 2.2 0 1 0 -4.4 0M533.6 415.6a2.2 2.2 0 1 0 4.4 0a2.2 2.2 0 1 0 -4.4 0M534.5 417.3a2.2 2.2 0 1 0 4.4 0a2.2 2.2 0 1 0 -4.4 0M535.4 415.6a2.2 2.2 0 1 0 4.4 0a2.2 2.2 0 1 0 -4.4 0M536.3 417.4a2.2 2.2 0 1 0 4.4 0a2.2 2.2 0 1 0 -4.4 0M537.2 415.7a2.2 2.2 0 1 0 4.4 0a2.2 2.2 0 1 0 -4.4 0M538.1 416.4a2.2 2.2 0 1 0 4.4 0a2.2 2.2 0 1 0 -4.4 0M539.0 416.3a2.2 2.2 0 1 0 4.4 0a2.2 2.2 0 1 0 -4.4 0M539.9 418.7a2.2 2.2 0 1 0 4.4 0a2.2 2.2 0 1 0 -4.4 0M540.8 417.0a2.2 2.2 0 1 0 4.4 0a2.2 2.2 0 1 0 -4.4 0M541.7 417.5a2.2 2.2 0 1 0 4.4 0a2.2 2.2 0 1 0 -4.4 0M542.6 417.2a2.2 2.2 0 1 0 4.4 0a2.2 2.2 0 1 0 -4.4 0M543.5 418.1a2.2 2.2 0 1 0 4.4 0a2.2 2.2 0 1 0 -4.4 0M544.4 419.7a2.2 2.2 0 1 0 4.4 0a2.2 2.2 0 1 0 -4.4 0M545.3 419.9a2.2 2.2 0 1 0 4.4 0a2.2 2.2 0 1 0 -4.4 0M546.2 420.8a2.2 2.2 0 1 0 4.4 0a2.2 2.2 0 1 0 -4.4 0M547.1 421.1a2.2 2.2 0 1 0 4.4 0a2.2 2.2 0 1 0 -4.4 0M548.0 420.2a2.2 2.2 0 1 0 4.4 0a2.2 2.2 0 1 0 -4.4 0M548.9 421.5a2.2 2.2 0 1 0 4.4 0a2.2 2.2 0 1 0 -4.4 0M549.8 419.3a2.2 2.2 0 1 0 4.4 0a2.2 2.2 0 1 0 -4.4 0M550.7 422.0a2.2 2.2 0 1 0 4.4 0a2.2 2.2 0 1 0 -4.4 0M551.6 420.8a2.2 2.2 0 1 0 4.4 0a2.2 2.2 0 1 0 -4.4 0M552.5 420.3a2.2 2.2 0 1 0 4.4 0a2.2 2.2 0 1 0 -4.4 0M553.4 422.2a2.2 2.2 0 1 0 4.4 0a2.2 2.2 0 1 0 -4.4 0M554.3 422.8a2.2 2.2 0 1 0 4.4 0a2.2 2.2 0 1 0 -4.4 0M555.2 421.6a2.2 2.2 0 1 0 4.4 0a2.2 2.2 0 1 0 -4.4 0M556.1 421.0a2.2 2.2 0 1 0 4.4 0a2.2 2.2 0 1 0 -4.4 0M557.0 423.6a2.2 2.2 0 1 0 4.4 0a2.2 2.2 0 1 0 -4.4 0M557.9 423.4a2.2 2.2 0 1 0 4.4 0a2.2 2.2 0 1 0 -4.4 0M558.8 423.2a2.2 2.2 0 1 0 4.4 0a2.2 2.2 0 1 0 -4.4 0M559.7 424.6a2.2 2.2 0 1 0 4.4 0a2.2 2.2 0 1 0 -4.4 0M560.6 422.0a2.2 2.2 0 1 0 4.4 0a2.2 2.2 0 1 0 -4.4 0M561.5 422.3a2.2 2.2 0 1 0 4.4 0a2.2 2.2 0 1 0 -4.4 0M562.4 422.8a2.2 2.2 0 1 0 4.4 0a2.2 2.2 0 1 0 -4.4 0M563.3 422.7a2.2 2.2 0 1 0 4.4 0a2.2 2.2 0 1 0 -4.4 0M564.2 425.0a2.2 2.2 0 1 0 4.4 0a2.2 2.2 0 1 0 -4.4 0M565.1 424.9a2.2 2.2 0 1 0 4.4 0a2.2 2.2 0 1 0 -4.4 0M566.0 423.6a2.2 2.2 0 1 0 4.4 0a2.2 2.2 0 1 0 -4.4 0M566.9 424.0a2.2 2.2 0 1 0 4.4 0a2.2 2.2 0 1 0 -4.4 0M567.8 424.2a2.2 2.2 0 1 0 4.4 0a2.2 2.2 0 1 0 -4.4 0M568.7 425.7a2.2 2.2 0 1 0 4.4 0a2.2 2.2 0 1 0 -4.4 0M569.6 426.2a2.2 2.2 0 1 0 4.4 0a2.2 2.2 0 1 0 -4.4 0M570.5 427.3a2.2 2.2 0 1 0 4.4 0a2.2 2.2 0 1 0 -4.4 0M571.4 425.7a2.2 2.2 0 1 0 4.4 0a2.2 2.2 0 1 0 -4.4 0M572.3 427.7a2.2 2.2 0 1 0 4.4 0a2.2 2.2 0 1 0 -4.4 0M573.2 426.3a2.2 2.2 0 1 0 4.4 0a2.2 2.2 0 1 0 -4.4 0M574.1 426.4a2.2 2.2 0 1 0 4.4 0a2.2 2.2 0 1 0 -4.4 0M575.0 426.2a2.2 2.2 0 1 0 4.4 0a2.2 2.2 0 1 0 -4.4 0M575.9 426.3a2.2 2.2 0 1 0 4.4 0a2.2 2.2 0 1 0 -4.4 0M576.8 428.8a2.2 2.2 0 1 0 4.4 0a2.2 2.2 0 1 0 -4.4 0M577.7 429.1a2.2 2.2 0 1 0 4.4 0a2.2 2.2 0 1 0 -4.4 0M578.6 428.4a2.2 2.2 0 1 0 4.4 0a2.2 2.2 0 1 0 -4.4 0M579.5 427.0a2.2 2.2 0 1 0 4.4 0a2.2 2.2 0 1 0 -4.4 0M580.4 427.3a2.2 2.2 0 1 0 4.4 0a2.2 2.2 0 1 0 -4.4 0M581.3 427.4a2.2 2.2 0 1 0 4.4 0a2.2 2.2 0 1 0 -4.4 0M582.2 428.2a2.2 2.2 0 1 0 4.4 0a2.2 2.2 0 1 0 -4.4 0M583.1 429.6a2.2 2.2 0 1 0 4.4 0a2.2 2.2 0 1 0 -4.4 0M584.0 427.8a2.2 2.2 0 1 0 4.4 0a2.2 2.2 0 1 0 -4.4 0M584.9 429.4a2.2 2.2 0 1 0 4.4 0a2.2 2.2 0 1 0 -4.4 0M585.8 430.1a2.2 2.2 0 1 0 4.4 0a2.2 2.2 0 1 0 -4.4 0M586.7 428.4a2.2 2.2 0 1 0 4.4 0a2.2 2.2 0 1 0 -4.4 0M587.6 429.8a2.2 2.2 0 1 0 4.4 0a2.2 2.2 0 1 0 -4.4 0M588.5 431.1a2.2 2.2 0 1 0 4.4 0a2.2 2.2 0 1 0 -4.4 0M589.4 430.6a2.2 2.2 0 1 0 4.4 0a2.2 2.2 0 1 0 -4.4 0M590.3 430.5a2.2 2.2 0 1 0 4.4 0a2.2 2.2 0 1 0 -4.4 0M591.2 432.0a2.2 2.2 0 1 0 4.4 0a2.2 2.2 0 1 0 -4.4 0M592.1 431.4a2.2 2.2 0 1 0 4.4 0a2.2 2.2 0 1 0 -4.4 0M593.0 430.8a2.2 2.2 0 1 0 4.4 0a2.2 2.2 0 1 0 -4.4 0M593.9 431.2a2.2 2.2 0 1 0 4.4 0a2.2 2.2 0 1 0 -4.4 0M594.8 433.0a2.2 2.2 0 1 0 4.4 0a2.2 2.2 0 1 0 -4.4 0M595.7 433.0a2.2 2.2 0 1 0 4.4 0a2.2 2.2 0 1 0 -4.4 0M596.6 433.4a2.2 2.2 0 1 0 4.4 0a2.2 2.2 0 1 0 -4.4 0M597.5 432.5a2.2 2.2 0 1 0 4.4 0a2.2 2.2 0 1 0 -4.4 0M598.4 431.5a2.2 2.2 0 1 0 4.4 0a2.2 2.2 0 1 0 -4.4 0M599.3 431.8a2.2 2.2 0 1 0 4.4 0a2.2 2.2 0 1 0 -4.4 0M600.2 432.6a2.2 2.2 0 1 0 4.4 0a2.2 2.2 0 1 0 -4.4 0M601.1 433.8a2.2 2.2 0 1 0 4.4 0a2.2 2.2 0 1 0 -4.4 0M602.0 431.9a2.2 2.2 0 1 0 4.4 0a2.2 2.2 0 1 0 -4.4 0M602.9 434.6a2.2 2.2 0 1 0 4.4 0a2.2 2.2 0 1 0 -4.4 0M603.8 434.7a2.2 2.2 0 1 0 4.4 0a2.2 2.2 0 1 0 -4.4 0M604.7 434.1a2.2 2.2 0 1 0 4.4 0a2.2 2.2 0 1 0 -4.4 0M605.6 432.8a2.2 2.2 0 1 0 4.4 0a2.2 2.2 0 1 0 -4.4 0M606.5 435.4a2.2 2.2 0 1 0 4.4 0a2.2 2.2 0 1 0 -4.4 0M607.4 434.5a2.2 2.2 0 1 0 4.4 0a2.2 2.2 0 1 0 -4.4 0M608.3 435.5a2.2 2.2 0 1 0 4.4 0a2.2 2.2 0 1 0 -4.4 0M609.2 435.4a2.2 2.2 0 1 0 4.4 0a2.2 2.2 0 1 0 -4.4 0M610.1 436.1a2.2 2.2 0 1 0 4.4 0a2.2 2.2 0 1 0 -4.4 0M611.0 435.3a2.2 2.2 0 1 0 4.4 0a2.2 2.2 0 1 0 -4.4 0M611.9 437.2a2.2 2.2 0 1 0 4.4 0a2.2 2.2 0 1 0 -4.4 0M612.8 437.4a2.2 2.2 0 1 0 4.4 0a2.2 2.2 0 1 0 -4.4 0M613.7 437.5a2.2 2.2 0 1 0 4.4 0a2.2 2.2 0 1 0 -4.4 0M614.6 436.8a2.2 2.2 0 1 0 4.4 0a2.2 2.2 0 1 0 -4.4 0M615.5 436.1a2.2 2.2 0 1 0 4.4 0a2.2 2.2 0 1 0 -4.4 0M616.4 436.5a2.2 2.2 0 1 0 4.4 0a2.2 2.2 0 1 0 -4.4 0M617.3 436.4a2.2 2.2 0 1 0 4.4 0a2.2 2.2 0 1 0 -4.4 0M618.2 438.5a2.2 2.2 0 1 0 4.4 0a2.2 2.2 0 1 0 -4.4 0M619.1 438.4a2.2 2.2 0 1 0 4.4 0a2.2 2.2 0 1 0 -4.4 0M620.0 438.6a2.2 2.2 0 1 0 4.4 0a2.2 2.2 0 1 0 -4.4 0M620.9 438.9a2.2 2.2 0 1 0 4.4 0a2.2 2.2 0 1 0 -4.4 0M621.8 439.7a2.2 2.2 0 1 0 4.4 0a2.2 2.2 0 1 0 -4.4 0M622.7 439.0a2.2 2.2 0 1 0 4.4 0a2.2 2.2 0 1 0 -4.4 0M623.6 438.1a2.2 2.2 0 1 0 4.4 0a2.2 2.2 0 1 0 -4.4 0M624.5 439.6a2.2 2.2 0 1 0 4.4 0a2.2 2.2 0 1 0 -4.4 0M625.4 438.3a2.2 2.2 0 1 0 4.4 0a2.2 2.2 0 1 0 -4.4 0M626.3 439.6a2.2 2.2 0 1 0 4.4 0a2.2 2.2 0 1 0 -4.4 0M475.1 417.5a2.2 2.2 0 1 0 4.4 0a2.2 2.2 0 1 0 -4.4 0M561.6 393.5a2.2 2.2 0 1 0 4.4 0a2.2 2.2 0 1 0 -4.4 0" fill="#9B3503"/><path d="M417.0 358.4L419.6 361.0L417.0 363.6L414.4 361.0ZM417.9 360.6L420.5 363.2L417.9 365.8L415.3 363.2ZM418.8 359.5L421.4 362.1L418.8 364.7L416.2 362.1ZM419.7 359.0L422.3 361.6L419.7 364.2L417.1 361.6ZM420.6 361.0L423.2 363.6L420.6 366.2L418.0 363.6ZM421.5 358.8L424.1 361.4L421.5 364.0L418.9 361.4ZM422.4 362.1L425.0 364.7L422.4 367.3L419.8 364.7ZM423.3 362.4L425.9 365.0L423.3 367.6L420.7 365.0ZM424.2 361.3L426.8 363.9L424.2 366.5L421.6 363.9ZM425.1 363.9L427.7 366.5L425.1 369.1L422.5 366.5ZM426.0 364.2L428.6 366.8L426.0 369.4L423.4 366.8ZM426.9 365.9L429.5 368.5L426.9 371.1L424.3 368.5ZM427.8 365.7L430.4 368.3L427.8 370.9L425.2 368.3ZM428.7 366.0L431.3 368.6L428.7 371.2L426.1 368.6ZM429.6 368.3L432.2 370.9L429.6 373.5L427.0 370.9ZM430.5 366.6L433.1 369.2L430.5 371.8L427.9 369.2ZM431.4 369.5L434.0 372.1L431.4 374.7L428.8 372.1ZM432.3 368.3L434.9 370.9L432.3 373.5L429.7 370.9ZM433.2 369.7L435.8 372.3L433.2 374.9L430.6 372.3ZM434.1 370.0L436.7 372.6L434.1 375.2L431.5 372.6ZM435.0 373.1L437.6 375.7L435.0 378.3L432.4 375.7ZM435.9 372.6L438.5 375.2L435.9 377.8L433.3 375.2ZM436.8 374.3L439.4 376.9L436.8 379.5L434.2 376.9ZM437.7 373.6L440.3 376.2L437.7 378.8L435.1 376.2ZM438.6 375.6L441.2 378.2L438.6 380.8L436.0 378.2ZM439.5 376.0L442.1 378.6L439.5 381.2L436.9 378.6ZM440.4 374.9L443.0 377.5L440.4 380.1L437.8 377.5ZM441.3 376.7L443.9 379.3L441.3 381.9L438.7 379.3ZM442.2 377.9L444.8 380.5L442.2 383.1L439.6 380.5ZM443.1 377.0L445.7 379.6L443.1 382.2L440.5 379.6ZM444.0 378.9L446.6 381.5L444.0 384.1L441.4 381.5ZM444.9 378.3L447.5 380.9L444.9 383.5L442.3 380.9ZM445.8 379.2L448.4 381.8L445.8 384.4L443.2 381.8ZM446.7 381.3L449.3 383.9L446.7 386.5L444.1 383.9ZM447.6 381.8L450.2 384.4L447.6 387.0L445.0 384.4ZM448.5 382.4L451.1 385.0L448.5 387.6L445.9 385.0ZM449.4 381.2L452.0 383.8L449.4 386.4L446.8 383.8ZM450.3 382.1L452.9 384.7L450.3 387.3L447.7 384.7ZM451.2 383.2L453.8 385.8L451.2 388.4L448.6 385.8ZM452.1 383.5L454.7 386.1L452.1 388.7L449.5 386.1ZM453.0 383.1L455.6 385.7L453.0 388.3L450.4 385.7ZM453.9 384.7L456.5 387.3L453.9 389.9L451.3 387.3ZM454.8 383.8L457.4 386.4L454.8 389.0L452.2 386.4ZM455.7 385.9L458.3 388.5L455.7 391.1L453.1 388.5ZM456.6 384.9L459.2 387.5L456.6 390.1L454.0 387.5ZM457.5 384.3L460.1 386.9L457.5 389.5L454.9 386.9ZM458.4 386.6L461.0 389.2L458.4 391.8L455.8 389.2ZM459.3 385.3L461.9 387.9L459.3 390.5L456.7 387.9ZM460.2 387.3L462.8 389.9L460.2 392.5L457.6 389.9ZM461.1 385.9L463.7 388.5L461.1 391.1L458.5 388.5ZM462.0 389.2L464.6 391.8L462.0 394.4L459.4 391.8ZM462.9 388.3L465.5 390.9L462.9 393.5L460.3 390.9ZM463.8 389.3L466.4 391.9L463.8 394.5L461.2 391.9ZM464.7 387.9L467.3 390.5L464.7 393.1L462.1 390.5ZM465.6 389.9L468.2 392.5L465.6 395.1L463.0 392.5ZM466.5 389.5L469.1 392.1L466.5 394.7L463.9 392.1ZM467.4 389.6L470.0 392.2L467.4 394.8L464.8 392.2ZM468.3 391.8L470.9 394.4L468.3 397.0L465.7 394.4ZM469.2 389.9L471.8 392.5L469.2 395.1L466.6 392.5ZM470.1 391.6L472.7 394.2L470.1 396.8L467.5 394.2ZM471.0 391.0L473.6 393.6L471.0 396.2L468.4 393.6ZM471.9 394.2L474.5 396.8L471.9 399.4L469.3 396.8ZM472.8 395.2L475.4 397.8L472.8 400.4L470.2 397.8ZM473.7 393.5L476.3 396.1L473.7 398.7L471.1 396.1ZM474.6 395.8L477.2 398.4L474.6 401.0L472.0 398.4ZM475.5 396.7L478.1 399.3L475.5 401.9L472.9 399.3ZM476.4 398.3L479.0 400.9L476.4 403.5L473.8 400.9ZM477.3 399.1L479.9 401.7L477.3 404.3L474.7 401.7ZM478.2 398.3L480.8 400.9L478.2 403.5L475.6 400.9ZM479.1 400.4L481.7 403.0L479.1 405.6L476.5 403.0ZM480.0 398.5L482.6 401.1L480.0 403.7L477.4 401.1ZM480.9 398.8L483.5 401.4L480.9 404.0L478.3 401.4ZM481.8 401.1L484.4 403.7L481.8 406.3L479.2 403.7ZM482.7 399.4L485.3 402.0L482.7 404.6L480.1 402.0ZM483.6 399.9L486.2 402.5L483.6 405.1L481.0 402.5ZM484.5 400.9L487.1 403.5L484.5 406.1L481.9 403.5ZM485.4 400.5L488.0 403.1L485.4 405.7L482.8 403.1ZM486.3 400.1L488.9 402.7L486.3 405.3L483.7 402.7ZM487.2 402.5L489.8 405.1L487.2 407.7L484.6 405.1ZM488.1 401.2L490.7 403.8L488.1 406.4L485.5 403.8ZM489.0 402.2L491.6 404.8L489.0 407.4L486.4 404.8ZM489.9 400.7L492.5 403.3L489.9 405.9L487.3 403.3ZM490.8 402.8L493.4 405.4L490.8 408.0L488.2 405.4ZM491.7 400.8L494.3 403.4L491.7 406.0L489.1 403.4ZM492.6 402.9L495.2 405.5L492.6 408.1L490.0 405.5ZM493.5 402.1L496.1 404.7L493.5 407.3L490.9 404.7ZM494.4 403.3L497.0 405.9L494.4 408.5L491.8 405.9ZM495.3 402.8L497.9 405.4L495.3 408.0L492.7 405.4ZM496.2 402.4L498.8 405.0L496.2 407.6L493.6 405.0ZM497.1 402.2L499.7 404.8L497.1 407.4L494.5 404.8ZM498.0 403.3L500.6 405.9L498.0 408.5L495.4 405.9ZM498.9 402.1L501.5 404.7L498.9 407.3L496.3 404.7ZM499.8 401.2L502.4 403.8L499.8 406.4L497.2 403.8ZM500.7 403.7L503.3 406.3L500.7 408.9L498.1 406.3ZM501.6 403.5L504.2 406.1L501.6 408.7L499.0 406.1ZM502.5 403.2L505.1 405.8L502.5 408.4L499.9 405.8ZM503.4 403.5L506.0 406.1L503.4 408.7L500.8 406.1ZM504.3 402.0L506.9 404.6L504.3 407.2L501.7 404.6ZM505.2 402.9L507.8 405.5L505.2 408.1L502.6 405.5ZM506.1 404.2L508.7 406.8L506.1 409.4L503.5 406.8ZM507.0 404.9L509.6 407.5L507.0 410.1L504.4 407.5ZM507.9 405.1L510.5 407.7L507.9 410.3L505.3 407.7ZM508.8 403.1L511.4 405.7L508.8 408.3L506.2 405.7ZM509.7 404.9L512.3 407.5L509.7 410.1L507.1 407.5ZM510.6 404.8L513.2 407.4L510.6 410.0L508.0 407.4ZM511.5 404.6L514.1 407.2L511.5 409.8L508.9 407.2ZM512.4 404.2L515.0 406.8L512.4 409.4L509.8 406.8ZM513.3 404.4L515.9 407.0L513.3 409.6L510.7 407.0ZM514.2 405.7L516.8 408.3L514.2 410.9L511.6 408.3ZM515.1 406.0L517.7 408.6L515.1 411.2L512.5 408.6ZM516.0 405.6L518.6 408.2L516.0 410.8L513.4 408.2ZM516.9 406.2L519.5 408.8L516.9 411.4L514.3 408.8ZM517.8 407.0L520.4 409.6L517.8 412.2L515.2 409.6ZM518.7 408.0L521.3 410.6L518.7 413.2L516.1 410.6ZM519.6 407.7L522.2 410.3L519.6 412.9L517.0 410.3ZM520.5 406.7L523.1 409.3L520.5 411.9L517.9 409.3ZM521.4 409.2L524.0 411.8L521.4 414.4L518.8 411.8ZM522.3 407.9L524.9 410.5L522.3 413.1L519.7 410.5ZM523.2 409.9L525.8 412.5L523.2 415.1L520.6 412.5ZM524.1 410.3L526.7 412.9L524.1 415.5L521.5 412.9ZM525.0 408.1L527.6 410.7L525.0 413.3L522.4 410.7ZM525.9 409.7L528.5 412.3L525.9 414.9L523.3 412.3ZM526.8 411.1L529.4 413.7L526.8 416.3L524.2 413.7ZM527.7 409.6L530.3 412.2L527.7 414.8L525.1 412.2ZM528.6 410.4L531.2 413.0L528.6 415.6L526.0 413.0ZM529.5 410.0L532.1 412.6L529.5 415.2L526.9 412.6ZM530.4 409.3L533.0 411.9L530.4 414.5L527.8 411.9ZM531.3 410.0L533.9 412.6L531.3 415.2L528.7 412.6ZM532.2 409.9L534.8 412.5L532.2 415.1L529.6 412.5ZM533.1 410.5L535.7 413.1L533.1 415.7L530.5 413.1ZM534.0 411.7L536.6 414.3L534.0 416.9L531.4 414.3ZM534.9 411.7L537.5 414.3L534.9 416.9L532.3 414.3ZM535.8 413.0L538.4 415.6L535.8 418.2L533.2 415.6ZM536.7 412.4L539.3 415.0L536.7 417.6L534.1 415.0ZM537.6 411.6L540.2 414.2L537.6 416.8L535.0 414.2ZM538.5 413.5L541.1 416.1L538.5 418.7L535.9 416.1ZM539.4 412.7L542.0 415.3L539.4 417.9L536.8 415.3ZM540.3 412.6L542.9 415.2L540.3 417.8L537.7 415.2ZM541.2 413.7L543.8 416.3L541.2 418.9L538.6 416.3ZM542.1 413.3L544.7 415.9L542.1 418.5L539.5 415.9ZM543.0 412.5L545.6 415.1L543.0 417.7L540.4 415.1ZM543.9 413.4L546.5 416.0L543.9 418.6L541.3 416.0ZM544.8 412.7L547.4 415.3L544.8 417.9L542.2 415.3ZM545.7 414.8L548.3 417.4L545.7 420.0L543.1 417.4ZM546.6 412.8L549.2 415.4L546.6 418.0L544.0 415.4ZM547.5 415.2L550.1 417.8L547.5 420.4L544.9 417.8ZM548.4 412.6L551.0 415.2L548.4 417.8L545.8 415.2ZM549.3 412.6L551.9 415.2L549.3 417.8L546.7 415.2ZM550.2 414.4L552.8 417.0L550.2 419.6L547.6 417.0ZM551.1 413.5L553.7 416.1L551.1 418.7L548.5 416.1ZM552.0 414.6L554.6 417.2L552.0 419.8L549.4 417.2ZM552.9 413.6L555.5 416.2L552.9 418.8L550.3 416.2ZM553.8 415.9L556.4 418.5L553.8 421.1L551.2 418.5ZM554.7 415.6L557.3 418.2L554.7 420.8L552.1 418.2ZM555.6 415.8L558.2 418.4L555.6 421.0L553.0 418.4ZM556.5 416.7L559.1 419.3L556.5 421.9L553.9 419.3ZM557.4 417.0L560.0 419.6L557.4 422.2L554.8 419.6ZM558.3 416.2L560.9 418.8L558.3 421.4L555.7 418.8ZM559.2 416.5L561.8 419.1L559.2 421.7L556.6 419.1ZM560.1 414.5L562.7 417.1L560.1 419.7L557.5 417.1ZM561.0 414.8L563.6 417.4L561.0 420.0L558.4 417.4ZM561.9 416.1L564.5 418.7L561.9 421.3L559.3 418.7ZM562.8 417.9L565.4 420.5L562.8 423.1L560.2 420.5ZM563.7 416.1L566.3 418.7L563.7 421.3L561.1 418.7ZM564.6 417.0L567.2 419.6L564.6 422.2L562.0 419.6ZM565.5 415.5L568.1 418.1L565.5 420.7L562.9 418.1ZM566.4 417.0L569.0 419.6L566.4 422.2L563.8 419.6ZM567.3 418.6L569.9 421.2L567.3 423.8L564.7 421.2ZM568.2 417.9L570.8 420.5L568.2 423.1L565.6 420.5ZM569.1 418.8L571.7 421.4L569.1 424.0L566.5 421.4ZM570.0 416.5L572.6 419.1L570.0 421.7L567.4 419.1ZM570.9 417.3L573.5 419.9L570.9 422.5L568.3 419.9ZM571.8 417.4L574.4 420.0L571.8 422.6L569.2 420.0ZM572.7 419.6L575.3 422.2L572.7 424.8L570.1 422.2ZM573.6 417.6L576.2 420.2L573.6 422.8L571.0 420.2ZM574.5 420.3L577.1 422.9L574.5 425.5L571.9 422.9ZM575.4 418.5L578.0 421.1L575.4 423.7L572.8 421.1ZM576.3 420.5L578.9 423.1L576.3 425.7L573.7 423.1ZM577.2 419.7L579.8 422.3L577.2 424.9L574.6 422.3ZM578.1 419.3L580.7 421.9L578.1 424.5L575.5 421.9ZM579.0 421.4L581.6 424.0L579.0 426.6L576.4 424.0ZM579.9 419.9L582.5 422.5L579.9 425.1L577.3 422.5ZM580.8 421.0L583.4 423.6L580.8 426.2L578.2 423.6ZM581.7 419.3L584.3 421.9L581.7 424.5L579.1 421.9ZM582.6 421.8L585.2 424.4L582.6 427.0L580.0 424.4ZM583.5 422.4L586.1 425.0L583.5 427.6L580.9 425.0ZM584.4 420.0L587.0 422.6L584.4 425.2L581.8 422.6ZM585.3 422.1L587.9 424.7L585.3 427.3L582.7 424.7ZM586.2 420.9L588.8 423.5L586.2 426.1L583.6 423.5ZM587.1 420.7L589.7 423.3L587.1 425.9L584.5 423.3ZM588.0 421.6L590.6 424.2L588.0 426.8L585.4 424.2ZM460.3 373.2L462.9 375.8L460.3 378.4L457.7 375.8ZM563.8 383.1L566.4 385.7L563.8 388.3L561.2 385.7ZM483.6 361.0L486.2 363.6L483.6 366.2L481.0 363.6Z" fill="#FEC04E"/><path d="M414.5 364.9h5.0M417.0 362.4v5.0M415.2 371.0h5.0M417.7 368.5v5.0M415.9 372.6h5.0M418.4 370.1v5.0M416.6 373.5h5.0M419.1 371.0v5.0M417.3 367.7h5.0M419.8 365.2v5.0M418.0 369.1h5.0M420.5 366.6v5.0M418.7 361.2h5.0M421.2 358.7v5.0M419.4 372.2h5.0M421.9 369.7v5.0M420.1 369.9h5.0M422.6 367.4v5.0M420.8 367.3h5.0M423.3 364.8v5.0M421.5 378.0h5.0M424.0 375.5v5.0M422.2 367.2h5.0M424.7 364.7v5.0M422.9 365.4h5.0M425.4 362.9v5.0M423.6 365.4h5.0M426.1 362.9v5.0M424.3 365.0h5.0M426.8 362.5v5.0M425.0 372.6h5.0M427.5 370.1v5.0M425.7 376.1h5.0M428.2 373.6v5.0M426.4 364.3h5.0M428.9 361.8v5.0M427.1 370.2h5.0M429.6 367.7v5.0M427.8 371.2h5.0M430.3 368.7v5.0M428.5 370.7h5.0M431.0 368.2v5.0M429.2 367.7h5.0M431.7 365.2v5.0M429.9 369.8h5.0M432.4 367.3v5.0M430.6 360.0h5.0M433.1 357.5v5.0M431.3 360.5h5.0M433.8 358.0v5.0M432.0 366.8h5.0M434.5 364.3v5.0M432.7 363.1h5.0M435.2 360.6v5.0M433.4 372.1h5.0M435.9 369.6v5.0M434.1 362.4h5.0M436.6 359.9v5.0M434.8 372.5h5.0M437.3 370.0v5.0M435.5 361.5h5.0M438.0 359.0v5.0M436.2 358.4h5.0M438.7 355.9v5.0M436.9 365.0h5.0M439.4 362.5v5.0M437.6 362.9h5.0M440.1 360.4v5.0M438.3 361.6h5.0M440.8 359.1v5.0M439.0 368.9h5.0M441.5 366.4v5.0M439.7 358.7h5.0M442.2 356.2v5.0M440.4 366.3h5.0M442.9 363.8v5.0M441.1 368.9h5.0M443.6 366.4v5.0M441.8 361.6h5.0M444.3 359.1v5.0M442.5 362.1h5.0M445.0 359.6v5.0M442.5 367.1h5.0M445.0 364.6v5.0M443.4 362.7h5.0M445.9 360.2v5.0M444.3 357.1h5.0M446.8 354.6v5.0M445.2 355.3h5.0M447.7 352.8v5.0M446.1 354.9h5.0M448.6 352.4v5.0M447.0 357.4h5.0M449.5 354.9v5.0M447.9 354.0h5.0M450.4 351.5v5.0M448.8 360.2h5.0M451.3 357.7v5.0M449.7 357.0h5.0M452.2 354.5v5.0M450.6 355.1h5.0M453.1 352.6v5.0M451.5 357.0h5.0M454.0 354.5v5.0M452.4 361.6h5.0M454.9 359.1v5.0M453.3 352.8h5.0M455.8 350.3v5.0M454.2 351.2h5.0M456.7 348.7v5.0M455.1 352.5h5.0M457.6 350.0v5.0M456.0 352.2h5.0M458.5 349.7v5.0M456.9 358.7h5.0M459.4 356.2v5.0M457.8 355.7h5.0M460.3 353.2v5.0M458.7 351.9h5.0M461.2 349.4v5.0M459.6 348.2h5.0M462.1 345.7v5.0M460.5 346.3h5.0M463.0 343.8v5.0M461.4 346.7h5.0M463.9 344.2v5.0M462.3 354.9h5.0M464.8 352.4v5.0M463.2 351.9h5.0M465.7 349.4v5.0M464.1 345.7h5.0M466.6 343.2v5.0M465.0 351.1h5.0M467.5 348.6v5.0M465.9 344.0h5.0M468.4 341.5v5.0M466.8 349.2h5.0M469.3 346.7v5.0M467.7 346.9h5.0M470.2 344.4v5.0M468.6 343.8h5.0M471.1 341.3v5.0M469.5 351.2h5.0M472.0 348.7v5.0M470.4 350.7h5.0M472.9 348.2v5.0M471.3 348.0h5.0M473.8 345.5v5.0M472.2 343.6h5.0M474.7 341.1v5.0M473.1 349.4h5.0M475.6 346.9v5.0M474.0 346.3h5.0M476.5 343.8v5.0M474.9 348.8h5.0M477.4 346.3v5.0M475.8 341.7h5.0M478.3 339.2v5.0M476.7 351.2h5.0M479.2 348.7v5.0M477.6 340.1h5.0M480.1 337.6v5.0M478.5 342.5h5.0M481.0 340.0v5.0M479.4 344.4h5.0M481.9 341.9v5.0M480.3 341.7h5.0M482.8 339.2v5.0M481.2 340.2h5.0M483.7 337.7v5.0M482.1 347.1h5.0M484.6 344.6v5.0M483.0 350.5h5.0M485.5 348.0v5.0M483.9 342.4h5.0M486.4 339.9v5.0M484.8 341.3h5.0M487.3 338.8v5.0M485.7 345.9h5.0M488.2 343.4v5.0M486.6 340.3h5.0M489.1 337.8v5.0M487.5 342.2h5.0M490.0 339.7v5.0M488.4 345.4h5.0M490.9 342.9v5.0M489.3 342.0h5.0M491.8 339.5v5.0M490.2 338.3h5.0M492.7 335.8v5.0M491.1 336.9h5.0M493.6 334.4v5.0M492.0 342.3h5.0M494.5 339.8v5.0M492.9 347.3h5.0M495.4 344.8v5.0M493.8 346.1h5.0M496.3 343.6v5.0M494.7 335.9h5.0M497.2 333.4v5.0M495.6 340.4h5.0M498.1 337.9v5.0M496.5 339.8h5.0M499.0 337.3v5.0M497.4 335.9h5.0M499.9 333.4v5.0M498.3 341.3h5.0M500.8 338.8v5.0M499.2 338.9h5.0M501.7 336.4v5.0M500.1 342.3h5.0M502.6 339.8v5.0M501.0 335.7h5.0M503.5 333.2v5.0M501.9 343.0h5.0M504.4 340.5v5.0M502.8 341.3h5.0M505.3 338.8v5.0M503.7 336.8h5.0M506.2 334.3v5.0M504.6 332.5h5.0M507.1 330.0v5.0M505.5 336.2h5.0M508.0 333.7v5.0M506.4 331.6h5.0M508.9 329.1v5.0M507.3 337.9h5.0M509.8 335.4v5.0M508.2 337.7h5.0M510.7 335.2v5.0M509.1 335.9h5.0M511.6 333.4v5.0M510.0 340.4h5.0M512.5 337.9v5.0M510.9 328.8h5.0M513.4 326.3v5.0M511.8 336.5h5.0M514.3 334.0v5.0M512.7 337.2h5.0M515.2 334.7v5.0M513.6 328.6h5.0M516.1 326.1v5.0M514.5 330.8h5.0M517.0 328.3v5.0M515.4 327.2h5.0M517.9 324.7v5.0M516.3 333.3h5.0M518.8 330.8v5.0M517.2 334.6h5.0M519.7 332.1v5.0M518.1 329.8h5.0M520.6 327.3v5.0M519.0 333.6h5.0M521.5 331.1v5.0M519.9 329.4h5.0M522.4 326.9v5.0M520.8 333.2h5.0M523.3 330.7v5.0M521.7 327.7h5.0M524.2 325.2v5.0M522.6 335.8h5.0M525.1 333.3v5.0M523.5 329.0h5.0M526.0 326.5v5.0M524.4 323.4h5.0M526.9 320.9v5.0M525.3 324.2h5.0M527.8 321.7v5.0M526.2 331.5h5.0M528.7 329.0v5.0M527.1 332.8h5.0M529.6 330.3v5.0M528.0 329.8h5.0M530.5 327.3v5.0M528.9 323.7h5.0M531.4 321.2v5.0M529.8 331.9h5.0M532.3 329.4v5.0M530.7 329.8h5.0M533.2 327.3v5.0M531.6 322.2h5.0M534.1 319.7v5.0M532.5 325.1h5.0M535.0 322.6v5.0M533.4 328.3h5.0M535.9 325.8v5.0M534.3 319.9h5.0M536.8 317.4v5.0M535.2 320.1h5.0M537.7 317.6v5.0M536.1 323.5h5.0M538.6 321.0v5.0M537.0 329.4h5.0M539.5 326.9v5.0M537.9 330.6h5.0M540.4 328.1v5.0M538.8 322.1h5.0M541.3 319.6v5.0M539.6 326.5h5.0M542.1 324.0v5.0M540.5 325.9h5.0M543.0 323.4v5.0M541.4 326.5h5.0M543.9 324.0v5.0M542.3 324.9h5.0M544.8 322.4v5.0M543.2 327.4h5.0M545.7 324.9v5.0M544.1 325.5h5.0M546.6 323.0v5.0M545.0 327.5h5.0M547.5 325.0v5.0M545.9 325.3h5.0M548.4 322.8v5.0M546.8 323.3h5.0M549.3 320.8v5.0M547.7 325.3h5.0M550.2 322.8v5.0M548.6 325.3h5.0M551.1 322.8v5.0M549.5 324.5h5.0M552.0 322.0v5.0M550.4 324.9h5.0M552.9 322.4v5.0M551.3 325.8h5.0M553.8 323.3v5.0M552.2 326.4h5.0M554.7 323.9v5.0M553.1 324.4h5.0M555.6 321.9v5.0M554.0 324.8h5.0M556.5 322.3v5.0M554.9 326.3h5.0M557.4 323.8v5.0M555.8 326.5h5.0M558.3 324.0v5.0M556.7 326.1h5.0M559.2 323.6v5.0M557.6 327.7h5.0M560.1 325.2v5.0M558.5 324.8h5.0M561.0 322.3v5.0M559.4 326.9h5.0M561.9 324.4v5.0M560.3 325.4h5.0M562.8 322.9v5.0M561.2 328.3h5.0M563.7 325.8v5.0M562.1 327.9h5.0M564.6 325.4v5.0M563.0 328.4h5.0M565.5 325.9v5.0M563.9 326.8h5.0M566.4 324.3v5.0M564.8 325.2h5.0M567.3 322.7v5.0M565.7 329.3h5.0M568.2 326.8v5.0M566.6 326.8h5.0M569.1 324.3v5.0M567.5 326.0h5.0M570.0 323.5v5.0M568.4 325.4h5.0M570.9 322.9v5.0M569.3 326.1h5.0M571.8 323.6v5.0M570.2 328.0h5.0M572.7 325.5v5.0M571.1 328.6h5.0M573.6 326.1v5.0M572.0 326.6h5.0M574.5 324.1v5.0M572.9 328.1h5.0M575.4 325.6v5.0M573.8 324.8h5.0M576.3 322.3v5.0M574.7 326.1h5.0M577.2 323.6v5.0M575.6 325.4h5.0M578.1 322.9v5.0M576.5 324.9h5.0M579.0 322.4v5.0M577.4 325.1h5.0M579.9 322.6v5.0M578.3 327.3h5.0M580.8 324.8v5.0M579.2 327.0h5.0M581.7 324.5v5.0M580.1 323.7h5.0M582.6 321.2v5.0M581.0 323.7h5.0M583.5 321.2v5.0M581.9 326.8h5.0M584.4 324.3v5.0M582.8 325.9h5.0M585.3 323.4v5.0M583.7 325.9h5.0M586.2 323.4v5.0M584.6 325.5h5.0M587.1 323.0v5.0M585.5 325.7h5.0M588.0 323.2v5.0M586.4 323.0h5.0M588.9 320.5v5.0M587.3 321.6h5.0M589.8 319.1v5.0M588.2 323.2h5.0M590.7 320.7v5.0M589.1 321.0h5.0M591.6 318.5v5.0M590.0 326.4h5.0M592.5 323.9v5.0M590.9 323.5h5.0M593.4 321.0v5.0M591.8 324.2h5.0M594.3 321.7v5.0M592.7 325.7h5.0M595.2 323.2v5.0M593.6 324.5h5.0M596.1 322.0v5.0M594.5 320.9h5.0M597.0 318.4v5.0M595.4 321.3h5.0M597.9 318.8v5.0M596.3 319.7h5.0M598.8 317.2v5.0M597.2 323.6h5.0M599.7 321.1v5.0M598.1 323.0h5.0M600.6 320.5v5.0M599.0 321.3h5.0M601.5 318.8v5.0M599.9 320.4h5.0M602.4 317.9v5.0M600.8 319.5h5.0M603.3 317.0v5.0M601.7 320.6h5.0M604.2 318.1v5.0M602.6 321.7h5.0M605.1 319.2v5.0M603.5 322.5h5.0M606.0 320.0v5.0M604.4 321.5h5.0M606.9 319.0v5.0M605.3 320.8h5.0M607.8 318.3v5.0M606.2 317.5h5.0M608.7 315.0v5.0M607.1 316.7h5.0M609.6 314.2v5.0M608.0 315.3h5.0M610.5 312.8v5.0M608.9 318.5h5.0M611.4 316.0v5.0M609.8 313.0h5.0M612.3 310.5v5.0M610.7 312.1h5.0M613.2 309.6v5.0M611.6 313.5h5.0M614.1 311.0v5.0M612.5 318.3h5.0M615.0 315.8v5.0M613.4 318.9h5.0M615.9 316.4v5.0M614.3 316.8h5.0M616.8 314.3v5.0M615.2 321.0h5.0M617.7 318.5v5.0M616.1 322.2h5.0M618.6 319.7v5.0M617.0 320.4h5.0M619.5 317.9v5.0M617.9 320.1h5.0M620.4 317.6v5.0M618.8 324.6h5.0M621.3 322.1v5.0M619.7 323.2h5.0M622.2 320.7v5.0M620.6 322.7h5.0M623.1 320.2v5.0M621.5 328.2h5.0M624.0 325.7v5.0M622.4 326.1h5.0M624.9 323.6v5.0M623.3 326.5h5.0M625.8 324.0v5.0M624.2 328.4h5.0M626.7 325.9v5.0M625.1 327.0h5.0M627.6 324.5v5.0M626.0 326.2h5.0M628.5 323.7v5.0M626.9 329.1h5.0M629.4 326.6v5.0M627.8 329.7h5.0M630.3 327.2v5.0M628.7 328.2h5.0M631.2 325.7v5.0M629.6 331.0h5.0M632.1 328.5v5.0M630.5 334.0h5.0M633.0 331.5v5.0" fill="none" stroke="#A8BEE0" stroke-width="1.4"/><path d="M415.5 364.6h4.1v4.1h-4.1ZM418.5 383.9h4.1v4.1h-4.1ZM421.8 387.4h4.1v4.1h-4.1ZM425.2 393.3h4.1v4.1h-4.1ZM428.7 384.4h4.1v4.1h-4.1ZM432.0 379.8h4.1v4.1h-4.1ZM435.3 383.1h4.1v4.1h-4.1ZM438.4 398.4h4.1v4.1h-4.1ZM441.4 394.1h4.1v4.1h-4.1ZM444.7 405.2h4.1v4.1h-4.1ZM448.0 406.0h4.1v4.1h-4.1ZM451.1 393.3h4.1v4.1h-4.1ZM454.1 412.4h4.1v4.1h-4.1ZM458.2 418.7h4.1v4.1h-4.1ZM461.3 413.6h4.1v4.1h-4.1ZM465.1 415.4h4.1v4.1h-4.1ZM468.4 416.2h4.1v4.1h-4.1ZM471.4 407.8h4.1v4.1h-4.1ZM475.2 409.3h4.1v4.1h-4.1ZM478.5 434.7h4.1v4.1h-4.1ZM481.6 421.3h4.1v4.1h-4.1ZM484.9 427.6h4.1v4.1h-4.1ZM488.0 404.7h4.1v4.1h-4.1ZM491.3 418.0h4.1v4.1h-4.1ZM494.3 416.2h4.1v4.1h-4.1ZM497.6 420.5h4.1v4.1h-4.1ZM501.4 444.1h4.1v4.1h-4.1ZM505.0 439.8h4.1v4.1h-4.1ZM508.3 431.4h4.1v4.1h-4.1ZM511.6 435.2h4.1v4.1h-4.1ZM514.7 420.5h4.1v4.1h-4.1ZM518.5 427.6h4.1v4.1h-4.1ZM521.8 423.8h4.1v4.1h-4.1ZM524.8 428.9h4.1v4.1h-4.1ZM527.9 409.3h4.1v4.1h-4.1ZM531.2 420.5h4.1v4.1h-4.1ZM534.5 418.7h4.1v4.1h-4.1ZM537.5 417.5h4.1v4.1h-4.1ZM541.4 436.5h4.1v4.1h-4.1ZM544.7 450.0h4.1v4.1h-4.1ZM548.2 443.4h4.1v4.1h-4.1ZM551.5 453.6h4.1v4.1h-4.1ZM554.1 461.9h4.1v4.1h-4.1ZM557.4 438.3h4.1v4.1h-4.1ZM560.4 453.0h4.1v4.1h-4.1ZM562.5 460.7h4.1v4.1h-4.1ZM560.5 453.5h4.1v4.1h-4.1ZM563.5 460.6h4.1v4.1h-4.1ZM566.8 456.1h4.1v4.1h-4.1ZM570.2 475.4h4.1v4.1h-4.1ZM573.2 459.4h4.1v4.1h-4.1ZM576.3 435.2h4.1v4.1h-4.1ZM579.6 450.5h4.1v4.1h-4.1ZM582.9 440.8h4.1v4.1h-4.1ZM586.4 427.6h4.1v4.1h-4.1ZM589.7 433.2h4.1v4.1h-4.1ZM593.5 430.6h4.1v4.1h-4.1ZM596.6 433.9h4.1v4.1h-4.1ZM599.9 427.1h4.1v4.1h-4.1ZM603.2 428.1h4.1v4.1h-4.1ZM606.2 428.9h4.1v4.1h-4.1ZM610.1 430.6h4.1v4.1h-4.1ZM612.6 422.0h4.1v4.1h-4.1ZM615.9 426.3h4.1v4.1h-4.1ZM619.0 432.7h4.1v4.1h-4.1ZM622.8 433.9h4.1v4.1h-4.1ZM626.1 435.2h4.1v4.1h-4.1ZM629.6 422.5h4.1v4.1h-4.1ZM632.9 425.0h4.1v4.1h-4.1ZM636.2 430.6h4.1v4.1h-4.1ZM639.3 430.6h4.1v4.1h-4.1ZM642.3 420.5h4.1v4.1h-4.1ZM645.6 417.4h4.1v4.1h-4.1ZM649.0 423.8h4.1v4.1h-4.1ZM652.0 430.1h4.1v4.1h-4.1ZM655.1 411.1h4.1v4.1h-4.1ZM658.4 422.5h4.1v4.1h-4.1ZM661.7 417.4h4.1v4.1h-4.1ZM664.7 420.0h4.1v4.1h-4.1ZM667.8 430.6h4.1v4.1h-4.1ZM671.8 423.8h4.1v4.1h-4.1ZM675.4 427.1h4.1v4.1h-4.1ZM677.9 430.6h4.1v4.1h-4.1ZM681.2 427.6h4.1v4.1h-4.1ZM684.5 421.2h4.1v4.1h-4.1ZM688.1 423.8h4.1v4.1h-4.1ZM691.4 423.8h4.1v4.1h-4.1ZM693.9 416.2h4.1v4.1h-4.1ZM697.2 403.4h4.1v4.1h-4.1ZM700.3 413.6h4.1v4.1h-4.1ZM703.3 422.5h4.1v4.1h-4.1ZM706.7 427.1h4.1v4.1h-4.1Z" fill="#145224"/></g><g clip-path="url(#c20)"><path d="M100.1 617.7l3.8 3.8m0 -3.8l-3.8 3.8M101.0 622.5l3.8 3.8m0 -3.8l-3.8 3.8M101.9 622.6l3.8 3.8m0 -3.8l-3.8 3.8M102.8 618.0l3.8 3.8m0 -3.8l-3.8 3.8M103.7 616.7l3.8 3.8m0 -3.8l-3.8 3.8M104.6 625.2l3.8 3.8m0 -3.8l-3.8 3.8M105.5 625.1l3.8 3.8m0 -3.8l-3.8 3.8M106.4 622.0l3.8 3.8m0 -3.8l-3.8 3.8M107.3 621.6l3.8 3.8m0 -3.8l-3.8 3.8M108.2 630.1l3.8 3.8m0 -3.8l-3.8 3.8M109.1 631.4l3.8 3.8m0 -3.8l-3.8 3.8M110.0 624.0l3.8 3.8m0 -3.8l-3.8 3.8M110.9 628.9l3.8 3.8m0 -3.8l-3.8 3.8M111.8 629.5l3.8 3.8m0 -3.8l-3.8 3.8M112.7 627.1l3.8 3.8m0 -3.8l-3.8 3.8M113.6 624.4l3.8 3.8m0 -3.8l-3.8 3.8M114.5 628.0l3.8 3.8m0 -3.8l-3.8 3.8M115.4 631.9l3.8 3.8m0 -3.8l-3.8 3.8M116.3 631.5l3.8 3.8m0 -3.8l-3.8 3.8M117.2 630.4l3.8 3.8m0 -3.8l-3.8 3.8M118.1 625.8l3.8 3.8m0 -3.8l-3.8 3.8M119.0 626.9l3.8 3.8m0 -3.8l-3.8 3.8M119.9 628.2l3.8 3.8m0 -3.8l-3.8 3.8M120.8 629.5l3.8 3.8m0 -3.8l-3.8 3.8M121.7 628.9l3.8 3.8m0 -3.8l-3.8 3.8M122.6 635.4l3.8 3.8m0 -3.8l-3.8 3.8M123.5 626.0l3.8 3.8m0 -3.8l-3.8 3.8M124.4 636.5l3.8 3.8m0 -3.8l-3.8 3.8M125.3 627.6l3.8 3.8m0 -3.8l-3.8 3.8M126.2 635.1l3.8 3.8m0 -3.8l-3.8 3.8M127.1 627.8l3.8 3.8m0 -3.8l-3.8 3.8M128.0 631.9l3.8 3.8m0 -3.8l-3.8 3.8M128.9 629.5l3.8 3.8m0 -3.8l-3.8 3.8M129.8 625.4l3.8 3.8m0 -3.8l-3.8 3.8M130.7 634.6l3.8 3.8m0 -3.8l-3.8 3.8M131.6 634.8l3.8 3.8m0 -3.8l-3.8 3.8M132.5 628.4l3.8 3.8m0 -3.8l-3.8 3.8M133.4 634.5l3.8 3.8m0 -3.8l-3.8 3.8M134.3 631.0l3.8 3.8m0 -3.8l-3.8 3.8M135.2 637.1l3.8 3.8m0 -3.8l-3.8 3.8M136.1 626.0l3.8 3.8m0 -3.8l-3.8 3.8M137.0 630.0l3.8 3.8m0 -3.8l-3.8 3.8M137.9 628.1l3.8 3.8m0 -3.8l-3.8 3.8M138.8 632.8l3.8 3.8m0 -3.8l-3.8 3.8M139.7 634.5l3.8 3.8m0 -3.8l-3.8 3.8M140.6 635.2l3.8 3.8m0 -3.8l-3.8 3.8M141.5 631.6l3.8 3.8m0 -3.8l-3.8 3.8M142.4 629.6l3.8 3.8m0 -3.8l-3.8 3.8M143.3 634.5l3.8 3.8m0 -3.8l-3.8 3.8M144.2 626.1l3.8 3.8m0 -3.8l-3.8 3.8M145.1 627.9l3.8 3.8m0 -3.8l-3.8 3.8M146.0 633.7l3.8 3.8m0 -3.8l-3.8 3.8M146.9 629.9l3.8 3.8m0 -3.8l-3.8 3.8M147.8 636.4l3.8 3.8m0 -3.8l-3.8 3.8M148.7 625.5l3.8 3.8m0 -3.8l-3.8 3.8M149.6 629.9l3.8 3.8m0 -3.8l-3.8 3.8M150.5 626.8l3.8 3.8m0 -3.8l-3.8 3.8M151.4 624.2l3.8 3.8m0 -3.8l-3.8 3.8M152.3 625.3l3.8 3.8m0 -3.8l-3.8 3.8M153.2 625.1l3.8 3.8m0 -3.8l-3.8 3.8M154.1 628.4l3.8 3.8m0 -3.8l-3.8 3.8M155.0 629.1l3.8 3.8m0 -3.8l-3.8 3.8M155.9 629.9l3.8 3.8m0 -3.8l-3.8 3.8M156.8 627.2l3.8 3.8m0 -3.8l-3.8 3.8M157.7 632.1l3.8 3.8m0 -3.8l-3.8 3.8M158.6 629.8l3.8 3.8m0 -3.8l-3.8 3.8M159.5 635.3l3.8 3.8m0 -3.8l-3.8 3.8M160.4 625.5l3.8 3.8m0 -3.8l-3.8 3.8M161.3 629.5l3.8 3.8m0 -3.8l-3.8 3.8M162.2 629.2l3.8 3.8m0 -3.8l-3.8 3.8M163.1 627.7l3.8 3.8m0 -3.8l-3.8 3.8M164.0 633.5l3.8 3.8m0 -3.8l-3.8 3.8M164.9 625.6l3.8 3.8m0 -3.8l-3.8 3.8M165.8 633.5l3.8 3.8m0 -3.8l-3.8 3.8M166.7 627.2l3.8 3.8m0 -3.8l-3.8 3.8M167.6 626.9l3.8 3.8m0 -3.8l-3.8 3.8M168.5 630.1l3.8 3.8m0 -3.8l-3.8 3.8M169.4 629.4l3.8 3.8m0 -3.8l-3.8 3.8M170.3 626.0l3.8 3.8m0 -3.8l-3.8 3.8M171.2 623.6l3.8 3.8m0 -3.8l-3.8 3.8M172.1 633.9l3.8 3.8m0 -3.8l-3.8 3.8M173.0 626.8l3.8 3.8m0 -3.8l-3.8 3.8M173.9 623.7l3.8 3.8m0 -3.8l-3.8 3.8M174.8 630.1l3.8 3.8m0 -3.8l-3.8 3.8M175.7 628.5l3.8 3.8m0 -3.8l-3.8 3.8M176.6 626.0l3.8 3.8m0 -3.8l-3.8 3.8M177.5 626.0l3.8 3.8m0 -3.8l-3.8 3.8M178.4 632.2l3.8 3.8m0 -3.8l-3.8 3.8M179.3 626.1l3.8 3.8m0 -3.8l-3.8 3.8M180.2 627.1l3.8 3.8m0 -3.8l-3.8 3.8M181.1 633.5l3.8 3.8m0 -3.8l-3.8 3.8M182.0 626.4l3.8 3.8m0 -3.8l-3.8 3.8M182.9 626.8l3.8 3.8m0 -3.8l-3.8 3.8M183.8 623.9l3.8 3.8m0 -3.8l-3.8 3.8M184.7 629.9l3.8 3.8m0 -3.8l-3.8 3.8M185.6 629.9l3.8 3.8m0 -3.8l-3.8 3.8M186.5 627.3l3.8 3.8m0 -3.8l-3.8 3.8M187.4 626.8l3.8 3.8m0 -3.8l-3.8 3.8M188.3 624.7l3.8 3.8m0 -3.8l-3.8 3.8M189.2 631.4l3.8 3.8m0 -3.8l-3.8 3.8M190.1 627.4l3.8 3.8m0 -3.8l-3.8 3.8M191.0 631.9l3.8 3.8m0 -3.8l-3.8 3.8M191.9 626.4l3.8 3.8m0 -3.8l-3.8 3.8M192.8 630.7l3.8 3.8m0 -3.8l-3.8 3.8M193.7 622.2l3.8 3.8m0 -3.8l-3.8 3.8M194.6 624.5l3.8 3.8m0 -3.8l-3.8 3.8M195.5 633.4l3.8 3.8m0 -3.8l-3.8 3.8M196.4 630.0l3.8 3.8m0 -3.8l-3.8 3.8M197.3 629.9l3.8 3.8m0 -3.8l-3.8 3.8M198.2 627.8l3.8 3.8m0 -3.8l-3.8 3.8M199.1 627.5l3.8 3.8m0 -3.8l-3.8 3.8M200.0 624.1l3.8 3.8m0 -3.8l-3.8 3.8M200.9 623.8l3.8 3.8m0 -3.8l-3.8 3.8M201.8 629.5l3.8 3.8m0 -3.8l-3.8 3.8M202.7 630.1l3.8 3.8m0 -3.8l-3.8 3.8M203.6 624.8l3.8 3.8m0 -3.8l-3.8 3.8M204.5 629.4l3.8 3.8m0 -3.8l-3.8 3.8M205.4 623.3l3.8 3.8m0 -3.8l-3.8 3.8M206.3 629.0l3.8 3.8m0 -3.8l-3.8 3.8M207.2 623.7l3.8 3.8m0 -3.8l-3.8 3.8M208.1 627.8l3.8 3.8m0 -3.8l-3.8 3.8M209.0 625.4l3.8 3.8m0 -3.8l-3.8 3.8M209.9 628.2l3.8 3.8m0 -3.8l-3.8 3.8M210.8 623.2l3.8 3.8m0 -3.8l-3.8 3.8M211.7 627.4l3.8 3.8m0 -3.8l-3.8 3.8M212.6 629.0l3.8 3.8m0 -3.8l-3.8 3.8M213.5 623.2l3.8 3.8m0 -3.8l-3.8 3.8M214.4 625.3l3.8 3.8m0 -3.8l-3.8 3.8M215.3 629.7l3.8 3.8m0 -3.8l-3.8 3.8M216.2 628.1l3.8 3.8m0 -3.8l-3.8 3.8M217.1 628.9l3.8 3.8m0 -3.8l-3.8 3.8M218.0 630.9l3.8 3.8m0 -3.8l-3.8 3.8M218.9 628.4l3.8 3.8m0 -3.8l-3.8 3.8M219.8 624.2l3.8 3.8m0 -3.8l-3.8 3.8M220.7 626.8l3.8 3.8m0 -3.8l-3.8 3.8M221.6 631.4l3.8 3.8m0 -3.8l-3.8 3.8M222.5 628.3l3.8 3.8m0 -3.8l-3.8 3.8M223.4 630.5l3.8 3.8m0 -3.8l-3.8 3.8M224.3 625.8l3.8 3.8m0 -3.8l-3.8 3.8M225.2 626.8l3.8 3.8m0 -3.8l-3.8 3.8M226.1 633.0l3.8 3.8m0 -3.8l-3.8 3.8M227.0 631.3l3.8 3.8m0 -3.8l-3.8 3.8M227.9 629.2l3.8 3.8m0 -3.8l-3.8 3.8M228.8 622.6l3.8 3.8m0 -3.8l-3.8 3.8M229.7 628.7l3.8 3.8m0 -3.8l-3.8 3.8M230.6 621.7l3.8 3.8m0 -3.8l-3.8 3.8M231.5 632.5l3.8 3.8m0 -3.8l-3.8 3.8M232.4 633.0l3.8 3.8m0 -3.8l-3.8 3.8M233.3 630.0l3.8 3.8m0 -3.8l-3.8 3.8M234.2 624.5l3.8 3.8m0 -3.8l-3.8 3.8M235.1 631.4l3.8 3.8m0 -3.8l-3.8 3.8M236.0 623.4l3.8 3.8m0 -3.8l-3.8 3.8M236.9 631.2l3.8 3.8m0 -3.8l-3.8 3.8M237.8 627.5l3.8 3.8m0 -3.8l-3.8 3.8M238.7 621.4l3.8 3.8m0 -3.8l-3.8 3.8M239.6 631.9l3.8 3.8m0 -3.8l-3.8 3.8M240.5 626.5l3.8 3.8m0 -3.8l-3.8 3.8M241.4 631.2l3.8 3.8m0 -3.8l-3.8 3.8M242.3 629.4l3.8 3.8m0 -3.8l-3.8 3.8M243.2 627.6l3.8 3.8m0 -3.8l-3.8 3.8M244.1 631.5l3.8 3.8m0 -3.8l-3.8 3.8M245.0 623.6l3.8 3.8m0 -3.8l-3.8 3.8M245.9 631.9l3.8 3.8m0 -3.8l-3.8 3.8M246.8 625.2l3.8 3.8m0 -3.8l-3.8 3.8M247.7 621.4l3.8 3.8m0 -3.8l-3.8 3.8M248.6 625.1l3.8 3.8m0 -3.8l-3.8 3.8M249.5 621.9l3.8 3.8m0 -3.8l-3.8 3.8M250.4 621.9l3.8 3.8m0 -3.8l-3.8 3.8M251.3 628.5l3.8 3.8m0 -3.8l-3.8 3.8M252.2 622.5l3.8 3.8m0 -3.8l-3.8 3.8M253.1 622.9l3.8 3.8m0 -3.8l-3.8 3.8M254.0 624.5l3.8 3.8m0 -3.8l-3.8 3.8M254.9 624.3l3.8 3.8m0 -3.8l-3.8 3.8M255.8 632.0l3.8 3.8m0 -3.8l-3.8 3.8M256.7 631.8l3.8 3.8m0 -3.8l-3.8 3.8M257.6 631.4l3.8 3.8m0 -3.8l-3.8 3.8M258.5 632.8l3.8 3.8m0 -3.8l-3.8 3.8M259.4 626.2l3.8 3.8m0 -3.8l-3.8 3.8M260.3 630.4l3.8 3.8m0 -3.8l-3.8 3.8M261.2 624.2l3.8 3.8m0 -3.8l-3.8 3.8M262.1 632.0l3.8 3.8m0 -3.8l-3.8 3.8M263.0 630.5l3.8 3.8m0 -3.8l-3.8 3.8M263.9 629.6l3.8 3.8m0 -3.8l-3.8 3.8M264.8 623.5l3.8 3.8m0 -3.8l-3.8 3.8M265.7 621.9l3.8 3.8m0 -3.8l-3.8 3.8M266.6 631.8l3.8 3.8m0 -3.8l-3.8 3.8M267.5 627.4l3.8 3.8m0 -3.8l-3.8 3.8M268.4 628.1l3.8 3.8m0 -3.8l-3.8 3.8M269.3 631.0l3.8 3.8m0 -3.8l-3.8 3.8M270.2 622.4l3.8 3.8m0 -3.8l-3.8 3.8M271.1 629.1l3.8 3.8m0 -3.8l-3.8 3.8M272.0 626.2l3.8 3.8m0 -3.8l-3.8 3.8M272.9 630.1l3.8 3.8m0 -3.8l-3.8 3.8M273.8 626.1l3.8 3.8m0 -3.8l-3.8 3.8M274.7 623.0l3.8 3.8m0 -3.8l-3.8 3.8M275.6 632.1l3.8 3.8m0 -3.8l-3.8 3.8M276.5 623.9l3.8 3.8m0 -3.8l-3.8 3.8M277.4 629.5l3.8 3.8m0 -3.8l-3.8 3.8M278.3 630.5l3.8 3.8m0 -3.8l-3.8 3.8M279.2 623.5l3.8 3.8m0 -3.8l-3.8 3.8M280.1 628.8l3.8 3.8m0 -3.8l-3.8 3.8M281.0 625.2l3.8 3.8m0 -3.8l-3.8 3.8M281.9 623.1l3.8 3.8m0 -3.8l-3.8 3.8M282.8 623.0l3.8 3.8m0 -3.8l-3.8 3.8M283.7 631.9l3.8 3.8m0 -3.8l-3.8 3.8M284.6 624.8l3.8 3.8m0 -3.8l-3.8 3.8M285.5 626.5l3.8 3.8m0 -3.8l-3.8 3.8M286.4 626.4l3.8 3.8m0 -3.8l-3.8 3.8M287.3 620.7l3.8 3.8m0 -3.8l-3.8 3.8M288.2 629.4l3.8 3.8m0 -3.8l-3.8 3.8M289.1 629.3l3.8 3.8m0 -3.8l-3.8 3.8M290.0 630.8l3.8 3.8m0 -3.8l-3.8 3.8M290.9 624.6l3.8 3.8m0 -3.8l-3.8 3.8M291.8 622.8l3.8 3.8m0 -3.8l-3.8 3.8M292.7 624.4l3.8 3.8m0 -3.8l-3.8 3.8M293.6 629.0l3.8 3.8m0 -3.8l-3.8 3.8M294.5 628.1l3.8 3.8m0 -3.8l-3.8 3.8M295.4 625.1l3.8 3.8m0 -3.8l-3.8 3.8M296.3 626.4l3.8 3.8m0 -3.8l-3.8 3.8M297.2 621.9l3.8 3.8m0 -3.8l-3.8 3.8M298.1 631.0l3.8 3.8m0 -3.8l-3.8 3.8M299.0 625.5l3.8 3.8m0 -3.8l-3.8 3.8M299.9 625.9l3.8 3.8m0 -3.8l-3.8 3.8M300.8 629.1l3.8 3.8m0 -3.8l-3.8 3.8M301.7 622.0l3.8 3.8m0 -3.8l-3.8 3.8M302.6 628.2l3.8 3.8m0 -3.8l-3.8 3.8M303.5 623.7l3.8 3.8m0 -3.8l-3.8 3.8M304.4 629.1l3.8 3.8m0 -3.8l-3.8 3.8M305.3 620.4l3.8 3.8m0 -3.8l-3.8 3.8M306.2 622.5l3.8 3.8m0 -3.8l-3.8 3.8M307.1 626.7l3.8 3.8m0 -3.8l-3.8 3.8M308.0 624.8l3.8 3.8m0 -3.8l-3.8 3.8M308.9 623.5l3.8 3.8m0 -3.8l-3.8 3.8M309.8 625.8l3.8 3.8m0 -3.8l-3.8 3.8M310.7 621.4l3.8 3.8m0 -3.8l-3.8 3.8M311.6 623.9l3.8 3.8m0 -3.8l-3.8 3.8M312.5 618.6l3.8 3.8m0 -3.8l-3.8 3.8M313.4 628.1l3.8 3.8m0 -3.8l-3.8 3.8M314.3 621.5l3.8 3.8m0 -3.8l-3.8 3.8M315.2 628.3l3.8 3.8m0 -3.8l-3.8 3.8M316.1 624.9l3.8 3.8m0 -3.8l-3.8 3.8M317.0 625.4l3.8 3.8m0 -3.8l-3.8 3.8M317.9 625.6l3.8 3.8m0 -3.8l-3.8 3.8M318.8 619.5l3.8 3.8m0 -3.8l-3.8 3.8M319.7 627.3l3.8 3.8m0 -3.8l-3.8 3.8M320.6 621.4l3.8 3.8m0 -3.8l-3.8 3.8M321.5 628.1l3.8 3.8m0 -3.8l-3.8 3.8M322.4 627.1l3.8 3.8m0 -3.8l-3.8 3.8M323.3 625.8l3.8 3.8m0 -3.8l-3.8 3.8M324.2 627.3l3.8 3.8m0 -3.8l-3.8 3.8M325.1 622.7l3.8 3.8m0 -3.8l-3.8 3.8M326.0 625.4l3.8 3.8m0 -3.8l-3.8 3.8M326.9 628.7l3.8 3.8m0 -3.8l-3.8 3.8M327.8 619.5l3.8 3.8m0 -3.8l-3.8 3.8M328.7 618.3l3.8 3.8m0 -3.8l-3.8 3.8M329.6 622.0l3.8 3.8m0 -3.8l-3.8 3.8M330.5 623.1l3.8 3.8m0 -3.8l-3.8 3.8M331.4 618.7l3.8 3.8m0 -3.8l-3.8 3.8M332.3 619.4l3.8 3.8m0 -3.8l-3.8 3.8M333.2 627.1l3.8 3.8m0 -3.8l-3.8 3.8M334.1 621.3l3.8 3.8m0 -3.8l-3.8 3.8M335.0 618.3l3.8 3.8m0 -3.8l-3.8 3.8M335.9 618.6l3.8 3.8m0 -3.8l-3.8 3.8M336.8 623.3l3.8 3.8m0 -3.8l-3.8 3.8M337.7 618.6l3.8 3.8m0 -3.8l-3.8 3.8M338.6 621.9l3.8 3.8m0 -3.8l-3.8 3.8M339.5 622.6l3.8 3.8m0 -3.8l-3.8 3.8M160.7 594.9l3.8 3.8m0 -3.8l-3.8 3.8M100.1 582.1l3.8 3.8m0 -3.8l-3.8 3.8M159.1 598.1l3.8 3.8m0 -3.8l-3.8 3.8M160.1 602.1l3.8 3.8m0 -3.8l-3.8 3.8M181.6 608.1l3.8 3.8m0 -3.8l-3.8 3.8" fill="none" stroke="#0E72B8" stroke-width="1.3"/><path d="M102.0 618.4L104.8 623.3L99.2 623.3ZM102.9 620.2L105.7 625.1L100.1 625.1ZM103.8 624.0L106.6 628.9L101.0 628.9ZM104.7 619.1L107.5 623.9L101.9 623.9ZM105.6 627.3L108.4 632.1L102.8 632.1ZM106.5 623.0L109.3 627.9L103.7 627.9ZM107.4 623.0L110.2 627.9L104.6 627.9ZM108.3 629.9L111.1 634.7L105.5 634.7ZM109.2 629.6L112.0 634.5L106.4 634.5ZM110.1 630.7L112.9 635.5L107.3 635.5ZM111.0 629.5L113.8 634.4L108.2 634.4ZM111.9 635.1L114.7 639.9L109.1 639.9ZM112.8 632.7L115.6 637.6L110.0 637.6ZM113.7 636.8L116.5 641.6L110.9 641.6ZM114.6 633.7L117.4 638.6L111.8 638.6ZM115.5 637.1L118.3 641.9L112.7 641.9ZM116.4 638.4L119.2 643.2L113.6 643.2ZM117.3 637.0L120.1 641.8L114.5 641.8ZM118.2 638.5L121.0 643.4L115.4 643.4ZM119.1 636.1L121.9 640.9L116.3 640.9ZM120.0 641.2L122.8 646.1L117.2 646.1ZM120.9 642.3L123.7 647.1L118.1 647.1ZM121.8 638.9L124.6 643.8L119.0 643.8ZM122.7 642.7L125.5 647.5L119.9 647.5ZM123.6 644.8L126.4 649.6L120.8 649.6ZM124.5 640.7L127.3 645.5L121.7 645.5ZM125.4 647.0L128.2 651.9L122.6 651.9ZM126.3 647.9L129.1 652.8L123.5 652.8ZM127.2 642.1L130.0 647.0L124.4 647.0ZM128.1 644.1L130.9 648.9L125.3 648.9ZM129.0 643.3L131.8 648.1L126.2 648.1ZM129.9 645.0L132.7 649.9L127.1 649.9ZM130.8 644.2L133.6 649.1L128.0 649.1ZM131.7 647.7L134.5 652.6L128.9 652.6ZM132.6 646.4L135.4 651.2L129.8 651.2ZM133.5 647.2L136.3 652.0L130.7 652.0ZM134.4 648.9L137.2 653.7L131.6 653.7ZM135.3 648.6L138.1 653.5L132.5 653.5ZM136.2 652.2L139.0 657.1L133.4 657.1ZM137.1 652.2L139.9 657.1L134.3 657.1ZM138.0 648.0L140.8 652.9L135.2 652.9ZM138.9 649.3L141.7 654.2L136.1 654.2ZM139.8 647.9L142.6 652.8L137.0 652.8ZM140.7 650.6L143.5 655.5L137.9 655.5ZM141.6 649.1L144.4 654.0L138.8 654.0ZM142.5 653.8L145.3 658.7L139.7 658.7ZM143.4 654.7L146.2 659.6L140.6 659.6ZM144.3 656.6L147.1 661.4L141.5 661.4ZM145.2 650.8L148.0 655.7L142.4 655.7ZM146.1 649.7L148.9 654.6L143.3 654.6ZM147.0 655.4L149.8 660.3L144.2 660.3ZM147.9 653.0L150.7 657.9L145.1 657.9ZM148.8 657.2L151.6 662.1L146.0 662.1ZM149.7 653.3L152.5 658.2L146.9 658.2ZM150.6 652.9L153.4 657.8L147.8 657.8ZM151.5 651.3L154.3 656.2L148.7 656.2ZM152.4 658.2L155.2 663.1L149.6 663.1ZM153.3 655.1L156.1 660.0L150.5 660.0ZM154.2 654.8L157.0 659.7L151.4 659.7ZM155.1 655.0L157.9 659.9L152.3 659.9ZM156.0 657.8L158.8 662.6L153.2 662.6ZM156.9 658.4L159.7 663.3L154.1 663.3ZM157.8 656.0L160.6 660.8L155.0 660.8ZM158.7 653.9L161.5 658.8L155.9 658.8ZM159.6 655.9L162.4 660.8L156.8 660.8ZM160.5 659.8L163.3 664.7L157.7 664.7ZM161.4 656.4L164.2 661.2L158.6 661.2ZM162.3 658.5L165.1 663.4L159.5 663.4ZM163.2 658.0L166.0 662.8L160.4 662.8ZM164.1 657.4L166.9 662.3L161.3 662.3ZM165.0 658.5L167.8 663.4L162.2 663.4ZM165.9 656.2L168.7 661.0L163.1 661.0ZM166.8 658.7L169.6 663.5L164.0 663.5ZM167.7 661.1L170.5 666.0L164.9 666.0ZM168.6 655.3L171.4 660.2L165.8 660.2ZM169.5 657.6L172.3 662.5L166.7 662.5ZM170.4 661.7L173.2 666.5L167.6 666.5ZM171.3 662.5L174.1 667.4L168.5 667.4ZM172.2 655.3L175.0 660.2L169.4 660.2ZM173.1 660.1L175.9 665.0L170.3 665.0ZM174.0 660.3L176.8 665.2L171.2 665.2ZM174.9 662.1L177.7 666.9L172.1 666.9ZM175.8 659.4L178.6 664.2L173.0 664.2ZM176.7 656.9L179.5 661.8L173.9 661.8ZM177.6 658.3L180.4 663.2L174.8 663.2ZM178.5 661.6L181.3 666.5L175.7 666.5ZM179.4 661.9L182.2 666.7L176.6 666.7ZM180.3 658.0L183.1 662.9L177.5 662.9ZM181.2 661.5L184.0 666.3L178.4 666.3ZM182.1 661.7L184.9 666.6L179.3 666.6ZM183.0 661.9L185.8 666.7L180.2 666.7ZM183.9 657.2L186.7 662.0L181.1 662.0ZM184.8 660.5L187.6 665.3L182.0 665.3ZM185.7 659.7L188.5 664.6L182.9 664.6ZM186.6 661.9L189.4 666.8L183.8 666.8ZM187.5 660.1L190.3 665.0L184.7 665.0ZM188.4 658.6L191.2 663.5L185.6 663.5ZM189.3 662.9L192.1 667.8L186.5 667.8ZM190.2 660.1L193.0 665.0L187.4 665.0ZM191.1 664.1L193.9 668.9L188.3 668.9ZM192.0 660.5L194.8 665.4L189.2 665.4ZM192.9 662.5L195.7 667.3L190.1 667.3ZM193.8 664.6L196.6 669.5L191.0 669.5ZM194.7 659.5L197.5 664.3L191.9 664.3ZM195.6 664.3L198.4 669.2L192.8 669.2ZM196.5 659.4L199.3 664.3L193.7 664.3ZM197.4 666.1L200.2 671.0L194.6 671.0ZM198.3 659.3L201.1 664.2L195.5 664.2ZM199.2 664.8L202.0 669.6L196.4 669.6ZM200.1 662.2L202.9 667.1L197.3 667.1ZM201.0 660.9L203.8 665.8L198.2 665.8ZM201.9 662.7L204.7 667.5L199.1 667.5ZM202.8 663.6L205.6 668.5L200.0 668.5ZM203.7 663.1L206.5 668.0L200.9 668.0ZM204.6 661.0L207.4 665.9L201.8 665.9ZM205.5 664.2L208.3 669.1L202.7 669.1ZM206.4 662.6L209.2 667.5L203.6 667.5ZM207.3 667.8L210.1 672.7L204.5 672.7ZM208.2 663.5L211.0 668.4L205.4 668.4ZM209.1 664.1L211.9 668.9L206.3 668.9ZM210.0 662.6L212.8 667.5L207.2 667.5ZM210.9 668.4L213.7 673.3L208.1 673.3ZM211.8 663.6L214.6 668.5L209.0 668.5ZM212.7 666.2L215.5 671.1L209.9 671.1ZM213.6 667.8L216.4 672.6L210.8 672.6ZM214.5 664.6L217.3 669.4L211.7 669.4ZM215.4 667.4L218.2 672.3L212.6 672.3ZM216.3 664.0L219.1 668.8L213.5 668.8ZM217.2 662.8L220.0 667.7L214.4 667.7ZM218.1 662.4L220.9 667.2L215.3 667.2ZM219.0 665.5L221.8 670.4L216.2 670.4ZM219.9 668.8L222.7 673.7L217.1 673.7ZM220.8 663.8L223.6 668.7L218.0 668.7ZM221.7 665.7L224.5 670.6L218.9 670.6ZM222.6 668.2L225.4 673.1L219.8 673.1ZM223.5 664.6L226.3 669.4L220.7 669.4ZM224.4 663.7L227.2 668.6L221.6 668.6ZM225.3 666.6L228.1 671.4L222.5 671.4ZM226.2 665.9L229.0 670.8L223.4 670.8ZM227.1 669.9L229.9 674.8L224.3 674.8ZM228.0 669.7L230.8 674.5L225.2 674.5ZM228.9 664.7L231.7 669.6L226.1 669.6ZM229.8 667.3L232.6 672.1L227.0 672.1ZM230.7 666.2L233.5 671.1L227.9 671.1ZM231.6 663.4L234.4 668.2L228.8 668.2ZM232.5 666.6L235.3 671.4L229.7 671.4ZM233.4 670.2L236.2 675.1L230.6 675.1ZM234.3 665.6L237.1 670.5L231.5 670.5ZM235.2 667.9L238.0 672.7L232.4 672.7ZM236.1 668.9L238.9 673.8L233.3 673.8ZM237.0 664.0L239.8 668.9L234.2 668.9ZM237.9 670.7L240.7 675.5L235.1 675.5ZM238.8 664.5L241.6 669.4L236.0 669.4ZM239.7 666.1L242.5 670.9L236.9 670.9ZM240.6 669.3L243.4 674.2L237.8 674.2ZM241.5 664.1L244.3 668.9L238.7 668.9ZM242.4 666.8L245.2 671.7L239.6 671.7ZM243.3 665.0L246.1 669.9L240.5 669.9ZM244.2 667.7L247.0 672.6L241.4 672.6ZM245.1 664.3L247.9 669.2L242.3 669.2ZM246.0 665.4L248.8 670.3L243.2 670.3ZM246.9 666.0L249.7 670.9L244.1 670.9ZM247.8 665.0L250.6 669.9L245.0 669.9ZM248.7 665.2L251.5 670.0L245.9 670.0ZM249.6 666.0L252.4 670.9L246.8 670.9ZM250.5 668.5L253.3 673.4L247.7 673.4ZM251.4 665.6L254.2 670.5L248.6 670.5ZM252.3 670.8L255.1 675.6L249.5 675.6ZM253.2 667.7L256.0 672.5L250.4 672.5ZM254.1 666.4L256.9 671.2L251.3 671.2ZM255.0 666.3L257.8 671.1L252.2 671.1ZM255.9 670.8L258.7 675.6L253.1 675.6ZM256.8 664.7L259.6 669.6L254.0 669.6ZM257.7 670.0L260.5 674.8L254.9 674.8ZM258.6 665.0L261.4 669.9L255.8 669.9ZM259.5 671.4L262.3 676.3L256.7 676.3ZM260.4 667.3L263.2 672.2L257.6 672.2ZM261.3 668.7L264.1 673.6L258.5 673.6ZM262.2 670.7L265.0 675.6L259.4 675.6ZM263.1 664.9L265.9 669.8L260.3 669.8ZM264.0 664.6L266.8 669.5L261.2 669.5ZM264.9 669.3L267.7 674.2L262.1 674.2ZM265.8 668.5L268.6 673.4L263.0 673.4ZM266.7 669.5L269.5 674.4L263.9 674.4ZM267.6 666.1L270.4 671.0L264.8 671.0ZM268.5 667.7L271.3 672.6L265.7 672.6ZM269.4 665.3L272.2 670.2L266.6 670.2ZM270.3 667.2L273.1 672.1L267.5 672.1ZM271.2 666.0L274.0 670.9L268.4 670.9ZM272.1 668.3L274.9 673.1L269.3 673.1ZM273.0 666.1L275.8 670.9L270.2 670.9ZM273.9 665.8L276.7 670.7L271.1 670.7ZM274.8 668.6L277.6 673.5L272.0 673.5ZM275.7 664.3L278.5 669.2L272.9 669.2ZM276.6 669.8L279.4 674.6L273.8 674.6ZM277.5 667.4L280.3 672.3L274.7 672.3ZM278.4 665.3L281.2 670.2L275.6 670.2ZM279.3 664.4L282.1 669.3L276.5 669.3ZM280.2 667.4L283.0 672.3L277.4 672.3ZM281.1 667.3L283.9 672.2L278.3 672.2ZM282.0 668.9L284.8 673.8L279.2 673.8ZM282.9 666.3L285.7 671.1L280.1 671.1ZM283.8 666.5L286.6 671.4L281.0 671.4ZM284.7 670.2L287.5 675.0L281.9 675.0ZM285.6 665.4L288.4 670.3L282.8 670.3ZM286.5 670.8L289.3 675.7L283.7 675.7ZM287.4 670.1L290.2 675.0L284.6 675.0ZM288.3 670.8L291.1 675.7L285.5 675.7ZM289.2 670.5L292.0 675.3L286.4 675.3ZM290.1 665.2L292.9 670.1L287.3 670.1ZM291.0 669.4L293.8 674.3L288.2 674.3ZM291.9 667.9L294.7 672.7L289.1 672.7ZM292.8 664.8L295.6 669.6L290.0 669.6ZM293.7 670.8L296.5 675.6L290.9 675.6ZM294.6 668.1L297.4 673.0L291.8 673.0ZM295.5 669.3L298.3 674.2L292.7 674.2ZM296.4 667.4L299.2 672.2L293.6 672.2ZM297.3 663.7L300.1 668.6L294.5 668.6ZM298.2 669.7L301.0 674.5L295.4 674.5ZM299.1 664.4L301.9 669.3L296.3 669.3ZM300.0 665.0L302.8 669.9L297.2 669.9ZM300.9 667.7L303.7 672.6L298.1 672.6ZM301.8 664.5L304.6 669.3L299.0 669.3ZM302.7 666.5L305.5 671.4L299.9 671.4ZM303.6 668.4L306.4 673.3L300.8 673.3ZM304.5 663.7L307.3 668.5L301.7 668.5ZM305.4 668.0L308.2 672.8L302.6 672.8ZM306.3 663.7L309.1 668.6L303.5 668.6ZM307.2 666.5L310.0 671.4L304.4 671.4ZM308.1 667.8L310.9 672.7L305.3 672.7ZM309.0 668.1L311.8 672.9L306.2 672.9ZM309.9 663.2L312.7 668.0L307.1 668.0ZM310.8 664.3L313.6 669.1L308.0 669.1ZM311.7 670.1L314.5 675.0L308.9 675.0ZM312.6 665.8L315.4 670.6L309.8 670.6ZM313.5 666.0L316.3 670.9L310.7 670.9ZM314.4 665.6L317.2 670.5L311.6 670.5ZM315.3 668.0L318.1 672.9L312.5 672.9ZM316.2 668.3L319.0 673.2L313.4 673.2ZM317.1 667.6L319.9 672.5L314.3 672.5ZM318.0 665.7L320.8 670.6L315.2 670.6ZM318.9 667.0L321.7 671.8L316.1 671.8ZM319.8 666.5L322.6 671.4L317.0 671.4ZM320.7 664.0L323.5 668.9L317.9 668.9ZM321.6 669.8L324.4 674.7L318.8 674.7ZM322.5 669.9L325.3 674.8L319.7 674.8ZM323.4 668.5L326.2 673.3L320.6 673.3ZM324.3 670.1L327.1 674.9L321.5 674.9ZM325.2 666.0L328.0 670.9L322.4 670.9ZM326.1 668.9L328.9 673.7L323.3 673.7ZM327.0 664.3L329.8 669.2L324.2 669.2ZM327.9 668.1L330.7 673.0L325.1 673.0ZM328.8 667.9L331.6 672.7L326.0 672.7ZM329.7 669.5L332.5 674.4L326.9 674.4ZM330.6 668.7L333.4 673.6L327.8 673.6ZM331.5 669.1L334.3 673.9L328.7 673.9ZM332.4 664.4L335.2 669.2L329.6 669.2ZM333.3 668.3L336.1 673.2L330.5 673.2ZM334.2 665.9L337.0 670.8L331.4 670.8ZM335.1 664.7L337.9 669.5L332.3 669.5ZM336.0 665.1L338.8 669.9L333.2 669.9ZM336.9 668.3L339.7 673.2L334.1 673.2ZM337.8 668.6L340.6 673.5L335.0 673.5ZM338.7 668.6L341.5 673.5L335.9 673.5ZM339.6 667.3L342.4 672.1L336.8 672.1ZM340.5 663.5L343.3 668.3L337.7 668.3ZM341.4 663.3L344.2 668.2L338.6 668.2ZM342.3 666.5L345.1 671.3L339.5 671.3ZM343.2 663.7L346.0 668.6L340.4 668.6ZM344.1 664.7L346.9 669.5L341.3 669.5ZM182.2 688.8L185.0 693.7L179.4 693.7ZM182.2 647.0L185.0 651.9L179.4 651.9ZM162.6 647.6L165.4 652.5L159.8 652.5ZM223.9 658.5L226.7 663.4L221.1 663.4ZM263.3 692.0L266.1 696.9L260.5 696.9ZM344.2 692.0L347.0 696.9L341.4 696.9ZM331.1 679.4L333.9 684.3L328.3 684.3ZM269.8 675.0L272.6 679.9L267.0 679.9ZM102.0 577.3L104.8 582.2L99.2 582.2Z" fill="#EA7118"/><path d="M99.8 616.5a2.2 2.2 0 1 0 4.4 0a2.2 2.2 0 1 0 -4.4 0M100.7 616.8a2.2 2.2 0 1 0 4.4 0a2.2 2.2 0 1 0 -4.4 0M101.6 620.4a2.2 2.2 0 1 0 4.4 0a2.2 2.2 0 1 0 -4.4 0M102.5 617.2a2.2 2.2 0 1 0 4.4 0a2.2 2.2 0 1 0 -4.4 0M103.4 621.2a2.2 2.2 0 1 0 4.4 0a2.2 2.2 0 1 0 -4.4 0M104.3 617.9a2.2 2.2 0 1 0 4.4 0a2.2 2.2 0 1 0 -4.4 0M105.2 621.2a2.2 2.2 0 1 0 4.4 0a2.2 2.2 0 1 0 -4.4 0M106.1 617.7a2.2 2.2 0 1 0 4.4 0a2.2 2.2 0 1 0 -4.4 0M107.0 617.5a2.2 2.2 0 1 0 4.4 0a2.2 2.2 0 1 0 -4.4 0M107.9 618.3a2.2 2.2 0 1 0 4.4 0a2.2 2.2 0 1 0 -4.4 0M108.8 615.9a2.2 2.2 0 1 0 4.4 0a2.2 2.2 0 1 0 -4.4 0M109.7 618.6a2.2 2.2 0 1 0 4.4 0a2.2 2.2 0 1 0 -4.4 0M110.6 618.2a2.2 2.2 0 1 0 4.4 0a2.2 2.2 0 1 0 -4.4 0M111.5 615.9a2.2 2.2 0 1 0 4.4 0a2.2 2.2 0 1 0 -4.4 0M112.4 621.3a2.2 2.2 0 1 0 4.4 0a2.2 2.2 0 1 0 -4.4 0M113.3 618.2a2.2 2.2 0 1 0 4.4 0a2.2 2.2 0 1 0 -4.4 0M114.2 615.8a2.2 2.2 0 1 0 4.4 0a2.2 2.2 0 1 0 -4.4 0M115.1 621.9a2.2 2.2 0 1 0 4.4 0a2.2 2.2 0 1 0 -4.4 0M116.0 617.3a2.2 2.2 0 1 0 4.4 0a2.2 2.2 0 1 0 -4.4 0M116.9 617.4a2.2 2.2 0 1 0 4.4 0a2.2 2.2 0 1 0 -4.4 0M117.8 616.0a2.2 2.2 0 1 0 4.4 0a2.2 2.2 0 1 0 -4.4 0M118.7 616.4a2.2 2.2 0 1 0 4.4 0a2.2 2.2 0 1 0 -4.4 0M119.6 620.3a2.2 2.2 0 1 0 4.4 0a2.2 2.2 0 1 0 -4.4 0M120.5 619.5a2.2 2.2 0 1 0 4.4 0a2.2 2.2 0 1 0 -4.4 0M121.4 619.0a2.2 2.2 0 1 0 4.4 0a2.2 2.2 0 1 0 -4.4 0M122.3 617.4a2.2 2.2 0 1 0 4.4 0a2.2 2.2 0 1 0 -4.4 0M123.2 617.6a2.2 2.2 0 1 0 4.4 0a2.2 2.2 0 1 0 -4.4 0M124.1 622.0a2.2 2.2 0 1 0 4.4 0a2.2 2.2 0 1 0 -4.4 0M125.0 618.2a2.2 2.2 0 1 0 4.4 0a2.2 2.2 0 1 0 -4.4 0M125.9 622.2a2.2 2.2 0 1 0 4.4 0a2.2 2.2 0 1 0 -4.4 0M126.8 621.6a2.2 2.2 0 1 0 4.4 0a2.2 2.2 0 1 0 -4.4 0M127.7 616.8a2.2 2.2 0 1 0 4.4 0a2.2 2.2 0 1 0 -4.4 0M128.6 621.5a2.2 2.2 0 1 0 4.4 0a2.2 2.2 0 1 0 -4.4 0M129.5 616.2a2.2 2.2 0 1 0 4.4 0a2.2 2.2 0 1 0 -4.4 0M130.4 620.7a2.2 2.2 0 1 0 4.4 0a2.2 2.2 0 1 0 -4.4 0M131.3 621.4a2.2 2.2 0 1 0 4.4 0a2.2 2.2 0 1 0 -4.4 0M132.2 620.7a2.2 2.2 0 1 0 4.4 0a2.2 2.2 0 1 0 -4.4 0M133.1 619.8a2.2 2.2 0 1 0 4.4 0a2.2 2.2 0 1 0 -4.4 0M134.0 621.5a2.2 2.2 0 1 0 4.4 0a2.2 2.2 0 1 0 -4.4 0M134.9 617.3a2.2 2.2 0 1 0 4.4 0a2.2 2.2 0 1 0 -4.4 0M135.8 619.9a2.2 2.2 0 1 0 4.4 0a2.2 2.2 0 1 0 -4.4 0M136.7 618.1a2.2 2.2 0 1 0 4.4 0a2.2 2.2 0 1 0 -4.4 0M137.6 619.0a2.2 2.2 0 1 0 4.4 0a2.2 2.2 0 1 0 -4.4 0M138.5 617.8a2.2 2.2 0 1 0 4.4 0a2.2 2.2 0 1 0 -4.4 0M139.4 621.1a2.2 2.2 0 1 0 4.4 0a2.2 2.2 0 1 0 -4.4 0M140.3 620.3a2.2 2.2 0 1 0 4.4 0a2.2 2.2 0 1 0 -4.4 0M141.2 621.7a2.2 2.2 0 1 0 4.4 0a2.2 2.2 0 1 0 -4.4 0M142.1 620.7a2.2 2.2 0 1 0 4.4 0a2.2 2.2 0 1 0 -4.4 0M143.0 620.6a2.2 2.2 0 1 0 4.4 0a2.2 2.2 0 1 0 -4.4 0M143.9 622.7a2.2 2.2 0 1 0 4.4 0a2.2 2.2 0 1 0 -4.4 0M144.8 622.0a2.2 2.2 0 1 0 4.4 0a2.2 2.2 0 1 0 -4.4 0M145.7 620.5a2.2 2.2 0 1 0 4.4 0a2.2 2.2 0 1 0 -4.4 0M146.6 619.0a2.2 2.2 0 1 0 4.4 0a2.2 2.2 0 1 0 -4.4 0M147.5 622.9a2.2 2.2 0 1 0 4.4 0a2.2 2.2 0 1 0 -4.4 0M148.4 619.4a2.2 2.2 0 1 0 4.4 0a2.2 2.2 0 1 0 -4.4 0M149.3 617.7a2.2 2.2 0 1 0 4.4 0a2.2 2.2 0 1 0 -4.4 0M150.2 619.2a2.2 2.2 0 1 0 4.4 0a2.2 2.2 0 1 0 -4.4 0M151.1 621.6a2.2 2.2 0 1 0 4.4 0a2.2 2.2 0 1 0 -4.4 0M152.0 623.1a2.2 2.2 0 1 0 4.4 0a2.2 2.2 0 1 0 -4.4 0M152.9 621.2a2.2 2.2 0 1 0 4.4 0a2.2 2.2 0 1 0 -4.4 0M153.8 621.3a2.2 2.2 0 1 0 4.4 0a2.2 2.2 0 1 0 -4.4 0M154.7 623.1a2.2 2.2 0 1 0 4.4 0a2.2 2.2 0 1 0 -4.4 0M155.6 622.1a2.2 2.2 0 1 0 4.4 0a2.2 2.2 0 1 0 -4.4 0M156.5 620.0a2.2 2.2 0 1 0 4.4 0a2.2 2.2 0 1 0 -4.4 0M157.4 620.1a2.2 2.2 0 1 0 4.4 0a2.2 2.2 0 1 0 -4.4 0M158.3 622.0a2.2 2.2 0 1 0 4.4 0a2.2 2.2 0 1 0 -4.4 0M159.2 619.1a2.2 2.2 0 1 0 4.4 0a2.2 2.2 0 1 0 -4.4 0M160.1 617.8a2.2 2.2 0 1 0 4.4 0a2.2 2.2 0 1 0 -4.4 0M161.0 621.1a2.2 2.2 0 1 0 4.4 0a2.2 2.2 0 1 0 -4.4 0M161.9 622.3a2.2 2.2 0 1 0 4.4 0a2.2 2.2 0 1 0 -4.4 0M162.8 618.7a2.2 2.2 0 1 0 4.4 0a2.2 2.2 0 1 0 -4.4 0M163.7 621.5a2.2 2.2 0 1 0 4.4 0a2.2 2.2 0 1 0 -4.4 0M164.6 622.8a2.2 2.2 0 1 0 4.4 0a2.2 2.2 0 1 0 -4.4 0M165.5 617.9a2.2 2.2 0 1 0 4.4 0a2.2 2.2 0 1 0 -4.4 0M166.4 618.0a2.2 2.2 0 1 0 4.4 0a2.2 2.2 0 1 0 -4.4 0M167.3 620.3a2.2 2.2 0 1 0 4.4 0a2.2 2.2 0 1 0 -4.4 0M168.2 619.2a2.2 2.2 0 1 0 4.4 0a2.2 2.2 0 1 0 -4.4 0M169.1 623.2a2.2 2.2 0 1 0 4.4 0a2.2 2.2 0 1 0 -4.4 0M170.0 623.5a2.2 2.2 0 1 0 4.4 0a2.2 2.2 0 1 0 -4.4 0M170.9 620.0a2.2 2.2 0 1 0 4.4 0a2.2 2.2 0 1 0 -4.4 0M171.8 622.2a2.2 2.2 0 1 0 4.4 0a2.2 2.2 0 1 0 -4.4 0M172.7 621.1a2.2 2.2 0 1 0 4.4 0a2.2 2.2 0 1 0 -4.4 0M173.6 618.2a2.2 2.2 0 1 0 4.4 0a2.2 2.2 0 1 0 -4.4 0M174.5 623.3a2.2 2.2 0 1 0 4.4 0a2.2 2.2 0 1 0 -4.4 0M175.4 618.2a2.2 2.2 0 1 0 4.4 0a2.2 2.2 0 1 0 -4.4 0M176.3 617.6a2.2 2.2 0 1 0 4.4 0a2.2 2.2 0 1 0 -4.4 0M177.2 620.0a2.2 2.2 0 1 0 4.4 0a2.2 2.2 0 1 0 -4.4 0M178.1 617.2a2.2 2.2 0 1 0 4.4 0a2.2 2.2 0 1 0 -4.4 0M179.0 620.2a2.2 2.2 0 1 0 4.4 0a2.2 2.2 0 1 0 -4.4 0M179.9 619.7a2.2 2.2 0 1 0 4.4 0a2.2 2.2 0 1 0 -4.4 0M180.8 623.2a2.2 2.2 0 1 0 4.4 0a2.2 2.2 0 1 0 -4.4 0M181.7 619.7a2.2 2.2 0 1 0 4.4 0a2.2 2.2 0 1 0 -4.4 0M182.6 622.5a2.2 2.2 0 1 0 4.4 0a2.2 2.2 0 1 0 -4.4 0M183.5 622.1a2.2 2.2 0 1 0 4.4 0a2.2 2.2 0 1 0 -4.4 0M184.4 620.9a2.2 2.2 0 1 0 4.4 0a2.2 2.2 0 1 0 -4.4 0M185.3 618.6a2.2 2.2 0 1 0 4.4 0a2.2 2.2 0 1 0 -4.4 0M186.2 619.1a2.2 2.2 0 1 0 4.4 0a2.2 2.2 0 1 0 -4.4 0M187.1 620.2a2.2 2.2 0 1 0 4.4 0a2.2 2.2 0 1 0 -4.4 0M188.0 619.6a2.2 2.2 0 1 0 4.4 0a2.2 2.2 0 1 0 -4.4 0M188.9 621.2a2.2 2.2 0 1 0 4.4 0a2.2 2.2 0 1 0 -4.4 0M189.8 620.3a2.2 2.2 0 1 0 4.4 0a2.2 2.2 0 1 0 -4.4 0M190.7 619.2a2.2 2.2 0 1 0 4.4 0a2.2 2.2 0 1 0 -4.4 0M191.6 621.0a2.2 2.2 0 1 0 4.4 0a2.2 2.2 0 1 0 -4.4 0M192.5 623.5a2.2 2.2 0 1 0 4.4 0a2.2 2.2 0 1 0 -4.4 0M193.4 618.4a2.2 2.2 0 1 0 4.4 0a2.2 2.2 0 1 0 -4.4 0M194.3 619.2a2.2 2.2 0 1 0 4.4 0a2.2 2.2 0 1 0 -4.4 0M195.2 617.2a2.2 2.2 0 1 0 4.4 0a2.2 2.2 0 1 0 -4.4 0M196.1 617.7a2.2 2.2 0 1 0 4.4 0a2.2 2.2 0 1 0 -4.4 0M197.0 617.5a2.2 2.2 0 1 0 4.4 0a2.2 2.2 0 1 0 -4.4 0M197.9 619.8a2.2 2.2 0 1 0 4.4 0a2.2 2.2 0 1 0 -4.4 0M198.8 622.5a2.2 2.2 0 1 0 4.4 0a2.2 2.2 0 1 0 -4.4 0M199.7 621.6a2.2 2.2 0 1 0 4.4 0a2.2 2.2 0 1 0 -4.4 0M200.6 623.3a2.2 2.2 0 1 0 4.4 0a2.2 2.2 0 1 0 -4.4 0M201.5 622.5a2.2 2.2 0 1 0 4.4 0a2.2 2.2 0 1 0 -4.4 0M202.4 620.8a2.2 2.2 0 1 0 4.4 0a2.2 2.2 0 1 0 -4.4 0M203.3 620.8a2.2 2.2 0 1 0 4.4 0a2.2 2.2 0 1 0 -4.4 0M204.2 617.2a2.2 2.2 0 1 0 4.4 0a2.2 2.2 0 1 0 -4.4 0M205.1 619.6a2.2 2.2 0 1 0 4.4 0a2.2 2.2 0 1 0 -4.4 0M206.0 618.8a2.2 2.2 0 1 0 4.4 0a2.2 2.2 0 1 0 -4.4 0M206.9 621.1a2.2 2.2 0 1 0 4.4 0a2.2 2.2 0 1 0 -4.4 0M207.8 617.5a2.2 2.2 0 1 0 4.4 0a2.2 2.2 0 1 0 -4.4 0M208.7 620.6a2.2 2.2 0 1 0 4.4 0a2.2 2.2 0 1 0 -4.4 0M209.6 619.5a2.2 2.2 0 1 0 4.4 0a2.2 2.2 0 1 0 -4.4 0M210.5 620.2a2.2 2.2 0 1 0 4.4 0a2.2 2.2 0 1 0 -4.4 0M211.4 619.7a2.2 2.2 0 1 0 4.4 0a2.2 2.2 0 1 0 -4.4 0M212.3 617.8a2.2 2.2 0 1 0 4.4 0a2.2 2.2 0 1 0 -4.4 0M213.2 621.8a2.2 2.2 0 1 0 4.4 0a2.2 2.2 0 1 0 -4.4 0M214.1 622.2a2.2 2.2 0 1 0 4.4 0a2.2 2.2 0 1 0 -4.4 0M215.0 620.9a2.2 2.2 0 1 0 4.4 0a2.2 2.2 0 1 0 -4.4 0M215.9 617.8a2.2 2.2 0 1 0 4.4 0a2.2 2.2 0 1 0 -4.4 0M216.8 620.9a2.2 2.2 0 1 0 4.4 0a2.2 2.2 0 1 0 -4.4 0M217.7 622.7a2.2 2.2 0 1 0 4.4 0a2.2 2.2 0 1 0 -4.4 0M218.6 623.4a2.2 2.2 0 1 0 4.4 0a2.2 2.2 0 1 0 -4.4 0M219.5 622.0a2.2 2.2 0 1 0 4.4 0a2.2 2.2 0 1 0 -4.4 0M220.4 617.4a2.2 2.2 0 1 0 4.4 0a2.2 2.2 0 1 0 -4.4 0M221.3 622.7a2.2 2.2 0 1 0 4.4 0a2.2 2.2 0 1 0 -4.4 0M222.2 621.4a2.2 2.2 0 1 0 4.4 0a2.2 2.2 0 1 0 -4.4 0M223.1 618.9a2.2 2.2 0 1 0 4.4 0a2.2 2.2 0 1 0 -4.4 0M224.0 623.0a2.2 2.2 0 1 0 4.4 0a2.2 2.2 0 1 0 -4.4 0M224.9 622.4a2.2 2.2 0 1 0 4.4 0a2.2 2.2 0 1 0 -4.4 0M225.8 622.8a2.2 2.2 0 1 0 4.4 0a2.2 2.2 0 1 0 -4.4 0M226.7 618.7a2.2 2.2 0 1 0 4.4 0a2.2 2.2 0 1 0 -4.4 0M227.6 620.8a2.2 2.2 0 1 0 4.4 0a2.2 2.2 0 1 0 -4.4 0M228.5 619.5a2.2 2.2 0 1 0 4.4 0a2.2 2.2 0 1 0 -4.4 0M229.4 619.0a2.2 2.2 0 1 0 4.4 0a2.2 2.2 0 1 0 -4.4 0M230.3 622.0a2.2 2.2 0 1 0 4.4 0a2.2 2.2 0 1 0 -4.4 0M231.2 621.0a2.2 2.2 0 1 0 4.4 0a2.2 2.2 0 1 0 -4.4 0M232.1 619.2a2.2 2.2 0 1 0 4.4 0a2.2 2.2 0 1 0 -4.4 0M233.0 620.6a2.2 2.2 0 1 0 4.4 0a2.2 2.2 0 1 0 -4.4 0M233.9 623.0a2.2 2.2 0 1 0 4.4 0a2.2 2.2 0 1 0 -4.4 0M234.8 620.7a2.2 2.2 0 1 0 4.4 0a2.2 2.2 0 1 0 -4.4 0M235.7 622.9a2.2 2.2 0 1 0 4.4 0a2.2 2.2 0 1 0 -4.4 0M236.6 620.7a2.2 2.2 0 1 0 4.4 0a2.2 2.2 0 1 0 -4.4 0M237.5 623.5a2.2 2.2 0 1 0 4.4 0a2.2 2.2 0 1 0 -4.4 0M238.4 617.3a2.2 2.2 0 1 0 4.4 0a2.2 2.2 0 1 0 -4.4 0M239.3 620.0a2.2 2.2 0 1 0 4.4 0a2.2 2.2 0 1 0 -4.4 0M240.2 620.6a2.2 2.2 0 1 0 4.4 0a2.2 2.2 0 1 0 -4.4 0M241.1 621.8a2.2 2.2 0 1 0 4.4 0a2.2 2.2 0 1 0 -4.4 0M242.0 623.3a2.2 2.2 0 1 0 4.4 0a2.2 2.2 0 1 0 -4.4 0M242.9 621.1a2.2 2.2 0 1 0 4.4 0a2.2 2.2 0 1 0 -4.4 0M243.8 620.2a2.2 2.2 0 1 0 4.4 0a2.2 2.2 0 1 0 -4.4 0M244.7 621.2a2.2 2.2 0 1 0 4.4 0a2.2 2.2 0 1 0 -4.4 0M245.6 620.5a2.2 2.2 0 1 0 4.4 0a2.2 2.2 0 1 0 -4.4 0M246.5 621.6a2.2 2.2 0 1 0 4.4 0a2.2 2.2 0 1 0 -4.4 0M247.4 623.2a2.2 2.2 0 1 0 4.4 0a2.2 2.2 0 1 0 -4.4 0M248.3 617.2a2.2 2.2 0 1 0 4.4 0a2.2 2.2 0 1 0 -4.4 0M249.2 619.1a2.2 2.2 0 1 0 4.4 0a2.2 2.2 0 1 0 -4.4 0M250.1 622.6a2.2 2.2 0 1 0 4.4 0a2.2 2.2 0 1 0 -4.4 0M251.0 617.3a2.2 2.2 0 1 0 4.4 0a2.2 2.2 0 1 0 -4.4 0M251.9 621.9a2.2 2.2 0 1 0 4.4 0a2.2 2.2 0 1 0 -4.4 0M252.8 617.0a2.2 2.2 0 1 0 4.4 0a2.2 2.2 0 1 0 -4.4 0M253.7 620.9a2.2 2.2 0 1 0 4.4 0a2.2 2.2 0 1 0 -4.4 0M254.6 621.8a2.2 2.2 0 1 0 4.4 0a2.2 2.2 0 1 0 -4.4 0M255.5 618.1a2.2 2.2 0 1 0 4.4 0a2.2 2.2 0 1 0 -4.4 0M256.4 619.0a2.2 2.2 0 1 0 4.4 0a2.2 2.2 0 1 0 -4.4 0M257.3 618.0a2.2 2.2 0 1 0 4.4 0a2.2 2.2 0 1 0 -4.4 0M258.2 621.0a2.2 2.2 0 1 0 4.4 0a2.2 2.2 0 1 0 -4.4 0M259.1 619.8a2.2 2.2 0 1 0 4.4 0a2.2 2.2 0 1 0 -4.4 0M260.0 620.2a2.2 2.2 0 1 0 4.4 0a2.2 2.2 0 1 0 -4.4 0M260.9 618.4a2.2 2.2 0 1 0 4.4 0a2.2 2.2 0 1 0 -4.4 0M261.8 620.0a2.2 2.2 0 1 0 4.4 0a2.2 2.2 0 1 0 -4.4 0M262.7 622.3a2.2 2.2 0 1 0 4.4 0a2.2 2.2 0 1 0 -4.4 0M263.6 621.1a2.2 2.2 0 1 0 4.4 0a2.2 2.2 0 1 0 -4.4 0M264.5 622.2a2.2 2.2 0 1 0 4.4 0a2.2 2.2 0 1 0 -4.4 0M265.4 617.6a2.2 2.2 0 1 0 4.4 0a2.2 2.2 0 1 0 -4.4 0M266.3 619.3a2.2 2.2 0 1 0 4.4 0a2.2 2.2 0 1 0 -4.4 0M267.2 618.4a2.2 2.2 0 1 0 4.4 0a2.2 2.2 0 1 0 -4.4 0M268.1 618.1a2.2 2.2 0 1 0 4.4 0a2.2 2.2 0 1 0 -4.4 0M269.0 620.9a2.2 2.2 0 1 0 4.4 0a2.2 2.2 0 1 0 -4.4 0M269.9 616.8a2.2 2.2 0 1 0 4.4 0a2.2 2.2 0 1 0 -4.4 0M270.8 619.1a2.2 2.2 0 1 0 4.4 0a2.2 2.2 0 1 0 -4.4 0M271.7 620.3a2.2 2.2 0 1 0 4.4 0a2.2 2.2 0 1 0 -4.4 0M272.6 621.2a2.2 2.2 0 1 0 4.4 0a2.2 2.2 0 1 0 -4.4 0M273.5 615.2a2.2 2.2 0 1 0 4.4 0a2.2 2.2 0 1 0 -4.4 0M274.4 616.7a2.2 2.2 0 1 0 4.4 0a2.2 2.2 0 1 0 -4.4 0M275.3 618.0a2.2 2.2 0 1 0 4.4 0a2.2 2.2 0 1 0 -4.4 0M276.2 620.7a2.2 2.2 0 1 0 4.4 0a2.2 2.2 0 1 0 -4.4 0M277.1 615.6a2.2 2.2 0 1 0 4.4 0a2.2 2.2 0 1 0 -4.4 0M278.0 619.8a2.2 2.2 0 1 0 4.4 0a2.2 2.2 0 1 0 -4.4 0M278.9 616.8a2.2 2.2 0 1 0 4.4 0a2.2 2.2 0 1 0 -4.4 0M279.8 617.7a2.2 2.2 0 1 0 4.4 0a2.2 2.2 0 1 0 -4.4 0M280.7 620.0a2.2 2.2 0 1 0 4.4 0a2.2 2.2 0 1 0 -4.4 0M281.6 614.3a2.2 2.2 0 1 0 4.4 0a2.2 2.2 0 1 0 -4.4 0M282.5 615.9a2.2 2.2 0 1 0 4.4 0a2.2 2.2 0 1 0 -4.4 0M283.4 614.6a2.2 2.2 0 1 0 4.4 0a2.2 2.2 0 1 0 -4.4 0M284.3 614.3a2.2 2.2 0 1 0 4.4 0a2.2 2.2 0 1 0 -4.4 0M285.2 615.3a2.2 2.2 0 1 0 4.4 0a2.2 2.2 0 1 0 -4.4 0M286.1 617.7a2.2 2.2 0 1 0 4.4 0a2.2 2.2 0 1 0 -4.4 0M287.0 616.8a2.2 2.2 0 1 0 4.4 0a2.2 2.2 0 1 0 -4.4 0M287.9 613.7a2.2 2.2 0 1 0 4.4 0a2.2 2.2 0 1 0 -4.4 0M288.8 617.9a2.2 2.2 0 1 0 4.4 0a2.2 2.2 0 1 0 -4.4 0M289.7 615.9a2.2 2.2 0 1 0 4.4 0a2.2 2.2 0 1 0 -4.4 0M290.6 613.4a2.2 2.2 0 1 0 4.4 0a2.2 2.2 0 1 0 -4.4 0M291.5 617.6a2.2 2.2 0 1 0 4.4 0a2.2 2.2 0 1 0 -4.4 0M292.4 617.5a2.2 2.2 0 1 0 4.4 0a2.2 2.2 0 1 0 -4.4 0M293.3 613.5a2.2 2.2 0 1 0 4.4 0a2.2 2.2 0 1 0 -4.4 0M294.2 618.0a2.2 2.2 0 1 0 4.4 0a2.2 2.2 0 1 0 -4.4 0M295.1 617.2a2.2 2.2 0 1 0 4.4 0a2.2 2.2 0 1 0 -4.4 0M296.0 613.7a2.2 2.2 0 1 0 4.4 0a2.2 2.2 0 1 0 -4.4 0M296.9 612.4a2.2 2.2 0 1 0 4.4 0a2.2 2.2 0 1 0 -4.4 0M297.8 618.2a2.2 2.2 0 1 0 4.4 0a2.2 2.2 0 1 0 -4.4 0M298.7 618.1a2.2 2.2 0 1 0 4.4 0a2.2 2.2 0 1 0 -4.4 0M299.6 613.7a2.2 2.2 0 1 0 4.4 0a2.2 2.2 0 1 0 -4.4 0M300.5 618.2a2.2 2.2 0 1 0 4.4 0a2.2 2.2 0 1 0 -4.4 0M301.4 618.5a2.2 2.2 0 1 0 4.4 0a2.2 2.2 0 1 0 -4.4 0M302.3 617.8a2.2 2.2 0 1 0 4.4 0a2.2 2.2 0 1 0 -4.4 0M303.2 619.3a2.2 2.2 0 1 0 4.4 0a2.2 2.2 0 1 0 -4.4 0M304.1 620.5a2.2 2.2 0 1 0 4.4 0a2.2 2.2 0 1 0 -4.4 0M305.0 616.5a2.2 2.2 0 1 0 4.4 0a2.2 2.2 0 1 0 -4.4 0M160.4 596.8a2.2 2.2 0 1 0 4.4 0a2.2 2.2 0 1 0 -4.4 0M185.2 604.6a2.2 2.2 0 1 0 4.4 0a2.2 2.2 0 1 0 -4.4 0M307.5 679.0a2.2 2.2 0 1 0 4.4 0a2.2 2.2 0 1 0 -4.4 0" fill="#9B3503"/><path d="M102.0 612.4L104.6 615.0L102.0 617.6L99.4 615.0ZM103.5 613.5L106.1 616.1L103.5 618.7L100.9 616.1ZM105.0 606.2L107.6 608.8L105.0 611.4L102.4 608.8ZM106.5 610.6L109.1 613.2L106.5 615.8L103.9 613.2ZM108.0 610.6L110.6 613.2L108.0 615.8L105.4 613.2ZM109.5 612.6L112.1 615.2L109.5 617.8L106.9 615.2ZM111.0 609.2L113.6 611.8L111.0 614.4L108.4 611.8ZM112.5 605.7L115.1 608.3L112.5 610.9L109.9 608.3ZM114.0 605.4L116.6 608.0L114.0 610.6L111.4 608.0ZM115.5 608.9L118.1 611.5L115.5 614.1L112.9 611.5ZM117.0 604.0L119.6 606.6L117.0 609.2L114.4 606.6ZM118.5 612.7L121.1 615.3L118.5 617.9L115.9 615.3ZM120.0 613.1L122.6 615.7L120.0 618.3L117.4 615.7ZM121.5 605.3L124.1 607.9L121.5 610.5L118.9 607.9ZM123.0 610.8L125.6 613.4L123.0 616.0L120.4 613.4ZM124.5 610.5L127.1 613.1L124.5 615.7L121.9 613.1ZM126.0 603.9L128.6 606.5L126.0 609.1L123.4 606.5ZM127.5 611.7L130.1 614.3L127.5 616.9L124.9 614.3ZM129.0 611.6L131.6 614.2L129.0 616.8L126.4 614.2ZM130.5 606.1L133.1 608.7L130.5 611.3L127.9 608.7ZM132.0 603.6L134.6 606.2L132.0 608.8L129.4 606.2ZM133.5 605.8L136.1 608.4L133.5 611.0L130.9 608.4ZM135.0 611.7L137.6 614.3L135.0 616.9L132.4 614.3ZM136.5 608.0L139.1 610.6L136.5 613.2L133.9 610.6ZM138.0 612.2L140.6 614.8L138.0 617.4L135.4 614.8ZM139.5 604.3L142.1 606.9L139.5 609.5L136.9 606.9ZM141.0 603.7L143.6 606.3L141.0 608.9L138.4 606.3ZM142.5 606.6L145.1 609.2L142.5 611.8L139.9 609.2ZM144.0 613.0L146.6 615.6L144.0 618.2L141.4 615.6ZM145.5 604.3L148.1 606.9L145.5 609.5L142.9 606.9ZM147.0 603.3L149.6 605.9L147.0 608.5L144.4 605.9ZM148.5 611.4L151.1 614.0L148.5 616.6L145.9 614.0ZM150.0 603.5L152.6 606.1L150.0 608.7L147.4 606.1ZM151.5 610.4L154.1 613.0L151.5 615.6L148.9 613.0ZM153.0 603.4L155.6 606.0L153.0 608.6L150.4 606.0ZM154.5 605.3L157.1 607.9L154.5 610.5L151.9 607.9ZM156.0 610.2L158.6 612.8L156.0 615.4L153.4 612.8ZM157.5 612.7L160.1 615.3L157.5 617.9L154.9 615.3ZM159.0 607.0L161.6 609.6L159.0 612.2L156.4 609.6ZM160.5 607.5L163.1 610.1L160.5 612.7L157.9 610.1ZM162.0 602.4L164.6 605.0L162.0 607.6L159.4 605.0ZM163.5 606.0L166.1 608.6L163.5 611.2L160.9 608.6ZM165.0 604.8L167.6 607.4L165.0 610.0L162.4 607.4ZM166.5 611.3L169.1 613.9L166.5 616.5L163.9 613.9ZM168.0 610.4L170.6 613.0L168.0 615.6L165.4 613.0ZM169.5 611.1L172.1 613.7L169.5 616.3L166.9 613.7ZM171.0 608.0L173.6 610.6L171.0 613.2L168.4 610.6ZM172.5 610.0L175.1 612.6L172.5 615.2L169.9 612.6ZM174.0 603.1L176.6 605.7L174.0 608.3L171.4 605.7ZM175.5 606.1L178.1 608.7L175.5 611.3L172.9 608.7ZM177.0 605.0L179.6 607.6L177.0 610.2L174.4 607.6ZM178.5 604.8L181.1 607.4L178.5 610.0L175.9 607.4ZM180.0 610.2L182.6 612.8L180.0 615.4L177.4 612.8ZM181.5 603.8L184.1 606.4L181.5 609.0L178.9 606.4ZM183.0 605.0L185.6 607.6L183.0 610.2L180.4 607.6ZM184.5 604.4L187.1 607.0L184.5 609.6L181.9 607.0ZM186.0 611.3L188.6 613.9L186.0 616.5L183.4 613.9ZM187.5 608.5L190.1 611.1L187.5 613.7L184.9 611.1ZM189.0 606.5L191.6 609.1L189.0 611.7L186.4 609.1ZM190.5 605.2L193.1 607.8L190.5 610.4L187.9 607.8ZM192.0 611.7L194.6 614.3L192.0 616.9L189.4 614.3ZM193.5 611.8L196.1 614.4L193.5 617.0L190.9 614.4ZM195.0 605.8L197.6 608.4L195.0 611.0L192.4 608.4ZM196.5 607.1L199.1 609.7L196.5 612.3L193.9 609.7ZM198.0 610.6L200.6 613.2L198.0 615.8L195.4 613.2ZM199.5 603.2L202.1 605.8L199.5 608.4L196.9 605.8ZM201.0 603.2L203.6 605.8L201.0 608.4L198.4 605.8ZM202.5 601.2L205.1 603.8L202.5 606.4L199.9 603.8ZM204.0 605.9L206.6 608.5L204.0 611.1L201.4 608.5ZM205.5 609.2L208.1 611.8L205.5 614.4L202.9 611.8ZM207.0 602.0L209.6 604.6L207.0 607.2L204.4 604.6ZM208.5 605.4L211.1 608.0L208.5 610.6L205.9 608.0ZM210.0 612.3L212.6 614.9L210.0 617.5L207.4 614.9ZM211.5 606.3L214.1 608.9L211.5 611.5L208.9 608.9ZM213.0 605.2L215.6 607.8L213.0 610.4L210.4 607.8ZM214.5 610.8L217.1 613.4L214.5 616.0L211.9 613.4ZM216.0 611.6L218.6 614.2L216.0 616.8L213.4 614.2ZM217.5 605.5L220.1 608.1L217.5 610.7L214.9 608.1ZM219.0 602.6L221.6 605.2L219.0 607.8L216.4 605.2ZM220.5 608.9L223.1 611.5L220.5 614.1L217.9 611.5ZM222.0 610.2L224.6 612.8L222.0 615.4L219.4 612.8ZM223.5 612.5L226.1 615.1L223.5 617.7L220.9 615.1ZM225.0 609.5L227.6 612.1L225.0 614.7L222.4 612.1ZM226.5 605.4L229.1 608.0L226.5 610.6L223.9 608.0ZM228.0 608.0L230.6 610.6L228.0 613.2L225.4 610.6ZM229.5 605.4L232.1 608.0L229.5 610.6L226.9 608.0ZM231.0 607.4L233.6 610.0L231.0 612.6L228.4 610.0ZM232.5 607.8L235.1 610.4L232.5 613.0L229.9 610.4ZM234.0 613.2L236.6 615.8L234.0 618.4L231.4 615.8ZM235.5 613.3L238.1 615.9L235.5 618.5L232.9 615.9ZM237.0 613.6L239.6 616.2L237.0 618.8L234.4 616.2ZM238.5 608.4L241.1 611.0L238.5 613.6L235.9 611.0ZM240.0 614.3L242.6 616.9L240.0 619.5L237.4 616.9ZM241.5 604.6L244.1 607.2L241.5 609.8L238.9 607.2ZM243.0 614.1L245.6 616.7L243.0 619.3L240.4 616.7ZM244.5 610.8L247.1 613.4L244.5 616.0L241.9 613.4ZM246.0 613.7L248.6 616.3L246.0 618.9L243.4 616.3ZM247.5 608.3L250.1 610.9L247.5 613.5L244.9 610.9ZM251.0 650.8L253.6 653.4L251.0 656.0L248.4 653.4ZM252.3 638.2L254.9 640.8L252.3 643.4L249.7 640.8ZM253.6 648.9L256.2 651.5L253.6 654.1L251.0 651.5ZM254.9 648.5L257.5 651.1L254.9 653.7L252.3 651.1ZM256.2 642.7L258.8 645.3L256.2 647.9L253.6 645.3ZM257.5 648.6L260.1 651.2L257.5 653.8L254.9 651.2ZM258.8 640.5L261.4 643.1L258.8 645.7L256.2 643.1ZM260.1 647.5L262.7 650.1L260.1 652.7L257.5 650.1ZM261.4 643.8L264.0 646.4L261.4 649.0L258.8 646.4ZM262.7 643.0L265.3 645.6L262.7 648.2L260.1 645.6ZM264.0 640.2L266.6 642.8L264.0 645.4L261.4 642.8ZM265.3 648.0L267.9 650.6L265.3 653.2L262.7 650.6ZM266.6 647.1L269.2 649.7L266.6 652.3L264.0 649.7ZM267.9 638.7L270.5 641.3L267.9 643.9L265.3 641.3ZM269.2 650.3L271.8 652.9L269.2 655.5L266.6 652.9ZM270.5 640.4L273.1 643.0L270.5 645.6L267.9 643.0ZM271.8 642.4L274.4 645.0L271.8 647.6L269.2 645.0ZM273.1 642.9L275.7 645.5L273.1 648.1L270.5 645.5ZM274.4 645.0L277.0 647.6L274.4 650.2L271.8 647.6ZM275.7 649.0L278.3 651.6L275.7 654.2L273.1 651.6ZM277.0 649.7L279.6 652.3L277.0 654.9L274.4 652.3ZM278.3 645.6L280.9 648.2L278.3 650.8L275.7 648.2ZM279.6 642.1L282.2 644.7L279.6 647.3L277.0 644.7ZM280.9 638.8L283.5 641.4L280.9 644.0L278.3 641.4ZM282.2 638.2L284.8 640.8L282.2 643.4L279.6 640.8ZM283.5 644.1L286.1 646.7L283.5 649.3L280.9 646.7ZM284.8 644.9L287.4 647.5L284.8 650.1L282.2 647.5ZM286.1 643.3L288.7 645.9L286.1 648.5L283.5 645.9ZM287.4 650.3L290.0 652.9L287.4 655.5L284.8 652.9ZM288.7 643.0L291.3 645.6L288.7 648.2L286.1 645.6ZM290.0 642.3L292.6 644.9L290.0 647.5L287.4 644.9ZM291.3 643.2L293.9 645.8L291.3 648.4L288.7 645.8ZM292.6 640.1L295.2 642.7L292.6 645.3L290.0 642.7ZM293.9 650.2L296.5 652.8L293.9 655.4L291.3 652.8ZM295.2 645.7L297.8 648.3L295.2 650.9L292.6 648.3ZM296.5 645.2L299.1 647.8L296.5 650.4L293.9 647.8ZM297.8 643.8L300.4 646.4L297.8 649.0L295.2 646.4ZM299.1 641.6L301.7 644.2L299.1 646.8L296.5 644.2ZM300.4 642.5L303.0 645.1L300.4 647.7L297.8 645.1ZM301.7 644.9L304.3 647.5L301.7 650.1L299.1 647.5ZM303.0 644.4L305.6 647.0L303.0 649.6L300.4 647.0ZM304.3 651.4L306.9 654.0L304.3 656.6L301.7 654.0ZM305.6 646.1L308.2 648.7L305.6 651.3L303.0 648.7ZM306.9 641.5L309.5 644.1L306.9 646.7L304.3 644.1ZM308.2 639.6L310.8 642.2L308.2 644.8L305.6 642.2ZM309.5 641.1L312.1 643.7L309.5 646.3L306.9 643.7ZM310.8 643.6L313.4 646.2L310.8 648.8L308.2 646.2ZM312.1 649.3L314.7 651.9L312.1 654.5L309.5 651.9ZM313.4 650.8L316.0 653.4L313.4 656.0L310.8 653.4ZM314.7 642.4L317.3 645.0L314.7 647.6L312.1 645.0ZM316.0 649.6L318.6 652.2L316.0 654.8L313.4 652.2ZM317.3 645.3L319.9 647.9L317.3 650.5L314.7 647.9ZM318.6 646.6L321.2 649.2L318.6 651.8L316.0 649.2ZM319.9 646.6L322.5 649.2L319.9 651.8L317.3 649.2ZM321.2 640.3L323.8 642.9L321.2 645.5L318.6 642.9ZM322.5 640.7L325.1 643.3L322.5 645.9L319.9 643.3ZM323.8 648.5L326.4 651.1L323.8 653.7L321.2 651.1ZM325.1 648.8L327.7 651.4L325.1 654.0L322.5 651.4ZM326.4 644.7L329.0 647.3L326.4 649.9L323.8 647.3ZM327.7 651.7L330.3 654.3L327.7 656.9L325.1 654.3ZM329.0 650.3L331.6 652.9L329.0 655.5L326.4 652.9ZM330.3 643.5L332.9 646.1L330.3 648.7L327.7 646.1ZM331.6 640.4L334.2 643.0L331.6 645.6L329.0 643.0ZM332.9 646.7L335.5 649.3L332.9 651.9L330.3 649.3ZM334.2 648.0L336.8 650.6L334.2 653.2L331.6 650.6ZM335.5 642.3L338.1 644.9L335.5 647.5L332.9 644.9ZM336.8 639.9L339.4 642.5L336.8 645.1L334.2 642.5ZM338.1 645.7L340.7 648.3L338.1 650.9L335.5 648.3ZM339.4 639.7L342.0 642.3L339.4 644.9L336.8 642.3ZM340.7 648.8L343.3 651.4L340.7 654.0L338.1 651.4ZM342.0 647.3L344.6 649.9L342.0 652.5L339.4 649.9ZM343.3 642.8L345.9 645.4L343.3 648.0L340.7 645.4ZM344.6 644.9L347.2 647.5L344.6 650.1L342.0 647.5ZM345.9 642.1L348.5 644.7L345.9 647.3L343.3 644.7ZM347.2 641.4L349.8 644.0L347.2 646.6L344.6 644.0ZM348.5 641.3L351.1 643.9L348.5 646.5L345.9 643.9ZM349.8 649.5L352.4 652.1L349.8 654.7L347.2 652.1ZM351.1 644.7L353.7 647.3L351.1 649.9L348.5 647.3ZM352.4 648.1L355.0 650.7L352.4 653.3L349.8 650.7ZM353.7 643.2L356.3 645.8L353.7 648.4L351.1 645.8ZM355.0 649.2L357.6 651.8L355.0 654.4L352.4 651.8ZM356.3 646.4L358.9 649.0L356.3 651.6L353.7 649.0ZM164.0 577.8L166.6 580.4L164.0 583.0L161.4 580.4ZM165.3 580.4L167.9 583.0L165.3 585.6L162.7 583.0ZM183.5 588.2L186.1 590.8L183.5 593.4L180.9 590.8ZM128.7 599.4L131.3 602.0L128.7 604.6L126.1 602.0ZM183.0 645.6L185.6 648.2L183.0 650.8L180.4 648.2ZM102.0 593.4L104.6 596.0L102.0 598.6L99.4 596.0Z" fill="#FEC04E"/><path d="M99.5 617.5h5.0M102.0 615.0v5.0M100.4 616.1h5.0M102.9 613.6v5.0M101.3 619.1h5.0M103.8 616.6v5.0M102.2 616.6h5.0M104.7 614.1v5.0M103.1 625.6h5.0M105.6 623.1v5.0M104.0 623.8h5.0M106.5 621.3v5.0M104.9 623.7h5.0M107.4 621.2v5.0M105.8 625.9h5.0M108.3 623.4v5.0M106.7 621.8h5.0M109.2 619.3v5.0M107.6 625.3h5.0M110.1 622.8v5.0M108.5 625.5h5.0M111.0 623.0v5.0M109.4 632.9h5.0M111.9 630.4v5.0M110.3 625.8h5.0M112.8 623.3v5.0M111.2 631.3h5.0M113.7 628.8v5.0M112.1 636.8h5.0M114.6 634.3v5.0M113.0 637.2h5.0M115.5 634.7v5.0M113.9 636.9h5.0M116.4 634.4v5.0M114.8 632.8h5.0M117.3 630.3v5.0M115.7 632.2h5.0M118.2 629.7v5.0M116.6 637.0h5.0M119.1 634.5v5.0M117.5 633.1h5.0M120.0 630.6v5.0M118.4 637.4h5.0M120.9 634.9v5.0M119.3 633.8h5.0M121.8 631.3v5.0M120.2 638.0h5.0M122.7 635.5v5.0M121.1 636.2h5.0M123.6 633.7v5.0M122.0 638.7h5.0M124.5 636.2v5.0M122.9 640.5h5.0M125.4 638.0v5.0M123.8 634.6h5.0M126.3 632.1v5.0M124.7 640.7h5.0M127.2 638.2v5.0M125.6 631.1h5.0M128.1 628.6v5.0M126.5 639.9h5.0M129.0 637.4v5.0M127.4 631.5h5.0M129.9 629.0v5.0M128.3 636.7h5.0M130.8 634.2v5.0M129.2 635.3h5.0M131.7 632.8v5.0M130.1 639.2h5.0M132.6 636.7v5.0M131.0 634.7h5.0M133.5 632.2v5.0M131.9 633.8h5.0M134.4 631.3v5.0M132.8 639.6h5.0M135.3 637.1v5.0M133.7 637.4h5.0M136.2 634.9v5.0M134.6 639.5h5.0M137.1 637.0v5.0M135.5 637.0h5.0M138.0 634.5v5.0M136.4 632.5h5.0M138.9 630.0v5.0M137.3 639.8h5.0M139.8 637.3v5.0M138.2 634.1h5.0M140.7 631.6v5.0M139.1 636.5h5.0M141.6 634.0v5.0M140.0 631.7h5.0M142.5 629.2v5.0M140.9 634.1h5.0M143.4 631.6v5.0M141.8 638.0h5.0M144.3 635.5v5.0M142.7 638.9h5.0M145.2 636.4v5.0M143.6 637.5h5.0M146.1 635.0v5.0M144.5 635.4h5.0M147.0 632.9v5.0M145.4 638.1h5.0M147.9 635.6v5.0M146.3 637.4h5.0M148.8 634.9v5.0M147.2 632.6h5.0M149.7 630.1v5.0M148.1 635.7h5.0M150.6 633.2v5.0M149.0 636.2h5.0M151.5 633.7v5.0M149.9 637.4h5.0M152.4 634.9v5.0M150.8 631.9h5.0M153.3 629.4v5.0M151.7 632.9h5.0M154.2 630.4v5.0M152.6 633.1h5.0M155.1 630.6v5.0M153.5 630.5h5.0M156.0 628.0v5.0M154.4 632.9h5.0M156.9 630.4v5.0M155.3 636.5h5.0M157.8 634.0v5.0M156.2 634.9h5.0M158.7 632.4v5.0M157.1 630.7h5.0M159.6 628.2v5.0M158.0 636.1h5.0M160.5 633.6v5.0M158.9 629.8h5.0M161.4 627.3v5.0M159.8 636.0h5.0M162.3 633.5v5.0M160.7 629.9h5.0M163.2 627.4v5.0M161.6 629.2h5.0M164.1 626.7v5.0M162.5 630.6h5.0M165.0 628.1v5.0M163.4 633.1h5.0M165.9 630.6v5.0M164.3 630.5h5.0M166.8 628.0v5.0M165.2 636.5h5.0M167.7 634.0v5.0M166.1 636.9h5.0M168.6 634.4v5.0M167.0 630.2h5.0M169.5 627.7v5.0M167.9 634.7h5.0M170.4 632.2v5.0M168.8 634.1h5.0M171.3 631.6v5.0M169.7 632.6h5.0M172.2 630.1v5.0M170.6 629.4h5.0M173.1 626.9v5.0M171.5 636.2h5.0M174.0 633.7v5.0M172.4 636.1h5.0M174.9 633.6v5.0M173.3 626.5h5.0M175.8 624.0v5.0M174.2 629.6h5.0M176.7 627.1v5.0M175.1 629.3h5.0M177.6 626.8v5.0M176.0 628.0h5.0M178.5 625.5v5.0M176.9 630.2h5.0M179.4 627.7v5.0M177.8 634.9h5.0M180.3 632.4v5.0M178.7 626.1h5.0M181.2 623.6v5.0M179.6 634.1h5.0M182.1 631.6v5.0M180.5 628.8h5.0M183.0 626.3v5.0M181.4 625.8h5.0M183.9 623.3v5.0M182.3 634.6h5.0M184.8 632.1v5.0M183.2 628.3h5.0M185.7 625.8v5.0M184.1 627.7h5.0M186.6 625.2v5.0M185.0 626.7h5.0M187.5 624.2v5.0M185.9 629.1h5.0M188.4 626.6v5.0M186.8 626.6h5.0M189.3 624.1v5.0M187.7 627.1h5.0M190.2 624.6v5.0M188.6 627.8h5.0M191.1 625.3v5.0M189.5 631.0h5.0M192.0 628.5v5.0M190.4 629.6h5.0M192.9 627.1v5.0M191.3 628.2h5.0M193.8 625.7v5.0M192.2 630.3h5.0M194.7 627.8v5.0M193.1 632.8h5.0M195.6 630.3v5.0M194.0 632.2h5.0M196.5 629.7v5.0M194.9 628.4h5.0M197.4 625.9v5.0M195.8 634.1h5.0M198.3 631.6v5.0M196.7 632.7h5.0M199.2 630.2v5.0M197.6 630.4h5.0M200.1 627.9v5.0M198.5 629.5h5.0M201.0 627.0v5.0M199.4 628.0h5.0M201.9 625.5v5.0M200.3 626.0h5.0M202.8 623.5v5.0M201.2 633.4h5.0M203.7 630.9v5.0M202.1 630.6h5.0M204.6 628.1v5.0M203.0 625.5h5.0M205.5 623.0v5.0M203.9 633.7h5.0M206.4 631.2v5.0M204.8 633.3h5.0M207.3 630.8v5.0M205.7 624.7h5.0M208.2 622.2v5.0M206.6 631.3h5.0M209.1 628.8v5.0M207.5 626.6h5.0M210.0 624.1v5.0M208.4 629.5h5.0M210.9 627.0v5.0M209.3 632.5h5.0M211.8 630.0v5.0M210.2 627.6h5.0M212.7 625.1v5.0M211.1 629.0h5.0M213.6 626.5v5.0M212.0 630.6h5.0M214.5 628.1v5.0M212.9 625.9h5.0M215.4 623.4v5.0M213.8 630.1h5.0M216.3 627.6v5.0M214.7 628.1h5.0M217.2 625.6v5.0M215.6 633.6h5.0M218.1 631.1v5.0M216.5 625.6h5.0M219.0 623.1v5.0M217.4 630.8h5.0M219.9 628.3v5.0M218.3 624.0h5.0M220.8 621.5v5.0M219.2 626.3h5.0M221.7 623.8v5.0M220.1 624.7h5.0M222.6 622.2v5.0M221.0 625.0h5.0M223.5 622.5v5.0M221.9 628.7h5.0M224.4 626.2v5.0M222.8 625.1h5.0M225.3 622.6v5.0M223.7 631.3h5.0M226.2 628.8v5.0M224.6 624.2h5.0M227.1 621.7v5.0M225.5 629.5h5.0M228.0 627.0v5.0M226.4 631.8h5.0M228.9 629.3v5.0M227.3 624.4h5.0M229.8 621.9v5.0M228.2 625.3h5.0M230.7 622.8v5.0M229.1 630.7h5.0M231.6 628.2v5.0M230.0 627.7h5.0M232.5 625.2v5.0M230.9 632.2h5.0M233.4 629.7v5.0M231.8 626.3h5.0M234.3 623.8v5.0M232.7 626.8h5.0M235.2 624.3v5.0M233.6 632.4h5.0M236.1 629.9v5.0M234.5 626.2h5.0M237.0 623.7v5.0M235.4 632.3h5.0M237.9 629.8v5.0M236.3 631.5h5.0M238.8 629.0v5.0M237.2 624.6h5.0M239.7 622.1v5.0M238.1 628.0h5.0M240.6 625.5v5.0M239.0 631.9h5.0M241.5 629.4v5.0M239.9 623.6h5.0M242.4 621.1v5.0M240.8 630.9h5.0M243.3 628.4v5.0M241.7 630.1h5.0M244.2 627.6v5.0M242.6 629.8h5.0M245.1 627.3v5.0M243.5 628.2h5.0M246.0 625.7v5.0M244.4 623.2h5.0M246.9 620.7v5.0M245.3 631.7h5.0M247.8 629.2v5.0M246.2 623.1h5.0M248.7 620.6v5.0M247.1 629.9h5.0M249.6 627.4v5.0M248.0 629.2h5.0M250.5 626.7v5.0M248.9 625.0h5.0M251.4 622.5v5.0M249.8 628.6h5.0M252.3 626.1v5.0M250.7 625.7h5.0M253.2 623.2v5.0M251.6 629.0h5.0M254.1 626.5v5.0M252.5 621.8h5.0M255.0 619.3v5.0M253.4 630.6h5.0M255.9 628.1v5.0M254.3 625.0h5.0M256.8 622.5v5.0M255.2 629.1h5.0M257.7 626.6v5.0M256.1 625.7h5.0M258.6 623.2v5.0M257.0 629.0h5.0M259.5 626.5v5.0M257.9 623.8h5.0M260.4 621.3v5.0M258.8 626.1h5.0M261.3 623.6v5.0M259.7 620.8h5.0M262.2 618.3v5.0M260.6 625.4h5.0M263.1 622.9v5.0M261.5 621.1h5.0M264.0 618.6v5.0M262.4 628.8h5.0M264.9 626.3v5.0M263.3 626.9h5.0M265.8 624.4v5.0M264.2 624.3h5.0M266.7 621.8v5.0M265.1 629.7h5.0M267.6 627.2v5.0M266.0 629.3h5.0M268.5 626.8v5.0M266.9 629.3h5.0M269.4 626.8v5.0M267.8 620.4h5.0M270.3 617.9v5.0M268.7 626.6h5.0M271.2 624.1v5.0M269.6 626.7h5.0M272.1 624.2v5.0M270.5 625.4h5.0M273.0 622.9v5.0M271.4 619.4h5.0M273.9 616.9v5.0M272.3 628.3h5.0M274.8 625.8v5.0M273.2 623.4h5.0M275.7 620.9v5.0M274.1 624.8h5.0M276.6 622.3v5.0M275.0 626.9h5.0M277.5 624.4v5.0M275.9 621.4h5.0M278.4 618.9v5.0M276.8 618.9h5.0M279.3 616.4v5.0M277.7 627.7h5.0M280.2 625.2v5.0M278.6 621.1h5.0M281.1 618.6v5.0M279.5 618.7h5.0M282.0 616.2v5.0M280.4 619.5h5.0M282.9 617.0v5.0M281.3 628.0h5.0M283.8 625.5v5.0M282.2 625.3h5.0M284.7 622.8v5.0M283.1 619.9h5.0M285.6 617.4v5.0M284.0 619.2h5.0M286.5 616.7v5.0M284.9 626.6h5.0M287.4 624.1v5.0M285.8 624.2h5.0M288.3 621.7v5.0M286.7 623.3h5.0M289.2 620.8v5.0M287.6 618.7h5.0M290.1 616.2v5.0M288.5 621.4h5.0M291.0 618.9v5.0M289.4 626.7h5.0M291.9 624.2v5.0M290.3 617.1h5.0M292.8 614.6v5.0M291.2 621.2h5.0M293.7 618.7v5.0M292.1 617.5h5.0M294.6 615.0v5.0M293.0 626.8h5.0M295.5 624.3v5.0M293.9 617.8h5.0M296.4 615.3v5.0M294.8 626.2h5.0M297.3 623.7v5.0M295.7 625.0h5.0M298.2 622.5v5.0M296.6 623.8h5.0M299.1 621.3v5.0M297.5 616.8h5.0M300.0 614.3v5.0M298.4 623.2h5.0M300.9 620.7v5.0M299.3 621.1h5.0M301.8 618.6v5.0M300.2 621.0h5.0M302.7 618.5v5.0M301.1 617.5h5.0M303.6 615.0v5.0M302.0 621.0h5.0M304.5 618.5v5.0M302.9 623.8h5.0M305.4 621.3v5.0M303.8 617.0h5.0M306.3 614.5v5.0M304.7 624.4h5.0M307.2 621.9v5.0M305.6 619.8h5.0M308.1 617.3v5.0M306.5 618.1h5.0M309.0 615.6v5.0M307.4 617.8h5.0M309.9 615.3v5.0M308.3 619.9h5.0M310.8 617.4v5.0M309.2 621.7h5.0M311.7 619.2v5.0M310.1 620.8h5.0M312.6 618.3v5.0M311.0 623.9h5.0M313.5 621.4v5.0M311.9 620.0h5.0M314.4 617.5v5.0M312.8 619.9h5.0M315.3 617.4v5.0M313.7 624.6h5.0M316.2 622.1v5.0M314.6 616.8h5.0M317.1 614.3v5.0M315.5 614.7h5.0M318.0 612.2v5.0M316.4 617.7h5.0M318.9 615.2v5.0M317.3 617.5h5.0M319.8 615.0v5.0M318.2 615.5h5.0M320.7 613.0v5.0M319.1 618.4h5.0M321.6 615.9v5.0M320.0 614.4h5.0M322.5 611.9v5.0M320.9 623.2h5.0M323.4 620.7v5.0M321.8 618.6h5.0M324.3 616.1v5.0M322.7 622.4h5.0M325.2 619.9v5.0M323.6 620.4h5.0M326.1 617.9v5.0M324.5 620.6h5.0M327.0 618.1v5.0M325.4 620.7h5.0M327.9 618.2v5.0M326.3 615.9h5.0M328.8 613.4v5.0M327.2 620.0h5.0M329.7 617.5v5.0M328.1 614.6h5.0M330.6 612.1v5.0M329.0 617.9h5.0M331.5 615.4v5.0M329.9 618.1h5.0M332.4 615.6v5.0M330.8 619.8h5.0M333.3 617.3v5.0M331.7 613.5h5.0M334.2 611.0v5.0M332.6 615.1h5.0M335.1 612.6v5.0M333.5 619.7h5.0M336.0 617.2v5.0M334.4 619.3h5.0M336.9 616.8v5.0M335.3 620.9h5.0M337.8 618.4v5.0M336.2 612.1h5.0M338.7 609.6v5.0M337.1 612.9h5.0M339.6 610.4v5.0M338.0 611.6h5.0M340.5 609.1v5.0M338.9 617.6h5.0M341.4 615.1v5.0M339.8 617.7h5.0M342.3 615.2v5.0M340.7 616.5h5.0M343.2 614.0v5.0M341.6 617.7h5.0M344.1 615.2v5.0M342.5 614.8h5.0M345.0 612.3v5.0M343.4 615.1h5.0M345.9 612.6v5.0M344.3 618.5h5.0M346.8 616.0v5.0M345.2 615.6h5.0M347.7 613.1v5.0M346.1 615.5h5.0M348.6 613.0v5.0M347.0 614.7h5.0M349.5 612.2v5.0M347.9 613.7h5.0M350.4 611.2v5.0M348.8 616.2h5.0M351.3 613.7v5.0M349.7 614.3h5.0M352.2 611.8v5.0M350.6 609.8h5.0M353.1 607.3v5.0M351.5 612.7h5.0M354.0 610.2v5.0M352.4 612.6h5.0M354.9 610.1v5.0M353.3 612.7h5.0M355.8 610.2v5.0M354.2 613.9h5.0M356.7 611.4v5.0M355.1 611.8h5.0M357.6 609.3v5.0M356.0 612.0h5.0M358.5 609.5v5.0M356.9 612.3h5.0M359.4 609.8v5.0M357.8 611.7h5.0M360.3 609.2v5.0M358.7 617.6h5.0M361.2 615.1v5.0M359.6 608.8h5.0M362.1 606.3v5.0M360.5 608.0h5.0M363.0 605.5v5.0M361.4 614.9h5.0M363.9 612.4v5.0M362.3 611.6h5.0M364.8 609.1v5.0M363.2 612.1h5.0M365.7 609.6v5.0M364.1 613.4h5.0M366.6 610.9v5.0M365.0 611.1h5.0M367.5 608.6v5.0M365.9 609.8h5.0M368.4 607.3v5.0M366.8 607.5h5.0M369.3 605.0v5.0M367.7 616.0h5.0M370.2 613.5v5.0M368.6 616.6h5.0M371.1 614.1v5.0M369.5 610.0h5.0M372.0 607.5v5.0M370.4 611.7h5.0M372.9 609.2v5.0M371.3 610.2h5.0M373.8 607.7v5.0M372.2 607.5h5.0M374.7 605.0v5.0M373.1 615.8h5.0M375.6 613.3v5.0M374.0 615.2h5.0M376.5 612.7v5.0M374.9 609.1h5.0M377.4 606.6v5.0M375.8 609.2h5.0M378.3 606.7v5.0M376.7 613.6h5.0M379.2 611.1v5.0M377.6 614.5h5.0M380.1 612.0v5.0M378.5 611.2h5.0M381.0 608.7v5.0M379.4 610.3h5.0M381.9 607.8v5.0M380.3 608.7h5.0M382.8 606.2v5.0M381.2 614.2h5.0M383.7 611.7v5.0M382.1 614.8h5.0M384.6 612.3v5.0M357.3 626.8h5.0M359.8 624.3v5.0M370.4 629.4h5.0M372.9 626.9v5.0" fill="none" stroke="#A8BEE0" stroke-width="1.4"/><path d="M100.6 623.4h4.1v4.1h-4.1ZM103.7 590.3h4.1v4.1h-4.1ZM107.1 587.7h4.1v4.1h-4.1ZM110.5 572.0h4.1v4.1h-4.1ZM114.1 580.4h4.1v4.1h-4.1ZM117.5 553.8h4.1v4.1h-4.1ZM120.9 598.1h4.1v4.1h-4.1ZM123.5 588.2h4.1v4.1h-4.1ZM126.6 561.6h4.1v4.1h-4.1ZM129.8 546.0h4.1v4.1h-4.1ZM133.2 562.1h4.1v4.1h-4.1ZM136.6 533.4h4.1v4.1h-4.1ZM140.2 525.1h4.1v4.1h-4.1ZM158.5 522.5h4.1v4.1h-4.1ZM161.9 522.5h4.1v4.1h-4.1ZM182.7 519.1h4.1v4.1h-4.1ZM218.5 517.8h4.1v4.1h-4.1ZM387.2 519.1h4.1v4.1h-4.1ZM390.3 530.4h4.1v4.1h-4.1Z" fill="#145224"/></g><g clip-path="url(#c21)"><path d="M415.1 622.9l3.8 3.8m0 -3.8l-3.8 3.8M416.0 618.8l3.8 3.8m0 -3.8l-3.8 3.8M416.9 625.7l3.8 3.8m0 -3.8l-3.8 3.8M417.8 631.7l3.8 3.8m0 -3.8l-3.8 3.8M418.7 631.9l3.8 3.8m0 -3.8l-3.8 3.8M419.6 632.1l3.8 3.8m0 -3.8l-3.8 3.8M420.5 631.9l3.8 3.8m0 -3.8l-3.8 3.8M421.4 633.7l3.8 3.8m0 -3.8l-3.8 3.8M422.3 642.3l3.8 3.8m0 -3.8l-3.8 3.8M423.2 638.9l3.8 3.8m0 -3.8l-3.8 3.8M424.1 648.1l3.8 3.8m0 -3.8l-3.8 3.8M425.0 649.4l3.8 3.8m0 -3.8l-3.8 3.8M425.9 650.2l3.8 3.8m0 -3.8l-3.8 3.8M426.8 654.9l3.8 3.8m0 -3.8l-3.8 3.8M427.7 655.8l3.8 3.8m0 -3.8l-3.8 3.8M428.6 653.5l3.8 3.8m0 -3.8l-3.8 3.8M429.5 649.4l3.8 3.8m0 -3.8l-3.8 3.8M430.4 654.4l3.8 3.8m0 -3.8l-3.8 3.8M431.3 653.4l3.8 3.8m0 -3.8l-3.8 3.8M432.2 652.4l3.8 3.8m0 -3.8l-3.8 3.8M433.1 659.0l3.8 3.8m0 -3.8l-3.8 3.8M434.0 657.8l3.8 3.8m0 -3.8l-3.8 3.8M434.9 652.8l3.8 3.8m0 -3.8l-3.8 3.8M435.8 654.3l3.8 3.8m0 -3.8l-3.8 3.8M436.7 655.9l3.8 3.8m0 -3.8l-3.8 3.8M437.6 658.5l3.8 3.8m0 -3.8l-3.8 3.8M438.5 656.8l3.8 3.8m0 -3.8l-3.8 3.8M439.4 658.3l3.8 3.8m0 -3.8l-3.8 3.8M440.3 662.1l3.8 3.8m0 -3.8l-3.8 3.8M441.2 656.7l3.8 3.8m0 -3.8l-3.8 3.8M442.1 661.9l3.8 3.8m0 -3.8l-3.8 3.8M443.0 658.8l3.8 3.8m0 -3.8l-3.8 3.8M443.9 664.7l3.8 3.8m0 -3.8l-3.8 3.8M444.8 665.1l3.8 3.8m0 -3.8l-3.8 3.8M445.7 659.8l3.8 3.8m0 -3.8l-3.8 3.8M446.6 662.7l3.8 3.8m0 -3.8l-3.8 3.8M447.5 658.6l3.8 3.8m0 -3.8l-3.8 3.8M448.4 661.7l3.8 3.8m0 -3.8l-3.8 3.8M449.3 663.9l3.8 3.8m0 -3.8l-3.8 3.8M450.2 664.4l3.8 3.8m0 -3.8l-3.8 3.8M451.1 662.1l3.8 3.8m0 -3.8l-3.8 3.8M452.0 659.7l3.8 3.8m0 -3.8l-3.8 3.8M452.9 660.9l3.8 3.8m0 -3.8l-3.8 3.8M453.8 665.2l3.8 3.8m0 -3.8l-3.8 3.8M454.7 662.0l3.8 3.8m0 -3.8l-3.8 3.8M455.6 663.6l3.8 3.8m0 -3.8l-3.8 3.8M456.5 666.8l3.8 3.8m0 -3.8l-3.8 3.8M457.4 669.7l3.8 3.8m0 -3.8l-3.8 3.8M458.3 666.5l3.8 3.8m0 -3.8l-3.8 3.8M459.2 664.6l3.8 3.8m0 -3.8l-3.8 3.8M460.1 667.9l3.8 3.8m0 -3.8l-3.8 3.8M461.0 665.5l3.8 3.8m0 -3.8l-3.8 3.8M461.9 670.4l3.8 3.8m0 -3.8l-3.8 3.8M462.8 665.1l3.8 3.8m0 -3.8l-3.8 3.8M463.7 666.4l3.8 3.8m0 -3.8l-3.8 3.8M464.6 668.4l3.8 3.8m0 -3.8l-3.8 3.8M465.5 673.0l3.8 3.8m0 -3.8l-3.8 3.8M466.4 666.6l3.8 3.8m0 -3.8l-3.8 3.8M467.3 667.2l3.8 3.8m0 -3.8l-3.8 3.8M468.2 667.1l3.8 3.8m0 -3.8l-3.8 3.8M469.1 668.2l3.8 3.8m0 -3.8l-3.8 3.8M470.0 669.6l3.8 3.8m0 -3.8l-3.8 3.8M470.9 670.5l3.8 3.8m0 -3.8l-3.8 3.8M471.8 674.2l3.8 3.8m0 -3.8l-3.8 3.8M472.7 671.3l3.8 3.8m0 -3.8l-3.8 3.8M473.6 672.3l3.8 3.8m0 -3.8l-3.8 3.8M474.5 672.0l3.8 3.8m0 -3.8l-3.8 3.8M475.4 675.7l3.8 3.8m0 -3.8l-3.8 3.8M476.3 677.3l3.8 3.8m0 -3.8l-3.8 3.8M477.2 673.3l3.8 3.8m0 -3.8l-3.8 3.8M478.1 678.1l3.8 3.8m0 -3.8l-3.8 3.8M479.0 672.5l3.8 3.8m0 -3.8l-3.8 3.8M479.9 679.4l3.8 3.8m0 -3.8l-3.8 3.8M480.8 675.7l3.8 3.8m0 -3.8l-3.8 3.8M481.7 677.4l3.8 3.8m0 -3.8l-3.8 3.8M482.6 675.1l3.8 3.8m0 -3.8l-3.8 3.8M483.5 674.5l3.8 3.8m0 -3.8l-3.8 3.8M484.4 673.6l3.8 3.8m0 -3.8l-3.8 3.8M485.3 680.7l3.8 3.8m0 -3.8l-3.8 3.8M486.2 676.3l3.8 3.8m0 -3.8l-3.8 3.8M487.1 679.8l3.8 3.8m0 -3.8l-3.8 3.8M488.0 678.0l3.8 3.8m0 -3.8l-3.8 3.8M488.9 678.9l3.8 3.8m0 -3.8l-3.8 3.8M489.8 676.4l3.8 3.8m0 -3.8l-3.8 3.8M490.7 676.5l3.8 3.8m0 -3.8l-3.8 3.8M491.6 678.3l3.8 3.8m0 -3.8l-3.8 3.8M492.5 681.6l3.8 3.8m0 -3.8l-3.8 3.8M493.4 680.5l3.8 3.8m0 -3.8l-3.8 3.8M494.3 675.8l3.8 3.8m0 -3.8l-3.8 3.8M495.2 682.4l3.8 3.8m0 -3.8l-3.8 3.8M496.1 680.0l3.8 3.8m0 -3.8l-3.8 3.8M497.0 676.9l3.8 3.8m0 -3.8l-3.8 3.8M497.9 678.8l3.8 3.8m0 -3.8l-3.8 3.8M498.8 678.6l3.8 3.8m0 -3.8l-3.8 3.8M499.7 684.3l3.8 3.8m0 -3.8l-3.8 3.8M500.6 682.0l3.8 3.8m0 -3.8l-3.8 3.8M501.5 680.2l3.8 3.8m0 -3.8l-3.8 3.8M502.4 679.6l3.8 3.8m0 -3.8l-3.8 3.8M503.3 680.2l3.8 3.8m0 -3.8l-3.8 3.8M504.2 680.3l3.8 3.8m0 -3.8l-3.8 3.8M505.1 681.0l3.8 3.8m0 -3.8l-3.8 3.8M506.0 685.2l3.8 3.8m0 -3.8l-3.8 3.8M506.9 685.4l3.8 3.8m0 -3.8l-3.8 3.8M507.8 684.8l3.8 3.8m0 -3.8l-3.8 3.8M508.7 686.6l3.8 3.8m0 -3.8l-3.8 3.8M509.6 684.7l3.8 3.8m0 -3.8l-3.8 3.8M510.5 680.0l3.8 3.8m0 -3.8l-3.8 3.8M511.4 679.6l3.8 3.8m0 -3.8l-3.8 3.8M512.3 680.8l3.8 3.8m0 -3.8l-3.8 3.8M513.2 681.9l3.8 3.8m0 -3.8l-3.8 3.8M514.1 684.5l3.8 3.8m0 -3.8l-3.8 3.8M515.0 687.3l3.8 3.8m0 -3.8l-3.8 3.8M515.9 685.4l3.8 3.8m0 -3.8l-3.8 3.8M516.8 684.1l3.8 3.8m0 -3.8l-3.8 3.8M517.7 682.6l3.8 3.8m0 -3.8l-3.8 3.8M518.6 689.3l3.8 3.8m0 -3.8l-3.8 3.8M519.5 687.3l3.8 3.8m0 -3.8l-3.8 3.8M520.4 683.6l3.8 3.8m0 -3.8l-3.8 3.8M521.3 681.0l3.8 3.8m0 -3.8l-3.8 3.8M522.2 689.5l3.8 3.8m0 -3.8l-3.8 3.8M523.1 683.0l3.8 3.8m0 -3.8l-3.8 3.8M524.0 688.4l3.8 3.8m0 -3.8l-3.8 3.8M524.9 681.9l3.8 3.8m0 -3.8l-3.8 3.8M525.8 686.8l3.8 3.8m0 -3.8l-3.8 3.8M526.7 684.1l3.8 3.8m0 -3.8l-3.8 3.8M527.6 689.0l3.8 3.8m0 -3.8l-3.8 3.8M528.5 683.7l3.8 3.8m0 -3.8l-3.8 3.8M529.4 682.0l3.8 3.8m0 -3.8l-3.8 3.8M530.3 682.9l3.8 3.8m0 -3.8l-3.8 3.8M531.2 688.4l3.8 3.8m0 -3.8l-3.8 3.8M532.1 690.0l3.8 3.8m0 -3.8l-3.8 3.8M533.0 687.1l3.8 3.8m0 -3.8l-3.8 3.8M533.9 687.5l3.8 3.8m0 -3.8l-3.8 3.8M534.8 683.9l3.8 3.8m0 -3.8l-3.8 3.8M535.7 683.9l3.8 3.8m0 -3.8l-3.8 3.8M536.6 682.3l3.8 3.8m0 -3.8l-3.8 3.8M537.5 690.4l3.8 3.8m0 -3.8l-3.8 3.8M538.4 682.0l3.8 3.8m0 -3.8l-3.8 3.8M539.3 687.2l3.8 3.8m0 -3.8l-3.8 3.8M540.2 684.8l3.8 3.8m0 -3.8l-3.8 3.8M541.1 683.4l3.8 3.8m0 -3.8l-3.8 3.8M542.0 685.7l3.8 3.8m0 -3.8l-3.8 3.8M542.9 690.2l3.8 3.8m0 -3.8l-3.8 3.8M543.8 684.1l3.8 3.8m0 -3.8l-3.8 3.8M544.7 683.4l3.8 3.8m0 -3.8l-3.8 3.8M545.6 687.7l3.8 3.8m0 -3.8l-3.8 3.8M546.5 688.0l3.8 3.8m0 -3.8l-3.8 3.8M547.4 686.7l3.8 3.8m0 -3.8l-3.8 3.8M548.3 683.8l3.8 3.8m0 -3.8l-3.8 3.8M549.2 690.1l3.8 3.8m0 -3.8l-3.8 3.8M550.1 683.3l3.8 3.8m0 -3.8l-3.8 3.8M551.0 683.9l3.8 3.8m0 -3.8l-3.8 3.8M551.9 684.5l3.8 3.8m0 -3.8l-3.8 3.8M552.8 687.0l3.8 3.8m0 -3.8l-3.8 3.8M553.7 686.8l3.8 3.8m0 -3.8l-3.8 3.8M554.6 687.5l3.8 3.8m0 -3.8l-3.8 3.8M555.5 689.1l3.8 3.8m0 -3.8l-3.8 3.8M556.4 690.7l3.8 3.8m0 -3.8l-3.8 3.8M557.3 686.9l3.8 3.8m0 -3.8l-3.8 3.8M558.2 683.1l3.8 3.8m0 -3.8l-3.8 3.8M559.1 690.2l3.8 3.8m0 -3.8l-3.8 3.8M560.0 683.0l3.8 3.8m0 -3.8l-3.8 3.8M560.9 685.7l3.8 3.8m0 -3.8l-3.8 3.8M561.8 684.2l3.8 3.8m0 -3.8l-3.8 3.8M562.7 688.4l3.8 3.8m0 -3.8l-3.8 3.8M563.6 690.0l3.8 3.8m0 -3.8l-3.8 3.8M564.5 684.2l3.8 3.8m0 -3.8l-3.8 3.8M565.4 685.6l3.8 3.8m0 -3.8l-3.8 3.8M566.3 690.7l3.8 3.8m0 -3.8l-3.8 3.8M567.2 689.2l3.8 3.8m0 -3.8l-3.8 3.8M568.1 684.0l3.8 3.8m0 -3.8l-3.8 3.8M569.0 689.2l3.8 3.8m0 -3.8l-3.8 3.8M569.9 690.1l3.8 3.8m0 -3.8l-3.8 3.8M570.8 686.7l3.8 3.8m0 -3.8l-3.8 3.8M571.7 684.4l3.8 3.8m0 -3.8l-3.8 3.8M572.6 688.9l3.8 3.8m0 -3.8l-3.8 3.8M573.5 685.9l3.8 3.8m0 -3.8l-3.8 3.8M574.4 684.2l3.8 3.8m0 -3.8l-3.8 3.8M575.3 684.5l3.8 3.8m0 -3.8l-3.8 3.8M576.2 686.6l3.8 3.8m0 -3.8l-3.8 3.8M577.1 684.1l3.8 3.8m0 -3.8l-3.8 3.8M578.0 686.4l3.8 3.8m0 -3.8l-3.8 3.8M578.9 687.9l3.8 3.8m0 -3.8l-3.8 3.8M579.8 687.9l3.8 3.8m0 -3.8l-3.8 3.8M580.7 686.6l3.8 3.8m0 -3.8l-3.8 3.8M581.6 690.2l3.8 3.8m0 -3.8l-3.8 3.8M582.5 683.7l3.8 3.8m0 -3.8l-3.8 3.8M583.4 685.9l3.8 3.8m0 -3.8l-3.8 3.8M584.3 691.4l3.8 3.8m0 -3.8l-3.8 3.8M585.2 690.7l3.8 3.8m0 -3.8l-3.8 3.8M586.1 691.2l3.8 3.8m0 -3.8l-3.8 3.8M587.0 689.8l3.8 3.8m0 -3.8l-3.8 3.8M587.9 687.8l3.8 3.8m0 -3.8l-3.8 3.8M588.8 690.0l3.8 3.8m0 -3.8l-3.8 3.8M589.7 688.1l3.8 3.8m0 -3.8l-3.8 3.8M590.6 684.0l3.8 3.8m0 -3.8l-3.8 3.8M591.5 685.2l3.8 3.8m0 -3.8l-3.8 3.8M592.4 683.8l3.8 3.8m0 -3.8l-3.8 3.8M593.3 690.8l3.8 3.8m0 -3.8l-3.8 3.8M594.2 685.8l3.8 3.8m0 -3.8l-3.8 3.8M595.1 686.6l3.8 3.8m0 -3.8l-3.8 3.8M596.0 687.8l3.8 3.8m0 -3.8l-3.8 3.8M596.9 683.8l3.8 3.8m0 -3.8l-3.8 3.8M597.8 689.3l3.8 3.8m0 -3.8l-3.8 3.8M598.7 690.1l3.8 3.8m0 -3.8l-3.8 3.8M599.6 690.1l3.8 3.8m0 -3.8l-3.8 3.8M600.5 690.8l3.8 3.8m0 -3.8l-3.8 3.8M601.4 685.8l3.8 3.8m0 -3.8l-3.8 3.8M602.3 684.2l3.8 3.8m0 -3.8l-3.8 3.8M603.2 689.8l3.8 3.8m0 -3.8l-3.8 3.8M604.1 689.2l3.8 3.8m0 -3.8l-3.8 3.8M605.0 686.3l3.8 3.8m0 -3.8l-3.8 3.8M605.9 686.0l3.8 3.8m0 -3.8l-3.8 3.8M606.8 684.3l3.8 3.8m0 -3.8l-3.8 3.8M607.7 690.4l3.8 3.8m0 -3.8l-3.8 3.8M608.6 687.0l3.8 3.8m0 -3.8l-3.8 3.8M609.5 690.2l3.8 3.8m0 -3.8l-3.8 3.8M610.4 685.8l3.8 3.8m0 -3.8l-3.8 3.8M611.3 685.0l3.8 3.8m0 -3.8l-3.8 3.8M612.2 686.1l3.8 3.8m0 -3.8l-3.8 3.8M613.1 687.6l3.8 3.8m0 -3.8l-3.8 3.8M614.0 688.1l3.8 3.8m0 -3.8l-3.8 3.8M614.9 682.7l3.8 3.8m0 -3.8l-3.8 3.8M615.8 685.2l3.8 3.8m0 -3.8l-3.8 3.8M616.7 681.9l3.8 3.8m0 -3.8l-3.8 3.8M617.6 685.4l3.8 3.8m0 -3.8l-3.8 3.8M618.5 683.8l3.8 3.8m0 -3.8l-3.8 3.8M619.4 681.4l3.8 3.8m0 -3.8l-3.8 3.8M620.3 679.0l3.8 3.8m0 -3.8l-3.8 3.8M621.2 677.6l3.8 3.8m0 -3.8l-3.8 3.8M622.1 682.4l3.8 3.8m0 -3.8l-3.8 3.8M623.0 681.0l3.8 3.8m0 -3.8l-3.8 3.8M623.9 676.6l3.8 3.8m0 -3.8l-3.8 3.8M624.8 675.0l3.8 3.8m0 -3.8l-3.8 3.8M625.7 676.4l3.8 3.8m0 -3.8l-3.8 3.8M626.6 683.6l3.8 3.8m0 -3.8l-3.8 3.8M627.5 675.7l3.8 3.8m0 -3.8l-3.8 3.8M628.4 683.0l3.8 3.8m0 -3.8l-3.8 3.8M629.3 680.9l3.8 3.8m0 -3.8l-3.8 3.8M630.2 681.5l3.8 3.8m0 -3.8l-3.8 3.8M631.1 681.7l3.8 3.8m0 -3.8l-3.8 3.8M632.0 680.9l3.8 3.8m0 -3.8l-3.8 3.8M632.9 682.6l3.8 3.8m0 -3.8l-3.8 3.8M633.8 678.8l3.8 3.8m0 -3.8l-3.8 3.8M634.7 686.6l3.8 3.8m0 -3.8l-3.8 3.8M635.6 679.6l3.8 3.8m0 -3.8l-3.8 3.8M636.5 680.2l3.8 3.8m0 -3.8l-3.8 3.8M637.4 685.0l3.8 3.8m0 -3.8l-3.8 3.8M638.3 684.7l3.8 3.8m0 -3.8l-3.8 3.8M639.2 686.2l3.8 3.8m0 -3.8l-3.8 3.8M640.1 685.2l3.8 3.8m0 -3.8l-3.8 3.8M641.0 687.3l3.8 3.8m0 -3.8l-3.8 3.8M641.9 679.4l3.8 3.8m0 -3.8l-3.8 3.8M642.8 679.0l3.8 3.8m0 -3.8l-3.8 3.8M643.7 681.0l3.8 3.8m0 -3.8l-3.8 3.8M644.6 685.9l3.8 3.8m0 -3.8l-3.8 3.8M645.5 680.2l3.8 3.8m0 -3.8l-3.8 3.8M646.4 683.6l3.8 3.8m0 -3.8l-3.8 3.8M647.3 685.8l3.8 3.8m0 -3.8l-3.8 3.8M648.2 680.2l3.8 3.8m0 -3.8l-3.8 3.8M649.1 683.6l3.8 3.8m0 -3.8l-3.8 3.8M650.0 686.9l3.8 3.8m0 -3.8l-3.8 3.8M650.9 685.5l3.8 3.8m0 -3.8l-3.8 3.8M651.8 682.3l3.8 3.8m0 -3.8l-3.8 3.8M652.7 683.1l3.8 3.8m0 -3.8l-3.8 3.8M653.6 681.2l3.8 3.8m0 -3.8l-3.8 3.8M654.5 687.4l3.8 3.8m0 -3.8l-3.8 3.8M655.4 685.8l3.8 3.8m0 -3.8l-3.8 3.8M656.3 684.8l3.8 3.8m0 -3.8l-3.8 3.8M657.2 681.4l3.8 3.8m0 -3.8l-3.8 3.8M658.1 685.3l3.8 3.8m0 -3.8l-3.8 3.8M659.0 683.0l3.8 3.8m0 -3.8l-3.8 3.8M659.9 685.8l3.8 3.8m0 -3.8l-3.8 3.8M660.8 681.9l3.8 3.8m0 -3.8l-3.8 3.8M661.7 686.6l3.8 3.8m0 -3.8l-3.8 3.8M662.6 684.8l3.8 3.8m0 -3.8l-3.8 3.8M663.5 682.6l3.8 3.8m0 -3.8l-3.8 3.8M664.4 683.6l3.8 3.8m0 -3.8l-3.8 3.8M665.3 685.8l3.8 3.8m0 -3.8l-3.8 3.8M666.2 683.3l3.8 3.8m0 -3.8l-3.8 3.8M667.1 687.2l3.8 3.8m0 -3.8l-3.8 3.8M668.0 678.6l3.8 3.8m0 -3.8l-3.8 3.8M668.9 686.6l3.8 3.8m0 -3.8l-3.8 3.8M669.8 684.9l3.8 3.8m0 -3.8l-3.8 3.8M670.7 682.9l3.8 3.8m0 -3.8l-3.8 3.8M671.6 686.1l3.8 3.8m0 -3.8l-3.8 3.8M672.5 679.8l3.8 3.8m0 -3.8l-3.8 3.8M673.4 681.5l3.8 3.8m0 -3.8l-3.8 3.8M674.3 684.9l3.8 3.8m0 -3.8l-3.8 3.8M675.2 685.8l3.8 3.8m0 -3.8l-3.8 3.8M676.1 681.8l3.8 3.8m0 -3.8l-3.8 3.8M677.0 687.3l3.8 3.8m0 -3.8l-3.8 3.8M677.9 684.2l3.8 3.8m0 -3.8l-3.8 3.8M678.8 678.8l3.8 3.8m0 -3.8l-3.8 3.8M679.7 679.5l3.8 3.8m0 -3.8l-3.8 3.8M680.6 679.0l3.8 3.8m0 -3.8l-3.8 3.8M681.5 683.5l3.8 3.8m0 -3.8l-3.8 3.8M682.4 681.2l3.8 3.8m0 -3.8l-3.8 3.8M683.3 680.6l3.8 3.8m0 -3.8l-3.8 3.8M684.2 682.3l3.8 3.8m0 -3.8l-3.8 3.8M685.1 679.0l3.8 3.8m0 -3.8l-3.8 3.8M686.0 686.4l3.8 3.8m0 -3.8l-3.8 3.8M686.9 685.8l3.8 3.8m0 -3.8l-3.8 3.8M687.8 683.3l3.8 3.8m0 -3.8l-3.8 3.8M688.7 682.2l3.8 3.8m0 -3.8l-3.8 3.8M689.6 681.0l3.8 3.8m0 -3.8l-3.8 3.8M494.5 702.6l3.8 3.8m0 -3.8l-3.8 3.8M415.1 579.1l3.8 3.8m0 -3.8l-3.8 3.8" fill="none" stroke="#0E72B8" stroke-width="1.3"/><path d="M417.0 624.8L419.8 629.7L414.2 629.7ZM417.9 625.8L420.7 630.7L415.1 630.7ZM418.8 633.0L421.6 637.9L416.0 637.9ZM419.7 635.7L422.5 640.5L416.9 640.5ZM420.6 636.9L423.4 641.7L417.8 641.7ZM421.5 640.4L424.3 645.2L418.7 645.2ZM422.4 637.9L425.2 642.8L419.6 642.8ZM423.3 641.0L426.1 645.9L420.5 645.9ZM424.2 645.4L427.0 650.3L421.4 650.3ZM425.1 646.7L427.9 651.5L422.3 651.5ZM426.0 650.3L428.8 655.1L423.2 655.1ZM426.9 655.1L429.7 660.0L424.1 660.0ZM427.8 654.9L430.6 659.8L425.0 659.8ZM428.7 656.7L431.5 661.6L425.9 661.6ZM429.6 652.4L432.4 657.3L426.8 657.3ZM430.5 653.3L433.3 658.2L427.7 658.2ZM431.4 652.8L434.2 657.7L428.6 657.7ZM432.3 655.5L435.1 660.3L429.5 660.3ZM433.2 654.8L436.0 659.7L430.4 659.7ZM434.1 659.0L436.9 663.9L431.3 663.9ZM435.0 658.3L437.8 663.2L432.2 663.2ZM435.9 661.8L438.7 666.7L433.1 666.7ZM436.8 662.0L439.6 666.8L434.0 666.8ZM437.7 663.1L440.5 668.0L434.9 668.0ZM438.6 661.9L441.4 666.8L435.8 666.8ZM439.5 665.9L442.3 670.7L436.7 670.7ZM440.4 666.4L443.2 671.3L437.6 671.3ZM441.3 667.4L444.1 672.3L438.5 672.3ZM442.2 666.1L445.0 671.0L439.4 671.0ZM443.1 666.6L445.9 671.4L440.3 671.4ZM444.0 665.8L446.8 670.6L441.2 670.6ZM444.9 664.5L447.7 669.3L442.1 669.3ZM445.8 667.9L448.6 672.8L443.0 672.8ZM446.7 669.4L449.5 674.3L443.9 674.3ZM447.6 666.9L450.4 671.7L444.8 671.7ZM448.5 672.0L451.3 676.9L445.7 676.9ZM449.4 672.6L452.2 677.5L446.6 677.5ZM450.3 672.9L453.1 677.8L447.5 677.8ZM451.2 673.1L454.0 677.9L448.4 677.9ZM452.1 671.2L454.9 676.1L449.3 676.1ZM453.0 669.5L455.8 674.4L450.2 674.4ZM453.9 670.6L456.7 675.5L451.1 675.5ZM454.8 674.3L457.6 679.2L452.0 679.2ZM455.7 676.5L458.5 681.4L452.9 681.4ZM456.6 670.9L459.4 675.7L453.8 675.7ZM457.5 670.6L460.3 675.4L454.7 675.4ZM458.4 673.5L461.2 678.3L455.6 678.3ZM459.3 673.9L462.1 678.7L456.5 678.7ZM460.2 676.1L463.0 680.9L457.4 680.9ZM461.1 673.1L463.9 678.0L458.3 678.0ZM462.0 678.7L464.8 683.6L459.2 683.6ZM462.9 675.6L465.7 680.5L460.1 680.5ZM463.8 680.1L466.6 684.9L461.0 684.9ZM464.7 676.4L467.5 681.3L461.9 681.3ZM465.6 676.7L468.4 681.6L462.8 681.6ZM466.5 676.3L469.3 681.1L463.7 681.1ZM467.4 682.2L470.2 687.1L464.6 687.1ZM468.3 679.9L471.1 684.8L465.5 684.8ZM469.2 681.9L472.0 686.7L466.4 686.7ZM470.1 676.9L472.9 681.7L467.3 681.7ZM471.0 680.5L473.8 685.4L468.2 685.4ZM471.9 682.2L474.7 687.0L469.1 687.0ZM472.8 684.2L475.6 689.1L470.0 689.1ZM473.7 684.2L476.5 689.1L470.9 689.1ZM474.6 678.7L477.4 683.6L471.8 683.6ZM475.5 680.9L478.3 685.8L472.7 685.8ZM476.4 685.6L479.2 690.5L473.6 690.5ZM477.3 682.7L480.1 687.5L474.5 687.5ZM478.2 685.9L481.0 690.8L475.4 690.8ZM479.1 681.3L481.9 686.2L476.3 686.2ZM480.0 680.0L482.8 684.9L477.2 684.9ZM480.9 686.8L483.7 691.7L478.1 691.7ZM481.8 682.3L484.6 687.2L479.0 687.2ZM482.7 684.7L485.5 689.6L479.9 689.6ZM483.6 683.6L486.4 688.5L480.8 688.5ZM484.5 685.5L487.3 690.3L481.7 690.3ZM485.4 688.3L488.2 693.1L482.6 693.1ZM486.3 688.7L489.1 693.5L483.5 693.5ZM487.2 688.5L490.0 693.4L484.4 693.4ZM488.1 684.5L490.9 689.3L485.3 689.3ZM489.0 688.7L491.8 693.6L486.2 693.6ZM489.9 683.4L492.7 688.3L487.1 688.3ZM490.8 686.5L493.6 691.4L488.0 691.4ZM491.7 690.6L494.5 695.4L488.9 695.4ZM492.6 686.0L495.4 690.9L489.8 690.9ZM493.5 687.1L496.3 692.0L490.7 692.0ZM494.4 688.8L497.2 693.7L491.6 693.7ZM495.3 686.6L498.1 691.4L492.5 691.4ZM496.2 690.0L499.0 694.9L493.4 694.9ZM497.1 689.8L499.9 694.7L494.3 694.7ZM498.0 686.1L500.8 691.0L495.2 691.0ZM498.9 692.1L501.7 696.9L496.1 696.9ZM499.8 686.3L502.6 691.2L497.0 691.2ZM500.7 690.9L503.5 695.7L497.9 695.7ZM501.6 688.6L504.4 693.5L498.8 693.5ZM502.5 687.3L505.3 692.2L499.7 692.2ZM503.4 687.1L506.2 691.9L500.6 691.9ZM504.3 693.7L507.1 698.5L501.5 698.5ZM505.2 692.5L508.0 697.3L502.4 697.3ZM506.1 690.3L508.9 695.1L503.3 695.1ZM507.0 692.8L509.8 697.7L504.2 697.7ZM507.9 694.2L510.7 699.1L505.1 699.1ZM508.8 694.1L511.6 698.9L506.0 698.9ZM509.7 691.5L512.5 696.4L506.9 696.4ZM510.6 689.9L513.4 694.7L507.8 694.7ZM511.5 691.8L514.3 696.6L508.7 696.6ZM512.4 695.2L515.2 700.0L509.6 700.0ZM513.3 693.6L516.1 698.5L510.5 698.5ZM514.2 693.4L517.0 698.2L511.4 698.2ZM515.1 694.7L517.9 699.6L512.3 699.6ZM516.0 691.9L518.8 696.7L513.2 696.7ZM516.9 693.1L519.7 698.0L514.1 698.0ZM517.8 695.3L520.6 700.2L515.0 700.2ZM518.7 691.0L521.5 695.8L515.9 695.8ZM519.6 695.7L522.4 700.6L516.8 700.6ZM520.5 689.9L523.3 694.8L517.7 694.8ZM521.4 693.6L524.2 698.5L518.6 698.5ZM522.3 693.9L525.1 698.8L519.5 698.8ZM523.2 691.0L526.0 695.8L520.4 695.8ZM524.1 696.5L526.9 701.3L521.3 701.3ZM525.0 693.2L527.8 698.0L522.2 698.0ZM525.9 691.4L528.7 696.3L523.1 696.3ZM526.8 693.1L529.6 697.9L524.0 697.9ZM527.7 694.4L530.5 699.3L524.9 699.3ZM528.6 693.3L531.4 698.2L525.8 698.2ZM529.5 690.4L532.3 695.3L526.7 695.3ZM530.4 691.1L533.2 696.0L527.6 696.0ZM531.3 695.5L534.1 700.4L528.5 700.4ZM532.2 691.5L535.0 696.4L529.4 696.4ZM533.1 692.4L535.9 697.3L530.3 697.3ZM534.0 696.3L536.8 701.2L531.2 701.2ZM534.9 696.8L537.7 701.6L532.1 701.6ZM535.8 697.0L538.6 701.8L533.0 701.8ZM536.7 692.1L539.5 697.0L533.9 697.0ZM537.6 691.0L540.4 695.8L534.8 695.8ZM538.5 696.3L541.3 701.1L535.7 701.1ZM539.4 695.3L542.2 700.1L536.6 700.1ZM540.3 693.7L543.1 698.5L537.5 698.5ZM541.2 691.3L544.0 696.2L538.4 696.2ZM542.1 694.3L544.9 699.1L539.3 699.1ZM543.0 693.0L545.8 697.8L540.2 697.8ZM543.9 695.5L546.7 700.3L541.1 700.3ZM544.8 698.3L547.6 703.2L542.0 703.2ZM545.7 693.0L548.5 697.8L542.9 697.8ZM546.6 692.1L549.4 696.9L543.8 696.9ZM547.5 696.5L550.3 701.3L544.7 701.3ZM548.4 692.4L551.2 697.3L545.6 697.3ZM549.3 693.3L552.1 698.2L546.5 698.2ZM550.2 694.9L553.0 699.7L547.4 699.7ZM551.1 698.8L553.9 703.6L548.3 703.6ZM552.0 694.2L554.8 699.0L549.2 699.0ZM552.9 694.2L555.7 699.0L550.1 699.0ZM553.8 695.4L556.6 700.2L551.0 700.2ZM554.7 693.2L557.5 698.1L551.9 698.1ZM555.6 695.0L558.4 699.8L552.8 699.8ZM556.5 697.1L559.3 702.0L553.7 702.0ZM557.4 694.6L560.2 699.4L554.6 699.4ZM558.3 697.9L561.1 702.8L555.5 702.8ZM559.2 693.7L562.0 698.6L556.4 698.6ZM560.1 693.2L562.9 698.0L557.3 698.0ZM561.0 696.9L563.8 701.8L558.2 701.8ZM561.9 695.8L564.7 700.6L559.1 700.6ZM562.8 699.1L565.6 703.9L560.0 703.9ZM563.7 693.4L566.5 698.3L560.9 698.3ZM564.6 698.0L567.4 702.9L561.8 702.9ZM565.5 697.5L568.3 702.4L562.7 702.4ZM566.4 695.4L569.2 700.3L563.6 700.3ZM567.3 693.7L570.1 698.6L564.5 698.6ZM568.2 697.1L571.0 702.0L565.4 702.0ZM569.1 698.1L571.9 703.0L566.3 703.0ZM570.0 696.2L572.8 701.0L567.2 701.0ZM570.9 696.2L573.7 701.0L568.1 701.0ZM571.8 697.7L574.6 702.5L569.0 702.5ZM572.7 697.1L575.5 702.0L569.9 702.0ZM573.6 695.8L576.4 700.7L570.8 700.7ZM574.5 694.2L577.3 699.1L571.7 699.1ZM575.4 696.1L578.2 701.0L572.6 701.0ZM576.3 696.8L579.1 701.6L573.5 701.6ZM577.2 699.2L580.0 704.1L574.4 704.1ZM578.1 699.9L580.9 704.7L575.3 704.7ZM579.0 696.8L581.8 701.7L576.2 701.7ZM579.9 695.2L582.7 700.1L577.1 700.1ZM580.8 694.5L583.6 699.4L578.0 699.4ZM581.7 697.4L584.5 702.2L578.9 702.2ZM582.6 698.1L585.4 703.0L579.8 703.0ZM583.5 694.7L586.3 699.6L580.7 699.6ZM584.4 697.8L587.2 702.7L581.6 702.7ZM585.3 700.0L588.1 704.8L582.5 704.8ZM586.2 695.7L589.0 700.6L583.4 700.6ZM587.1 699.6L589.9 704.4L584.3 704.4ZM588.0 696.1L590.8 700.9L585.2 700.9ZM588.9 697.6L591.7 702.5L586.1 702.5ZM589.8 699.1L592.6 704.0L587.0 704.0ZM590.7 694.5L593.5 699.3L587.9 699.3ZM591.6 695.5L594.4 700.3L588.8 700.3ZM592.5 700.0L595.3 704.8L589.7 704.8ZM593.4 693.5L596.2 698.4L590.6 698.4ZM594.3 695.2L597.1 700.1L591.5 700.1ZM595.2 696.4L598.0 701.3L592.4 701.3ZM596.1 698.3L598.9 703.2L593.3 703.2ZM597.0 697.5L599.8 702.4L594.2 702.4ZM597.9 699.6L600.7 704.5L595.1 704.5ZM598.8 697.8L601.6 702.7L596.0 702.7ZM599.7 693.1L602.5 698.0L596.9 698.0ZM600.6 693.6L603.4 698.5L597.8 698.5ZM601.5 693.4L604.3 698.3L598.7 698.3ZM602.4 696.2L605.2 701.0L599.6 701.0ZM603.3 693.4L606.1 698.2L600.5 698.2ZM604.2 696.9L607.0 701.7L601.4 701.7ZM605.1 697.6L607.9 702.5L602.3 702.5ZM606.0 694.6L608.8 699.5L603.2 699.5ZM606.9 699.2L609.7 704.1L604.1 704.1ZM607.8 696.1L610.6 701.0L605.0 701.0ZM608.7 699.9L611.5 704.8L605.9 704.8ZM609.6 695.7L612.4 700.6L606.8 700.6ZM610.5 697.6L613.3 702.4L607.7 702.4ZM611.4 697.0L614.2 701.9L608.6 701.9ZM612.3 695.1L615.1 700.0L609.5 700.0ZM613.2 698.7L616.0 703.6L610.4 703.6ZM614.1 693.3L616.9 698.2L611.3 698.2ZM615.0 695.0L617.8 699.9L612.2 699.9ZM615.9 695.5L618.7 700.4L613.1 700.4ZM616.8 699.5L619.6 704.3L614.0 704.3ZM617.7 696.8L620.5 701.7L614.9 701.7ZM618.6 693.6L621.4 698.4L615.8 698.4ZM619.5 695.4L622.3 700.3L616.7 700.3ZM620.4 697.6L623.2 702.5L617.6 702.5ZM621.3 699.0L624.1 703.9L618.5 703.9ZM622.2 694.1L625.0 699.0L619.4 699.0ZM623.1 698.8L625.9 703.7L620.3 703.7ZM624.0 696.1L626.8 701.0L621.2 701.0ZM624.9 697.0L627.7 701.9L622.1 701.9ZM625.8 696.3L628.6 701.2L623.0 701.2ZM626.7 696.5L629.5 701.3L623.9 701.3ZM627.6 700.3L630.4 705.2L624.8 705.2ZM628.5 699.8L631.3 704.7L625.7 704.7ZM629.4 699.8L632.2 704.7L626.6 704.7ZM630.3 698.6L633.1 703.4L627.5 703.4ZM631.2 698.3L634.0 703.2L628.4 703.2ZM632.1 694.4L634.9 699.3L629.3 699.3ZM633.0 693.7L635.8 698.6L630.2 698.6ZM633.9 699.3L636.7 704.1L631.1 704.1ZM634.8 698.2L637.6 703.0L632.0 703.0ZM635.7 697.9L638.5 702.8L632.9 702.8ZM636.6 695.7L639.4 700.5L633.8 700.5ZM637.5 695.4L640.3 700.2L634.7 700.2ZM638.4 699.9L641.2 704.8L635.6 704.8ZM639.3 697.2L642.1 702.1L636.5 702.1ZM640.2 693.6L643.0 698.5L637.4 698.5ZM641.1 695.8L643.9 700.7L638.3 700.7ZM642.0 695.9L644.8 700.7L639.2 700.7ZM642.9 693.9L645.7 698.7L640.1 698.7ZM643.8 700.2L646.6 705.1L641.0 705.1ZM644.7 699.7L647.5 704.5L641.9 704.5ZM645.6 699.0L648.4 703.9L642.8 703.9ZM646.5 693.3L649.3 698.2L643.7 698.2ZM647.4 696.2L650.2 701.1L644.6 701.1ZM648.3 694.1L651.1 698.9L645.5 698.9ZM649.2 698.3L652.0 703.2L646.4 703.2ZM650.1 698.9L652.9 703.8L647.3 703.8ZM651.0 698.7L653.8 703.6L648.2 703.6ZM651.9 698.7L654.7 703.6L649.1 703.6ZM652.8 694.0L655.6 698.9L650.0 698.9ZM653.7 693.3L656.5 698.1L650.9 698.1ZM654.6 693.8L657.4 698.6L651.8 698.6ZM655.5 699.0L658.3 703.9L652.7 703.9ZM656.4 698.9L659.2 703.8L653.6 703.8ZM657.3 696.7L660.1 701.5L654.5 701.5ZM658.2 694.7L661.0 699.6L655.4 699.6ZM659.1 699.0L661.9 703.9L656.3 703.9ZM660.0 693.9L662.8 698.7L657.2 698.7ZM660.9 695.3L663.7 700.1L658.1 700.1ZM661.8 693.0L664.6 697.9L659.0 697.9ZM662.7 699.8L665.5 704.7L659.9 704.7ZM663.6 695.8L666.4 700.7L660.8 700.7ZM664.5 698.3L667.3 703.2L661.7 703.2ZM665.4 698.5L668.2 703.4L662.6 703.4ZM666.3 696.9L669.1 701.8L663.5 701.8ZM667.2 699.8L670.0 704.6L664.4 704.6ZM668.1 698.3L670.9 703.1L665.3 703.1ZM669.0 699.3L671.8 704.2L666.2 704.2ZM669.9 699.5L672.7 704.4L667.1 704.4ZM670.8 693.4L673.6 698.2L668.0 698.2ZM671.7 698.0L674.5 702.9L668.9 702.9ZM672.6 694.3L675.4 699.2L669.8 699.2ZM673.5 695.0L676.3 699.9L670.7 699.9ZM674.4 695.1L677.2 699.9L671.6 699.9ZM675.3 699.6L678.1 704.5L672.5 704.5ZM676.2 693.1L679.0 697.9L673.4 697.9ZM677.1 695.7L679.9 700.5L674.3 700.5ZM678.0 693.5L680.8 698.4L675.2 698.4ZM678.9 699.6L681.7 704.4L676.1 704.4ZM679.8 696.1L682.6 700.9L677.0 700.9ZM680.7 697.5L683.5 702.3L677.9 702.3ZM681.6 696.2L684.4 701.0L678.8 701.0ZM682.5 697.9L685.3 702.7L679.7 702.7ZM683.4 694.9L686.2 699.7L680.6 699.7ZM684.3 695.4L687.1 700.2L681.5 700.2ZM685.2 697.7L688.0 702.5L682.4 702.5ZM686.1 697.4L688.9 702.2L683.3 702.2ZM687.0 698.6L689.8 703.5L684.2 703.5ZM687.9 694.6L690.7 699.4L685.1 699.4ZM688.8 698.3L691.6 703.2L686.0 703.2ZM689.7 697.5L692.5 702.4L686.9 702.4ZM690.6 696.4L693.4 701.2L687.8 701.2ZM691.5 695.2L694.3 700.0L688.7 700.0ZM692.4 696.3L695.2 701.1L689.6 701.1ZM693.3 692.8L696.1 697.7L690.5 697.7ZM694.2 692.9L697.0 697.8L691.4 697.8ZM695.1 694.4L697.9 699.3L692.3 699.3ZM696.0 693.1L698.8 697.9L693.2 697.9ZM696.9 692.5L699.7 697.4L694.1 697.4ZM417.0 573.3L419.8 578.2L414.2 578.2Z" fill="#EA7118"/><path d="M414.8 627.3a2.2 2.2 0 1 0 4.4 0a2.2 2.2 0 1 0 -4.4 0M415.7 628.5a2.2 2.2 0 1 0 4.4 0a2.2 2.2 0 1 0 -4.4 0M416.6 628.8a2.2 2.2 0 1 0 4.4 0a2.2 2.2 0 1 0 -4.4 0M417.5 627.5a2.2 2.2 0 1 0 4.4 0a2.2 2.2 0 1 0 -4.4 0M418.4 631.6a2.2 2.2 0 1 0 4.4 0a2.2 2.2 0 1 0 -4.4 0M419.3 633.3a2.2 2.2 0 1 0 4.4 0a2.2 2.2 0 1 0 -4.4 0M420.2 633.2a2.2 2.2 0 1 0 4.4 0a2.2 2.2 0 1 0 -4.4 0M421.1 631.9a2.2 2.2 0 1 0 4.4 0a2.2 2.2 0 1 0 -4.4 0M422.0 635.0a2.2 2.2 0 1 0 4.4 0a2.2 2.2 0 1 0 -4.4 0M422.9 635.1a2.2 2.2 0 1 0 4.4 0a2.2 2.2 0 1 0 -4.4 0M423.8 635.4a2.2 2.2 0 1 0 4.4 0a2.2 2.2 0 1 0 -4.4 0M424.7 635.7a2.2 2.2 0 1 0 4.4 0a2.2 2.2 0 1 0 -4.4 0M425.6 641.1a2.2 2.2 0 1 0 4.4 0a2.2 2.2 0 1 0 -4.4 0M426.5 640.8a2.2 2.2 0 1 0 4.4 0a2.2 2.2 0 1 0 -4.4 0M427.4 643.7a2.2 2.2 0 1 0 4.4 0a2.2 2.2 0 1 0 -4.4 0M428.3 640.2a2.2 2.2 0 1 0 4.4 0a2.2 2.2 0 1 0 -4.4 0M429.2 641.4a2.2 2.2 0 1 0 4.4 0a2.2 2.2 0 1 0 -4.4 0M430.1 643.4a2.2 2.2 0 1 0 4.4 0a2.2 2.2 0 1 0 -4.4 0M431.0 641.2a2.2 2.2 0 1 0 4.4 0a2.2 2.2 0 1 0 -4.4 0M431.9 643.1a2.2 2.2 0 1 0 4.4 0a2.2 2.2 0 1 0 -4.4 0M432.8 645.0a2.2 2.2 0 1 0 4.4 0a2.2 2.2 0 1 0 -4.4 0M433.7 645.2a2.2 2.2 0 1 0 4.4 0a2.2 2.2 0 1 0 -4.4 0M434.6 648.3a2.2 2.2 0 1 0 4.4 0a2.2 2.2 0 1 0 -4.4 0M435.5 646.8a2.2 2.2 0 1 0 4.4 0a2.2 2.2 0 1 0 -4.4 0M436.4 647.6a2.2 2.2 0 1 0 4.4 0a2.2 2.2 0 1 0 -4.4 0M437.3 647.8a2.2 2.2 0 1 0 4.4 0a2.2 2.2 0 1 0 -4.4 0M438.2 649.5a2.2 2.2 0 1 0 4.4 0a2.2 2.2 0 1 0 -4.4 0M439.1 647.5a2.2 2.2 0 1 0 4.4 0a2.2 2.2 0 1 0 -4.4 0M440.0 645.8a2.2 2.2 0 1 0 4.4 0a2.2 2.2 0 1 0 -4.4 0M440.9 652.2a2.2 2.2 0 1 0 4.4 0a2.2 2.2 0 1 0 -4.4 0M441.8 651.6a2.2 2.2 0 1 0 4.4 0a2.2 2.2 0 1 0 -4.4 0M442.7 648.1a2.2 2.2 0 1 0 4.4 0a2.2 2.2 0 1 0 -4.4 0M443.6 648.5a2.2 2.2 0 1 0 4.4 0a2.2 2.2 0 1 0 -4.4 0M444.5 649.7a2.2 2.2 0 1 0 4.4 0a2.2 2.2 0 1 0 -4.4 0M445.4 652.8a2.2 2.2 0 1 0 4.4 0a2.2 2.2 0 1 0 -4.4 0M446.3 650.2a2.2 2.2 0 1 0 4.4 0a2.2 2.2 0 1 0 -4.4 0M447.2 650.0a2.2 2.2 0 1 0 4.4 0a2.2 2.2 0 1 0 -4.4 0M448.1 653.3a2.2 2.2 0 1 0 4.4 0a2.2 2.2 0 1 0 -4.4 0M449.0 650.9a2.2 2.2 0 1 0 4.4 0a2.2 2.2 0 1 0 -4.4 0M449.9 652.9a2.2 2.2 0 1 0 4.4 0a2.2 2.2 0 1 0 -4.4 0M450.8 654.2a2.2 2.2 0 1 0 4.4 0a2.2 2.2 0 1 0 -4.4 0M451.7 653.6a2.2 2.2 0 1 0 4.4 0a2.2 2.2 0 1 0 -4.4 0M452.6 652.7a2.2 2.2 0 1 0 4.4 0a2.2 2.2 0 1 0 -4.4 0M453.5 654.5a2.2 2.2 0 1 0 4.4 0a2.2 2.2 0 1 0 -4.4 0M454.4 654.7a2.2 2.2 0 1 0 4.4 0a2.2 2.2 0 1 0 -4.4 0M455.3 655.5a2.2 2.2 0 1 0 4.4 0a2.2 2.2 0 1 0 -4.4 0M456.2 656.3a2.2 2.2 0 1 0 4.4 0a2.2 2.2 0 1 0 -4.4 0M457.1 656.2a2.2 2.2 0 1 0 4.4 0a2.2 2.2 0 1 0 -4.4 0M458.0 656.3a2.2 2.2 0 1 0 4.4 0a2.2 2.2 0 1 0 -4.4 0M458.9 654.7a2.2 2.2 0 1 0 4.4 0a2.2 2.2 0 1 0 -4.4 0M459.8 659.9a2.2 2.2 0 1 0 4.4 0a2.2 2.2 0 1 0 -4.4 0M460.7 659.6a2.2 2.2 0 1 0 4.4 0a2.2 2.2 0 1 0 -4.4 0M461.6 658.4a2.2 2.2 0 1 0 4.4 0a2.2 2.2 0 1 0 -4.4 0M462.5 655.7a2.2 2.2 0 1 0 4.4 0a2.2 2.2 0 1 0 -4.4 0M463.4 657.3a2.2 2.2 0 1 0 4.4 0a2.2 2.2 0 1 0 -4.4 0M464.3 661.6a2.2 2.2 0 1 0 4.4 0a2.2 2.2 0 1 0 -4.4 0M465.2 659.2a2.2 2.2 0 1 0 4.4 0a2.2 2.2 0 1 0 -4.4 0M466.1 658.0a2.2 2.2 0 1 0 4.4 0a2.2 2.2 0 1 0 -4.4 0M467.0 661.9a2.2 2.2 0 1 0 4.4 0a2.2 2.2 0 1 0 -4.4 0M467.9 662.6a2.2 2.2 0 1 0 4.4 0a2.2 2.2 0 1 0 -4.4 0M468.8 658.3a2.2 2.2 0 1 0 4.4 0a2.2 2.2 0 1 0 -4.4 0M469.7 660.8a2.2 2.2 0 1 0 4.4 0a2.2 2.2 0 1 0 -4.4 0M470.6 661.5a2.2 2.2 0 1 0 4.4 0a2.2 2.2 0 1 0 -4.4 0M471.5 659.1a2.2 2.2 0 1 0 4.4 0a2.2 2.2 0 1 0 -4.4 0M472.4 660.5a2.2 2.2 0 1 0 4.4 0a2.2 2.2 0 1 0 -4.4 0M473.3 662.6a2.2 2.2 0 1 0 4.4 0a2.2 2.2 0 1 0 -4.4 0M474.2 663.2a2.2 2.2 0 1 0 4.4 0a2.2 2.2 0 1 0 -4.4 0M475.1 663.2a2.2 2.2 0 1 0 4.4 0a2.2 2.2 0 1 0 -4.4 0M476.0 663.4a2.2 2.2 0 1 0 4.4 0a2.2 2.2 0 1 0 -4.4 0M476.9 662.2a2.2 2.2 0 1 0 4.4 0a2.2 2.2 0 1 0 -4.4 0M477.8 660.7a2.2 2.2 0 1 0 4.4 0a2.2 2.2 0 1 0 -4.4 0M478.7 660.5a2.2 2.2 0 1 0 4.4 0a2.2 2.2 0 1 0 -4.4 0M479.6 665.5a2.2 2.2 0 1 0 4.4 0a2.2 2.2 0 1 0 -4.4 0M480.5 665.7a2.2 2.2 0 1 0 4.4 0a2.2 2.2 0 1 0 -4.4 0M481.4 666.1a2.2 2.2 0 1 0 4.4 0a2.2 2.2 0 1 0 -4.4 0M482.3 661.2a2.2 2.2 0 1 0 4.4 0a2.2 2.2 0 1 0 -4.4 0M483.2 665.4a2.2 2.2 0 1 0 4.4 0a2.2 2.2 0 1 0 -4.4 0M484.1 661.9a2.2 2.2 0 1 0 4.4 0a2.2 2.2 0 1 0 -4.4 0M485.0 663.1a2.2 2.2 0 1 0 4.4 0a2.2 2.2 0 1 0 -4.4 0M485.9 662.3a2.2 2.2 0 1 0 4.4 0a2.2 2.2 0 1 0 -4.4 0M486.8 666.3a2.2 2.2 0 1 0 4.4 0a2.2 2.2 0 1 0 -4.4 0M487.7 666.2a2.2 2.2 0 1 0 4.4 0a2.2 2.2 0 1 0 -4.4 0M488.6 666.4a2.2 2.2 0 1 0 4.4 0a2.2 2.2 0 1 0 -4.4 0M489.5 663.7a2.2 2.2 0 1 0 4.4 0a2.2 2.2 0 1 0 -4.4 0M490.4 667.2a2.2 2.2 0 1 0 4.4 0a2.2 2.2 0 1 0 -4.4 0M491.3 663.2a2.2 2.2 0 1 0 4.4 0a2.2 2.2 0 1 0 -4.4 0M492.2 665.2a2.2 2.2 0 1 0 4.4 0a2.2 2.2 0 1 0 -4.4 0M493.1 665.8a2.2 2.2 0 1 0 4.4 0a2.2 2.2 0 1 0 -4.4 0M494.0 663.3a2.2 2.2 0 1 0 4.4 0a2.2 2.2 0 1 0 -4.4 0M494.9 664.3a2.2 2.2 0 1 0 4.4 0a2.2 2.2 0 1 0 -4.4 0M495.8 662.7a2.2 2.2 0 1 0 4.4 0a2.2 2.2 0 1 0 -4.4 0M496.7 666.9a2.2 2.2 0 1 0 4.4 0a2.2 2.2 0 1 0 -4.4 0M497.6 663.4a2.2 2.2 0 1 0 4.4 0a2.2 2.2 0 1 0 -4.4 0M498.5 663.2a2.2 2.2 0 1 0 4.4 0a2.2 2.2 0 1 0 -4.4 0M499.4 664.1a2.2 2.2 0 1 0 4.4 0a2.2 2.2 0 1 0 -4.4 0M500.3 666.4a2.2 2.2 0 1 0 4.4 0a2.2 2.2 0 1 0 -4.4 0M501.2 666.4a2.2 2.2 0 1 0 4.4 0a2.2 2.2 0 1 0 -4.4 0M502.1 665.8a2.2 2.2 0 1 0 4.4 0a2.2 2.2 0 1 0 -4.4 0M503.0 667.9a2.2 2.2 0 1 0 4.4 0a2.2 2.2 0 1 0 -4.4 0M503.9 667.4a2.2 2.2 0 1 0 4.4 0a2.2 2.2 0 1 0 -4.4 0M504.8 664.3a2.2 2.2 0 1 0 4.4 0a2.2 2.2 0 1 0 -4.4 0M505.7 666.4a2.2 2.2 0 1 0 4.4 0a2.2 2.2 0 1 0 -4.4 0M506.6 664.4a2.2 2.2 0 1 0 4.4 0a2.2 2.2 0 1 0 -4.4 0M507.5 665.0a2.2 2.2 0 1 0 4.4 0a2.2 2.2 0 1 0 -4.4 0M508.4 664.6a2.2 2.2 0 1 0 4.4 0a2.2 2.2 0 1 0 -4.4 0M509.3 664.4a2.2 2.2 0 1 0 4.4 0a2.2 2.2 0 1 0 -4.4 0M510.2 666.2a2.2 2.2 0 1 0 4.4 0a2.2 2.2 0 1 0 -4.4 0M511.1 669.6a2.2 2.2 0 1 0 4.4 0a2.2 2.2 0 1 0 -4.4 0M512.0 668.4a2.2 2.2 0 1 0 4.4 0a2.2 2.2 0 1 0 -4.4 0M512.9 665.2a2.2 2.2 0 1 0 4.4 0a2.2 2.2 0 1 0 -4.4 0M513.8 666.1a2.2 2.2 0 1 0 4.4 0a2.2 2.2 0 1 0 -4.4 0M514.7 668.6a2.2 2.2 0 1 0 4.4 0a2.2 2.2 0 1 0 -4.4 0M515.6 668.4a2.2 2.2 0 1 0 4.4 0a2.2 2.2 0 1 0 -4.4 0M516.5 665.5a2.2 2.2 0 1 0 4.4 0a2.2 2.2 0 1 0 -4.4 0M517.4 666.1a2.2 2.2 0 1 0 4.4 0a2.2 2.2 0 1 0 -4.4 0M518.3 669.1a2.2 2.2 0 1 0 4.4 0a2.2 2.2 0 1 0 -4.4 0M519.2 669.5a2.2 2.2 0 1 0 4.4 0a2.2 2.2 0 1 0 -4.4 0M520.1 666.6a2.2 2.2 0 1 0 4.4 0a2.2 2.2 0 1 0 -4.4 0M521.0 670.9a2.2 2.2 0 1 0 4.4 0a2.2 2.2 0 1 0 -4.4 0M521.9 667.9a2.2 2.2 0 1 0 4.4 0a2.2 2.2 0 1 0 -4.4 0M522.8 670.2a2.2 2.2 0 1 0 4.4 0a2.2 2.2 0 1 0 -4.4 0M523.7 670.0a2.2 2.2 0 1 0 4.4 0a2.2 2.2 0 1 0 -4.4 0M524.6 669.0a2.2 2.2 0 1 0 4.4 0a2.2 2.2 0 1 0 -4.4 0M525.5 672.8a2.2 2.2 0 1 0 4.4 0a2.2 2.2 0 1 0 -4.4 0M526.4 669.7a2.2 2.2 0 1 0 4.4 0a2.2 2.2 0 1 0 -4.4 0M527.3 670.1a2.2 2.2 0 1 0 4.4 0a2.2 2.2 0 1 0 -4.4 0M528.2 670.9a2.2 2.2 0 1 0 4.4 0a2.2 2.2 0 1 0 -4.4 0M529.1 672.9a2.2 2.2 0 1 0 4.4 0a2.2 2.2 0 1 0 -4.4 0M530.0 674.0a2.2 2.2 0 1 0 4.4 0a2.2 2.2 0 1 0 -4.4 0M530.9 672.8a2.2 2.2 0 1 0 4.4 0a2.2 2.2 0 1 0 -4.4 0M531.8 671.4a2.2 2.2 0 1 0 4.4 0a2.2 2.2 0 1 0 -4.4 0M532.7 672.5a2.2 2.2 0 1 0 4.4 0a2.2 2.2 0 1 0 -4.4 0M533.6 672.1a2.2 2.2 0 1 0 4.4 0a2.2 2.2 0 1 0 -4.4 0M534.5 674.1a2.2 2.2 0 1 0 4.4 0a2.2 2.2 0 1 0 -4.4 0M535.4 674.2a2.2 2.2 0 1 0 4.4 0a2.2 2.2 0 1 0 -4.4 0M536.3 673.0a2.2 2.2 0 1 0 4.4 0a2.2 2.2 0 1 0 -4.4 0M537.2 669.8a2.2 2.2 0 1 0 4.4 0a2.2 2.2 0 1 0 -4.4 0M538.1 672.0a2.2 2.2 0 1 0 4.4 0a2.2 2.2 0 1 0 -4.4 0M539.0 671.3a2.2 2.2 0 1 0 4.4 0a2.2 2.2 0 1 0 -4.4 0M539.9 670.1a2.2 2.2 0 1 0 4.4 0a2.2 2.2 0 1 0 -4.4 0M540.8 673.4a2.2 2.2 0 1 0 4.4 0a2.2 2.2 0 1 0 -4.4 0M541.7 670.1a2.2 2.2 0 1 0 4.4 0a2.2 2.2 0 1 0 -4.4 0M542.6 673.1a2.2 2.2 0 1 0 4.4 0a2.2 2.2 0 1 0 -4.4 0M543.5 671.8a2.2 2.2 0 1 0 4.4 0a2.2 2.2 0 1 0 -4.4 0M544.4 671.5a2.2 2.2 0 1 0 4.4 0a2.2 2.2 0 1 0 -4.4 0M545.3 673.2a2.2 2.2 0 1 0 4.4 0a2.2 2.2 0 1 0 -4.4 0M546.2 673.4a2.2 2.2 0 1 0 4.4 0a2.2 2.2 0 1 0 -4.4 0M547.1 675.0a2.2 2.2 0 1 0 4.4 0a2.2 2.2 0 1 0 -4.4 0M548.0 675.1a2.2 2.2 0 1 0 4.4 0a2.2 2.2 0 1 0 -4.4 0M548.9 674.0a2.2 2.2 0 1 0 4.4 0a2.2 2.2 0 1 0 -4.4 0M549.8 670.8a2.2 2.2 0 1 0 4.4 0a2.2 2.2 0 1 0 -4.4 0M550.7 673.3a2.2 2.2 0 1 0 4.4 0a2.2 2.2 0 1 0 -4.4 0M551.6 672.3a2.2 2.2 0 1 0 4.4 0a2.2 2.2 0 1 0 -4.4 0M552.5 675.0a2.2 2.2 0 1 0 4.4 0a2.2 2.2 0 1 0 -4.4 0M553.4 672.1a2.2 2.2 0 1 0 4.4 0a2.2 2.2 0 1 0 -4.4 0M554.3 671.6a2.2 2.2 0 1 0 4.4 0a2.2 2.2 0 1 0 -4.4 0M555.2 669.7a2.2 2.2 0 1 0 4.4 0a2.2 2.2 0 1 0 -4.4 0M556.1 672.4a2.2 2.2 0 1 0 4.4 0a2.2 2.2 0 1 0 -4.4 0M557.0 672.9a2.2 2.2 0 1 0 4.4 0a2.2 2.2 0 1 0 -4.4 0M557.9 671.6a2.2 2.2 0 1 0 4.4 0a2.2 2.2 0 1 0 -4.4 0M558.8 670.4a2.2 2.2 0 1 0 4.4 0a2.2 2.2 0 1 0 -4.4 0M559.7 672.7a2.2 2.2 0 1 0 4.4 0a2.2 2.2 0 1 0 -4.4 0M560.6 670.3a2.2 2.2 0 1 0 4.4 0a2.2 2.2 0 1 0 -4.4 0M561.5 671.0a2.2 2.2 0 1 0 4.4 0a2.2 2.2 0 1 0 -4.4 0M562.4 672.6a2.2 2.2 0 1 0 4.4 0a2.2 2.2 0 1 0 -4.4 0M563.3 672.1a2.2 2.2 0 1 0 4.4 0a2.2 2.2 0 1 0 -4.4 0M564.2 673.0a2.2 2.2 0 1 0 4.4 0a2.2 2.2 0 1 0 -4.4 0M565.1 673.2a2.2 2.2 0 1 0 4.4 0a2.2 2.2 0 1 0 -4.4 0M566.0 672.4a2.2 2.2 0 1 0 4.4 0a2.2 2.2 0 1 0 -4.4 0M566.9 670.9a2.2 2.2 0 1 0 4.4 0a2.2 2.2 0 1 0 -4.4 0M567.8 670.3a2.2 2.2 0 1 0 4.4 0a2.2 2.2 0 1 0 -4.4 0M568.7 673.5a2.2 2.2 0 1 0 4.4 0a2.2 2.2 0 1 0 -4.4 0M569.6 676.0a2.2 2.2 0 1 0 4.4 0a2.2 2.2 0 1 0 -4.4 0M570.5 671.9a2.2 2.2 0 1 0 4.4 0a2.2 2.2 0 1 0 -4.4 0M571.4 672.4a2.2 2.2 0 1 0 4.4 0a2.2 2.2 0 1 0 -4.4 0M572.3 672.2a2.2 2.2 0 1 0 4.4 0a2.2 2.2 0 1 0 -4.4 0M573.2 674.8a2.2 2.2 0 1 0 4.4 0a2.2 2.2 0 1 0 -4.4 0M574.1 673.3a2.2 2.2 0 1 0 4.4 0a2.2 2.2 0 1 0 -4.4 0M575.0 675.1a2.2 2.2 0 1 0 4.4 0a2.2 2.2 0 1 0 -4.4 0M575.9 670.4a2.2 2.2 0 1 0 4.4 0a2.2 2.2 0 1 0 -4.4 0M576.8 671.2a2.2 2.2 0 1 0 4.4 0a2.2 2.2 0 1 0 -4.4 0M577.7 671.7a2.2 2.2 0 1 0 4.4 0a2.2 2.2 0 1 0 -4.4 0M578.6 672.7a2.2 2.2 0 1 0 4.4 0a2.2 2.2 0 1 0 -4.4 0M579.5 672.9a2.2 2.2 0 1 0 4.4 0a2.2 2.2 0 1 0 -4.4 0M580.4 672.8a2.2 2.2 0 1 0 4.4 0a2.2 2.2 0 1 0 -4.4 0M581.3 676.3a2.2 2.2 0 1 0 4.4 0a2.2 2.2 0 1 0 -4.4 0M582.2 673.2a2.2 2.2 0 1 0 4.4 0a2.2 2.2 0 1 0 -4.4 0M583.1 674.0a2.2 2.2 0 1 0 4.4 0a2.2 2.2 0 1 0 -4.4 0M584.0 676.4a2.2 2.2 0 1 0 4.4 0a2.2 2.2 0 1 0 -4.4 0M584.9 674.4a2.2 2.2 0 1 0 4.4 0a2.2 2.2 0 1 0 -4.4 0M585.8 674.1a2.2 2.2 0 1 0 4.4 0a2.2 2.2 0 1 0 -4.4 0M586.7 675.4a2.2 2.2 0 1 0 4.4 0a2.2 2.2 0 1 0 -4.4 0M587.6 672.4a2.2 2.2 0 1 0 4.4 0a2.2 2.2 0 1 0 -4.4 0M588.5 670.6a2.2 2.2 0 1 0 4.4 0a2.2 2.2 0 1 0 -4.4 0M589.4 676.1a2.2 2.2 0 1 0 4.4 0a2.2 2.2 0 1 0 -4.4 0M590.3 673.5a2.2 2.2 0 1 0 4.4 0a2.2 2.2 0 1 0 -4.4 0M591.2 673.7a2.2 2.2 0 1 0 4.4 0a2.2 2.2 0 1 0 -4.4 0M592.1 670.6a2.2 2.2 0 1 0 4.4 0a2.2 2.2 0 1 0 -4.4 0M593.0 674.6a2.2 2.2 0 1 0 4.4 0a2.2 2.2 0 1 0 -4.4 0M593.9 672.3a2.2 2.2 0 1 0 4.4 0a2.2 2.2 0 1 0 -4.4 0M594.8 673.9a2.2 2.2 0 1 0 4.4 0a2.2 2.2 0 1 0 -4.4 0M595.7 671.7a2.2 2.2 0 1 0 4.4 0a2.2 2.2 0 1 0 -4.4 0M596.6 675.5a2.2 2.2 0 1 0 4.4 0a2.2 2.2 0 1 0 -4.4 0M597.5 672.1a2.2 2.2 0 1 0 4.4 0a2.2 2.2 0 1 0 -4.4 0M598.4 671.5a2.2 2.2 0 1 0 4.4 0a2.2 2.2 0 1 0 -4.4 0M599.3 675.2a2.2 2.2 0 1 0 4.4 0a2.2 2.2 0 1 0 -4.4 0M600.2 671.1a2.2 2.2 0 1 0 4.4 0a2.2 2.2 0 1 0 -4.4 0M601.1 671.4a2.2 2.2 0 1 0 4.4 0a2.2 2.2 0 1 0 -4.4 0M602.0 672.6a2.2 2.2 0 1 0 4.4 0a2.2 2.2 0 1 0 -4.4 0M602.9 675.5a2.2 2.2 0 1 0 4.4 0a2.2 2.2 0 1 0 -4.4 0M603.8 670.3a2.2 2.2 0 1 0 4.4 0a2.2 2.2 0 1 0 -4.4 0M604.7 670.8a2.2 2.2 0 1 0 4.4 0a2.2 2.2 0 1 0 -4.4 0M605.6 674.3a2.2 2.2 0 1 0 4.4 0a2.2 2.2 0 1 0 -4.4 0M606.5 669.9a2.2 2.2 0 1 0 4.4 0a2.2 2.2 0 1 0 -4.4 0M607.4 671.9a2.2 2.2 0 1 0 4.4 0a2.2 2.2 0 1 0 -4.4 0M608.3 674.1a2.2 2.2 0 1 0 4.4 0a2.2 2.2 0 1 0 -4.4 0M609.2 673.6a2.2 2.2 0 1 0 4.4 0a2.2 2.2 0 1 0 -4.4 0M610.1 674.1a2.2 2.2 0 1 0 4.4 0a2.2 2.2 0 1 0 -4.4 0M611.0 670.3a2.2 2.2 0 1 0 4.4 0a2.2 2.2 0 1 0 -4.4 0M611.9 675.2a2.2 2.2 0 1 0 4.4 0a2.2 2.2 0 1 0 -4.4 0M612.8 672.3a2.2 2.2 0 1 0 4.4 0a2.2 2.2 0 1 0 -4.4 0M613.7 675.3a2.2 2.2 0 1 0 4.4 0a2.2 2.2 0 1 0 -4.4 0M614.6 673.5a2.2 2.2 0 1 0 4.4 0a2.2 2.2 0 1 0 -4.4 0M615.5 676.2a2.2 2.2 0 1 0 4.4 0a2.2 2.2 0 1 0 -4.4 0M616.4 674.0a2.2 2.2 0 1 0 4.4 0a2.2 2.2 0 1 0 -4.4 0M617.3 672.9a2.2 2.2 0 1 0 4.4 0a2.2 2.2 0 1 0 -4.4 0M618.2 672.6a2.2 2.2 0 1 0 4.4 0a2.2 2.2 0 1 0 -4.4 0M619.1 674.9a2.2 2.2 0 1 0 4.4 0a2.2 2.2 0 1 0 -4.4 0M620.0 672.5a2.2 2.2 0 1 0 4.4 0a2.2 2.2 0 1 0 -4.4 0M620.9 673.4a2.2 2.2 0 1 0 4.4 0a2.2 2.2 0 1 0 -4.4 0M621.8 677.9a2.2 2.2 0 1 0 4.4 0a2.2 2.2 0 1 0 -4.4 0M622.7 676.4a2.2 2.2 0 1 0 4.4 0a2.2 2.2 0 1 0 -4.4 0M623.6 678.4a2.2 2.2 0 1 0 4.4 0a2.2 2.2 0 1 0 -4.4 0M624.5 674.4a2.2 2.2 0 1 0 4.4 0a2.2 2.2 0 1 0 -4.4 0M625.4 676.6a2.2 2.2 0 1 0 4.4 0a2.2 2.2 0 1 0 -4.4 0M626.3 676.8a2.2 2.2 0 1 0 4.4 0a2.2 2.2 0 1 0 -4.4 0M627.2 674.9a2.2 2.2 0 1 0 4.4 0a2.2 2.2 0 1 0 -4.4 0M628.1 676.1a2.2 2.2 0 1 0 4.4 0a2.2 2.2 0 1 0 -4.4 0M475.4 630.7a2.2 2.2 0 1 0 4.4 0a2.2 2.2 0 1 0 -4.4 0M475.4 645.0a2.2 2.2 0 1 0 4.4 0a2.2 2.2 0 1 0 -4.4 0M495.0 686.3a2.2 2.2 0 1 0 4.4 0a2.2 2.2 0 1 0 -4.4 0M414.8 590.4a2.2 2.2 0 1 0 4.4 0a2.2 2.2 0 1 0 -4.4 0" fill="#9B3503"/><path d="M417.0 621.5L419.6 624.1L417.0 626.7L414.4 624.1ZM417.9 621.4L420.5 624.0L417.9 626.6L415.3 624.0ZM418.8 621.1L421.4 623.7L418.8 626.3L416.2 623.7ZM419.7 622.7L422.3 625.3L419.7 627.9L417.1 625.3ZM420.6 625.3L423.2 627.9L420.6 630.5L418.0 627.9ZM421.5 626.8L424.1 629.4L421.5 632.0L418.9 629.4ZM422.4 625.7L425.0 628.3L422.4 630.9L419.8 628.3ZM423.3 623.5L425.9 626.1L423.3 628.7L420.7 626.1ZM424.2 629.4L426.8 632.0L424.2 634.6L421.6 632.0ZM425.1 626.2L427.7 628.8L425.1 631.4L422.5 628.8ZM426.0 627.7L428.6 630.3L426.0 632.9L423.4 630.3ZM426.9 628.1L429.5 630.7L426.9 633.3L424.3 630.7ZM427.8 631.4L430.4 634.0L427.8 636.6L425.2 634.0ZM428.7 632.8L431.3 635.4L428.7 638.0L426.1 635.4ZM429.6 633.1L432.2 635.7L429.6 638.3L427.0 635.7ZM430.5 634.2L433.1 636.8L430.5 639.4L427.9 636.8ZM431.4 632.8L434.0 635.4L431.4 638.0L428.8 635.4ZM432.3 636.6L434.9 639.2L432.3 641.8L429.7 639.2ZM433.2 635.9L435.8 638.5L433.2 641.1L430.6 638.5ZM434.1 635.0L436.7 637.6L434.1 640.2L431.5 637.6ZM435.0 638.5L437.6 641.1L435.0 643.7L432.4 641.1ZM435.9 639.6L438.5 642.2L435.9 644.8L433.3 642.2ZM436.8 639.9L439.4 642.5L436.8 645.1L434.2 642.5ZM437.7 640.7L440.3 643.3L437.7 645.9L435.1 643.3ZM438.6 635.6L441.2 638.2L438.6 640.8L436.0 638.2ZM439.5 637.9L442.1 640.5L439.5 643.1L436.9 640.5ZM440.4 638.7L443.0 641.3L440.4 643.9L437.8 641.3ZM441.3 637.9L443.9 640.5L441.3 643.1L438.7 640.5ZM442.2 641.2L444.8 643.8L442.2 646.4L439.6 643.8ZM443.1 642.6L445.7 645.2L443.1 647.8L440.5 645.2ZM444.0 638.4L446.6 641.0L444.0 643.6L441.4 641.0ZM444.9 641.0L447.5 643.6L444.9 646.2L442.3 643.6ZM445.8 644.2L448.4 646.8L445.8 649.4L443.2 646.8ZM446.7 644.1L449.3 646.7L446.7 649.3L444.1 646.7ZM447.6 641.9L450.2 644.5L447.6 647.1L445.0 644.5ZM448.5 640.2L451.1 642.8L448.5 645.4L445.9 642.8ZM449.4 642.7L452.0 645.3L449.4 647.9L446.8 645.3ZM450.3 643.5L452.9 646.1L450.3 648.7L447.7 646.1ZM451.2 645.5L453.8 648.1L451.2 650.7L448.6 648.1ZM452.1 642.3L454.7 644.9L452.1 647.5L449.5 644.9ZM453.0 643.3L455.6 645.9L453.0 648.5L450.4 645.9ZM453.9 647.9L456.5 650.5L453.9 653.1L451.3 650.5ZM454.8 642.3L457.4 644.9L454.8 647.5L452.2 644.9ZM455.7 646.1L458.3 648.7L455.7 651.3L453.1 648.7ZM456.6 643.2L459.2 645.8L456.6 648.4L454.0 645.8ZM457.5 647.3L460.1 649.9L457.5 652.5L454.9 649.9ZM458.4 645.5L461.0 648.1L458.4 650.7L455.8 648.1ZM459.3 648.7L461.9 651.3L459.3 653.9L456.7 651.3ZM460.2 644.7L462.8 647.3L460.2 649.9L457.6 647.3ZM461.1 648.8L463.7 651.4L461.1 654.0L458.5 651.4ZM462.0 645.0L464.6 647.6L462.0 650.2L459.4 647.6ZM462.9 644.1L465.5 646.7L462.9 649.3L460.3 646.7ZM463.8 644.6L466.4 647.2L463.8 649.8L461.2 647.2ZM464.7 644.7L467.3 647.3L464.7 649.9L462.1 647.3ZM465.6 646.7L468.2 649.3L465.6 651.9L463.0 649.3ZM466.5 650.4L469.1 653.0L466.5 655.6L463.9 653.0ZM467.4 646.9L470.0 649.5L467.4 652.1L464.8 649.5ZM468.3 649.2L470.9 651.8L468.3 654.4L465.7 651.8ZM469.2 645.3L471.8 647.9L469.2 650.5L466.6 647.9ZM470.1 648.4L472.7 651.0L470.1 653.6L467.5 651.0ZM471.0 648.7L473.6 651.3L471.0 653.9L468.4 651.3ZM471.9 646.2L474.5 648.8L471.9 651.4L469.3 648.8ZM472.8 649.3L475.4 651.9L472.8 654.5L470.2 651.9ZM473.7 648.7L476.3 651.3L473.7 653.9L471.1 651.3ZM474.6 648.1L477.2 650.7L474.6 653.3L472.0 650.7ZM475.5 651.3L478.1 653.9L475.5 656.5L472.9 653.9ZM476.4 650.7L479.0 653.3L476.4 655.9L473.8 653.3ZM477.3 647.4L479.9 650.0L477.3 652.6L474.7 650.0ZM478.2 647.5L480.8 650.1L478.2 652.7L475.6 650.1ZM479.1 647.4L481.7 650.0L479.1 652.6L476.5 650.0ZM480.0 648.8L482.6 651.4L480.0 654.0L477.4 651.4ZM480.9 651.3L483.5 653.9L480.9 656.5L478.3 653.9ZM481.8 653.4L484.4 656.0L481.8 658.6L479.2 656.0ZM482.7 653.6L485.3 656.2L482.7 658.8L480.1 656.2ZM483.6 653.2L486.2 655.8L483.6 658.4L481.0 655.8ZM484.5 648.9L487.1 651.5L484.5 654.1L481.9 651.5ZM485.4 653.1L488.0 655.7L485.4 658.3L482.8 655.7ZM486.3 653.1L488.9 655.7L486.3 658.3L483.7 655.7ZM487.2 651.5L489.8 654.1L487.2 656.7L484.6 654.1ZM488.1 654.8L490.7 657.4L488.1 660.0L485.5 657.4ZM489.0 652.6L491.6 655.2L489.0 657.8L486.4 655.2ZM489.9 649.9L492.5 652.5L489.9 655.1L487.3 652.5ZM490.8 650.7L493.4 653.3L490.8 655.9L488.2 653.3ZM491.7 650.4L494.3 653.0L491.7 655.6L489.1 653.0ZM492.6 653.4L495.2 656.0L492.6 658.6L490.0 656.0ZM493.5 653.7L496.1 656.3L493.5 658.9L490.9 656.3ZM494.4 655.3L497.0 657.9L494.4 660.5L491.8 657.9ZM495.3 650.4L497.9 653.0L495.3 655.6L492.7 653.0ZM496.2 650.5L498.8 653.1L496.2 655.7L493.6 653.1ZM497.1 656.5L499.7 659.1L497.1 661.7L494.5 659.1ZM498.0 652.4L500.6 655.0L498.0 657.6L495.4 655.0ZM498.9 652.6L501.5 655.2L498.9 657.8L496.3 655.2ZM499.8 656.4L502.4 659.0L499.8 661.6L497.2 659.0ZM500.7 652.1L503.3 654.7L500.7 657.3L498.1 654.7ZM501.6 656.3L504.2 658.9L501.6 661.5L499.0 658.9ZM502.5 657.1L505.1 659.7L502.5 662.3L499.9 659.7ZM503.4 655.3L506.0 657.9L503.4 660.5L500.8 657.9ZM504.3 655.8L506.9 658.4L504.3 661.0L501.7 658.4ZM505.2 652.3L507.8 654.9L505.2 657.5L502.6 654.9ZM506.1 656.1L508.7 658.7L506.1 661.3L503.5 658.7ZM507.0 656.3L509.6 658.9L507.0 661.5L504.4 658.9ZM507.9 657.3L510.5 659.9L507.9 662.5L505.3 659.9ZM508.8 655.9L511.4 658.5L508.8 661.1L506.2 658.5ZM509.7 653.5L512.3 656.1L509.7 658.7L507.1 656.1ZM510.6 654.3L513.2 656.9L510.6 659.5L508.0 656.9ZM511.5 656.9L514.1 659.5L511.5 662.1L508.9 659.5ZM512.4 653.6L515.0 656.2L512.4 658.8L509.8 656.2ZM513.3 653.8L515.9 656.4L513.3 659.0L510.7 656.4ZM514.2 654.8L516.8 657.4L514.2 660.0L511.6 657.4ZM515.1 658.2L517.7 660.8L515.1 663.4L512.5 660.8ZM516.0 656.7L518.6 659.3L516.0 661.9L513.4 659.3ZM516.9 655.7L519.5 658.3L516.9 660.9L514.3 658.3ZM517.8 659.4L520.4 662.0L517.8 664.6L515.2 662.0ZM518.7 657.2L521.3 659.8L518.7 662.4L516.1 659.8ZM519.6 655.3L522.2 657.9L519.6 660.5L517.0 657.9ZM520.5 657.3L523.1 659.9L520.5 662.5L517.9 659.9ZM521.4 659.1L524.0 661.7L521.4 664.3L518.8 661.7ZM522.3 656.3L524.9 658.9L522.3 661.5L519.7 658.9ZM523.2 656.8L525.8 659.4L523.2 662.0L520.6 659.4ZM524.1 657.7L526.7 660.3L524.1 662.9L521.5 660.3ZM525.0 660.3L527.6 662.9L525.0 665.5L522.4 662.9ZM525.9 658.3L528.5 660.9L525.9 663.5L523.3 660.9ZM526.8 655.6L529.4 658.2L526.8 660.8L524.2 658.2ZM527.7 658.1L530.3 660.7L527.7 663.3L525.1 660.7ZM528.6 656.6L531.2 659.2L528.6 661.8L526.0 659.2ZM529.5 657.7L532.1 660.3L529.5 662.9L526.9 660.3ZM530.4 659.2L533.0 661.8L530.4 664.4L527.8 661.8ZM531.3 655.1L533.9 657.7L531.3 660.3L528.7 657.7ZM532.2 658.1L534.8 660.7L532.2 663.3L529.6 660.7ZM533.1 657.0L535.7 659.6L533.1 662.2L530.5 659.6ZM534.0 658.8L536.6 661.4L534.0 664.0L531.4 661.4ZM534.9 660.2L537.5 662.8L534.9 665.4L532.3 662.8ZM535.8 658.2L538.4 660.8L535.8 663.4L533.2 660.8ZM536.7 659.2L539.3 661.8L536.7 664.4L534.1 661.8ZM537.6 657.2L540.2 659.8L537.6 662.4L535.0 659.8ZM538.5 657.1L541.1 659.7L538.5 662.3L535.9 659.7ZM539.4 658.7L542.0 661.3L539.4 663.9L536.8 661.3ZM540.3 658.9L542.9 661.5L540.3 664.1L537.7 661.5ZM541.2 657.1L543.8 659.7L541.2 662.3L538.6 659.7ZM542.1 660.5L544.7 663.1L542.1 665.7L539.5 663.1ZM543.0 658.9L545.6 661.5L543.0 664.1L540.4 661.5ZM543.9 658.2L546.5 660.8L543.9 663.4L541.3 660.8ZM544.8 657.6L547.4 660.2L544.8 662.8L542.2 660.2ZM545.7 661.2L548.3 663.8L545.7 666.4L543.1 663.8ZM546.6 661.6L549.2 664.2L546.6 666.8L544.0 664.2ZM547.5 661.9L550.1 664.5L547.5 667.1L544.9 664.5ZM548.4 657.9L551.0 660.5L548.4 663.1L545.8 660.5ZM549.3 656.9L551.9 659.5L549.3 662.1L546.7 659.5ZM550.2 660.3L552.8 662.9L550.2 665.5L547.6 662.9ZM551.1 656.7L553.7 659.3L551.1 661.9L548.5 659.3ZM552.0 661.8L554.6 664.4L552.0 667.0L549.4 664.4ZM552.9 660.8L555.5 663.4L552.9 666.0L550.3 663.4ZM553.8 658.8L556.4 661.4L553.8 664.0L551.2 661.4ZM554.7 659.5L557.3 662.1L554.7 664.7L552.1 662.1ZM555.6 661.0L558.2 663.6L555.6 666.2L553.0 663.6ZM556.5 658.0L559.1 660.6L556.5 663.2L553.9 660.6ZM557.4 659.3L560.0 661.9L557.4 664.5L554.8 661.9ZM558.3 661.9L560.9 664.5L558.3 667.1L555.7 664.5ZM559.2 661.3L561.8 663.9L559.2 666.5L556.6 663.9ZM560.1 660.8L562.7 663.4L560.1 666.0L557.5 663.4ZM561.0 658.0L563.6 660.6L561.0 663.2L558.4 660.6ZM561.9 658.8L564.5 661.4L561.9 664.0L559.3 661.4ZM562.8 659.1L565.4 661.7L562.8 664.3L560.2 661.7ZM563.7 657.8L566.3 660.4L563.7 663.0L561.1 660.4ZM564.6 661.5L567.2 664.1L564.6 666.7L562.0 664.1ZM565.5 661.4L568.1 664.0L565.5 666.6L562.9 664.0ZM566.4 663.9L569.0 666.5L566.4 669.1L563.8 666.5ZM567.3 662.1L569.9 664.7L567.3 667.3L564.7 664.7ZM568.2 664.7L570.8 667.3L568.2 669.9L565.6 667.3ZM569.1 662.5L571.7 665.1L569.1 667.7L566.5 665.1ZM570.0 663.2L572.6 665.8L570.0 668.4L567.4 665.8ZM570.9 662.2L573.5 664.8L570.9 667.4L568.3 664.8ZM571.8 663.7L574.4 666.3L571.8 668.9L569.2 666.3ZM572.7 667.0L575.3 669.6L572.7 672.2L570.1 669.6ZM477.1 624.2L479.7 626.8L477.1 629.4L474.5 626.8ZM465.9 629.4L468.5 632.0L465.9 634.6L463.3 632.0ZM504.2 641.2L506.8 643.8L504.2 646.4L501.6 643.8ZM584.8 660.6L587.4 663.2L584.8 665.8L582.2 663.2ZM417.0 587.4L419.6 590.0L417.0 592.6L414.4 590.0ZM417.0 591.4L419.6 594.0L417.0 596.6L414.4 594.0Z" fill="#FEC04E"/><path d="M414.5 610.8h5.0M417.0 608.3v5.0M415.4 603.5h5.0M417.9 601.0v5.0M416.3 611.3h5.0M418.8 608.8v5.0M417.2 609.9h5.0M419.7 607.4v5.0M418.1 619.0h5.0M420.6 616.5v5.0M419.0 618.4h5.0M421.5 615.9v5.0M419.9 619.3h5.0M422.4 616.8v5.0M420.8 628.9h5.0M423.3 626.4v5.0M421.7 627.4h5.0M424.2 624.9v5.0M422.6 616.7h5.0M425.1 614.2v5.0M423.5 617.1h5.0M426.0 614.6v5.0M424.4 630.6h5.0M426.9 628.1v5.0M425.3 630.2h5.0M427.8 627.7v5.0M426.2 632.6h5.0M428.7 630.1v5.0M427.1 631.4h5.0M429.6 628.9v5.0M428.0 624.4h5.0M430.5 621.9v5.0M428.9 633.4h5.0M431.4 630.9v5.0M429.8 641.7h5.0M432.3 639.2v5.0M430.7 639.0h5.0M433.2 636.5v5.0M431.6 630.4h5.0M434.1 627.9v5.0M432.5 633.2h5.0M435.0 630.7v5.0M433.4 648.7h5.0M435.9 646.2v5.0M434.3 643.7h5.0M436.8 641.2v5.0M435.2 638.3h5.0M437.7 635.8v5.0M436.1 649.5h5.0M438.6 647.0v5.0M437.0 654.8h5.0M439.5 652.3v5.0M437.9 654.7h5.0M440.4 652.2v5.0M438.8 650.9h5.0M441.3 648.4v5.0M439.7 654.0h5.0M442.2 651.5v5.0M440.6 641.2h5.0M443.1 638.7v5.0M441.5 648.2h5.0M444.0 645.7v5.0M442.4 654.6h5.0M444.9 652.1v5.0M443.3 646.4h5.0M445.8 643.9v5.0M444.2 643.0h5.0M446.7 640.5v5.0M445.1 656.2h5.0M447.6 653.7v5.0M446.0 653.5h5.0M448.5 651.0v5.0M446.9 641.1h5.0M449.4 638.6v5.0M447.8 642.3h5.0M450.3 639.8v5.0M448.7 651.4h5.0M451.2 648.9v5.0M449.6 658.7h5.0M452.1 656.2v5.0M450.5 652.9h5.0M453.0 650.4v5.0M451.4 657.7h5.0M453.9 655.2v5.0M452.3 644.0h5.0M454.8 641.5v5.0M453.2 652.7h5.0M455.7 650.2v5.0M454.1 645.8h5.0M456.6 643.3v5.0M455.0 648.7h5.0M457.5 646.2v5.0M455.9 645.6h5.0M458.4 643.1v5.0M456.8 651.4h5.0M459.3 648.9v5.0M457.7 644.1h5.0M460.2 641.6v5.0M458.6 655.3h5.0M461.1 652.8v5.0M459.5 655.3h5.0M462.0 652.8v5.0M460.4 660.1h5.0M462.9 657.6v5.0M461.3 657.9h5.0M463.8 655.4v5.0M462.2 645.6h5.0M464.7 643.1v5.0M463.1 660.1h5.0M465.6 657.6v5.0M464.0 654.4h5.0M466.5 651.9v5.0M464.9 661.7h5.0M467.4 659.2v5.0M465.8 653.9h5.0M468.3 651.4v5.0M466.7 646.7h5.0M469.2 644.2v5.0M467.6 658.1h5.0M470.1 655.6v5.0M468.5 648.7h5.0M471.0 646.2v5.0M469.4 663.5h5.0M471.9 661.0v5.0M470.3 655.7h5.0M472.8 653.2v5.0M471.2 662.5h5.0M473.7 660.0v5.0M472.1 655.4h5.0M474.6 652.9v5.0M473.0 652.7h5.0M475.5 650.2v5.0M473.9 659.1h5.0M476.4 656.6v5.0M474.8 660.2h5.0M477.3 657.7v5.0M475.7 656.0h5.0M478.2 653.5v5.0M476.6 653.0h5.0M479.1 650.5v5.0M477.5 655.9h5.0M480.0 653.4v5.0M478.4 661.5h5.0M480.9 659.0v5.0M479.3 653.0h5.0M481.8 650.5v5.0M480.2 652.1h5.0M482.7 649.6v5.0M481.1 658.2h5.0M483.6 655.7v5.0M482.0 661.7h5.0M484.5 659.2v5.0M482.9 651.3h5.0M485.4 648.8v5.0M483.8 655.3h5.0M486.3 652.8v5.0M484.7 668.2h5.0M487.2 665.7v5.0M485.6 655.8h5.0M488.1 653.3v5.0M486.5 665.2h5.0M489.0 662.7v5.0M487.4 657.1h5.0M489.9 654.6v5.0M488.3 653.5h5.0M490.8 651.0v5.0M489.2 661.0h5.0M491.7 658.5v5.0M490.1 668.2h5.0M492.6 665.7v5.0M491.0 666.8h5.0M493.5 664.3v5.0M491.9 654.0h5.0M494.4 651.5v5.0M492.8 666.1h5.0M495.3 663.6v5.0M493.7 664.9h5.0M496.2 662.4v5.0M494.6 662.7h5.0M497.1 660.2v5.0M495.5 666.3h5.0M498.0 663.8v5.0M496.4 664.0h5.0M498.9 661.5v5.0M497.3 658.2h5.0M499.8 655.7v5.0M498.2 667.8h5.0M500.7 665.3v5.0M499.1 657.9h5.0M501.6 655.4v5.0M500.0 661.4h5.0M502.5 658.9v5.0M500.9 671.5h5.0M503.4 669.0v5.0M501.8 666.7h5.0M504.3 664.2v5.0M502.7 665.9h5.0M505.2 663.4v5.0M503.6 669.8h5.0M506.1 667.3v5.0M504.5 666.4h5.0M507.0 663.9v5.0M505.4 664.9h5.0M507.9 662.4v5.0M506.3 668.3h5.0M508.8 665.8v5.0M507.2 659.3h5.0M509.7 656.8v5.0M508.1 665.6h5.0M510.6 663.1v5.0M509.0 660.5h5.0M511.5 658.0v5.0M509.9 678.1h5.0M512.4 675.6v5.0M510.8 677.0h5.0M513.3 674.5v5.0M511.7 672.9h5.0M514.2 670.4v5.0M512.6 664.4h5.0M515.1 661.9v5.0M513.5 677.4h5.0M516.0 674.9v5.0M514.4 667.5h5.0M516.9 665.0v5.0M515.3 677.4h5.0M517.8 674.9v5.0M516.2 675.1h5.0M518.7 672.6v5.0M517.1 674.7h5.0M519.6 672.2v5.0M518.0 677.6h5.0M520.5 675.1v5.0M518.9 669.5h5.0M521.4 667.0v5.0M519.8 680.2h5.0M522.3 677.7v5.0M520.7 675.4h5.0M523.2 672.9v5.0M521.6 679.7h5.0M524.1 677.2v5.0M522.5 681.6h5.0M525.0 679.1v5.0M523.4 671.5h5.0M525.9 669.0v5.0M524.3 674.8h5.0M526.8 672.3v5.0M525.2 674.4h5.0M527.7 671.9v5.0M526.1 669.7h5.0M528.6 667.2v5.0M527.0 684.5h5.0M529.5 682.0v5.0M527.9 681.5h5.0M530.4 679.0v5.0M528.8 678.5h5.0M531.3 676.0v5.0M529.7 679.9h5.0M532.2 677.4v5.0M530.6 686.1h5.0M533.1 683.6v5.0M531.5 671.8h5.0M534.0 669.3v5.0M532.4 677.2h5.0M534.9 674.7v5.0M533.3 683.4h5.0M535.8 680.9v5.0M534.2 680.9h5.0M536.7 678.4v5.0M535.1 680.5h5.0M537.6 678.0v5.0M536.0 676.4h5.0M538.5 673.9v5.0M536.9 676.0h5.0M539.4 673.5v5.0M537.8 684.3h5.0M540.3 681.8v5.0M538.7 678.6h5.0M541.2 676.1v5.0M539.6 689.6h5.0M542.1 687.1v5.0M540.5 689.2h5.0M543.0 686.7v5.0M541.4 690.7h5.0M543.9 688.2v5.0M542.3 678.5h5.0M544.8 676.0v5.0M543.2 683.0h5.0M545.7 680.5v5.0M544.1 675.9h5.0M546.6 673.4v5.0M545.0 680.7h5.0M547.5 678.2v5.0M545.9 675.8h5.0M548.4 673.3v5.0M546.8 683.7h5.0M549.3 681.2v5.0M547.7 692.2h5.0M550.2 689.7v5.0M548.6 688.9h5.0M551.1 686.4v5.0M549.5 682.0h5.0M552.0 679.5v5.0M550.4 680.7h5.0M552.9 678.2v5.0M551.3 692.7h5.0M553.8 690.2v5.0M552.2 677.1h5.0M554.7 674.6v5.0M553.1 691.6h5.0M555.6 689.1v5.0M554.0 692.1h5.0M556.5 689.6v5.0M554.9 678.2h5.0M557.4 675.7v5.0M555.8 694.3h5.0M558.3 691.8v5.0M556.7 689.0h5.0M559.2 686.5v5.0M557.6 684.7h5.0M560.1 682.2v5.0M558.5 685.6h5.0M561.0 683.1v5.0M559.4 689.1h5.0M561.9 686.6v5.0M560.3 687.9h5.0M562.8 685.4v5.0M561.2 694.3h5.0M563.7 691.8v5.0M562.1 695.0h5.0M564.6 692.5v5.0M562.5 685.9h5.0M565.0 683.4v5.0M563.4 682.3h5.0M565.9 679.8v5.0M564.3 691.8h5.0M566.8 689.3v5.0M565.2 690.5h5.0M567.7 688.0v5.0M566.1 690.8h5.0M568.6 688.3v5.0M567.0 684.1h5.0M569.5 681.6v5.0M567.9 684.3h5.0M570.4 681.8v5.0M568.8 694.4h5.0M571.3 691.9v5.0M569.7 688.3h5.0M572.2 685.8v5.0M570.6 689.8h5.0M573.1 687.3v5.0M571.5 696.1h5.0M574.0 693.6v5.0M572.4 687.0h5.0M574.9 684.5v5.0M573.3 692.5h5.0M575.8 690.0v5.0M574.2 685.8h5.0M576.7 683.3v5.0M575.1 692.1h5.0M577.6 689.6v5.0M576.0 694.4h5.0M578.5 691.9v5.0M576.9 687.7h5.0M579.4 685.2v5.0M577.8 695.2h5.0M580.3 692.7v5.0M578.7 697.9h5.0M581.2 695.4v5.0M579.6 696.4h5.0M582.1 693.9v5.0M580.5 696.2h5.0M583.0 693.7v5.0M581.4 698.4h5.0M583.9 695.9v5.0M582.3 695.8h5.0M584.8 693.3v5.0M583.2 694.0h5.0M585.7 691.5v5.0M584.1 697.6h5.0M586.6 695.1v5.0M585.0 697.6h5.0M587.5 695.1v5.0M585.9 695.7h5.0M588.4 693.2v5.0M586.8 696.4h5.0M589.3 693.9v5.0M587.7 690.8h5.0M590.2 688.3v5.0M588.6 692.9h5.0M591.1 690.4v5.0M589.5 693.0h5.0M592.0 690.5v5.0M590.4 699.7h5.0M592.9 697.2v5.0M591.3 699.0h5.0M593.8 696.5v5.0M592.2 693.3h5.0M594.7 690.8v5.0M593.1 702.0h5.0M595.6 699.5v5.0M594.0 691.0h5.0M596.5 688.5v5.0M594.9 691.3h5.0M597.4 688.8v5.0M595.8 694.7h5.0M598.3 692.2v5.0M596.7 691.9h5.0M599.2 689.4v5.0M597.6 702.0h5.0M600.1 699.5v5.0M598.5 694.5h5.0M601.0 692.0v5.0M599.4 694.5h5.0M601.9 692.0v5.0M600.3 699.7h5.0M602.8 697.2v5.0M601.2 695.5h5.0M603.7 693.0v5.0M602.1 696.3h5.0M604.6 693.8v5.0M603.0 693.6h5.0M605.5 691.1v5.0M603.9 693.5h5.0M606.4 691.0v5.0M604.8 699.1h5.0M607.3 696.6v5.0M605.7 690.5h5.0M608.2 688.0v5.0M606.6 693.2h5.0M609.1 690.7v5.0M607.5 692.2h5.0M610.0 689.7v5.0M608.4 687.8h5.0M610.9 685.3v5.0M609.3 687.5h5.0M611.8 685.0v5.0M610.2 691.4h5.0M612.7 688.9v5.0M611.1 694.6h5.0M613.6 692.1v5.0M612.0 689.8h5.0M614.5 687.3v5.0M612.9 684.9h5.0M615.4 682.4v5.0M613.8 695.1h5.0M616.3 692.6v5.0M614.7 685.1h5.0M617.2 682.6v5.0M615.6 693.7h5.0M618.1 691.2v5.0M616.5 683.3h5.0M619.0 680.8v5.0M617.4 690.2h5.0M619.9 687.7v5.0M618.3 683.7h5.0M620.8 681.2v5.0M619.2 684.7h5.0M621.7 682.2v5.0M620.1 686.3h5.0M622.6 683.8v5.0M621.0 689.9h5.0M623.5 687.4v5.0M621.9 685.7h5.0M624.4 683.2v5.0M622.8 685.1h5.0M625.3 682.6v5.0M623.7 684.6h5.0M626.2 682.1v5.0M624.6 685.6h5.0M627.1 683.1v5.0M625.5 682.4h5.0M628.0 679.9v5.0M626.4 690.1h5.0M628.9 687.6v5.0M627.3 680.5h5.0M629.8 678.0v5.0M628.2 680.0h5.0M630.7 677.5v5.0M629.1 686.2h5.0M631.6 683.7v5.0M630.0 685.0h5.0M632.5 682.5v5.0M630.9 690.7h5.0M633.4 688.2v5.0M631.8 683.7h5.0M634.3 681.2v5.0M632.7 692.6h5.0M635.2 690.1v5.0M633.6 690.0h5.0M636.1 687.5v5.0M634.5 698.0h5.0M637.0 695.5v5.0M635.4 691.7h5.0M637.9 689.2v5.0M507.7 708.2h5.0M510.2 705.7v5.0M426.8 669.8h5.0M429.3 667.3v5.0" fill="none" stroke="#A8BEE0" stroke-width="1.4"/><path d="M415.6 620.8h4.1v4.1h-4.1ZM423.9 607.0h4.1v4.1h-4.1ZM428.6 613.8h4.1v4.1h-4.1ZM437.7 605.2h4.1v4.1h-4.1ZM441.1 616.9h4.1v4.1h-4.1ZM444.3 589.5h4.1v4.1h-4.1ZM447.4 593.4h4.1v4.1h-4.1ZM450.8 620.8h4.1v4.1h-4.1ZM454.2 585.1h4.1v4.1h-4.1ZM457.8 565.3h4.1v4.1h-4.1ZM461.2 582.5h4.1v4.1h-4.1ZM464.6 580.9h4.1v4.1h-4.1ZM467.7 586.1h4.1v4.1h-4.1ZM470.9 590.8h4.1v4.1h-4.1ZM474.3 593.4h4.1v4.1h-4.1ZM477.7 546.5h4.1v4.1h-4.1ZM481.3 581.7h4.1v4.1h-4.1ZM483.9 566.0h4.1v4.1h-4.1ZM487.3 605.2h4.1v4.1h-4.1ZM490.7 585.1h4.1v4.1h-4.1ZM493.8 590.3h4.1v4.1h-4.1ZM497.0 589.5h4.1v4.1h-4.1ZM501.1 526.1h4.1v4.1h-4.1ZM504.8 559.0h4.1v4.1h-4.1ZM508.2 570.0h4.1v4.1h-4.1ZM511.6 566.0h4.1v4.1h-4.1ZM515.2 571.3h4.1v4.1h-4.1ZM518.6 566.8h4.1v4.1h-4.1ZM522.0 565.3h4.1v4.1h-4.1ZM525.1 596.0h4.1v4.1h-4.1ZM528.3 602.6h4.1v4.1h-4.1ZM531.7 600.0h4.1v4.1h-4.1ZM535.0 600.0h4.1v4.1h-4.1ZM537.7 560.8h4.1v4.1h-4.1ZM541.3 573.9h4.1v4.1h-4.1ZM544.7 525.1h4.1v4.1h-4.1ZM548.1 549.1h4.1v4.1h-4.1ZM551.2 536.0h4.1v4.1h-4.1ZM556.4 547.8h4.1v4.1h-4.1ZM561.1 526.9h4.1v4.1h-4.1ZM558.0 547.7h4.1v4.1h-4.1ZM561.1 526.9h4.1v4.1h-4.1ZM567.9 520.4h4.1v4.1h-4.1ZM574.1 527.7h4.1v4.1h-4.1ZM580.9 545.9h4.1v4.1h-4.1ZM577.5 555.6h4.1v4.1h-4.1ZM585.3 582.4h4.1v4.1h-4.1ZM587.9 568.6h4.1v4.1h-4.1ZM591.3 567.3h4.1v4.1h-4.1ZM594.4 583.5h4.1v4.1h-4.1ZM598.4 563.4h4.1v4.1h-4.1ZM601.7 576.4h4.1v4.1h-4.1ZM604.9 570.4h4.1v4.1h-4.1ZM608.0 577.2h4.1v4.1h-4.1ZM611.4 596.5h4.1v4.1h-4.1ZM614.8 593.4h4.1v4.1h-4.1ZM617.9 564.2h4.1v4.1h-4.1ZM621.0 583.5h4.1v4.1h-4.1ZM624.4 573.8h4.1v4.1h-4.1ZM627.8 577.7h4.1v4.1h-4.1ZM631.5 594.7h4.1v4.1h-4.1ZM634.9 585.0h4.1v4.1h-4.1ZM638.2 588.7h4.1v4.1h-4.1ZM641.9 586.9h4.1v4.1h-4.1ZM645.3 599.9h4.1v4.1h-4.1ZM647.9 589.5h4.1v4.1h-4.1ZM651.3 579.0h4.1v4.1h-4.1ZM654.9 608.5h4.1v4.1h-4.1ZM657.5 585.5h4.1v4.1h-4.1ZM660.9 606.4h4.1v4.1h-4.1ZM664.3 599.9h4.1v4.1h-4.1ZM667.4 575.6h4.1v4.1h-4.1ZM671.3 580.3h4.1v4.1h-4.1ZM674.7 577.2h4.1v4.1h-4.1ZM677.9 576.4h4.1v4.1h-4.1ZM681.0 586.1h4.1v4.1h-4.1ZM685.2 587.6h4.1v4.1h-4.1ZM688.3 598.1h4.1v4.1h-4.1ZM691.4 605.1h4.1v4.1h-4.1ZM694.0 612.9h4.1v4.1h-4.1ZM697.9 624.7h4.1v4.1h-4.1ZM700.8 609.5h4.1v4.1h-4.1ZM704.5 600.7h4.1v4.1h-4.1Z" fill="#145224"/></g><rect x="102" y="85.5" width="293" height="193.5" fill="none" stroke="#000" stroke-width="2"/><rect x="417" y="85.5" width="293" height="193.5" fill="none" stroke="#000" stroke-width="2"/><rect x="102" y="300" width="293" height="193" fill="none" stroke="#000" stroke-width="2"/><rect x="417" y="300" width="293" height="193" fill="none" stroke="#000" stroke-width="2"/><rect x="102" y="515" width="293" height="194" fill="none" stroke="#000" stroke-width="2"/><rect x="417" y="515" width="293" height="194" fill="none" stroke="#000" stroke-width="2"/><path d="M168.6 85.5v6M168.6 279v-6M235.2 85.5v6M235.2 279v-6M301.8 85.5v6M301.8 279v-6M368.4 85.5v6M368.4 279v-6M483.6 85.5v6M483.6 279v-6M550.2 85.5v6M550.2 279v-6M616.8 85.5v6M616.8 279v-6M683.4 85.5v6M683.4 279v-6M168.6 300v6M168.6 493v-6M235.2 300v6M235.2 493v-6M301.8 300v6M301.8 493v-6M368.4 300v6M368.4 493v-6M483.6 300v6M483.6 493v-6M550.2 300v6M550.2 493v-6M616.8 300v6M616.8 493v-6M683.4 300v6M683.4 493v-6M168.6 515v6M168.6 709v-6M235.2 515v6M235.2 709v-6M301.8 515v6M301.8 709v-6M368.4 515v6M368.4 709v-6M483.6 515v6M483.6 709v-6M550.2 515v6M550.2 709v-6M616.8 515v6M616.8 709v-6M683.4 515v6M683.4 709v-6M102 158.1h6M395 158.1h-6M417 158.1h6M710 158.1h-6M102 230.6h6M395 230.6h-6M417 230.6h6M710 230.6h-6M102 338.5h6M395 338.5h-6M417 338.5h6M710 338.5h-6M102 389.8h6M395 389.8h-6M417 389.8h6M710 389.8h-6M102 441.2h6M395 441.2h-6M417 441.2h6M710 441.2h-6M102 534.4h6M395 534.4h-6M417 534.4h6M710 534.4h-6M102 582.9h6M395 582.9h-6M417 582.9h6M710 582.9h-6M102 631.4h6M395 631.4h-6M417 631.4h6M710 631.4h-6M102 679.9h6M395 679.9h-6M417 679.9h6M710 679.9h-6" stroke="#000" stroke-width="2" fill="none"/></svg><svg width="725" height="767" viewBox="0 0 725 767" style="position:absolute;left:0;top:0;will-change:transform"><text transform="translate(91 92.5) scale(1 1.04)" font-family="Liberation Sans, sans-serif" font-size="20.7" font-weight="normal" text-anchor="end" stroke="#000" stroke-width="0.22" >170</text><text transform="translate(91 165.1) scale(1 1.04)" font-family="Liberation Sans, sans-serif" font-size="20.7" font-weight="normal" text-anchor="end" stroke="#000" stroke-width="0.22" >155</text><text transform="translate(91 237.6) scale(1 1.04)" font-family="Liberation Sans, sans-serif" font-size="20.7" font-weight="normal" text-anchor="end" stroke="#000" stroke-width="0.22" >140</text><text transform="translate(91 345.5) scale(1 1.04)" font-family="Liberation Sans, sans-serif" font-size="20.7" font-weight="normal" text-anchor="end" stroke="#000" stroke-width="0.22" >1.02</text><text transform="translate(91 396.8) scale(1 1.04)" font-family="Liberation Sans, sans-serif" font-size="20.7" font-weight="normal" text-anchor="end" stroke="#000" stroke-width="0.22" >0.98</text><text transform="translate(91 448.2) scale(1 1.04)" font-family="Liberation Sans, sans-serif" font-size="20.7" font-weight="normal" text-anchor="end" stroke="#000" stroke-width="0.22" >0.94</text><text transform="translate(91 499.5) scale(1 1.04)" font-family="Liberation Sans, sans-serif" font-size="20.7" font-weight="normal" text-anchor="end" stroke="#000" stroke-width="0.22" >0.9</text><text transform="translate(91 541.4) scale(1 1.04)" font-family="Liberation Sans, sans-serif" font-size="20.7" font-weight="normal" text-anchor="end" stroke="#000" stroke-width="0.22" >1.16</text><text transform="translate(91 589.9) scale(1 1.04)" font-family="Liberation Sans, sans-serif" font-size="20.7" font-weight="normal" text-anchor="end" stroke="#000" stroke-width="0.22" >1.06</text><text transform="translate(91 638.4) scale(1 1.04)" font-family="Liberation Sans, sans-serif" font-size="20.7" font-weight="normal" text-anchor="end" stroke="#000" stroke-width="0.22" >0.96</text><text transform="translate(91 686.9) scale(1 1.04)" font-family="Liberation Sans, sans-serif" font-size="20.7" font-weight="normal" text-anchor="end" stroke="#000" stroke-width="0.22" >0.86</text><text transform="translate(248.5 57.5) scale(1 1.04)" font-family="Liberation Sans, sans-serif" font-size="20.7" font-weight="normal" text-anchor="middle" stroke="#000" stroke-width="0.22" >2VC1DTD</text><text transform="translate(248.5 79) scale(1 1.04)" font-family="Liberation Sans, sans-serif" font-size="20.7" font-weight="normal" text-anchor="middle" stroke="#000" stroke-width="0.22" >3.0-4.06 V; C/3:C/3; RT</text><text transform="translate(563.5 57.5) scale(1 1.04)" font-family="Liberation Sans, sans-serif" font-size="20.7" font-weight="normal" text-anchor="middle" stroke="#000" stroke-width="0.22" >2FEC1LFO</text><text transform="translate(563.5 79) scale(1 1.04)" font-family="Liberation Sans, sans-serif" font-size="20.7" font-weight="normal" text-anchor="middle" stroke="#000" stroke-width="0.22" >3.0-4.06 V; C/3:C/3; RT</text><text transform="translate(101.0 738.5) scale(1 1.04)" font-family="Liberation Sans, sans-serif" font-size="20.7" font-weight="normal" text-anchor="middle" stroke="#000" stroke-width="0.22" >0</text><text transform="translate(168.6 738.5) scale(1 1.04)" font-family="Liberation Sans, sans-serif" font-size="20.7" font-weight="normal" text-anchor="middle" stroke="#000" stroke-width="0.22" >500</text><text transform="translate(235.2 738.5) scale(1 1.04)" font-family="Liberation Sans, sans-serif" font-size="20.7" font-weight="normal" text-anchor="middle" stroke="#000" stroke-width="0.22" >1000</text><text transform="translate(301.8 738.5) scale(1 1.04)" font-family="Liberation Sans, sans-serif" font-size="20.7" font-weight="normal" text-anchor="middle" stroke="#000" stroke-width="0.22" >1500</text><text transform="translate(366.1 738.5) scale(1 1.04)" font-family="Liberation Sans, sans-serif" font-size="20.7" font-weight="normal" text-anchor="middle" stroke="#000" stroke-width="0.22" >2000</text><text transform="translate(245.0 762) scale(1 1.04)" font-family="Liberation Sans, sans-serif" font-size="20.7" font-weight="normal" text-anchor="middle" stroke="#000" stroke-width="0.22" >Cycle</text><text transform="translate(416.0 738.5) scale(1 1.04)" font-family="Liberation Sans, sans-serif" font-size="20.7" font-weight="normal" text-anchor="middle" stroke="#000" stroke-width="0.22" >0</text><text transform="translate(482.6 738.5) scale(1 1.04)" font-family="Liberation Sans, sans-serif" font-size="20.7" font-weight="normal" text-anchor="middle" stroke="#000" stroke-width="0.22" >500</text><text transform="translate(549.2 738.5) scale(1 1.04)" font-family="Liberation Sans, sans-serif" font-size="20.7" font-weight="normal" text-anchor="middle" stroke="#000" stroke-width="0.22" >1000</text><text transform="translate(616.8 738.5) scale(1 1.04)" font-family="Liberation Sans, sans-serif" font-size="20.7" font-weight="normal" text-anchor="middle" stroke="#000" stroke-width="0.22" >1500</text><text transform="translate(680.6 738.5) scale(1 1.04)" font-family="Liberation Sans, sans-serif" font-size="20.7" font-weight="normal" text-anchor="middle" stroke="#000" stroke-width="0.22" >2000</text><text transform="translate(560.0 762) scale(1 1.04)" font-family="Liberation Sans, sans-serif" font-size="20.7" font-weight="normal" text-anchor="middle" stroke="#000" stroke-width="0.22" >Cycle</text><text transform="translate(373 114) scale(1 1.0)" font-family="Liberation Sans, sans-serif" font-size="20" font-weight="bold" text-anchor="end" stroke="#000" stroke-width="0" >a</text><text transform="translate(691 115.5) scale(1 1.0)" font-family="Liberation Sans, sans-serif" font-size="20" font-weight="bold" text-anchor="end" stroke="#000" stroke-width="0" >b</text><text transform="translate(373.8 325) scale(1 1.0)" font-family="Liberation Sans, sans-serif" font-size="20" font-weight="bold" text-anchor="end" stroke="#000" stroke-width="0" >c</text><text transform="translate(691.1 326.8) scale(1 1.0)" font-family="Liberation Sans, sans-serif" font-size="20" font-weight="bold" text-anchor="end" stroke="#000" stroke-width="0" >d</text><text transform="translate(373 544) scale(1 1.0)" font-family="Liberation Sans, sans-serif" font-size="20" font-weight="bold" text-anchor="end" stroke="#000" stroke-width="0" >e</text><text transform="translate(684.8 546) scale(1 1.0)" font-family="Liberation Sans, sans-serif" font-size="20" font-weight="bold" text-anchor="end" stroke="#000" stroke-width="0" >f</text><text transform="translate(48,183) rotate(-90) scale(1 1.04)" font-family="Liberation Sans, sans-serif" font-size="20.7" text-anchor="middle" stroke="#000" stroke-width="0.22">Disch. Capacity (mAh)</text><text transform="translate(18,400) rotate(-90) scale(1 1.04)" font-family="Liberation Sans, sans-serif" font-size="20.7" text-anchor="middle" stroke="#000" stroke-width="0.22">Normalized</text><text transform="translate(42,396) rotate(-90) scale(1 1.04)" font-family="Liberation Sans, sans-serif" font-size="20.7" text-anchor="middle" stroke="#000" stroke-width="0.22">Disch. Capacity</text><text transform="translate(42,613) rotate(-90) scale(1 1.04)" font-family="Liberation Sans, sans-serif" font-size="20.7" text-anchor="middle" stroke="#000" stroke-width="0.22">Normalized ΔV</text><path d="M82.7 12.9L92.0 22.2L82.7 31.5L73.4 22.2Z" fill="#FEC04E"/><path d="M179.8 13.8L189.2 30.3L170.4 30.3Z" fill="#EA7118"/><circle cx="277.2" cy="22" r="9.7" fill="#9B3503"/><rect x="366" y="13.2" width="18.8" height="18.5" fill="#145224"/><path d="M541.3 14.6l16.2 16.2m0 -16.2l-16.2 16.2" stroke="#0E72B8" stroke-width="4.2" fill="none"/><path d="M636 22h18.8M645.4 12.6v18.8" stroke="#A8BEE0" stroke-width="4.6" fill="none"/><text transform="translate(105.7 28.8) scale(1 1.04)" font-family="Liberation Sans, sans-serif" font-size="20.7" font-weight="normal" text-anchor="start" stroke="#000" stroke-width="0.22" >NGA</text><text transform="translate(202.6 28.8) scale(1 1.04)" font-family="Liberation Sans, sans-serif" font-size="20.7" font-weight="normal" text-anchor="start" stroke="#000" stroke-width="0.22" >NGB</text><text transform="translate(299.7 28.8) scale(1 1.04)" font-family="Liberation Sans, sans-serif" font-size="20.7" font-weight="normal" text-anchor="start" stroke="#000" stroke-width="0.22" >NGC</text><text transform="translate(398.8 28.8) scale(1 1.04)" font-family="Liberation Sans, sans-serif" font-size="20.7" font-weight="normal" text-anchor="start" stroke="#000" stroke-width="0.22" >AGA (1C:1C)</text><text transform="translate(572.5 28.8) scale(1 1.04)" font-family="Liberation Sans, sans-serif" font-size="20.7" font-weight="normal" text-anchor="start" stroke="#000" stroke-width="0.22" >AGB</text><text transform="translate(668.6 28.8) scale(1 1.04)" font-family="Liberation Sans, sans-serif" font-size="20.7" font-weight="normal" text-anchor="start" stroke="#000" stroke-width="0.22" >AGC</text></svg></body></html>
